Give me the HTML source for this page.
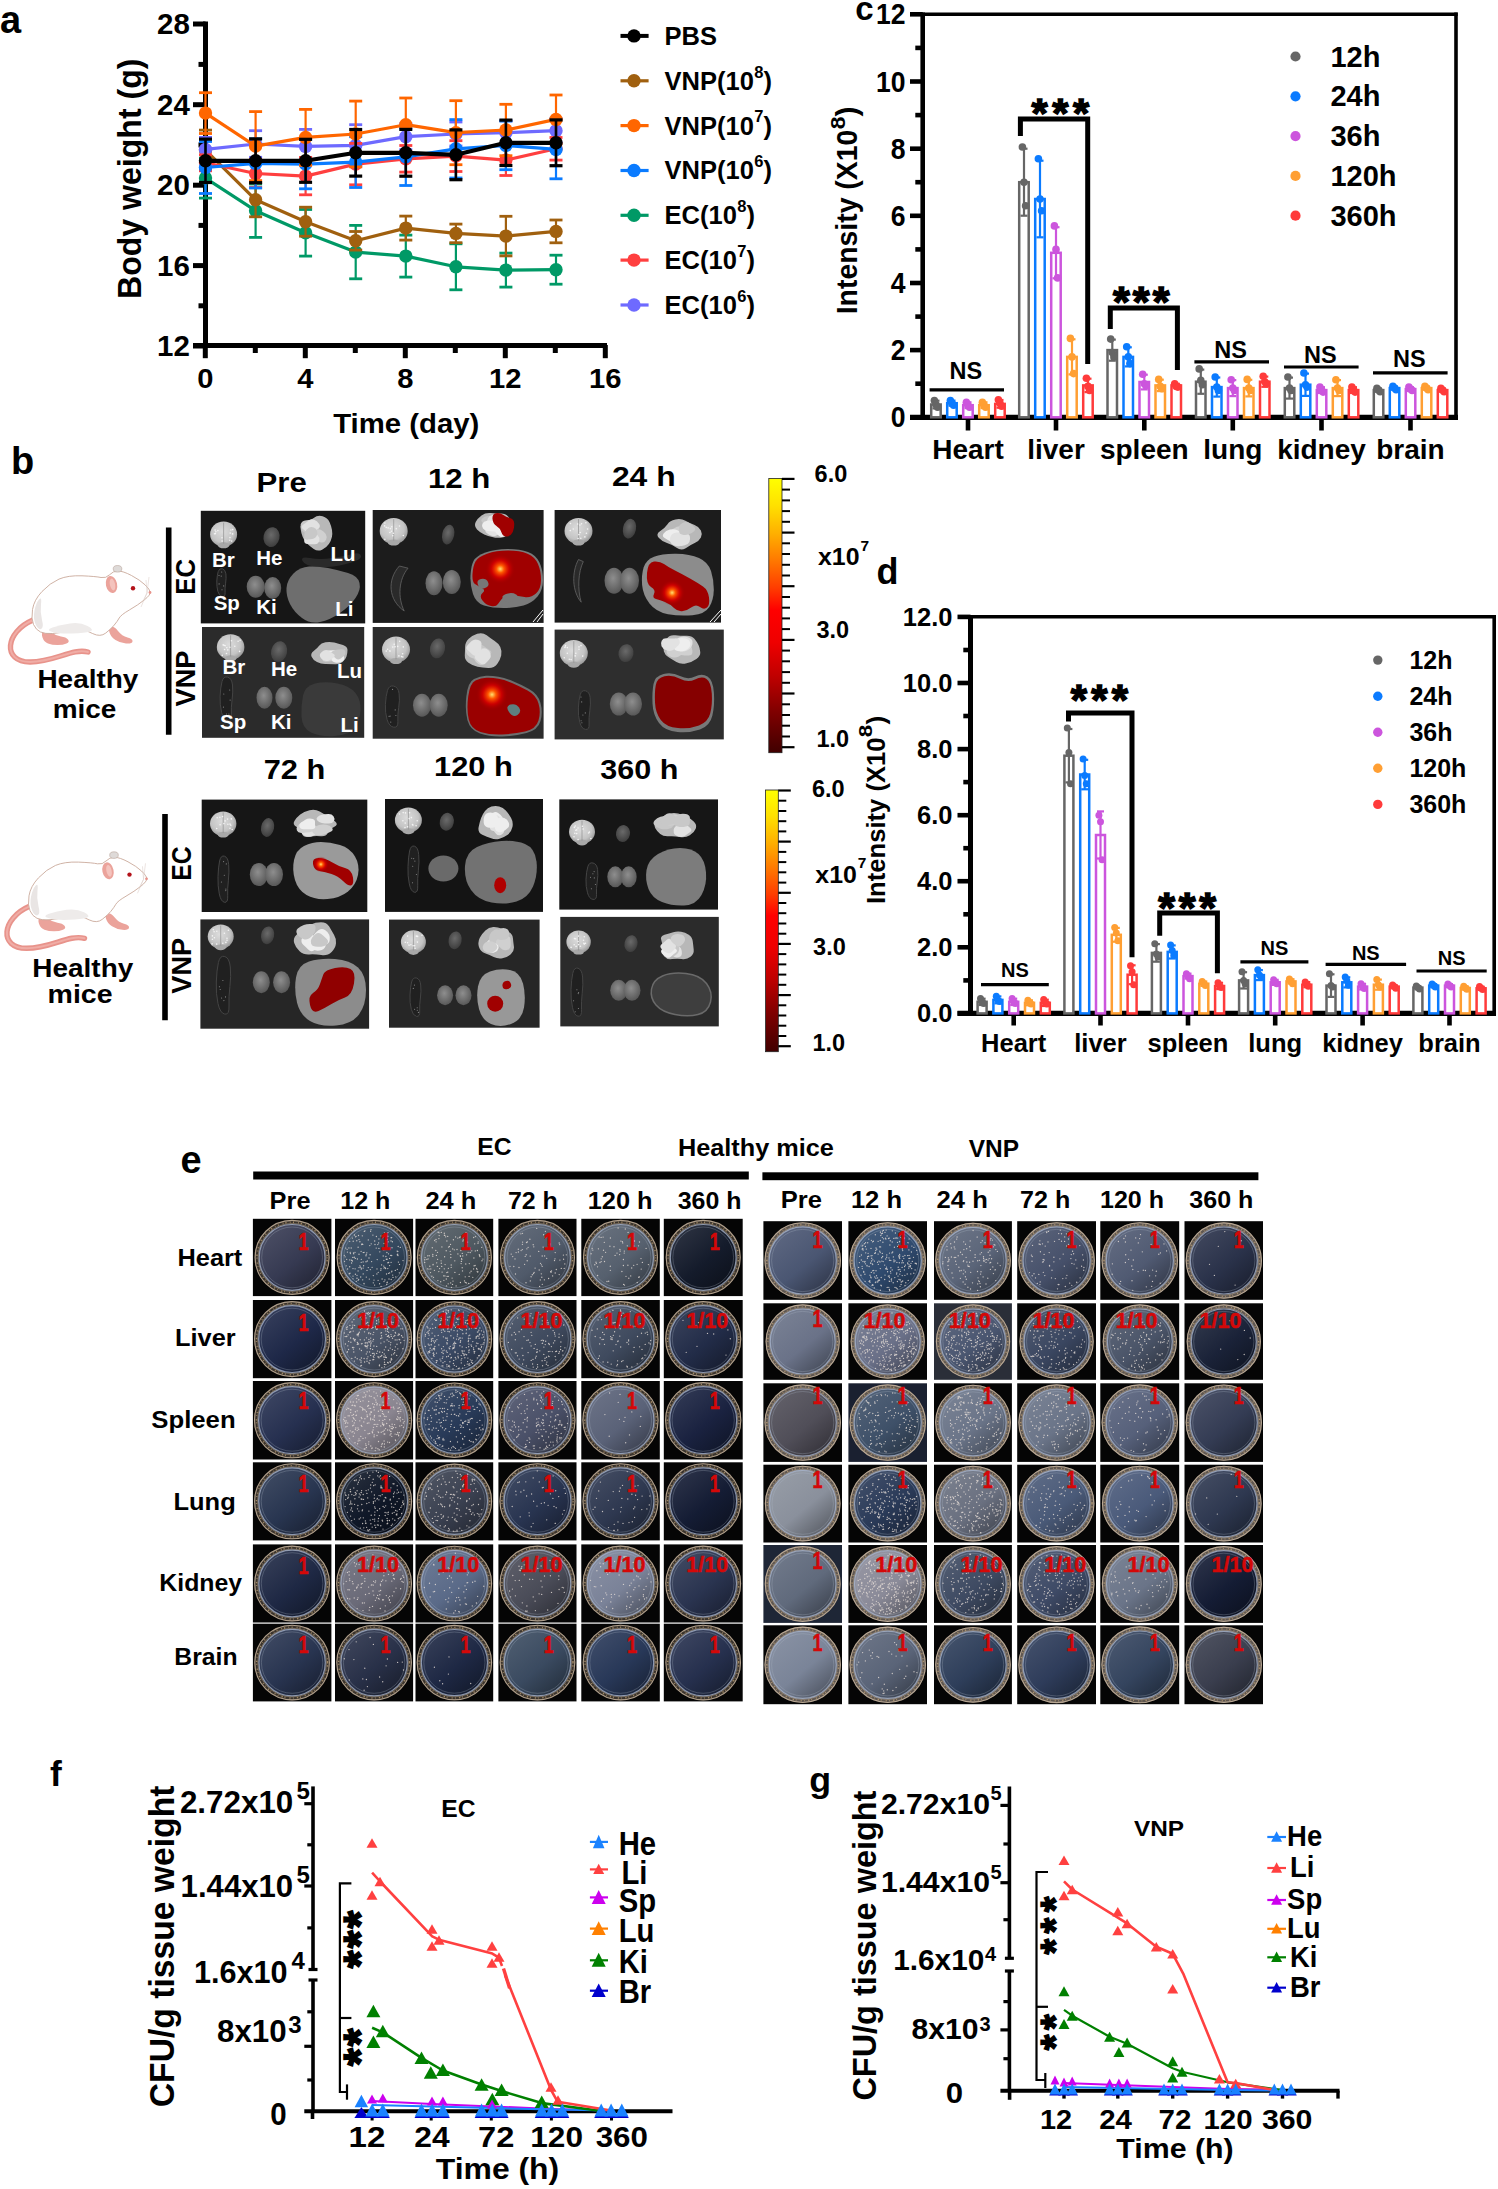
<!DOCTYPE html>
<html><head><meta charset="utf-8"><title>Figure</title>
<style>
html,body{margin:0;padding:0;background:#fff;}
svg{display:block;}
text{font-family:"Liberation Sans",sans-serif;font-weight:bold;}
</style></head><body>
<svg width="1498" height="2189" viewBox="0 0 1498 2189">
<defs>
<linearGradient id="cbar" x1="0" y1="0" x2="0" y2="1">
<stop offset="0" stop-color="#FFFF00"/><stop offset="0.1" stop-color="#FFE000"/><stop offset="0.2" stop-color="#FFB000"/>
<stop offset="0.3" stop-color="#FF7800"/><stop offset="0.4" stop-color="#FF3C00"/><stop offset="0.48" stop-color="#FF0000"/>
<stop offset="0.6" stop-color="#EE0000"/><stop offset="0.72" stop-color="#C00000"/><stop offset="0.85" stop-color="#800000"/><stop offset="1" stop-color="#400000"/>
</linearGradient>
<radialGradient id="hot"><stop offset="0" stop-color="#FFE070"/><stop offset="0.25" stop-color="#FF5A00"/><stop offset="0.6" stop-color="#E00000" stop-opacity="0.7"/><stop offset="1" stop-color="#A00000" stop-opacity="0"/></radialGradient>
<radialGradient id="gbrain" cx="0.45" cy="0.4" r="0.6"><stop offset="0" stop-color="#DCDCDC"/><stop offset="0.7" stop-color="#C4C4C4"/><stop offset="1" stop-color="#9A9A9A"/></radialGradient>
<radialGradient id="gkid" cx="0.45" cy="0.4" r="0.6"><stop offset="0" stop-color="#8E8E8E"/><stop offset="1" stop-color="#585858"/></radialGradient>
<radialGradient id="gheart" cx="0.45" cy="0.4" r="0.6"><stop offset="0" stop-color="#6A6A6A"/><stop offset="1" stop-color="#3E3E3E"/></radialGradient>
</defs>
<rect width="1498" height="2189" fill="#fff"/>
<text x="0.0" y="33.3" font-size="38" fill="#000">a</text>
<line x1="205.5" y1="21.5" x2="205.5" y2="348.0" stroke="#000" stroke-width="5" stroke-linecap="butt"/>
<line x1="193.0" y1="24.0" x2="205.5" y2="24.0" stroke="#000" stroke-width="5" stroke-linecap="butt"/>
<text x="189.8" y="34.2" font-size="29.5" fill="#000" text-anchor="end">28</text>
<line x1="193.0" y1="104.7" x2="205.5" y2="104.7" stroke="#000" stroke-width="5" stroke-linecap="butt"/>
<text x="189.8" y="114.9" font-size="29.5" fill="#000" text-anchor="end">24</text>
<line x1="193.0" y1="185.2" x2="205.5" y2="185.2" stroke="#000" stroke-width="5" stroke-linecap="butt"/>
<text x="189.8" y="195.4" font-size="29.5" fill="#000" text-anchor="end">20</text>
<line x1="193.0" y1="265.6" x2="205.5" y2="265.6" stroke="#000" stroke-width="5" stroke-linecap="butt"/>
<text x="189.8" y="275.8" font-size="29.5" fill="#000" text-anchor="end">16</text>
<line x1="193.0" y1="346.0" x2="205.5" y2="346.0" stroke="#000" stroke-width="5" stroke-linecap="butt"/>
<text x="189.8" y="356.2" font-size="29.5" fill="#000" text-anchor="end">12</text>
<line x1="198.5" y1="64.4" x2="205.5" y2="64.4" stroke="#000" stroke-width="5" stroke-linecap="butt"/>
<line x1="198.5" y1="144.9" x2="205.5" y2="144.9" stroke="#000" stroke-width="5" stroke-linecap="butt"/>
<line x1="198.5" y1="225.4" x2="205.5" y2="225.4" stroke="#000" stroke-width="5" stroke-linecap="butt"/>
<line x1="198.5" y1="305.8" x2="205.5" y2="305.8" stroke="#000" stroke-width="5" stroke-linecap="butt"/>
<line x1="193.0" y1="345.6" x2="607.0" y2="345.6" stroke="#000" stroke-width="5" stroke-linecap="butt"/>
<line x1="205.3" y1="345.0" x2="205.3" y2="358.2" stroke="#000" stroke-width="5" stroke-linecap="butt"/>
<text x="205.3" y="388.3" font-size="26.8" fill="#000" text-anchor="middle" textLength="16.2" lengthAdjust="spacingAndGlyphs">0</text>
<line x1="305.3" y1="345.0" x2="305.3" y2="358.2" stroke="#000" stroke-width="5" stroke-linecap="butt"/>
<text x="305.3" y="388.3" font-size="26.8" fill="#000" text-anchor="middle" textLength="16.2" lengthAdjust="spacingAndGlyphs">4</text>
<line x1="405.3" y1="345.0" x2="405.3" y2="358.2" stroke="#000" stroke-width="5" stroke-linecap="butt"/>
<text x="405.3" y="388.3" font-size="26.8" fill="#000" text-anchor="middle" textLength="16.2" lengthAdjust="spacingAndGlyphs">8</text>
<line x1="505.3" y1="345.0" x2="505.3" y2="358.2" stroke="#000" stroke-width="5" stroke-linecap="butt"/>
<text x="505.3" y="388.3" font-size="26.8" fill="#000" text-anchor="middle" textLength="32.5" lengthAdjust="spacingAndGlyphs">12</text>
<line x1="605.3" y1="345.0" x2="605.3" y2="358.2" stroke="#000" stroke-width="5" stroke-linecap="butt"/>
<text x="605.3" y="388.3" font-size="26.8" fill="#000" text-anchor="middle" textLength="32.5" lengthAdjust="spacingAndGlyphs">16</text>
<line x1="255.3" y1="345.0" x2="255.3" y2="353.0" stroke="#000" stroke-width="5" stroke-linecap="butt"/>
<line x1="355.3" y1="345.0" x2="355.3" y2="353.0" stroke="#000" stroke-width="5" stroke-linecap="butt"/>
<line x1="455.3" y1="345.0" x2="455.3" y2="353.0" stroke="#000" stroke-width="5" stroke-linecap="butt"/>
<line x1="555.3" y1="345.0" x2="555.3" y2="353.0" stroke="#000" stroke-width="5" stroke-linecap="butt"/>
<text x="333.2" y="433.0" font-size="28.3" fill="#000" textLength="146.1" lengthAdjust="spacingAndGlyphs">Time (day)</text>
<text transform="translate(141.0,299.0) rotate(-90)" x="0" y="0" font-size="34" fill="#000" textLength="240.5" lengthAdjust="spacingAndGlyphs">Body weight (g)</text>
<line x1="205.5" y1="158.1" x2="205.5" y2="198.1" stroke="#009966" stroke-width="2.2" stroke-linecap="butt"/>
<line x1="199.0" y1="158.1" x2="212.0" y2="158.1" stroke="#009966" stroke-width="2.8000000000000003" stroke-linecap="butt"/>
<line x1="199.0" y1="198.1" x2="212.0" y2="198.1" stroke="#009966" stroke-width="2.8000000000000003" stroke-linecap="butt"/>
<line x1="255.6" y1="184.0" x2="255.6" y2="237.4" stroke="#009966" stroke-width="2.2" stroke-linecap="butt"/>
<line x1="249.1" y1="184.0" x2="262.1" y2="184.0" stroke="#009966" stroke-width="2.8000000000000003" stroke-linecap="butt"/>
<line x1="249.1" y1="237.4" x2="262.1" y2="237.4" stroke="#009966" stroke-width="2.8000000000000003" stroke-linecap="butt"/>
<line x1="305.6" y1="209.5" x2="305.6" y2="256.1" stroke="#009966" stroke-width="2.2" stroke-linecap="butt"/>
<line x1="299.1" y1="209.5" x2="312.1" y2="209.5" stroke="#009966" stroke-width="2.8000000000000003" stroke-linecap="butt"/>
<line x1="299.1" y1="256.1" x2="312.1" y2="256.1" stroke="#009966" stroke-width="2.8000000000000003" stroke-linecap="butt"/>
<line x1="355.7" y1="225.4" x2="355.7" y2="278.8" stroke="#009966" stroke-width="2.2" stroke-linecap="butt"/>
<line x1="349.2" y1="225.4" x2="362.2" y2="225.4" stroke="#009966" stroke-width="2.8000000000000003" stroke-linecap="butt"/>
<line x1="349.2" y1="278.8" x2="362.2" y2="278.8" stroke="#009966" stroke-width="2.8000000000000003" stroke-linecap="butt"/>
<line x1="405.8" y1="235.1" x2="405.8" y2="277.1" stroke="#009966" stroke-width="2.2" stroke-linecap="butt"/>
<line x1="399.3" y1="235.1" x2="412.3" y2="235.1" stroke="#009966" stroke-width="2.8000000000000003" stroke-linecap="butt"/>
<line x1="399.3" y1="277.1" x2="412.3" y2="277.1" stroke="#009966" stroke-width="2.8000000000000003" stroke-linecap="butt"/>
<line x1="455.9" y1="243.8" x2="455.9" y2="289.8" stroke="#009966" stroke-width="2.2" stroke-linecap="butt"/>
<line x1="449.4" y1="243.8" x2="462.4" y2="243.8" stroke="#009966" stroke-width="2.8000000000000003" stroke-linecap="butt"/>
<line x1="449.4" y1="289.8" x2="462.4" y2="289.8" stroke="#009966" stroke-width="2.8000000000000003" stroke-linecap="butt"/>
<line x1="505.9" y1="253.1" x2="505.9" y2="287.1" stroke="#009966" stroke-width="2.2" stroke-linecap="butt"/>
<line x1="499.4" y1="253.1" x2="512.4" y2="253.1" stroke="#009966" stroke-width="2.8000000000000003" stroke-linecap="butt"/>
<line x1="499.4" y1="287.1" x2="512.4" y2="287.1" stroke="#009966" stroke-width="2.8000000000000003" stroke-linecap="butt"/>
<line x1="556.0" y1="255.2" x2="556.0" y2="284.2" stroke="#009966" stroke-width="2.2" stroke-linecap="butt"/>
<line x1="549.5" y1="255.2" x2="562.5" y2="255.2" stroke="#009966" stroke-width="2.8000000000000003" stroke-linecap="butt"/>
<line x1="549.5" y1="284.2" x2="562.5" y2="284.2" stroke="#009966" stroke-width="2.8000000000000003" stroke-linecap="butt"/>
<polyline points="205.5,178.1 255.6,210.7 305.6,232.8 355.7,252.1 405.8,256.1 455.9,266.8 505.9,270.1 556.0,269.7" fill="none" stroke="#009966" stroke-width="3.2" stroke-linejoin="round"/>
<circle cx="205.5" cy="178.1" r="6.7" fill="#009966" stroke="none" stroke-width="0"/>
<circle cx="255.6" cy="210.7" r="6.7" fill="#009966" stroke="none" stroke-width="0"/>
<circle cx="305.6" cy="232.8" r="6.7" fill="#009966" stroke="none" stroke-width="0"/>
<circle cx="355.7" cy="252.1" r="6.7" fill="#009966" stroke="none" stroke-width="0"/>
<circle cx="405.8" cy="256.1" r="6.7" fill="#009966" stroke="none" stroke-width="0"/>
<circle cx="455.9" cy="266.8" r="6.7" fill="#009966" stroke="none" stroke-width="0"/>
<circle cx="505.9" cy="270.1" r="6.7" fill="#009966" stroke="none" stroke-width="0"/>
<circle cx="556.0" cy="269.7" r="6.7" fill="#009966" stroke="none" stroke-width="0"/>
<line x1="205.5" y1="130.1" x2="205.5" y2="170.1" stroke="#A0600F" stroke-width="2.2" stroke-linecap="butt"/>
<line x1="199.0" y1="130.1" x2="212.0" y2="130.1" stroke="#A0600F" stroke-width="2.8000000000000003" stroke-linecap="butt"/>
<line x1="199.0" y1="170.1" x2="212.0" y2="170.1" stroke="#A0600F" stroke-width="2.8000000000000003" stroke-linecap="butt"/>
<line x1="255.6" y1="182.8" x2="255.6" y2="216.8" stroke="#A0600F" stroke-width="2.2" stroke-linecap="butt"/>
<line x1="249.1" y1="182.8" x2="262.1" y2="182.8" stroke="#A0600F" stroke-width="2.8000000000000003" stroke-linecap="butt"/>
<line x1="249.1" y1="216.8" x2="262.1" y2="216.8" stroke="#A0600F" stroke-width="2.8000000000000003" stroke-linecap="butt"/>
<line x1="305.6" y1="207.2" x2="305.6" y2="236.2" stroke="#A0600F" stroke-width="2.2" stroke-linecap="butt"/>
<line x1="299.1" y1="207.2" x2="312.1" y2="207.2" stroke="#A0600F" stroke-width="2.8000000000000003" stroke-linecap="butt"/>
<line x1="299.1" y1="236.2" x2="312.1" y2="236.2" stroke="#A0600F" stroke-width="2.8000000000000003" stroke-linecap="butt"/>
<line x1="355.7" y1="231.5" x2="355.7" y2="250.1" stroke="#A0600F" stroke-width="2.2" stroke-linecap="butt"/>
<line x1="349.2" y1="231.5" x2="362.2" y2="231.5" stroke="#A0600F" stroke-width="2.8000000000000003" stroke-linecap="butt"/>
<line x1="349.2" y1="250.1" x2="362.2" y2="250.1" stroke="#A0600F" stroke-width="2.8000000000000003" stroke-linecap="butt"/>
<line x1="405.8" y1="216.1" x2="405.8" y2="240.1" stroke="#A0600F" stroke-width="2.2" stroke-linecap="butt"/>
<line x1="399.3" y1="216.1" x2="412.3" y2="216.1" stroke="#A0600F" stroke-width="2.8000000000000003" stroke-linecap="butt"/>
<line x1="399.3" y1="240.1" x2="412.3" y2="240.1" stroke="#A0600F" stroke-width="2.8000000000000003" stroke-linecap="butt"/>
<line x1="455.9" y1="224.1" x2="455.9" y2="242.7" stroke="#A0600F" stroke-width="2.2" stroke-linecap="butt"/>
<line x1="449.4" y1="224.1" x2="462.4" y2="224.1" stroke="#A0600F" stroke-width="2.8000000000000003" stroke-linecap="butt"/>
<line x1="449.4" y1="242.7" x2="462.4" y2="242.7" stroke="#A0600F" stroke-width="2.8000000000000003" stroke-linecap="butt"/>
<line x1="505.9" y1="216.3" x2="505.9" y2="255.9" stroke="#A0600F" stroke-width="2.2" stroke-linecap="butt"/>
<line x1="499.4" y1="216.3" x2="512.4" y2="216.3" stroke="#A0600F" stroke-width="2.8000000000000003" stroke-linecap="butt"/>
<line x1="499.4" y1="255.9" x2="512.4" y2="255.9" stroke="#A0600F" stroke-width="2.8000000000000003" stroke-linecap="butt"/>
<line x1="556.0" y1="220.0" x2="556.0" y2="242.8" stroke="#A0600F" stroke-width="2.2" stroke-linecap="butt"/>
<line x1="549.5" y1="220.0" x2="562.5" y2="220.0" stroke="#A0600F" stroke-width="2.8000000000000003" stroke-linecap="butt"/>
<line x1="549.5" y1="242.8" x2="562.5" y2="242.8" stroke="#A0600F" stroke-width="2.8000000000000003" stroke-linecap="butt"/>
<polyline points="205.5,150.1 255.6,199.8 305.6,221.7 355.7,240.8 405.8,228.1 455.9,233.4 505.9,236.1 556.0,231.4" fill="none" stroke="#A0600F" stroke-width="3.2" stroke-linejoin="round"/>
<circle cx="205.5" cy="150.1" r="6.7" fill="#A0600F" stroke="none" stroke-width="0"/>
<circle cx="255.6" cy="199.8" r="6.7" fill="#A0600F" stroke="none" stroke-width="0"/>
<circle cx="305.6" cy="221.7" r="6.7" fill="#A0600F" stroke="none" stroke-width="0"/>
<circle cx="355.7" cy="240.8" r="6.7" fill="#A0600F" stroke="none" stroke-width="0"/>
<circle cx="405.8" cy="228.1" r="6.7" fill="#A0600F" stroke="none" stroke-width="0"/>
<circle cx="455.9" cy="233.4" r="6.7" fill="#A0600F" stroke="none" stroke-width="0"/>
<circle cx="505.9" cy="236.1" r="6.7" fill="#A0600F" stroke="none" stroke-width="0"/>
<circle cx="556.0" cy="231.4" r="6.7" fill="#A0600F" stroke="none" stroke-width="0"/>
<line x1="205.5" y1="137.4" x2="205.5" y2="161.4" stroke="#6E6AFF" stroke-width="2.2" stroke-linecap="butt"/>
<line x1="199.0" y1="137.4" x2="212.0" y2="137.4" stroke="#6E6AFF" stroke-width="2.8000000000000003" stroke-linecap="butt"/>
<line x1="199.0" y1="161.4" x2="212.0" y2="161.4" stroke="#6E6AFF" stroke-width="2.8000000000000003" stroke-linecap="butt"/>
<line x1="255.6" y1="130.7" x2="255.6" y2="157.3" stroke="#6E6AFF" stroke-width="2.2" stroke-linecap="butt"/>
<line x1="249.1" y1="130.7" x2="262.1" y2="130.7" stroke="#6E6AFF" stroke-width="2.8000000000000003" stroke-linecap="butt"/>
<line x1="249.1" y1="157.3" x2="262.1" y2="157.3" stroke="#6E6AFF" stroke-width="2.8000000000000003" stroke-linecap="butt"/>
<line x1="305.6" y1="129.4" x2="305.6" y2="163.4" stroke="#6E6AFF" stroke-width="2.2" stroke-linecap="butt"/>
<line x1="299.1" y1="129.4" x2="312.1" y2="129.4" stroke="#6E6AFF" stroke-width="2.8000000000000003" stroke-linecap="butt"/>
<line x1="299.1" y1="163.4" x2="312.1" y2="163.4" stroke="#6E6AFF" stroke-width="2.8000000000000003" stroke-linecap="butt"/>
<line x1="355.7" y1="124.7" x2="355.7" y2="166.1" stroke="#6E6AFF" stroke-width="2.2" stroke-linecap="butt"/>
<line x1="349.2" y1="124.7" x2="362.2" y2="124.7" stroke="#6E6AFF" stroke-width="2.8000000000000003" stroke-linecap="butt"/>
<line x1="349.2" y1="166.1" x2="362.2" y2="166.1" stroke="#6E6AFF" stroke-width="2.8000000000000003" stroke-linecap="butt"/>
<line x1="405.8" y1="123.7" x2="405.8" y2="149.7" stroke="#6E6AFF" stroke-width="2.2" stroke-linecap="butt"/>
<line x1="399.3" y1="123.7" x2="412.3" y2="123.7" stroke="#6E6AFF" stroke-width="2.8000000000000003" stroke-linecap="butt"/>
<line x1="399.3" y1="149.7" x2="412.3" y2="149.7" stroke="#6E6AFF" stroke-width="2.8000000000000003" stroke-linecap="butt"/>
<line x1="455.9" y1="122.0" x2="455.9" y2="146.0" stroke="#6E6AFF" stroke-width="2.2" stroke-linecap="butt"/>
<line x1="449.4" y1="122.0" x2="462.4" y2="122.0" stroke="#6E6AFF" stroke-width="2.8000000000000003" stroke-linecap="butt"/>
<line x1="449.4" y1="146.0" x2="462.4" y2="146.0" stroke="#6E6AFF" stroke-width="2.8000000000000003" stroke-linecap="butt"/>
<line x1="505.9" y1="120.7" x2="505.9" y2="144.7" stroke="#6E6AFF" stroke-width="2.2" stroke-linecap="butt"/>
<line x1="499.4" y1="120.7" x2="512.4" y2="120.7" stroke="#6E6AFF" stroke-width="2.8000000000000003" stroke-linecap="butt"/>
<line x1="499.4" y1="144.7" x2="512.4" y2="144.7" stroke="#6E6AFF" stroke-width="2.8000000000000003" stroke-linecap="butt"/>
<line x1="556.0" y1="118.7" x2="556.0" y2="142.7" stroke="#6E6AFF" stroke-width="2.2" stroke-linecap="butt"/>
<line x1="549.5" y1="118.7" x2="562.5" y2="118.7" stroke="#6E6AFF" stroke-width="2.8000000000000003" stroke-linecap="butt"/>
<line x1="549.5" y1="142.7" x2="562.5" y2="142.7" stroke="#6E6AFF" stroke-width="2.8000000000000003" stroke-linecap="butt"/>
<polyline points="205.5,149.4 255.6,144.0 305.6,146.4 355.7,145.4 405.8,136.7 455.9,134.0 505.9,132.7 556.0,130.7" fill="none" stroke="#6E6AFF" stroke-width="3.2" stroke-linejoin="round"/>
<circle cx="205.5" cy="149.4" r="6.7" fill="#6E6AFF" stroke="none" stroke-width="0"/>
<circle cx="255.6" cy="144.0" r="6.7" fill="#6E6AFF" stroke="none" stroke-width="0"/>
<circle cx="305.6" cy="146.4" r="6.7" fill="#6E6AFF" stroke="none" stroke-width="0"/>
<circle cx="355.7" cy="145.4" r="6.7" fill="#6E6AFF" stroke="none" stroke-width="0"/>
<circle cx="405.8" cy="136.7" r="6.7" fill="#6E6AFF" stroke="none" stroke-width="0"/>
<circle cx="455.9" cy="134.0" r="6.7" fill="#6E6AFF" stroke="none" stroke-width="0"/>
<circle cx="505.9" cy="132.7" r="6.7" fill="#6E6AFF" stroke="none" stroke-width="0"/>
<circle cx="556.0" cy="130.7" r="6.7" fill="#6E6AFF" stroke="none" stroke-width="0"/>
<line x1="205.5" y1="154.8" x2="205.5" y2="170.8" stroke="#FF3F3F" stroke-width="2.2" stroke-linecap="butt"/>
<line x1="199.0" y1="154.8" x2="212.0" y2="154.8" stroke="#FF3F3F" stroke-width="2.8000000000000003" stroke-linecap="butt"/>
<line x1="199.0" y1="170.8" x2="212.0" y2="170.8" stroke="#FF3F3F" stroke-width="2.8000000000000003" stroke-linecap="butt"/>
<line x1="255.6" y1="159.5" x2="255.6" y2="187.5" stroke="#FF3F3F" stroke-width="2.2" stroke-linecap="butt"/>
<line x1="249.1" y1="159.5" x2="262.1" y2="159.5" stroke="#FF3F3F" stroke-width="2.8000000000000003" stroke-linecap="butt"/>
<line x1="249.1" y1="187.5" x2="262.1" y2="187.5" stroke="#FF3F3F" stroke-width="2.8000000000000003" stroke-linecap="butt"/>
<line x1="305.6" y1="157.4" x2="305.6" y2="194.8" stroke="#FF3F3F" stroke-width="2.2" stroke-linecap="butt"/>
<line x1="299.1" y1="157.4" x2="312.1" y2="157.4" stroke="#FF3F3F" stroke-width="2.8000000000000003" stroke-linecap="butt"/>
<line x1="299.1" y1="194.8" x2="312.1" y2="194.8" stroke="#FF3F3F" stroke-width="2.8000000000000003" stroke-linecap="butt"/>
<line x1="355.7" y1="143.4" x2="355.7" y2="184.8" stroke="#FF3F3F" stroke-width="2.2" stroke-linecap="butt"/>
<line x1="349.2" y1="143.4" x2="362.2" y2="143.4" stroke="#FF3F3F" stroke-width="2.8000000000000003" stroke-linecap="butt"/>
<line x1="349.2" y1="184.8" x2="362.2" y2="184.8" stroke="#FF3F3F" stroke-width="2.8000000000000003" stroke-linecap="butt"/>
<line x1="405.8" y1="145.5" x2="405.8" y2="172.1" stroke="#FF3F3F" stroke-width="2.2" stroke-linecap="butt"/>
<line x1="399.3" y1="145.5" x2="412.3" y2="145.5" stroke="#FF3F3F" stroke-width="2.8000000000000003" stroke-linecap="butt"/>
<line x1="399.3" y1="172.1" x2="412.3" y2="172.1" stroke="#FF3F3F" stroke-width="2.8000000000000003" stroke-linecap="butt"/>
<line x1="455.9" y1="140.7" x2="455.9" y2="171.5" stroke="#FF3F3F" stroke-width="2.2" stroke-linecap="butt"/>
<line x1="449.4" y1="140.7" x2="462.4" y2="140.7" stroke="#FF3F3F" stroke-width="2.8000000000000003" stroke-linecap="butt"/>
<line x1="449.4" y1="171.5" x2="462.4" y2="171.5" stroke="#FF3F3F" stroke-width="2.8000000000000003" stroke-linecap="butt"/>
<line x1="505.9" y1="144.7" x2="505.9" y2="175.5" stroke="#FF3F3F" stroke-width="2.2" stroke-linecap="butt"/>
<line x1="499.4" y1="144.7" x2="512.4" y2="144.7" stroke="#FF3F3F" stroke-width="2.8000000000000003" stroke-linecap="butt"/>
<line x1="499.4" y1="175.5" x2="512.4" y2="175.5" stroke="#FF3F3F" stroke-width="2.8000000000000003" stroke-linecap="butt"/>
<line x1="556.0" y1="137.5" x2="556.0" y2="160.1" stroke="#FF3F3F" stroke-width="2.2" stroke-linecap="butt"/>
<line x1="549.5" y1="137.5" x2="562.5" y2="137.5" stroke="#FF3F3F" stroke-width="2.8000000000000003" stroke-linecap="butt"/>
<line x1="549.5" y1="160.1" x2="562.5" y2="160.1" stroke="#FF3F3F" stroke-width="2.8000000000000003" stroke-linecap="butt"/>
<polyline points="205.5,162.8 255.6,173.5 305.6,176.1 355.7,164.1 405.8,158.8 455.9,156.1 505.9,160.1 556.0,148.8" fill="none" stroke="#FF3F3F" stroke-width="3.2" stroke-linejoin="round"/>
<circle cx="205.5" cy="162.8" r="6.7" fill="#FF3F3F" stroke="none" stroke-width="0"/>
<circle cx="255.6" cy="173.5" r="6.7" fill="#FF3F3F" stroke="none" stroke-width="0"/>
<circle cx="305.6" cy="176.1" r="6.7" fill="#FF3F3F" stroke="none" stroke-width="0"/>
<circle cx="355.7" cy="164.1" r="6.7" fill="#FF3F3F" stroke="none" stroke-width="0"/>
<circle cx="405.8" cy="158.8" r="6.7" fill="#FF3F3F" stroke="none" stroke-width="0"/>
<circle cx="455.9" cy="156.1" r="6.7" fill="#FF3F3F" stroke="none" stroke-width="0"/>
<circle cx="505.9" cy="160.1" r="6.7" fill="#FF3F3F" stroke="none" stroke-width="0"/>
<circle cx="556.0" cy="148.8" r="6.7" fill="#FF3F3F" stroke="none" stroke-width="0"/>
<line x1="205.5" y1="141.5" x2="205.5" y2="193.5" stroke="#0A7BFF" stroke-width="2.2" stroke-linecap="butt"/>
<line x1="199.0" y1="141.5" x2="212.0" y2="141.5" stroke="#0A7BFF" stroke-width="2.8000000000000003" stroke-linecap="butt"/>
<line x1="199.0" y1="193.5" x2="212.0" y2="193.5" stroke="#0A7BFF" stroke-width="2.8000000000000003" stroke-linecap="butt"/>
<line x1="255.6" y1="138.8" x2="255.6" y2="188.0" stroke="#0A7BFF" stroke-width="2.2" stroke-linecap="butt"/>
<line x1="249.1" y1="138.8" x2="262.1" y2="138.8" stroke="#0A7BFF" stroke-width="2.8000000000000003" stroke-linecap="butt"/>
<line x1="249.1" y1="188.0" x2="262.1" y2="188.0" stroke="#0A7BFF" stroke-width="2.8000000000000003" stroke-linecap="butt"/>
<line x1="305.6" y1="139.4" x2="305.6" y2="188.8" stroke="#0A7BFF" stroke-width="2.2" stroke-linecap="butt"/>
<line x1="299.1" y1="139.4" x2="312.1" y2="139.4" stroke="#0A7BFF" stroke-width="2.8000000000000003" stroke-linecap="butt"/>
<line x1="299.1" y1="188.8" x2="312.1" y2="188.8" stroke="#0A7BFF" stroke-width="2.8000000000000003" stroke-linecap="butt"/>
<line x1="355.7" y1="136.7" x2="355.7" y2="187.5" stroke="#0A7BFF" stroke-width="2.2" stroke-linecap="butt"/>
<line x1="349.2" y1="136.7" x2="362.2" y2="136.7" stroke="#0A7BFF" stroke-width="2.8000000000000003" stroke-linecap="butt"/>
<line x1="349.2" y1="187.5" x2="362.2" y2="187.5" stroke="#0A7BFF" stroke-width="2.8000000000000003" stroke-linecap="butt"/>
<line x1="405.8" y1="128.1" x2="405.8" y2="185.5" stroke="#0A7BFF" stroke-width="2.2" stroke-linecap="butt"/>
<line x1="399.3" y1="128.1" x2="412.3" y2="128.1" stroke="#0A7BFF" stroke-width="2.8000000000000003" stroke-linecap="butt"/>
<line x1="399.3" y1="185.5" x2="412.3" y2="185.5" stroke="#0A7BFF" stroke-width="2.8000000000000003" stroke-linecap="butt"/>
<line x1="455.9" y1="119.6" x2="455.9" y2="178.0" stroke="#0A7BFF" stroke-width="2.2" stroke-linecap="butt"/>
<line x1="449.4" y1="119.6" x2="462.4" y2="119.6" stroke="#0A7BFF" stroke-width="2.8000000000000003" stroke-linecap="butt"/>
<line x1="449.4" y1="178.0" x2="462.4" y2="178.0" stroke="#0A7BFF" stroke-width="2.8000000000000003" stroke-linecap="butt"/>
<line x1="505.9" y1="121.1" x2="505.9" y2="169.7" stroke="#0A7BFF" stroke-width="2.2" stroke-linecap="butt"/>
<line x1="499.4" y1="121.1" x2="512.4" y2="121.1" stroke="#0A7BFF" stroke-width="2.8000000000000003" stroke-linecap="butt"/>
<line x1="499.4" y1="169.7" x2="512.4" y2="169.7" stroke="#0A7BFF" stroke-width="2.8000000000000003" stroke-linecap="butt"/>
<line x1="556.0" y1="120.0" x2="556.0" y2="178.8" stroke="#0A7BFF" stroke-width="2.2" stroke-linecap="butt"/>
<line x1="549.5" y1="120.0" x2="562.5" y2="120.0" stroke="#0A7BFF" stroke-width="2.8000000000000003" stroke-linecap="butt"/>
<line x1="549.5" y1="178.8" x2="562.5" y2="178.8" stroke="#0A7BFF" stroke-width="2.8000000000000003" stroke-linecap="butt"/>
<polyline points="205.5,167.5 255.6,163.4 305.6,164.1 355.7,162.1 405.8,156.8 455.9,148.8 505.9,145.4 556.0,149.4" fill="none" stroke="#0A7BFF" stroke-width="3.2" stroke-linejoin="round"/>
<circle cx="205.5" cy="167.5" r="6.7" fill="#0A7BFF" stroke="none" stroke-width="0"/>
<circle cx="255.6" cy="163.4" r="6.7" fill="#0A7BFF" stroke="none" stroke-width="0"/>
<circle cx="305.6" cy="164.1" r="6.7" fill="#0A7BFF" stroke="none" stroke-width="0"/>
<circle cx="355.7" cy="162.1" r="6.7" fill="#0A7BFF" stroke="none" stroke-width="0"/>
<circle cx="405.8" cy="156.8" r="6.7" fill="#0A7BFF" stroke="none" stroke-width="0"/>
<circle cx="455.9" cy="148.8" r="6.7" fill="#0A7BFF" stroke="none" stroke-width="0"/>
<circle cx="505.9" cy="145.4" r="6.7" fill="#0A7BFF" stroke="none" stroke-width="0"/>
<circle cx="556.0" cy="149.4" r="6.7" fill="#0A7BFF" stroke="none" stroke-width="0"/>
<line x1="205.5" y1="92.7" x2="205.5" y2="133.5" stroke="#FF6600" stroke-width="2.2" stroke-linecap="butt"/>
<line x1="199.0" y1="92.7" x2="212.0" y2="92.7" stroke="#FF6600" stroke-width="2.8000000000000003" stroke-linecap="butt"/>
<line x1="199.0" y1="133.5" x2="212.0" y2="133.5" stroke="#FF6600" stroke-width="2.8000000000000003" stroke-linecap="butt"/>
<line x1="255.6" y1="111.6" x2="255.6" y2="180.6" stroke="#FF6600" stroke-width="2.2" stroke-linecap="butt"/>
<line x1="249.1" y1="111.6" x2="262.1" y2="111.6" stroke="#FF6600" stroke-width="2.8000000000000003" stroke-linecap="butt"/>
<line x1="249.1" y1="180.6" x2="262.1" y2="180.6" stroke="#FF6600" stroke-width="2.8000000000000003" stroke-linecap="butt"/>
<line x1="305.6" y1="109.4" x2="305.6" y2="165.4" stroke="#FF6600" stroke-width="2.2" stroke-linecap="butt"/>
<line x1="299.1" y1="109.4" x2="312.1" y2="109.4" stroke="#FF6600" stroke-width="2.8000000000000003" stroke-linecap="butt"/>
<line x1="299.1" y1="165.4" x2="312.1" y2="165.4" stroke="#FF6600" stroke-width="2.8000000000000003" stroke-linecap="butt"/>
<line x1="355.7" y1="101.1" x2="355.7" y2="166.9" stroke="#FF6600" stroke-width="2.2" stroke-linecap="butt"/>
<line x1="349.2" y1="101.1" x2="362.2" y2="101.1" stroke="#FF6600" stroke-width="2.8000000000000003" stroke-linecap="butt"/>
<line x1="349.2" y1="166.9" x2="362.2" y2="166.9" stroke="#FF6600" stroke-width="2.8000000000000003" stroke-linecap="butt"/>
<line x1="405.8" y1="98.0" x2="405.8" y2="151.4" stroke="#FF6600" stroke-width="2.2" stroke-linecap="butt"/>
<line x1="399.3" y1="98.0" x2="412.3" y2="98.0" stroke="#FF6600" stroke-width="2.8000000000000003" stroke-linecap="butt"/>
<line x1="399.3" y1="151.4" x2="412.3" y2="151.4" stroke="#FF6600" stroke-width="2.8000000000000003" stroke-linecap="butt"/>
<line x1="455.9" y1="100.7" x2="455.9" y2="164.7" stroke="#FF6600" stroke-width="2.2" stroke-linecap="butt"/>
<line x1="449.4" y1="100.7" x2="462.4" y2="100.7" stroke="#FF6600" stroke-width="2.8000000000000003" stroke-linecap="butt"/>
<line x1="449.4" y1="164.7" x2="462.4" y2="164.7" stroke="#FF6600" stroke-width="2.8000000000000003" stroke-linecap="butt"/>
<line x1="505.9" y1="104.3" x2="505.9" y2="155.7" stroke="#FF6600" stroke-width="2.2" stroke-linecap="butt"/>
<line x1="499.4" y1="104.3" x2="512.4" y2="104.3" stroke="#FF6600" stroke-width="2.8000000000000003" stroke-linecap="butt"/>
<line x1="499.4" y1="155.7" x2="512.4" y2="155.7" stroke="#FF6600" stroke-width="2.8000000000000003" stroke-linecap="butt"/>
<line x1="556.0" y1="95.0" x2="556.0" y2="143.8" stroke="#FF6600" stroke-width="2.2" stroke-linecap="butt"/>
<line x1="549.5" y1="95.0" x2="562.5" y2="95.0" stroke="#FF6600" stroke-width="2.8000000000000003" stroke-linecap="butt"/>
<line x1="549.5" y1="143.8" x2="562.5" y2="143.8" stroke="#FF6600" stroke-width="2.8000000000000003" stroke-linecap="butt"/>
<polyline points="205.5,113.1 255.6,146.1 305.6,137.4 355.7,134.0 405.8,124.7 455.9,132.7 505.9,130.0 556.0,119.4" fill="none" stroke="#FF6600" stroke-width="3.2" stroke-linejoin="round"/>
<circle cx="205.5" cy="113.1" r="6.7" fill="#FF6600" stroke="none" stroke-width="0"/>
<circle cx="255.6" cy="146.1" r="6.7" fill="#FF6600" stroke="none" stroke-width="0"/>
<circle cx="305.6" cy="137.4" r="6.7" fill="#FF6600" stroke="none" stroke-width="0"/>
<circle cx="355.7" cy="134.0" r="6.7" fill="#FF6600" stroke="none" stroke-width="0"/>
<circle cx="405.8" cy="124.7" r="6.7" fill="#FF6600" stroke="none" stroke-width="0"/>
<circle cx="455.9" cy="132.7" r="6.7" fill="#FF6600" stroke="none" stroke-width="0"/>
<circle cx="505.9" cy="130.0" r="6.7" fill="#FF6600" stroke="none" stroke-width="0"/>
<circle cx="556.0" cy="119.4" r="6.7" fill="#FF6600" stroke="none" stroke-width="0"/>
<line x1="205.5" y1="139.1" x2="205.5" y2="182.5" stroke="#000000" stroke-width="2.6" stroke-linecap="butt"/>
<line x1="199.0" y1="139.1" x2="212.0" y2="139.1" stroke="#000000" stroke-width="3.2" stroke-linecap="butt"/>
<line x1="199.0" y1="182.5" x2="212.0" y2="182.5" stroke="#000000" stroke-width="3.2" stroke-linecap="butt"/>
<line x1="255.6" y1="138.9" x2="255.6" y2="182.7" stroke="#000000" stroke-width="2.6" stroke-linecap="butt"/>
<line x1="249.1" y1="138.9" x2="262.1" y2="138.9" stroke="#000000" stroke-width="3.2" stroke-linecap="butt"/>
<line x1="249.1" y1="182.7" x2="262.1" y2="182.7" stroke="#000000" stroke-width="3.2" stroke-linecap="butt"/>
<line x1="305.6" y1="139.3" x2="305.6" y2="182.3" stroke="#000000" stroke-width="2.6" stroke-linecap="butt"/>
<line x1="299.1" y1="139.3" x2="312.1" y2="139.3" stroke="#000000" stroke-width="3.2" stroke-linecap="butt"/>
<line x1="299.1" y1="182.3" x2="312.1" y2="182.3" stroke="#000000" stroke-width="3.2" stroke-linecap="butt"/>
<line x1="355.7" y1="129.5" x2="355.7" y2="176.1" stroke="#000000" stroke-width="2.6" stroke-linecap="butt"/>
<line x1="349.2" y1="129.5" x2="362.2" y2="129.5" stroke="#000000" stroke-width="3.2" stroke-linecap="butt"/>
<line x1="349.2" y1="176.1" x2="362.2" y2="176.1" stroke="#000000" stroke-width="3.2" stroke-linecap="butt"/>
<line x1="405.8" y1="129.4" x2="405.8" y2="176.2" stroke="#000000" stroke-width="2.6" stroke-linecap="butt"/>
<line x1="399.3" y1="129.4" x2="412.3" y2="129.4" stroke="#000000" stroke-width="3.2" stroke-linecap="butt"/>
<line x1="399.3" y1="176.2" x2="412.3" y2="176.2" stroke="#000000" stroke-width="3.2" stroke-linecap="butt"/>
<line x1="455.9" y1="129.9" x2="455.9" y2="179.7" stroke="#000000" stroke-width="2.6" stroke-linecap="butt"/>
<line x1="449.4" y1="129.9" x2="462.4" y2="129.9" stroke="#000000" stroke-width="3.2" stroke-linecap="butt"/>
<line x1="449.4" y1="179.7" x2="462.4" y2="179.7" stroke="#000000" stroke-width="3.2" stroke-linecap="butt"/>
<line x1="505.9" y1="120.1" x2="505.9" y2="165.5" stroke="#000000" stroke-width="2.6" stroke-linecap="butt"/>
<line x1="499.4" y1="120.1" x2="512.4" y2="120.1" stroke="#000000" stroke-width="3.2" stroke-linecap="butt"/>
<line x1="499.4" y1="165.5" x2="512.4" y2="165.5" stroke="#000000" stroke-width="3.2" stroke-linecap="butt"/>
<line x1="556.0" y1="119.9" x2="556.0" y2="165.7" stroke="#000000" stroke-width="2.6" stroke-linecap="butt"/>
<line x1="549.5" y1="119.9" x2="562.5" y2="119.9" stroke="#000000" stroke-width="3.2" stroke-linecap="butt"/>
<line x1="549.5" y1="165.7" x2="562.5" y2="165.7" stroke="#000000" stroke-width="3.2" stroke-linecap="butt"/>
<polyline points="205.5,160.8 255.6,160.8 305.6,160.8 355.7,152.8 405.8,152.8 455.9,154.8 505.9,142.8 556.0,142.8" fill="none" stroke="#000000" stroke-width="4.2" stroke-linejoin="round"/>
<circle cx="205.5" cy="160.8" r="6.7" fill="#000000" stroke="none" stroke-width="0"/>
<circle cx="255.6" cy="160.8" r="6.7" fill="#000000" stroke="none" stroke-width="0"/>
<circle cx="305.6" cy="160.8" r="6.7" fill="#000000" stroke="none" stroke-width="0"/>
<circle cx="355.7" cy="152.8" r="6.7" fill="#000000" stroke="none" stroke-width="0"/>
<circle cx="405.8" cy="152.8" r="6.7" fill="#000000" stroke="none" stroke-width="0"/>
<circle cx="455.9" cy="154.8" r="6.7" fill="#000000" stroke="none" stroke-width="0"/>
<circle cx="505.9" cy="142.8" r="6.7" fill="#000000" stroke="none" stroke-width="0"/>
<circle cx="556.0" cy="142.8" r="6.7" fill="#000000" stroke="none" stroke-width="0"/>
<line x1="620.5" y1="35.9" x2="648.6" y2="35.9" stroke="#000000" stroke-width="4" stroke-linecap="butt"/>
<circle cx="634.0" cy="35.9" r="6.7" fill="#000000" stroke="none" stroke-width="0"/>
<text x="664.6" y="44.8" font-size="25.5" fill="#000">PBS</text>
<line x1="620.5" y1="80.8" x2="648.6" y2="80.8" stroke="#A0600F" stroke-width="3.2" stroke-linecap="butt"/>
<circle cx="634.0" cy="80.8" r="6.7" fill="#A0600F" stroke="none" stroke-width="0"/>
<text x="664.6" y="89.7" font-size="25.5" fill="#000">VNP(10</text>
<text x="754.2" y="77.5" font-size="16.5" fill="#000">8</text>
<text x="763.5" y="89.7" font-size="25.5" fill="#000">)</text>
<line x1="620.5" y1="125.6" x2="648.6" y2="125.6" stroke="#FF6600" stroke-width="3.2" stroke-linecap="butt"/>
<circle cx="634.0" cy="125.6" r="6.7" fill="#FF6600" stroke="none" stroke-width="0"/>
<text x="664.6" y="134.5" font-size="25.5" fill="#000">VNP(10</text>
<text x="754.2" y="122.4" font-size="16.5" fill="#000">7</text>
<text x="763.5" y="134.5" font-size="25.5" fill="#000">)</text>
<line x1="620.5" y1="170.5" x2="648.6" y2="170.5" stroke="#0A7BFF" stroke-width="3.2" stroke-linecap="butt"/>
<circle cx="634.0" cy="170.5" r="6.7" fill="#0A7BFF" stroke="none" stroke-width="0"/>
<text x="664.6" y="179.4" font-size="25.5" fill="#000">VNP(10</text>
<text x="754.2" y="167.3" font-size="16.5" fill="#000">6</text>
<text x="763.5" y="179.4" font-size="25.5" fill="#000">)</text>
<line x1="620.5" y1="215.3" x2="648.6" y2="215.3" stroke="#009966" stroke-width="3.2" stroke-linecap="butt"/>
<circle cx="634.0" cy="215.3" r="6.7" fill="#009966" stroke="none" stroke-width="0"/>
<text x="664.6" y="224.2" font-size="25.5" fill="#000">EC(10</text>
<text x="737.2" y="212.1" font-size="16.5" fill="#000">8</text>
<text x="746.5" y="224.2" font-size="25.5" fill="#000">)</text>
<line x1="620.5" y1="260.1" x2="648.6" y2="260.1" stroke="#FF3F3F" stroke-width="3.2" stroke-linecap="butt"/>
<circle cx="634.0" cy="260.1" r="6.7" fill="#FF3F3F" stroke="none" stroke-width="0"/>
<text x="664.6" y="269.0" font-size="25.5" fill="#000">EC(10</text>
<text x="737.2" y="256.9" font-size="16.5" fill="#000">7</text>
<text x="746.5" y="269.0" font-size="25.5" fill="#000">)</text>
<line x1="620.5" y1="305.0" x2="648.6" y2="305.0" stroke="#6E6AFF" stroke-width="3.2" stroke-linecap="butt"/>
<circle cx="634.0" cy="305.0" r="6.7" fill="#6E6AFF" stroke="none" stroke-width="0"/>
<text x="664.6" y="313.9" font-size="25.5" fill="#000">EC(10</text>
<text x="737.2" y="301.8" font-size="16.5" fill="#000">6</text>
<text x="746.5" y="313.9" font-size="25.5" fill="#000">)</text>
<line x1="922.7" y1="12.6" x2="922.7" y2="419.5" stroke="#000" stroke-width="4.6" stroke-linecap="butt"/>
<line x1="920.5" y1="14.3" x2="1457.7" y2="14.3" stroke="#000" stroke-width="3.6" stroke-linecap="butt"/>
<line x1="1456.0" y1="12.5" x2="1456.0" y2="419.5" stroke="#000" stroke-width="3.6" stroke-linecap="butt"/>
<line x1="910.0" y1="417.3" x2="1458.0" y2="417.3" stroke="#000" stroke-width="5.2" stroke-linecap="butt"/>
<line x1="910.0" y1="417.3" x2="922.7" y2="417.3" stroke="#000" stroke-width="4.6" stroke-linecap="butt"/>
<text x="905.5" y="427.4" font-size="29.4" fill="#000" text-anchor="end" textLength="14.8" lengthAdjust="spacingAndGlyphs">0</text>
<line x1="915.3" y1="383.7" x2="922.7" y2="383.7" stroke="#000" stroke-width="4.6" stroke-linecap="butt"/>
<line x1="910.0" y1="350.1" x2="922.7" y2="350.1" stroke="#000" stroke-width="4.6" stroke-linecap="butt"/>
<text x="905.5" y="360.2" font-size="29.4" fill="#000" text-anchor="end" textLength="14.8" lengthAdjust="spacingAndGlyphs">2</text>
<line x1="915.3" y1="316.6" x2="922.7" y2="316.6" stroke="#000" stroke-width="4.6" stroke-linecap="butt"/>
<line x1="910.0" y1="283.0" x2="922.7" y2="283.0" stroke="#000" stroke-width="4.6" stroke-linecap="butt"/>
<text x="905.5" y="293.1" font-size="29.4" fill="#000" text-anchor="end" textLength="14.8" lengthAdjust="spacingAndGlyphs">4</text>
<line x1="915.3" y1="249.4" x2="922.7" y2="249.4" stroke="#000" stroke-width="4.6" stroke-linecap="butt"/>
<line x1="910.0" y1="215.8" x2="922.7" y2="215.8" stroke="#000" stroke-width="4.6" stroke-linecap="butt"/>
<text x="905.5" y="225.9" font-size="29.4" fill="#000" text-anchor="end" textLength="14.8" lengthAdjust="spacingAndGlyphs">6</text>
<line x1="915.3" y1="182.2" x2="922.7" y2="182.2" stroke="#000" stroke-width="4.6" stroke-linecap="butt"/>
<line x1="910.0" y1="148.7" x2="922.7" y2="148.7" stroke="#000" stroke-width="4.6" stroke-linecap="butt"/>
<text x="905.5" y="158.8" font-size="29.4" fill="#000" text-anchor="end" textLength="14.8" lengthAdjust="spacingAndGlyphs">8</text>
<line x1="915.3" y1="115.1" x2="922.7" y2="115.1" stroke="#000" stroke-width="4.6" stroke-linecap="butt"/>
<line x1="910.0" y1="81.5" x2="922.7" y2="81.5" stroke="#000" stroke-width="4.6" stroke-linecap="butt"/>
<text x="905.5" y="91.6" font-size="29.4" fill="#000" text-anchor="end" textLength="29.5" lengthAdjust="spacingAndGlyphs">10</text>
<line x1="915.3" y1="47.9" x2="922.7" y2="47.9" stroke="#000" stroke-width="4.6" stroke-linecap="butt"/>
<line x1="910.0" y1="14.3" x2="922.7" y2="14.3" stroke="#000" stroke-width="4.6" stroke-linecap="butt"/>
<text x="905.5" y="24.4" font-size="29.4" fill="#000" text-anchor="end" textLength="29.5" lengthAdjust="spacingAndGlyphs">12</text>
<text x="873.5" y="20.4" font-size="33" fill="#000" text-anchor="end">c</text>
<text transform="translate(857.0,314.3) rotate(-90)" x="0" y="0" font-size="30" fill="#000" textLength="184.6" lengthAdjust="spacingAndGlyphs">Intensity (X10</text>
<text transform="translate(844.5,129.2) rotate(-90)" x="0" y="0" font-size="21" fill="#000" textLength="12.8" lengthAdjust="spacingAndGlyphs">8</text>
<text transform="translate(857.0,116.5) rotate(-90)" x="0" y="0" font-size="30" fill="#000">)</text>
<line x1="968.0" y1="417.3" x2="968.0" y2="430.5" stroke="#000" stroke-width="4.6" stroke-linecap="butt"/>
<line x1="1056.0" y1="417.3" x2="1056.0" y2="430.5" stroke="#000" stroke-width="4.6" stroke-linecap="butt"/>
<line x1="1144.3" y1="417.3" x2="1144.3" y2="430.5" stroke="#000" stroke-width="4.6" stroke-linecap="butt"/>
<line x1="1232.8" y1="417.3" x2="1232.8" y2="430.5" stroke="#000" stroke-width="4.6" stroke-linecap="butt"/>
<line x1="1321.5" y1="417.3" x2="1321.5" y2="430.5" stroke="#000" stroke-width="4.6" stroke-linecap="butt"/>
<line x1="1410.5" y1="417.3" x2="1410.5" y2="430.5" stroke="#000" stroke-width="4.6" stroke-linecap="butt"/>
<text x="968.0" y="459.3" font-size="28" fill="#000" text-anchor="middle">Heart</text>
<text x="1056.0" y="459.3" font-size="28" fill="#000" text-anchor="middle">liver</text>
<text x="1144.3" y="459.3" font-size="28" fill="#000" text-anchor="middle">spleen</text>
<text x="1232.8" y="459.3" font-size="28" fill="#000" text-anchor="middle">lung</text>
<text x="1321.5" y="459.3" font-size="28" fill="#000" text-anchor="middle">kidney</text>
<text x="1410.5" y="459.3" font-size="28" fill="#000" text-anchor="middle">brain</text>
<rect x="931.2" y="404.5" width="9.5" height="12.8" fill="#fff" stroke="#666666" stroke-width="2.5"/>
<line x1="936.0" y1="400.7" x2="936.0" y2="408.4" stroke="#666666" stroke-width="2.2" stroke-linecap="butt"/>
<line x1="932.5" y1="400.7" x2="939.5" y2="400.7" stroke="#666666" stroke-width="2.2" stroke-linecap="butt"/>
<line x1="932.5" y1="408.4" x2="939.5" y2="408.4" stroke="#666666" stroke-width="2.2" stroke-linecap="butt"/>
<circle cx="934.4" cy="400.5" r="3.8" fill="#666666" stroke="none" stroke-width="0"/>
<circle cx="936.0" cy="404.5" r="3.8" fill="#666666" stroke="none" stroke-width="0"/>
<circle cx="937.6" cy="407.2" r="3.8" fill="#666666" stroke="none" stroke-width="0"/>
<rect x="947.2" y="403.2" width="9.5" height="14.1" fill="#fff" stroke="#0B7BFF" stroke-width="2.5"/>
<line x1="952.0" y1="400.6" x2="952.0" y2="405.7" stroke="#0B7BFF" stroke-width="2.2" stroke-linecap="butt"/>
<line x1="948.5" y1="400.6" x2="955.5" y2="400.6" stroke="#0B7BFF" stroke-width="2.2" stroke-linecap="butt"/>
<line x1="948.5" y1="405.7" x2="955.5" y2="405.7" stroke="#0B7BFF" stroke-width="2.2" stroke-linecap="butt"/>
<circle cx="950.4" cy="400.5" r="3.8" fill="#0B7BFF" stroke="none" stroke-width="0"/>
<circle cx="952.0" cy="403.2" r="3.8" fill="#0B7BFF" stroke="none" stroke-width="0"/>
<circle cx="953.6" cy="405.2" r="3.8" fill="#0B7BFF" stroke="none" stroke-width="0"/>
<rect x="963.2" y="405.2" width="9.5" height="12.1" fill="#fff" stroke="#CC55DD" stroke-width="2.5"/>
<line x1="968.0" y1="402.3" x2="968.0" y2="408.1" stroke="#CC55DD" stroke-width="2.2" stroke-linecap="butt"/>
<line x1="964.5" y1="402.3" x2="971.5" y2="402.3" stroke="#CC55DD" stroke-width="2.2" stroke-linecap="butt"/>
<line x1="964.5" y1="408.1" x2="971.5" y2="408.1" stroke="#CC55DD" stroke-width="2.2" stroke-linecap="butt"/>
<circle cx="966.4" cy="402.2" r="3.8" fill="#CC55DD" stroke="none" stroke-width="0"/>
<circle cx="968.0" cy="405.2" r="3.8" fill="#CC55DD" stroke="none" stroke-width="0"/>
<circle cx="969.6" cy="407.2" r="3.8" fill="#CC55DD" stroke="none" stroke-width="0"/>
<rect x="979.2" y="405.2" width="9.5" height="12.1" fill="#fff" stroke="#FF9F33" stroke-width="2.5"/>
<line x1="984.0" y1="402.3" x2="984.0" y2="408.1" stroke="#FF9F33" stroke-width="2.2" stroke-linecap="butt"/>
<line x1="980.5" y1="402.3" x2="987.5" y2="402.3" stroke="#FF9F33" stroke-width="2.2" stroke-linecap="butt"/>
<line x1="980.5" y1="408.1" x2="987.5" y2="408.1" stroke="#FF9F33" stroke-width="2.2" stroke-linecap="butt"/>
<circle cx="982.4" cy="402.2" r="3.8" fill="#FF9F33" stroke="none" stroke-width="0"/>
<circle cx="984.0" cy="405.2" r="3.8" fill="#FF9F33" stroke="none" stroke-width="0"/>
<circle cx="985.6" cy="407.2" r="3.8" fill="#FF9F33" stroke="none" stroke-width="0"/>
<rect x="995.2" y="403.9" width="9.5" height="13.4" fill="#fff" stroke="#FF3B3B" stroke-width="2.5"/>
<line x1="1000.0" y1="400.0" x2="1000.0" y2="407.7" stroke="#FF3B3B" stroke-width="2.2" stroke-linecap="butt"/>
<line x1="996.5" y1="400.0" x2="1003.5" y2="400.0" stroke="#FF3B3B" stroke-width="2.2" stroke-linecap="butt"/>
<line x1="996.5" y1="407.7" x2="1003.5" y2="407.7" stroke="#FF3B3B" stroke-width="2.2" stroke-linecap="butt"/>
<circle cx="998.4" cy="399.8" r="3.8" fill="#FF3B3B" stroke="none" stroke-width="0"/>
<circle cx="1000.0" cy="403.2" r="3.8" fill="#FF3B3B" stroke="none" stroke-width="0"/>
<circle cx="1001.6" cy="406.2" r="3.8" fill="#FF3B3B" stroke="none" stroke-width="0"/>
<rect x="1019.2" y="182.2" width="9.5" height="235.1" fill="#fff" stroke="#666666" stroke-width="2.5"/>
<line x1="1024.0" y1="148.7" x2="1024.0" y2="215.7" stroke="#666666" stroke-width="2.2" stroke-linecap="butt"/>
<line x1="1020.5" y1="148.7" x2="1027.5" y2="148.7" stroke="#666666" stroke-width="2.2" stroke-linecap="butt"/>
<line x1="1020.5" y1="215.7" x2="1027.5" y2="215.7" stroke="#666666" stroke-width="2.2" stroke-linecap="butt"/>
<circle cx="1022.4" cy="147.0" r="3.8" fill="#666666" stroke="none" stroke-width="0"/>
<circle cx="1024.0" cy="182.2" r="3.8" fill="#666666" stroke="none" stroke-width="0"/>
<circle cx="1025.6" cy="205.7" r="3.8" fill="#666666" stroke="none" stroke-width="0"/>
<rect x="1035.2" y="199.0" width="9.5" height="218.3" fill="#fff" stroke="#0B7BFF" stroke-width="2.5"/>
<line x1="1040.0" y1="160.7" x2="1040.0" y2="237.3" stroke="#0B7BFF" stroke-width="2.2" stroke-linecap="butt"/>
<line x1="1036.5" y1="160.7" x2="1043.5" y2="160.7" stroke="#0B7BFF" stroke-width="2.2" stroke-linecap="butt"/>
<line x1="1036.5" y1="237.3" x2="1043.5" y2="237.3" stroke="#0B7BFF" stroke-width="2.2" stroke-linecap="butt"/>
<circle cx="1038.4" cy="158.7" r="3.8" fill="#0B7BFF" stroke="none" stroke-width="0"/>
<circle cx="1040.0" cy="199.0" r="3.8" fill="#0B7BFF" stroke="none" stroke-width="0"/>
<circle cx="1041.6" cy="210.8" r="3.8" fill="#0B7BFF" stroke="none" stroke-width="0"/>
<rect x="1051.2" y="252.8" width="9.5" height="164.5" fill="#fff" stroke="#CC55DD" stroke-width="2.5"/>
<line x1="1056.0" y1="227.2" x2="1056.0" y2="278.3" stroke="#CC55DD" stroke-width="2.2" stroke-linecap="butt"/>
<line x1="1052.5" y1="227.2" x2="1059.5" y2="227.2" stroke="#CC55DD" stroke-width="2.2" stroke-linecap="butt"/>
<line x1="1052.5" y1="278.3" x2="1059.5" y2="278.3" stroke="#CC55DD" stroke-width="2.2" stroke-linecap="butt"/>
<circle cx="1054.4" cy="225.9" r="3.8" fill="#CC55DD" stroke="none" stroke-width="0"/>
<circle cx="1056.0" cy="249.4" r="3.8" fill="#CC55DD" stroke="none" stroke-width="0"/>
<circle cx="1057.6" cy="277.9" r="3.8" fill="#CC55DD" stroke="none" stroke-width="0"/>
<rect x="1067.2" y="356.9" width="9.5" height="60.4" fill="#fff" stroke="#FF9F33" stroke-width="2.5"/>
<line x1="1072.0" y1="339.3" x2="1072.0" y2="374.4" stroke="#FF9F33" stroke-width="2.2" stroke-linecap="butt"/>
<line x1="1068.5" y1="339.3" x2="1075.5" y2="339.3" stroke="#FF9F33" stroke-width="2.2" stroke-linecap="butt"/>
<line x1="1068.5" y1="374.4" x2="1075.5" y2="374.4" stroke="#FF9F33" stroke-width="2.2" stroke-linecap="butt"/>
<circle cx="1070.4" cy="338.4" r="3.8" fill="#FF9F33" stroke="none" stroke-width="0"/>
<circle cx="1072.0" cy="356.9" r="3.8" fill="#FF9F33" stroke="none" stroke-width="0"/>
<circle cx="1073.6" cy="373.6" r="3.8" fill="#FF9F33" stroke="none" stroke-width="0"/>
<rect x="1083.2" y="385.4" width="9.5" height="31.9" fill="#fff" stroke="#FF3B3B" stroke-width="2.5"/>
<line x1="1088.0" y1="378.7" x2="1088.0" y2="392.1" stroke="#FF3B3B" stroke-width="2.2" stroke-linecap="butt"/>
<line x1="1084.5" y1="378.7" x2="1091.5" y2="378.7" stroke="#FF3B3B" stroke-width="2.2" stroke-linecap="butt"/>
<line x1="1084.5" y1="392.1" x2="1091.5" y2="392.1" stroke="#FF3B3B" stroke-width="2.2" stroke-linecap="butt"/>
<circle cx="1086.4" cy="378.3" r="3.8" fill="#FF3B3B" stroke="none" stroke-width="0"/>
<circle cx="1088.0" cy="386.4" r="3.8" fill="#FF3B3B" stroke="none" stroke-width="0"/>
<circle cx="1089.6" cy="390.4" r="3.8" fill="#FF3B3B" stroke="none" stroke-width="0"/>
<rect x="1107.5" y="350.1" width="9.5" height="67.2" fill="#fff" stroke="#666666" stroke-width="2.5"/>
<line x1="1112.3" y1="339.6" x2="1112.3" y2="360.7" stroke="#666666" stroke-width="2.2" stroke-linecap="butt"/>
<line x1="1108.8" y1="339.6" x2="1115.8" y2="339.6" stroke="#666666" stroke-width="2.2" stroke-linecap="butt"/>
<line x1="1108.8" y1="360.7" x2="1115.8" y2="360.7" stroke="#666666" stroke-width="2.2" stroke-linecap="butt"/>
<circle cx="1110.7" cy="339.1" r="3.8" fill="#666666" stroke="none" stroke-width="0"/>
<circle cx="1112.3" cy="352.5" r="3.8" fill="#666666" stroke="none" stroke-width="0"/>
<circle cx="1113.9" cy="356.9" r="3.8" fill="#666666" stroke="none" stroke-width="0"/>
<rect x="1123.5" y="356.9" width="9.5" height="60.4" fill="#fff" stroke="#0B7BFF" stroke-width="2.5"/>
<line x1="1128.3" y1="347.3" x2="1128.3" y2="366.4" stroke="#0B7BFF" stroke-width="2.2" stroke-linecap="butt"/>
<line x1="1124.8" y1="347.3" x2="1131.8" y2="347.3" stroke="#0B7BFF" stroke-width="2.2" stroke-linecap="butt"/>
<line x1="1124.8" y1="366.4" x2="1131.8" y2="366.4" stroke="#0B7BFF" stroke-width="2.2" stroke-linecap="butt"/>
<circle cx="1126.7" cy="346.8" r="3.8" fill="#0B7BFF" stroke="none" stroke-width="0"/>
<circle cx="1128.3" cy="356.9" r="3.8" fill="#0B7BFF" stroke="none" stroke-width="0"/>
<circle cx="1129.9" cy="363.6" r="3.8" fill="#0B7BFF" stroke="none" stroke-width="0"/>
<rect x="1139.5" y="382.0" width="9.5" height="35.3" fill="#fff" stroke="#CC55DD" stroke-width="2.5"/>
<line x1="1144.3" y1="374.7" x2="1144.3" y2="389.4" stroke="#CC55DD" stroke-width="2.2" stroke-linecap="butt"/>
<line x1="1140.8" y1="374.7" x2="1147.8" y2="374.7" stroke="#CC55DD" stroke-width="2.2" stroke-linecap="butt"/>
<line x1="1140.8" y1="389.4" x2="1147.8" y2="389.4" stroke="#CC55DD" stroke-width="2.2" stroke-linecap="butt"/>
<circle cx="1142.7" cy="374.3" r="3.8" fill="#CC55DD" stroke="none" stroke-width="0"/>
<circle cx="1144.3" cy="383.7" r="3.8" fill="#CC55DD" stroke="none" stroke-width="0"/>
<circle cx="1145.9" cy="385.4" r="3.8" fill="#CC55DD" stroke="none" stroke-width="0"/>
<rect x="1155.5" y="385.4" width="9.5" height="31.9" fill="#fff" stroke="#FF9F33" stroke-width="2.5"/>
<line x1="1160.3" y1="379.7" x2="1160.3" y2="391.1" stroke="#FF9F33" stroke-width="2.2" stroke-linecap="butt"/>
<line x1="1156.8" y1="379.7" x2="1163.8" y2="379.7" stroke="#FF9F33" stroke-width="2.2" stroke-linecap="butt"/>
<line x1="1156.8" y1="391.1" x2="1163.8" y2="391.1" stroke="#FF9F33" stroke-width="2.2" stroke-linecap="butt"/>
<circle cx="1158.7" cy="379.4" r="3.8" fill="#FF9F33" stroke="none" stroke-width="0"/>
<circle cx="1160.3" cy="386.4" r="3.8" fill="#FF9F33" stroke="none" stroke-width="0"/>
<circle cx="1161.9" cy="388.8" r="3.8" fill="#FF9F33" stroke="none" stroke-width="0"/>
<rect x="1171.5" y="385.4" width="9.5" height="31.9" fill="#fff" stroke="#FF3B3B" stroke-width="2.5"/>
<line x1="1176.3" y1="383.8" x2="1176.3" y2="387.0" stroke="#FF3B3B" stroke-width="2.2" stroke-linecap="butt"/>
<line x1="1172.8" y1="383.8" x2="1179.8" y2="383.8" stroke="#FF3B3B" stroke-width="2.2" stroke-linecap="butt"/>
<line x1="1172.8" y1="387.0" x2="1179.8" y2="387.0" stroke="#FF3B3B" stroke-width="2.2" stroke-linecap="butt"/>
<circle cx="1174.7" cy="383.7" r="3.8" fill="#FF3B3B" stroke="none" stroke-width="0"/>
<circle cx="1176.3" cy="386.4" r="3.8" fill="#FF3B3B" stroke="none" stroke-width="0"/>
<circle cx="1177.9" cy="387.1" r="3.8" fill="#FF3B3B" stroke="none" stroke-width="0"/>
<rect x="1196.0" y="381.7" width="9.5" height="35.6" fill="#fff" stroke="#666666" stroke-width="2.5"/>
<line x1="1200.8" y1="369.6" x2="1200.8" y2="393.8" stroke="#666666" stroke-width="2.2" stroke-linecap="butt"/>
<line x1="1197.3" y1="369.6" x2="1204.3" y2="369.6" stroke="#666666" stroke-width="2.2" stroke-linecap="butt"/>
<line x1="1197.3" y1="393.8" x2="1204.3" y2="393.8" stroke="#666666" stroke-width="2.2" stroke-linecap="butt"/>
<circle cx="1199.2" cy="368.9" r="3.8" fill="#666666" stroke="none" stroke-width="0"/>
<circle cx="1200.8" cy="380.4" r="3.8" fill="#666666" stroke="none" stroke-width="0"/>
<circle cx="1202.4" cy="384.7" r="3.8" fill="#666666" stroke="none" stroke-width="0"/>
<rect x="1212.0" y="387.1" width="9.5" height="30.2" fill="#fff" stroke="#0B7BFF" stroke-width="2.5"/>
<line x1="1216.8" y1="377.5" x2="1216.8" y2="396.6" stroke="#0B7BFF" stroke-width="2.2" stroke-linecap="butt"/>
<line x1="1213.3" y1="377.5" x2="1220.3" y2="377.5" stroke="#0B7BFF" stroke-width="2.2" stroke-linecap="butt"/>
<line x1="1213.3" y1="396.6" x2="1220.3" y2="396.6" stroke="#0B7BFF" stroke-width="2.2" stroke-linecap="butt"/>
<circle cx="1215.2" cy="377.0" r="3.8" fill="#0B7BFF" stroke="none" stroke-width="0"/>
<circle cx="1216.8" cy="387.1" r="3.8" fill="#0B7BFF" stroke="none" stroke-width="0"/>
<circle cx="1218.4" cy="390.4" r="3.8" fill="#0B7BFF" stroke="none" stroke-width="0"/>
<rect x="1228.0" y="388.1" width="9.5" height="29.2" fill="#fff" stroke="#CC55DD" stroke-width="2.5"/>
<line x1="1232.8" y1="380.1" x2="1232.8" y2="396.1" stroke="#CC55DD" stroke-width="2.2" stroke-linecap="butt"/>
<line x1="1229.3" y1="380.1" x2="1236.3" y2="380.1" stroke="#CC55DD" stroke-width="2.2" stroke-linecap="butt"/>
<line x1="1229.3" y1="396.1" x2="1236.3" y2="396.1" stroke="#CC55DD" stroke-width="2.2" stroke-linecap="butt"/>
<circle cx="1231.2" cy="379.7" r="3.8" fill="#CC55DD" stroke="none" stroke-width="0"/>
<circle cx="1232.8" cy="388.1" r="3.8" fill="#CC55DD" stroke="none" stroke-width="0"/>
<circle cx="1234.4" cy="390.4" r="3.8" fill="#CC55DD" stroke="none" stroke-width="0"/>
<rect x="1244.0" y="388.1" width="9.5" height="29.2" fill="#fff" stroke="#FF9F33" stroke-width="2.5"/>
<line x1="1248.8" y1="379.8" x2="1248.8" y2="396.4" stroke="#FF9F33" stroke-width="2.2" stroke-linecap="butt"/>
<line x1="1245.3" y1="379.8" x2="1252.3" y2="379.8" stroke="#FF9F33" stroke-width="2.2" stroke-linecap="butt"/>
<line x1="1245.3" y1="396.4" x2="1252.3" y2="396.4" stroke="#FF9F33" stroke-width="2.2" stroke-linecap="butt"/>
<circle cx="1247.2" cy="379.4" r="3.8" fill="#FF9F33" stroke="none" stroke-width="0"/>
<circle cx="1248.8" cy="388.1" r="3.8" fill="#FF9F33" stroke="none" stroke-width="0"/>
<circle cx="1250.4" cy="390.4" r="3.8" fill="#FF9F33" stroke="none" stroke-width="0"/>
<rect x="1260.0" y="381.7" width="9.5" height="35.6" fill="#fff" stroke="#FF3B3B" stroke-width="2.5"/>
<line x1="1264.8" y1="376.6" x2="1264.8" y2="386.8" stroke="#FF3B3B" stroke-width="2.2" stroke-linecap="butt"/>
<line x1="1261.3" y1="376.6" x2="1268.3" y2="376.6" stroke="#FF3B3B" stroke-width="2.2" stroke-linecap="butt"/>
<line x1="1261.3" y1="386.8" x2="1268.3" y2="386.8" stroke="#FF3B3B" stroke-width="2.2" stroke-linecap="butt"/>
<circle cx="1263.2" cy="376.3" r="3.8" fill="#FF3B3B" stroke="none" stroke-width="0"/>
<circle cx="1264.8" cy="381.7" r="3.8" fill="#FF3B3B" stroke="none" stroke-width="0"/>
<circle cx="1266.4" cy="383.7" r="3.8" fill="#FF3B3B" stroke="none" stroke-width="0"/>
<rect x="1284.8" y="388.1" width="9.5" height="29.2" fill="#fff" stroke="#666666" stroke-width="2.5"/>
<line x1="1289.5" y1="377.6" x2="1289.5" y2="398.6" stroke="#666666" stroke-width="2.2" stroke-linecap="butt"/>
<line x1="1286.0" y1="377.6" x2="1293.0" y2="377.6" stroke="#666666" stroke-width="2.2" stroke-linecap="butt"/>
<line x1="1286.0" y1="398.6" x2="1293.0" y2="398.6" stroke="#666666" stroke-width="2.2" stroke-linecap="butt"/>
<circle cx="1287.9" cy="377.0" r="3.8" fill="#666666" stroke="none" stroke-width="0"/>
<circle cx="1289.5" cy="388.1" r="3.8" fill="#666666" stroke="none" stroke-width="0"/>
<circle cx="1291.1" cy="390.4" r="3.8" fill="#666666" stroke="none" stroke-width="0"/>
<rect x="1300.8" y="384.7" width="9.5" height="32.6" fill="#fff" stroke="#0B7BFF" stroke-width="2.5"/>
<line x1="1305.5" y1="373.6" x2="1305.5" y2="395.9" stroke="#0B7BFF" stroke-width="2.2" stroke-linecap="butt"/>
<line x1="1302.0" y1="373.6" x2="1309.0" y2="373.6" stroke="#0B7BFF" stroke-width="2.2" stroke-linecap="butt"/>
<line x1="1302.0" y1="395.9" x2="1309.0" y2="395.9" stroke="#0B7BFF" stroke-width="2.2" stroke-linecap="butt"/>
<circle cx="1303.9" cy="373.0" r="3.8" fill="#0B7BFF" stroke="none" stroke-width="0"/>
<circle cx="1305.5" cy="384.7" r="3.8" fill="#0B7BFF" stroke="none" stroke-width="0"/>
<circle cx="1307.1" cy="387.1" r="3.8" fill="#0B7BFF" stroke="none" stroke-width="0"/>
<rect x="1316.8" y="390.1" width="9.5" height="27.2" fill="#fff" stroke="#CC55DD" stroke-width="2.5"/>
<line x1="1321.5" y1="387.2" x2="1321.5" y2="393.0" stroke="#CC55DD" stroke-width="2.2" stroke-linecap="butt"/>
<line x1="1318.0" y1="387.2" x2="1325.0" y2="387.2" stroke="#CC55DD" stroke-width="2.2" stroke-linecap="butt"/>
<line x1="1318.0" y1="393.0" x2="1325.0" y2="393.0" stroke="#CC55DD" stroke-width="2.2" stroke-linecap="butt"/>
<circle cx="1319.9" cy="387.1" r="3.8" fill="#CC55DD" stroke="none" stroke-width="0"/>
<circle cx="1321.5" cy="390.1" r="3.8" fill="#CC55DD" stroke="none" stroke-width="0"/>
<circle cx="1323.1" cy="392.1" r="3.8" fill="#CC55DD" stroke="none" stroke-width="0"/>
<rect x="1332.8" y="388.1" width="9.5" height="29.2" fill="#fff" stroke="#FF9F33" stroke-width="2.5"/>
<line x1="1337.5" y1="380.1" x2="1337.5" y2="396.1" stroke="#FF9F33" stroke-width="2.2" stroke-linecap="butt"/>
<line x1="1334.0" y1="380.1" x2="1341.0" y2="380.1" stroke="#FF9F33" stroke-width="2.2" stroke-linecap="butt"/>
<line x1="1334.0" y1="396.1" x2="1341.0" y2="396.1" stroke="#FF9F33" stroke-width="2.2" stroke-linecap="butt"/>
<circle cx="1335.9" cy="379.7" r="3.8" fill="#FF9F33" stroke="none" stroke-width="0"/>
<circle cx="1337.5" cy="388.1" r="3.8" fill="#FF9F33" stroke="none" stroke-width="0"/>
<circle cx="1339.1" cy="390.4" r="3.8" fill="#FF9F33" stroke="none" stroke-width="0"/>
<rect x="1348.8" y="390.1" width="9.5" height="27.2" fill="#fff" stroke="#FF3B3B" stroke-width="2.5"/>
<line x1="1353.5" y1="387.2" x2="1353.5" y2="393.0" stroke="#FF3B3B" stroke-width="2.2" stroke-linecap="butt"/>
<line x1="1350.0" y1="387.2" x2="1357.0" y2="387.2" stroke="#FF3B3B" stroke-width="2.2" stroke-linecap="butt"/>
<line x1="1350.0" y1="393.0" x2="1357.0" y2="393.0" stroke="#FF3B3B" stroke-width="2.2" stroke-linecap="butt"/>
<circle cx="1351.9" cy="387.1" r="3.8" fill="#FF3B3B" stroke="none" stroke-width="0"/>
<circle cx="1353.5" cy="390.1" r="3.8" fill="#FF3B3B" stroke="none" stroke-width="0"/>
<circle cx="1355.1" cy="392.1" r="3.8" fill="#FF3B3B" stroke="none" stroke-width="0"/>
<rect x="1373.8" y="390.1" width="9.5" height="27.2" fill="#fff" stroke="#666666" stroke-width="2.5"/>
<line x1="1378.5" y1="388.5" x2="1378.5" y2="391.7" stroke="#666666" stroke-width="2.2" stroke-linecap="butt"/>
<line x1="1375.0" y1="388.5" x2="1382.0" y2="388.5" stroke="#666666" stroke-width="2.2" stroke-linecap="butt"/>
<line x1="1375.0" y1="391.7" x2="1382.0" y2="391.7" stroke="#666666" stroke-width="2.2" stroke-linecap="butt"/>
<circle cx="1376.9" cy="388.4" r="3.8" fill="#666666" stroke="none" stroke-width="0"/>
<circle cx="1378.5" cy="390.1" r="3.8" fill="#666666" stroke="none" stroke-width="0"/>
<circle cx="1380.1" cy="391.8" r="3.8" fill="#666666" stroke="none" stroke-width="0"/>
<rect x="1389.8" y="388.1" width="9.5" height="29.2" fill="#fff" stroke="#0B7BFF" stroke-width="2.5"/>
<line x1="1394.5" y1="386.5" x2="1394.5" y2="389.7" stroke="#0B7BFF" stroke-width="2.2" stroke-linecap="butt"/>
<line x1="1391.0" y1="386.5" x2="1398.0" y2="386.5" stroke="#0B7BFF" stroke-width="2.2" stroke-linecap="butt"/>
<line x1="1391.0" y1="389.7" x2="1398.0" y2="389.7" stroke="#0B7BFF" stroke-width="2.2" stroke-linecap="butt"/>
<circle cx="1392.9" cy="386.4" r="3.8" fill="#0B7BFF" stroke="none" stroke-width="0"/>
<circle cx="1394.5" cy="388.1" r="3.8" fill="#0B7BFF" stroke="none" stroke-width="0"/>
<circle cx="1396.1" cy="389.8" r="3.8" fill="#0B7BFF" stroke="none" stroke-width="0"/>
<rect x="1405.8" y="389.1" width="9.5" height="28.2" fill="#fff" stroke="#CC55DD" stroke-width="2.5"/>
<line x1="1410.5" y1="387.2" x2="1410.5" y2="391.0" stroke="#CC55DD" stroke-width="2.2" stroke-linecap="butt"/>
<line x1="1407.0" y1="387.2" x2="1414.0" y2="387.2" stroke="#CC55DD" stroke-width="2.2" stroke-linecap="butt"/>
<line x1="1407.0" y1="391.0" x2="1414.0" y2="391.0" stroke="#CC55DD" stroke-width="2.2" stroke-linecap="butt"/>
<circle cx="1408.9" cy="387.1" r="3.8" fill="#CC55DD" stroke="none" stroke-width="0"/>
<circle cx="1410.5" cy="389.1" r="3.8" fill="#CC55DD" stroke="none" stroke-width="0"/>
<circle cx="1412.1" cy="390.4" r="3.8" fill="#CC55DD" stroke="none" stroke-width="0"/>
<rect x="1421.8" y="388.1" width="9.5" height="29.2" fill="#fff" stroke="#FF9F33" stroke-width="2.5"/>
<line x1="1426.5" y1="386.5" x2="1426.5" y2="389.7" stroke="#FF9F33" stroke-width="2.2" stroke-linecap="butt"/>
<line x1="1423.0" y1="386.5" x2="1430.0" y2="386.5" stroke="#FF9F33" stroke-width="2.2" stroke-linecap="butt"/>
<line x1="1423.0" y1="389.7" x2="1430.0" y2="389.7" stroke="#FF9F33" stroke-width="2.2" stroke-linecap="butt"/>
<circle cx="1424.9" cy="386.4" r="3.8" fill="#FF9F33" stroke="none" stroke-width="0"/>
<circle cx="1426.5" cy="388.1" r="3.8" fill="#FF9F33" stroke="none" stroke-width="0"/>
<circle cx="1428.1" cy="389.8" r="3.8" fill="#FF9F33" stroke="none" stroke-width="0"/>
<rect x="1437.8" y="390.1" width="9.5" height="27.2" fill="#fff" stroke="#FF3B3B" stroke-width="2.5"/>
<line x1="1442.5" y1="388.5" x2="1442.5" y2="391.7" stroke="#FF3B3B" stroke-width="2.2" stroke-linecap="butt"/>
<line x1="1439.0" y1="388.5" x2="1446.0" y2="388.5" stroke="#FF3B3B" stroke-width="2.2" stroke-linecap="butt"/>
<line x1="1439.0" y1="391.7" x2="1446.0" y2="391.7" stroke="#FF3B3B" stroke-width="2.2" stroke-linecap="butt"/>
<circle cx="1440.9" cy="388.4" r="3.8" fill="#FF3B3B" stroke="none" stroke-width="0"/>
<circle cx="1442.5" cy="390.1" r="3.8" fill="#FF3B3B" stroke="none" stroke-width="0"/>
<circle cx="1444.1" cy="391.8" r="3.8" fill="#FF3B3B" stroke="none" stroke-width="0"/>
<path d="M1020.4,136 L1020.4,119 L1087.7,119 L1087.7,364" fill="none" stroke="#000" stroke-width="5"/>
<text x="1031.6" y="126.7" font-size="41.5" stroke="#000" stroke-width="1.45">*</text><text x="1052.3" y="126.7" font-size="41.5" stroke="#000" stroke-width="1.45">*</text><text x="1073.0" y="126.7" font-size="41.5" stroke="#000" stroke-width="1.45">*</text>
<path d="M1110.3,329 L1110.3,308 L1177.4,308 L1177.4,370" fill="none" stroke="#000" stroke-width="5"/>
<text x="1112.9" y="315.7" font-size="43.1" stroke="#000" stroke-width="1.51">*</text><text x="1132.8" y="315.7" font-size="43.1" stroke="#000" stroke-width="1.51">*</text><text x="1152.7" y="315.7" font-size="43.1" stroke="#000" stroke-width="1.51">*</text>
<line x1="929.6" y1="389.8" x2="1004.0" y2="389.8" stroke="#000" stroke-width="3.2" stroke-linecap="butt"/>
<text x="965.8" y="378.8" font-size="23.5" fill="#000" text-anchor="middle">NS</text>
<line x1="1194.4" y1="361.8" x2="1269.0" y2="361.8" stroke="#000" stroke-width="3.2" stroke-linecap="butt"/>
<text x="1230.7" y="357.5" font-size="23.5" fill="#000" text-anchor="middle">NS</text>
<line x1="1284.0" y1="367.0" x2="1358.6" y2="367.0" stroke="#000" stroke-width="3.2" stroke-linecap="butt"/>
<text x="1320.3" y="363.3" font-size="23.5" fill="#000" text-anchor="middle">NS</text>
<line x1="1373.0" y1="372.8" x2="1447.6" y2="372.8" stroke="#000" stroke-width="3.2" stroke-linecap="butt"/>
<text x="1409.3" y="366.5" font-size="23.5" fill="#000" text-anchor="middle">NS</text>
<circle cx="1295.5" cy="56.5" r="5.1" fill="#666666" stroke="none" stroke-width="0"/>
<text x="1330.4" y="66.5" font-size="29" fill="#000">12h</text>
<circle cx="1295.5" cy="96.3" r="5.1" fill="#0B7BFF" stroke="none" stroke-width="0"/>
<text x="1330.4" y="106.3" font-size="29" fill="#000">24h</text>
<circle cx="1295.5" cy="136.1" r="5.1" fill="#CC55DD" stroke="none" stroke-width="0"/>
<text x="1330.4" y="146.1" font-size="29" fill="#000">36h</text>
<circle cx="1295.5" cy="175.9" r="5.1" fill="#FF9F33" stroke="none" stroke-width="0"/>
<text x="1330.4" y="185.9" font-size="29" fill="#000">120h</text>
<circle cx="1295.5" cy="215.7" r="5.1" fill="#FF3B3B" stroke="none" stroke-width="0"/>
<text x="1330.4" y="225.7" font-size="29" fill="#000">360h</text>
<text x="11.0" y="474.0" font-size="38" fill="#000">b</text>
<text x="256.6" y="492.0" font-size="27.5" fill="#000" textLength="50.2" lengthAdjust="spacingAndGlyphs">Pre</text>
<text x="428.0" y="488.4" font-size="27.5" fill="#000" textLength="62.4" lengthAdjust="spacingAndGlyphs">12 h</text>
<text x="611.9" y="486.0" font-size="27.5" fill="#000" textLength="63.8" lengthAdjust="spacingAndGlyphs">24 h</text>
<text x="263.7" y="778.6" font-size="27.5" fill="#000" textLength="61.6" lengthAdjust="spacingAndGlyphs">72 h</text>
<text x="434.1" y="776.0" font-size="27.5" fill="#000" textLength="78.8" lengthAdjust="spacingAndGlyphs">120 h</text>
<text x="600.3" y="779.0" font-size="27.5" fill="#000" textLength="78.0" lengthAdjust="spacingAndGlyphs">360 h</text>
<line x1="168.7" y1="527.5" x2="168.7" y2="734.8" stroke="#000" stroke-width="5.6" stroke-linecap="butt"/>
<line x1="165.0" y1="814.0" x2="165.0" y2="1020.3" stroke="#000" stroke-width="5.6" stroke-linecap="butt"/>
<text transform="translate(195.3,594.7) rotate(-90)" x="0" y="0" font-size="27.5" fill="#000" textLength="35.7" lengthAdjust="spacingAndGlyphs">EC</text>
<text transform="translate(195.3,706.4) rotate(-90)" x="0" y="0" font-size="27.5" fill="#000" textLength="55.8" lengthAdjust="spacingAndGlyphs">VNP</text>
<text transform="translate(190.5,880.8) rotate(-90)" x="0" y="0" font-size="27.5" fill="#000" textLength="34.3" lengthAdjust="spacingAndGlyphs">EC</text>
<text transform="translate(190.5,993.7) rotate(-90)" x="0" y="0" font-size="27.5" fill="#000" textLength="55.8" lengthAdjust="spacingAndGlyphs">VNP</text>
<path d="M33.0,620.0 C5.0,632.0 2.0,662.0 30.0,662.0 C55.0,662.0 72.0,648.0 88.0,652.0" fill="none" stroke="#E8938B" stroke-width="5.4" stroke-linecap="round"/>
<path d="M33.0,620.0 C5.0,632.0 2.0,662.0 30.0,662.0 C55.0,662.0 72.0,648.0 88.0,652.0" fill="none" stroke="#F0ADA6" stroke-width="2.0" stroke-linecap="round"/>
<path d="M42.5,637.5 Q41.0,633.0 43.5,630.5 Q46.0,628.0 51.0,632.0 Q56.0,636.0 61.0,636.5 Q66.0,637.0 68.0,639.5 Q70.0,642.0 66.5,643.5 Q63.0,645.0 57.5,645.0 Q52.0,645.0 48.0,643.5 Q44.0,642.0 42.5,637.5 Z" fill="#EBA39B" stroke="none" stroke-width="1"/>
<path d="M109.5,632.5 Q108.0,628.0 111.0,627.0 Q114.0,626.0 118.0,631.0 Q122.0,636.0 127.5,637.5 Q133.0,639.0 132.5,641.5 Q132.0,644.0 126.0,643.5 Q120.0,643.0 115.5,640.0 Q111.0,637.0 109.5,632.5 Z" fill="#EBA39B" stroke="none" stroke-width="1"/>
<path d="M33.5,624.5 Q31.0,619.0 32.5,609.5 Q34.0,600.0 42.0,591.5 Q50.0,583.0 59.0,579.1 Q68.0,575.3 82.0,575.8 Q96.0,576.4 101.0,577.5 Q106.0,578.5 109.5,574.8 Q113.0,571.0 118.0,571.0 Q123.0,571.0 131.5,575.5 Q140.0,580.0 145.0,584.8 Q150.0,589.5 150.2,592.2 Q150.5,595.0 144.2,600.0 Q138.0,605.0 129.5,609.9 Q121.0,614.8 119.2,618.0 Q117.5,621.2 114.2,625.1 Q111.0,629.0 105.7,633.1 Q100.4,637.3 92.7,633.6 Q85.0,630.0 82.0,629.0 Q79.0,628.0 69.5,630.5 Q60.0,633.0 52.5,633.5 Q45.0,634.0 40.5,632.0 Q36.0,630.0 33.5,624.5 Z" fill="#FFFFFF" stroke="#C9A99B" stroke-width="0.9"/>
<path d="M35.5,624.0 Q33.0,618.0 34.5,610.5 Q36.0,603.0 39.0,599.5 Q42.0,596.0 41.0,604.0 Q40.0,612.0 42.0,620.0 Q44.0,628.0 41.0,629.0 Q38.0,630.0 35.5,624.0 Z" fill="#E9E5E4" stroke="none" stroke-width="1"/>
<path d="M52.5,632.0 Q45.0,630.0 52.5,627.5 Q60.0,625.0 70.0,623.5 Q80.0,622.0 87.5,626.0 Q95.0,630.0 90.0,631.5 Q85.0,633.0 72.5,633.5 Q60.0,634.0 52.5,632.0 Z" fill="#EEEBEA" stroke="none" stroke-width="1"/>
<ellipse cx="117.5" cy="568.8" rx="4.3" ry="3.3" fill="#DEDAD8" stroke="#B9A49A" stroke-width="0.6"/>
<ellipse cx="111.5" cy="584.5" rx="5.6" ry="8.6" fill="#EBA39B" stroke="none" stroke-width="0" transform="rotate(-12 111.5 584.5)"/>
<ellipse cx="112.5" cy="584.5" rx="2.6" ry="6.0" fill="#F4C3BD" stroke="none" stroke-width="0" transform="rotate(-12 112.5 584.5)"/>
<circle cx="133.0" cy="588.3" r="2.2" fill="#B3121A" stroke="none" stroke-width="0"/>
<circle cx="150.0" cy="592.5" r="1.4" fill="#E8938B" stroke="none" stroke-width="0"/>
<line x1="147.0" y1="593.0" x2="143.0" y2="601.0" stroke="#D9C9C2" stroke-width="0.5" stroke-linecap="butt"/>
<line x1="147.0" y1="593.0" x2="141.0" y2="607.0" stroke="#D9C9C2" stroke-width="0.5" stroke-linecap="butt"/>
<line x1="147.0" y1="593.0" x2="146.0" y2="580.0" stroke="#D9C9C2" stroke-width="0.5" stroke-linecap="butt"/>
<line x1="147.0" y1="593.0" x2="149.0" y2="577.0" stroke="#D9C9C2" stroke-width="0.5" stroke-linecap="butt"/>
<text x="37.4" y="688.0" font-size="26.5" fill="#000" textLength="101.0" lengthAdjust="spacingAndGlyphs">Healthy</text>
<text x="52.7" y="717.8" font-size="26.5" fill="#000" textLength="63.7" lengthAdjust="spacingAndGlyphs">mice</text>
<path d="M29.5,906.3 C1.5,918.3 -1.5,948.3 26.5,948.3 C51.5,948.3 68.5,934.3 84.5,938.3" fill="none" stroke="#E8938B" stroke-width="5.4" stroke-linecap="round"/>
<path d="M29.5,906.3 C1.5,918.3 -1.5,948.3 26.5,948.3 C51.5,948.3 68.5,934.3 84.5,938.3" fill="none" stroke="#F0ADA6" stroke-width="2.0" stroke-linecap="round"/>
<path d="M39.0,923.8 Q37.5,919.3 40.0,916.8 Q42.5,914.3 47.5,918.3 Q52.5,922.3 57.5,922.8 Q62.5,923.3 64.5,925.8 Q66.5,928.3 63.0,929.8 Q59.5,931.3 54.0,931.3 Q48.5,931.3 44.5,929.8 Q40.5,928.3 39.0,923.8 Z" fill="#EBA39B" stroke="none" stroke-width="1"/>
<path d="M106.0,918.8 Q104.5,914.3 107.5,913.3 Q110.5,912.3 114.5,917.3 Q118.5,922.3 124.0,923.8 Q129.5,925.3 129.0,927.8 Q128.5,930.3 122.5,929.8 Q116.5,929.3 112.0,926.3 Q107.5,923.3 106.0,918.8 Z" fill="#EBA39B" stroke="none" stroke-width="1"/>
<path d="M30.0,910.8 Q27.5,905.3 29.0,895.8 Q30.5,886.3 38.5,877.8 Q46.5,869.3 55.5,865.4 Q64.5,861.6 78.5,862.1 Q92.5,862.7 97.5,863.8 Q102.5,864.8 106.0,861.0 Q109.5,857.3 114.5,857.3 Q119.5,857.3 128.0,861.8 Q136.5,866.3 141.5,871.0 Q146.5,875.8 146.8,878.5 Q147.0,881.3 140.8,886.3 Q134.5,891.3 126.0,896.2 Q117.5,901.1 115.8,904.3 Q114.0,907.5 110.8,911.4 Q107.5,915.3 102.2,919.4 Q96.9,923.6 89.2,919.9 Q81.5,916.3 78.5,915.3 Q75.5,914.3 66.0,916.8 Q56.5,919.3 49.0,919.8 Q41.5,920.3 37.0,918.3 Q32.5,916.3 30.0,910.8 Z" fill="#FFFFFF" stroke="#C9A99B" stroke-width="0.9"/>
<path d="M32.0,910.3 Q29.5,904.3 31.0,896.8 Q32.5,889.3 35.5,885.8 Q38.5,882.3 37.5,890.3 Q36.5,898.3 38.5,906.3 Q40.5,914.3 37.5,915.3 Q34.5,916.3 32.0,910.3 Z" fill="#E9E5E4" stroke="none" stroke-width="1"/>
<path d="M49.0,918.3 Q41.5,916.3 49.0,913.8 Q56.5,911.3 66.5,909.8 Q76.5,908.3 84.0,912.3 Q91.5,916.3 86.5,917.8 Q81.5,919.3 69.0,919.8 Q56.5,920.3 49.0,918.3 Z" fill="#EEEBEA" stroke="none" stroke-width="1"/>
<ellipse cx="114.0" cy="855.1" rx="4.3" ry="3.3" fill="#DEDAD8" stroke="#B9A49A" stroke-width="0.6"/>
<ellipse cx="108.0" cy="870.8" rx="5.6" ry="8.6" fill="#EBA39B" stroke="none" stroke-width="0" transform="rotate(-12 108.0 870.8)"/>
<ellipse cx="109.0" cy="870.8" rx="2.6" ry="6.0" fill="#F4C3BD" stroke="none" stroke-width="0" transform="rotate(-12 109.0 870.8)"/>
<circle cx="129.5" cy="874.6" r="2.2" fill="#B3121A" stroke="none" stroke-width="0"/>
<circle cx="146.5" cy="878.8" r="1.4" fill="#E8938B" stroke="none" stroke-width="0"/>
<line x1="143.5" y1="879.3" x2="139.5" y2="887.3" stroke="#D9C9C2" stroke-width="0.5" stroke-linecap="butt"/>
<line x1="143.5" y1="879.3" x2="137.5" y2="893.3" stroke="#D9C9C2" stroke-width="0.5" stroke-linecap="butt"/>
<line x1="143.5" y1="879.3" x2="142.5" y2="866.3" stroke="#D9C9C2" stroke-width="0.5" stroke-linecap="butt"/>
<line x1="143.5" y1="879.3" x2="145.5" y2="863.3" stroke="#D9C9C2" stroke-width="0.5" stroke-linecap="butt"/>
<text x="32.3" y="976.6" font-size="26.5" fill="#000" textLength="101.0" lengthAdjust="spacingAndGlyphs">Healthy</text>
<text x="47.6" y="1002.6" font-size="26.5" fill="#000" textLength="65.0" lengthAdjust="spacingAndGlyphs">mice</text>
<rect x="200.8" y="510.8" width="164.4" height="112.6" fill="#161616" stroke="none" stroke-width="0"/>
<svg x="200.8" y="510.8" width="164.4" height="112.6" viewBox="200.8 510.8 164.4 112.6" overflow="hidden">
<ellipse cx="223.6" cy="534.2" rx="13.5" ry="12.6" fill="url(#gbrain)" stroke="none" stroke-width="0"/>
<ellipse cx="223.6" cy="545.3" rx="5.7" ry="3.0" fill="#A8A8A8" stroke="none" stroke-width="0"/>
<line x1="223.6" y1="522.7" x2="223.6" y2="543.7" stroke="#909090" stroke-width="0.7" stroke-linecap="butt"/>
<path d="M230.0 537.6h0M217.9 530.6h0M215.1 530.1h0M232.7 529.6h0M230.2 533.1h0M222.0 537.8h0M229.8 540.3h0M222.1 541.1h0M231.7 541.1h0M215.9 531.8h0M232.6 533.9h0M214.5 533.8h0M230.9 530.0h0M215.4 533.6h0" stroke="#F4F4F4" stroke-width="1.6" stroke-linecap="round"/>
<ellipse cx="271.5" cy="537.1" rx="8.0" ry="10.0" fill="url(#gheart)" stroke="none" stroke-width="0" transform="rotate(12 271.5 537.1)"/>
<path d="M332.0,529.9 Q332.6,533.5 331.9,537.1 Q331.2,540.7 328.9,544.1 Q326.6,547.6 322.1,549.7 Q317.7,551.8 313.7,548.9 Q309.8,546.1 307.0,543.4 Q304.2,540.7 302.7,537.1 Q301.2,533.5 300.6,528.8 Q300.0,524.1 304.9,522.5 Q309.8,520.9 313.7,517.9 Q317.7,514.9 322.6,516.3 Q327.6,517.8 329.5,522.0 Q331.4,526.2 332.0,529.9 Z" fill="#B8B8B8" stroke="none" stroke-width="1"/>
<path d="M316.4,524.4 Q317.3,527.6 315.4,529.8 Q313.5,532.0 311.1,533.0 Q308.7,534.1 306.1,533.2 Q303.5,532.3 301.7,529.9 Q299.9,527.6 300.7,524.3 Q301.5,521.0 305.1,520.4 Q308.7,519.8 312.1,520.5 Q315.6,521.2 316.4,524.4 Z" fill="#C8C8C8" stroke="none" stroke-width="1"/>
<path d="M319.0,523.8 Q321.0,526.5 318.5,528.8 Q316.1,531.1 313.6,531.7 Q311.1,532.2 308.2,532.0 Q305.4,531.7 302.9,529.1 Q300.4,526.5 303.4,524.4 Q306.4,522.2 308.7,520.4 Q311.1,518.6 314.1,519.8 Q317.1,521.0 319.0,523.8 Z" fill="#E2E2E2" stroke="none" stroke-width="1"/>
<path d="M325.7,534.1 Q327.4,536.7 326.1,539.7 Q324.8,542.7 321.6,542.4 Q318.4,542.2 316.0,541.6 Q313.7,541.0 310.7,538.9 Q307.7,536.7 310.6,534.5 Q313.6,532.3 316.0,530.3 Q318.4,528.2 321.2,529.9 Q324.0,531.5 325.7,534.1 Z" fill="#D0D0D0" stroke="none" stroke-width="1"/>
<path d="M317.6,535.3 Q319.8,537.2 319.3,540.6 Q318.7,544.1 314.9,544.3 Q311.2,544.5 307.6,544.1 Q304.0,543.8 304.2,540.5 Q304.4,537.2 305.5,535.1 Q306.6,532.9 308.9,531.6 Q311.2,530.2 313.3,531.8 Q315.4,533.3 317.6,535.3 Z" fill="#E2E2E2" stroke="none" stroke-width="1"/>
<path d="M317.2,531.4 Q317.8,534.0 316.6,536.1 Q315.5,538.2 313.2,538.8 Q311.0,539.4 307.8,539.6 Q304.6,539.9 304.3,537.0 Q304.0,534.0 305.1,531.8 Q306.1,529.6 308.5,527.9 Q311.0,526.2 313.8,527.5 Q316.7,528.8 317.2,531.4 Z" fill="#C8C8C8" stroke="none" stroke-width="1"/>
<path d="M302.5,561.0 Q300.0,556.0 310.0,558.0 Q320.0,560.0 332.5,558.0 Q345.0,556.0 352.5,554.0 Q360.0,552.0 361.0,556.0 Q362.0,560.0 346.0,564.0 Q330.0,568.0 317.5,567.0 Q305.0,566.0 302.5,561.0 Z" fill="#2A2A2A" stroke="none" stroke-width="1"/>
<path d="M218.2,571.6 Q219.3,568.0 222.3,568.7 Q225.3,569.5 225.9,573.8 Q226.4,578.1 225.6,583.2 Q224.8,588.3 225.1,592.6 Q225.3,597.0 222.3,596.6 Q219.3,596.1 217.9,591.5 Q216.6,586.9 216.8,581.0 Q217.1,575.2 218.2,571.6 Z" fill="#202020" stroke="#444444" stroke-width="1.0"/>
<path d="M221.7 572.0h0M219.1 583.9h0M219.0 575.5h0M223.7 585.9h0M222.0 589.8h0M221.2 576.1h0" stroke="#8A8A8A" stroke-width="1.1" stroke-linecap="round"/>
<ellipse cx="255.7" cy="586.8" rx="9.0" ry="11.0" fill="url(#gkid)" stroke="none" stroke-width="0"/>
<ellipse cx="272.7" cy="588.0" rx="8.5" ry="11.0" fill="url(#gkid)" stroke="none" stroke-width="0"/>
<path d="M286.5,588.0 Q287.0,580.0 293.5,573.5 Q300.0,567.0 309.0,566.5 Q318.0,566.0 328.0,568.0 Q338.0,570.0 348.0,573.0 Q358.0,576.0 359.5,583.0 Q361.0,590.0 355.5,598.0 Q350.0,606.0 340.0,613.0 Q330.0,620.0 320.0,622.0 Q310.0,624.0 302.0,618.0 Q294.0,612.0 290.0,604.0 Q286.0,596.0 286.5,588.0 Z" fill="#6E6E6E" stroke="none" stroke-width="1"/>
<text x="212.0" y="566.9" font-size="20.5" fill="#FFFFFF">Br</text>
<text x="256.3" y="564.6" font-size="20.5" fill="#FFFFFF">He</text>
<text x="330.5" y="560.5" font-size="20.5" fill="#FFFFFF">Lu</text>
<text x="213.7" y="610.1" font-size="20.5" fill="#FFFFFF">Sp</text>
<text x="256.3" y="614.2" font-size="20.5" fill="#FFFFFF">Ki</text>
<text x="335.2" y="616.0" font-size="20.5" fill="#FFFFFF">Li</text>
</svg>
<rect x="202.0" y="627.0" width="162.2" height="110.8" fill="#2B2B2B" stroke="none" stroke-width="0"/>
<svg x="202.0" y="627.0" width="162.2" height="110.8" viewBox="202.0 627.0 162.2 110.8" overflow="hidden">
<ellipse cx="230.6" cy="647.0" rx="13.8" ry="12.8" fill="url(#gbrain)" stroke="none" stroke-width="0"/>
<ellipse cx="230.6" cy="658.3" rx="5.8" ry="3.0" fill="#A8A8A8" stroke="none" stroke-width="0"/>
<line x1="230.6" y1="635.3" x2="230.6" y2="656.6" stroke="#909090" stroke-width="0.7" stroke-linecap="butt"/>
<path d="M226.8 647.8h0M224.6 649.5h0M222.3 655.2h0M238.1 641.2h0M231.5 640.8h0M226.5 653.5h0M234.8 646.2h0M225.2 645.7h0M239.6 651.4h0M223.2 644.9h0M227.8 649.9h0M229.9 647.3h0M224.1 645.3h0M240.1 640.3h0" stroke="#F4F4F4" stroke-width="1.6" stroke-linecap="round"/>
<ellipse cx="279.1" cy="651.6" rx="8.0" ry="10.5" fill="url(#gheart)" stroke="none" stroke-width="0" transform="rotate(12 279.1 651.6)"/>
<path d="M347.5,650.1 Q347.5,653.5 346.5,656.5 Q345.5,659.6 342.5,662.1 Q339.6,664.7 334.8,664.3 Q330.0,664.0 325.5,664.0 Q321.0,664.1 317.0,662.1 Q313.0,660.1 311.6,656.8 Q310.2,653.5 313.7,651.0 Q317.1,648.5 319.1,645.7 Q321.0,642.9 325.5,642.2 Q330.0,641.5 334.3,642.5 Q338.5,643.5 343.0,645.1 Q347.5,646.7 347.5,650.1 Z" fill="#B8B8B8" stroke="none" stroke-width="1"/>
<path d="M339.4,652.6 Q340.9,654.9 339.0,656.8 Q337.0,658.8 334.1,660.1 Q331.2,661.4 328.6,659.9 Q326.1,658.3 325.9,656.6 Q325.8,654.9 325.6,652.9 Q325.4,651.0 328.3,650.6 Q331.2,650.2 334.5,650.3 Q337.9,650.4 339.4,652.6 Z" fill="#EEEEEE" stroke="none" stroke-width="1"/>
<path d="M337.7,655.1 Q338.8,657.4 336.7,659.1 Q334.5,660.7 332.1,661.1 Q329.6,661.6 326.3,661.7 Q323.0,661.9 322.2,659.7 Q321.4,657.4 322.6,655.4 Q323.8,653.5 326.7,652.9 Q329.6,652.4 333.1,652.6 Q336.6,652.8 337.7,655.1 Z" fill="#D0D0D0" stroke="none" stroke-width="1"/>
<path d="M343.7,656.1 Q344.6,657.7 344.1,659.6 Q343.6,661.4 340.9,662.3 Q338.1,663.1 335.1,662.5 Q332.1,661.8 331.5,659.7 Q331.0,657.7 332.7,656.4 Q334.4,655.1 336.3,653.5 Q338.1,651.8 340.4,653.2 Q342.7,654.6 343.7,656.1 Z" fill="#EEEEEE" stroke="none" stroke-width="1"/>
<path d="M345.3,651.5 Q345.8,653.8 344.3,655.5 Q342.9,657.1 340.4,658.8 Q337.9,660.5 335.9,658.5 Q333.9,656.5 332.0,655.2 Q330.1,653.8 331.6,652.1 Q333.0,650.5 335.5,649.9 Q337.9,649.4 341.4,649.3 Q344.8,649.1 345.3,651.5 Z" fill="#C8C8C8" stroke="none" stroke-width="1"/>
<path d="M333.3,653.8 Q335.9,655.3 333.9,657.2 Q331.9,659.1 329.1,660.4 Q326.3,661.7 323.7,660.2 Q321.1,658.8 320.2,657.0 Q319.3,655.3 320.3,653.6 Q321.4,652.0 323.8,650.6 Q326.3,649.2 328.5,650.8 Q330.8,652.3 333.3,653.8 Z" fill="#E2E2E2" stroke="none" stroke-width="1"/>
<path d="M222.0,681.6 Q223.5,676.0 227.6,677.1 Q231.8,678.2 232.5,685.0 Q233.2,691.8 232.1,699.6 Q231.0,707.5 231.4,714.2 Q231.8,721.0 227.6,720.3 Q223.5,719.6 221.6,712.5 Q219.8,705.2 220.1,696.2 Q220.5,687.2 222.0,681.6 Z" fill="#202020" stroke="#444444" stroke-width="1.0"/>
<path d="M226.4 714.0h0M223.4 707.1h0M229.7 690.0h0M230.1 700.1h0M228.9 714.0h0M223.8 694.0h0" stroke="#8A8A8A" stroke-width="1.1" stroke-linecap="round"/>
<ellipse cx="264.5" cy="697.8" rx="8.0" ry="11.0" fill="url(#gkid)" stroke="none" stroke-width="0"/>
<ellipse cx="283.8" cy="697.8" rx="8.5" ry="11.0" fill="url(#gkid)" stroke="none" stroke-width="0"/>
<path d="M303.0,695.5 Q305.0,686.0 315.0,683.5 Q325.0,681.0 337.5,683.5 Q350.0,686.0 355.5,693.0 Q361.0,700.0 360.5,710.0 Q360.0,720.0 355.0,727.5 Q350.0,735.0 335.0,736.0 Q320.0,737.0 311.0,732.5 Q302.0,728.0 301.5,716.5 Q301.0,705.0 303.0,695.5 Z" fill="#3A3A3A" stroke="none" stroke-width="1"/>
<text x="222.5" y="674.4" font-size="20.5" fill="#FFFFFF">Br</text>
<text x="271.0" y="676.0" font-size="20.5" fill="#FFFFFF">He</text>
<text x="337.0" y="677.9" font-size="20.5" fill="#FFFFFF">Lu</text>
<text x="220.0" y="729.3" font-size="20.5" fill="#FFFFFF">Sp</text>
<text x="271.0" y="729.3" font-size="20.5" fill="#FFFFFF">Ki</text>
<text x="340.4" y="732.2" font-size="20.5" fill="#FFFFFF">Li</text>
</svg>
<rect x="372.7" y="510.0" width="170.9" height="112.9" fill="#1C1C1C" stroke="none" stroke-width="0"/>
<svg x="372.7" y="510.0" width="170.9" height="112.9" viewBox="372.7 510.0 170.9 112.9" overflow="hidden">
<ellipse cx="393.7" cy="531.0" rx="14.0" ry="13.0" fill="url(#gbrain)" stroke="none" stroke-width="0"/>
<ellipse cx="393.7" cy="542.5" rx="5.9" ry="3.1" fill="#A8A8A8" stroke="none" stroke-width="0"/>
<line x1="393.7" y1="519.1" x2="393.7" y2="540.8" stroke="#909090" stroke-width="0.7" stroke-linecap="butt"/>
<path d="M396.3 528.7h0M389.9 532.5h0M384.9 539.3h0M384.9 523.0h0M391.4 531.2h0M386.2 527.4h0M399.5 526.0h0M393.4 533.3h0M388.1 527.9h0M384.6 525.9h0M390.4 528.6h0M392.8 535.8h0M391.8 526.7h0M403.3 535.5h0" stroke="#F4F4F4" stroke-width="1.6" stroke-linecap="round"/>
<ellipse cx="448.2" cy="534.6" rx="6.0" ry="10.0" fill="url(#gheart)" stroke="none" stroke-width="0" transform="rotate(12 448.2 534.6)"/>
<path d="M512.0,522.8 Q513.0,526.0 511.4,528.9 Q509.8,531.9 507.5,534.8 Q505.1,537.6 500.6,537.8 Q496.0,538.1 492.1,537.0 Q488.1,536.0 484.2,534.4 Q480.2,532.7 477.0,529.4 Q473.8,526.0 475.7,522.1 Q477.6,518.2 481.5,515.4 Q485.5,512.6 490.7,513.1 Q496.0,513.6 500.8,513.6 Q505.6,513.7 508.3,516.7 Q511.0,519.6 512.0,522.8 Z" fill="#B8B8B8" stroke="none" stroke-width="1"/>
<path d="M497.9,519.0 Q499.3,521.0 498.9,523.7 Q498.4,526.5 494.7,526.0 Q491.0,525.5 488.4,525.2 Q485.7,524.9 482.9,522.9 Q480.1,521.0 482.2,518.6 Q484.3,516.1 487.7,516.1 Q491.0,516.1 493.7,516.5 Q496.5,517.0 497.9,519.0 Z" fill="#C8C8C8" stroke="none" stroke-width="1"/>
<path d="M502.4,518.8 Q503.5,520.8 502.1,522.7 Q500.7,524.6 498.1,525.2 Q495.6,525.9 491.8,526.1 Q488.1,526.4 487.4,523.6 Q486.6,520.8 487.8,518.4 Q488.9,515.9 492.2,515.1 Q495.6,514.3 498.4,515.5 Q501.2,516.7 502.4,518.8 Z" fill="#E2E2E2" stroke="none" stroke-width="1"/>
<path d="M501.0,529.6 Q503.4,531.3 500.9,532.9 Q498.5,534.5 496.3,535.6 Q494.1,536.7 491.6,535.8 Q489.1,535.0 486.7,533.1 Q484.4,531.3 485.9,528.8 Q487.4,526.3 490.8,524.9 Q494.1,523.5 496.4,525.7 Q498.7,527.9 501.0,529.6 Z" fill="#E2E2E2" stroke="none" stroke-width="1"/>
<path d="M496.8,524.2 Q496.9,526.5 497.2,529.0 Q497.5,531.4 494.1,531.4 Q490.7,531.4 487.8,531.1 Q484.8,530.8 483.0,528.6 Q481.3,526.5 482.4,523.8 Q483.6,521.2 487.2,520.8 Q490.7,520.3 493.7,521.2 Q496.8,522.0 496.8,524.2 Z" fill="#EEEEEE" stroke="none" stroke-width="1"/>
<path d="M507.5,528.5 Q509.4,530.1 508.5,532.4 Q507.5,534.7 504.4,536.2 Q501.3,537.8 498.9,535.7 Q496.4,533.7 495.3,531.9 Q494.2,530.1 495.6,528.5 Q497.0,526.9 499.1,526.1 Q501.3,525.3 503.4,526.1 Q505.6,527.0 507.5,528.5 Z" fill="#EEEEEE" stroke="none" stroke-width="1"/>
<path d="M492.5,519.0 Q492.0,514.0 496.0,513.2 Q500.0,512.5 503.0,514.8 Q506.0,517.0 510.0,518.0 Q514.0,519.0 514.2,523.5 Q514.5,528.0 512.8,532.0 Q511.0,536.0 507.0,536.5 Q503.0,537.0 501.5,532.5 Q500.0,528.0 496.5,526.0 Q493.0,524.0 492.5,519.0 Z" fill="#A00000" stroke="none" stroke-width="1"/>
<path d="M399.4,566.0 C387.1,579.5 388.1,599.8 404.2,611.0 C397.6,597.5 398.5,579.5 408.0,568.2 Z" fill="#2A2A2A" stroke="#5E5E5E" stroke-width="0.9"/>
<ellipse cx="434.0" cy="583.2" rx="8.5" ry="12.0" fill="url(#gkid)" stroke="none" stroke-width="0"/>
<ellipse cx="451.8" cy="582.0" rx="9.0" ry="12.0" fill="url(#gkid)" stroke="none" stroke-width="0"/>
<path d="M473.5,561.0 Q476.0,556.0 485.5,552.5 Q495.0,549.0 507.5,549.0 Q520.0,549.0 528.0,552.0 Q536.0,555.0 539.5,562.5 Q543.0,570.0 543.0,580.0 Q543.0,590.0 537.5,596.5 Q532.0,603.0 523.5,605.5 Q515.0,608.0 503.5,608.0 Q492.0,608.0 484.0,605.5 Q476.0,603.0 473.0,594.0 Q470.0,585.0 470.5,575.5 Q471.0,566.0 473.5,561.0 Z" fill="#7A7A7A" stroke="none" stroke-width="1"/>
<path d="M475.5,561.5 Q478.0,557.0 487.0,553.8 Q496.0,550.5 508.0,550.5 Q520.0,550.5 527.5,553.8 Q535.0,557.0 538.0,564.0 Q541.0,571.0 541.0,580.0 Q541.0,589.0 536.0,593.5 Q531.0,598.0 524.5,597.0 Q518.0,596.0 512.0,595.0 Q506.0,594.0 503.0,597.5 Q500.0,601.0 498.0,604.0 Q496.0,607.0 491.0,606.0 Q486.0,605.0 482.5,600.5 Q479.0,596.0 482.5,593.0 Q486.0,590.0 482.0,588.0 Q478.0,586.0 475.0,584.0 Q472.0,582.0 472.5,574.0 Q473.0,566.0 475.5,561.5 Z" fill="#A00000" stroke="none" stroke-width="1"/>
<path d="M478.0,585.0 Q476.0,580.0 481.0,579.0 Q486.0,578.0 488.0,582.0 Q490.0,586.0 485.0,588.0 Q480.0,590.0 478.0,585.0 Z" fill="#777777" stroke="none" stroke-width="1"/>
<path d="M504.0,600.0 Q500.0,596.0 506.0,594.0 Q512.0,592.0 516.0,594.5 Q520.0,597.0 514.0,600.5 Q508.0,604.0 504.0,600.0 Z" fill="#7A7A7A" stroke="none" stroke-width="1"/>
<circle cx="500.3" cy="569.0" r="15.0" fill="url(#hot)"/>
<g stroke="#FFFFFF" stroke-width="1"><line x1="533" y1="622" x2="543" y2="610"/><line x1="537" y1="622" x2="543" y2="614"/></g>
</svg>
<rect x="554.6" y="510.0" width="166.4" height="112.6" fill="#1C1C1C" stroke="none" stroke-width="0"/>
<svg x="554.6" y="510.0" width="166.4" height="112.6" viewBox="554.6 510.0 166.4 112.6" overflow="hidden">
<ellipse cx="578.5" cy="531.0" rx="14.0" ry="13.0" fill="url(#gbrain)" stroke="none" stroke-width="0"/>
<ellipse cx="578.5" cy="542.5" rx="5.9" ry="3.1" fill="#A8A8A8" stroke="none" stroke-width="0"/>
<line x1="578.5" y1="519.1" x2="578.5" y2="540.8" stroke="#909090" stroke-width="0.7" stroke-linecap="butt"/>
<path d="M585.9 522.8h0M581.5 523.8h0M580.8 538.2h0M577.6 524.0h0M573.3 529.0h0M578.1 538.5h0M587.6 529.0h0M578.9 534.6h0M570.3 530.6h0M584.9 536.9h0M580.2 532.5h0M570.5 523.5h0M579.9 525.0h0M586.4 533.2h0" stroke="#F4F4F4" stroke-width="1.6" stroke-linecap="round"/>
<ellipse cx="629.5" cy="528.7" rx="6.5" ry="10.0" fill="url(#gheart)" stroke="none" stroke-width="0" transform="rotate(12 629.5 528.7)"/>
<path d="M700.9,530.4 Q702.7,534.0 700.9,537.6 Q699.1,541.1 694.7,543.1 Q690.4,545.1 685.7,548.2 Q681.0,551.2 676.6,547.8 Q672.2,544.4 667.0,543.0 Q661.9,541.5 658.7,537.8 Q655.5,534.0 660.3,530.9 Q665.1,527.8 667.5,524.2 Q669.8,520.7 675.4,519.5 Q681.0,518.3 685.5,520.8 Q690.0,523.4 694.6,525.1 Q699.1,526.9 700.9,530.4 Z" fill="#B8B8B8" stroke="none" stroke-width="1"/>
<path d="M688.6,529.3 Q688.3,532.3 686.9,534.1 Q685.5,535.9 682.8,537.8 Q680.2,539.7 676.5,538.5 Q672.8,537.3 671.2,534.8 Q669.5,532.3 671.6,530.1 Q673.8,527.9 677.0,526.8 Q680.2,525.7 684.5,526.1 Q688.8,526.4 688.6,529.3 Z" fill="#D0D0D0" stroke="none" stroke-width="1"/>
<path d="M681.2,534.0 Q681.5,536.4 680.6,538.3 Q679.7,540.2 676.9,542.0 Q674.1,543.9 671.3,542.0 Q668.5,540.2 665.0,538.3 Q661.5,536.4 663.6,533.5 Q665.6,530.6 669.9,529.6 Q674.1,528.7 677.5,530.2 Q681.0,531.7 681.2,534.0 Z" fill="#EEEEEE" stroke="none" stroke-width="1"/>
<path d="M689.9,536.5 Q690.5,539.4 689.4,541.9 Q688.3,544.3 684.7,545.3 Q681.1,546.4 677.4,545.4 Q673.7,544.4 671.5,541.9 Q669.4,539.4 670.7,536.3 Q672.1,533.3 676.6,532.6 Q681.1,531.9 685.2,532.8 Q689.4,533.7 689.9,536.5 Z" fill="#E2E2E2" stroke="none" stroke-width="1"/>
<path d="M686.2,538.0 Q689.7,539.9 687.0,542.3 Q684.3,544.6 680.8,545.8 Q677.3,546.9 674.2,545.6 Q671.0,544.2 670.4,542.1 Q669.7,539.9 670.3,537.7 Q671.0,535.5 674.2,535.0 Q677.3,534.5 680.1,535.3 Q682.8,536.2 686.2,538.0 Z" fill="#E2E2E2" stroke="none" stroke-width="1"/>
<path d="M694.5,527.3 Q696.2,529.5 693.8,531.4 Q691.4,533.2 688.7,534.3 Q686.0,535.4 682.7,534.8 Q679.3,534.1 679.2,531.8 Q679.0,529.5 679.0,527.2 Q679.0,524.8 682.5,522.9 Q686.0,521.0 689.4,523.0 Q692.7,525.0 694.5,527.3 Z" fill="#C8C8C8" stroke="none" stroke-width="1"/>
<path d="M578.5,559.5 C571.5,572.3 572.1,591.5 581.2,602.2 C577.4,589.4 578.0,572.3 583.3,561.6 Z" fill="#2A2A2A" stroke="#5E5E5E" stroke-width="0.9"/>
<ellipse cx="614.0" cy="580.8" rx="9.5" ry="13.0" fill="url(#gkid)" stroke="none" stroke-width="0"/>
<ellipse cx="629.5" cy="580.8" rx="9.5" ry="13.0" fill="url(#gkid)" stroke="none" stroke-width="0"/>
<path d="M643.6,567.5 Q646.0,560.0 654.0,556.8 Q662.0,553.6 676.0,553.8 Q690.0,554.0 699.0,558.0 Q708.0,562.0 711.0,571.0 Q714.0,580.0 713.8,590.0 Q713.6,600.0 709.3,607.0 Q705.0,614.0 692.5,615.2 Q680.0,616.4 668.0,614.2 Q656.0,612.0 649.5,603.5 Q643.0,595.0 642.1,585.0 Q641.3,575.0 643.6,567.5 Z" fill="#8C8C8C" stroke="none" stroke-width="1"/>
<path d="M647.0,573.0 Q648.0,562.0 654.0,561.5 Q660.0,561.0 664.0,564.0 Q668.0,567.0 675.0,570.5 Q682.0,574.0 690.0,578.5 Q698.0,583.0 703.0,586.5 Q708.0,590.0 709.0,597.5 Q710.0,605.0 707.0,607.5 Q704.0,610.0 700.0,607.0 Q696.0,604.0 692.0,607.0 Q688.0,610.0 683.0,611.0 Q678.0,612.0 674.0,608.0 Q670.0,604.0 665.0,602.0 Q660.0,600.0 656.0,599.0 Q652.0,598.0 654.0,594.0 Q656.0,590.0 651.0,587.0 Q646.0,584.0 647.0,573.0 Z" fill="#A00000" stroke="none" stroke-width="1"/>
<circle cx="672.1" cy="592.7" r="13.0" fill="url(#hot)"/>
<g stroke="#FFFFFF" stroke-width="1"><line x1="710" y1="622" x2="721" y2="610"/><line x1="714" y1="622" x2="721" y2="614"/></g>
</svg>
<rect x="372.7" y="627.0" width="170.9" height="111.7" fill="#2C2C2C" stroke="none" stroke-width="0"/>
<svg x="372.7" y="627.0" width="170.9" height="111.7" viewBox="372.7 627.0 170.9 111.7" overflow="hidden">
<ellipse cx="396.0" cy="649.5" rx="14.0" ry="13.0" fill="url(#gbrain)" stroke="none" stroke-width="0"/>
<ellipse cx="396.0" cy="661.0" rx="5.9" ry="3.1" fill="#A8A8A8" stroke="none" stroke-width="0"/>
<line x1="396.0" y1="637.6" x2="396.0" y2="659.3" stroke="#909090" stroke-width="0.7" stroke-linecap="butt"/>
<path d="M395.1 646.7h0M401.6 656.6h0M392.8 647.0h0M394.2 644.2h0M397.7 646.4h0M386.2 651.1h0M387.6 649.3h0M399.7 641.3h0M389.9 650.7h0M402.6 653.8h0M402.9 657.0h0M390.0 651.3h0M403.3 646.9h0M398.9 655.9h0" stroke="#F4F4F4" stroke-width="1.6" stroke-linecap="round"/>
<ellipse cx="437.5" cy="648.4" rx="7.5" ry="10.0" fill="url(#gheart)" stroke="none" stroke-width="0" transform="rotate(12 437.5 648.4)"/>
<path d="M500.3,647.1 Q502.1,651.0 501.2,655.4 Q500.2,659.7 497.2,664.0 Q494.2,668.2 488.3,668.0 Q482.5,667.8 477.5,666.8 Q472.5,665.8 468.5,662.8 Q464.6,659.8 464.8,655.4 Q465.0,651.0 465.1,646.7 Q465.1,642.5 468.5,639.0 Q472.0,635.5 477.2,633.8 Q482.5,632.0 486.7,635.3 Q490.9,638.7 494.7,640.9 Q498.5,643.2 500.3,647.1 Z" fill="#B8B8B8" stroke="none" stroke-width="1"/>
<path d="M489.6,649.9 Q492.9,651.9 490.2,654.4 Q487.5,657.0 484.5,659.0 Q481.5,661.0 478.8,658.8 Q476.1,656.5 474.4,654.2 Q472.6,651.9 474.3,649.6 Q476.0,647.2 478.8,645.7 Q481.5,644.1 483.9,646.0 Q486.3,647.9 489.6,649.9 Z" fill="#C8C8C8" stroke="none" stroke-width="1"/>
<path d="M489.5,654.2 Q492.3,656.4 489.6,658.7 Q486.8,660.9 484.2,663.5 Q481.5,666.1 478.4,664.0 Q475.2,661.8 474.1,659.1 Q473.1,656.4 473.9,653.5 Q474.7,650.6 478.1,650.5 Q481.5,650.3 484.1,651.2 Q486.7,652.0 489.5,654.2 Z" fill="#D0D0D0" stroke="none" stroke-width="1"/>
<path d="M483.3,648.9 Q485.1,651.2 484.1,654.2 Q483.2,657.1 479.7,658.3 Q476.2,659.4 472.6,658.3 Q469.1,657.2 467.0,654.2 Q465.0,651.2 466.9,648.1 Q468.9,645.0 472.5,645.0 Q476.2,645.1 478.8,645.9 Q481.5,646.7 483.3,648.9 Z" fill="#D0D0D0" stroke="none" stroke-width="1"/>
<path d="M481.5,644.7 Q480.8,648.0 481.5,651.3 Q482.2,654.6 478.3,655.6 Q474.4,656.7 472.1,654.2 Q469.9,651.8 467.5,649.9 Q465.1,648.0 467.1,645.7 Q469.0,643.4 471.7,641.0 Q474.4,638.6 478.2,640.0 Q482.1,641.4 481.5,644.7 Z" fill="#E2E2E2" stroke="none" stroke-width="1"/>
<path d="M490.6,654.0 Q490.9,657.0 489.5,659.0 Q488.1,661.1 485.7,663.2 Q483.3,665.4 480.6,663.5 Q477.9,661.5 475.7,659.3 Q473.6,657.0 475.9,654.8 Q478.2,652.7 480.8,649.9 Q483.3,647.1 486.8,649.1 Q490.3,651.0 490.6,654.0 Z" fill="#E2E2E2" stroke="none" stroke-width="1"/>
<path d="M387.5,690.4 Q389.2,685.0 393.7,686.1 Q398.3,687.1 399.1,693.6 Q400.0,700.0 398.7,707.5 Q397.5,715.0 397.9,721.4 Q398.3,727.8 393.7,727.2 Q389.2,726.5 387.1,719.7 Q385.0,712.8 385.4,704.3 Q385.9,695.7 387.5,690.4 Z" fill="#202020" stroke="#444444" stroke-width="1.0"/>
<path d="M392.6 689.4h0M389.0 716.2h0M390.8 722.1h0M390.1 716.1h0M395.2 709.9h0M395.9 715.5h0" stroke="#8A8A8A" stroke-width="1.1" stroke-linecap="round"/>
<ellipse cx="422.0" cy="705.2" rx="9.0" ry="11.5" fill="url(#gkid)" stroke="none" stroke-width="0"/>
<ellipse cx="438.7" cy="705.2" rx="9.0" ry="11.5" fill="url(#gkid)" stroke="none" stroke-width="0"/>
<path d="M466.4,696.0 Q468.0,682.0 474.0,679.0 Q480.0,676.0 486.0,675.8 Q492.0,675.6 498.5,676.8 Q505.0,678.0 512.5,681.0 Q520.0,684.0 529.0,689.0 Q538.0,694.0 540.5,703.0 Q543.0,712.0 540.5,721.0 Q538.0,730.0 526.5,733.0 Q515.0,736.0 502.5,736.5 Q490.0,737.0 480.0,733.5 Q470.0,730.0 467.4,720.0 Q464.8,710.0 466.4,696.0 Z" fill="#6E6E6E" stroke="none" stroke-width="1"/>
<path d="M468.2,696.5 Q470.0,683.0 475.5,680.5 Q481.0,678.0 486.5,677.8 Q492.0,677.5 498.5,678.8 Q505.0,680.0 512.0,683.0 Q519.0,686.0 527.5,690.5 Q536.0,695.0 538.5,703.5 Q541.0,712.0 538.5,720.5 Q536.0,729.0 525.0,731.5 Q514.0,734.0 502.0,734.5 Q490.0,735.0 480.5,732.0 Q471.0,729.0 468.8,719.5 Q466.5,710.0 468.2,696.5 Z" fill="#9A0000" stroke="none" stroke-width="1"/>
<path d="M509.0,712.0 Q505.0,706.0 510.5,704.5 Q516.0,703.0 519.0,707.5 Q522.0,712.0 517.5,715.0 Q513.0,718.0 509.0,712.0 Z" fill="#5E8080" stroke="none" stroke-width="1"/>
<circle cx="492.0" cy="694.6" r="16.0" fill="url(#hot)"/>
</svg>
<rect x="554.6" y="629.6" width="169.2" height="109.8" fill="#2E2E2E" stroke="none" stroke-width="0"/>
<svg x="554.6" y="629.6" width="169.2" height="109.8" viewBox="554.6 629.6 169.2 109.8" overflow="hidden">
<ellipse cx="573.8" cy="653.1" rx="14.0" ry="13.0" fill="url(#gbrain)" stroke="none" stroke-width="0"/>
<ellipse cx="573.8" cy="664.6" rx="5.9" ry="3.1" fill="#A8A8A8" stroke="none" stroke-width="0"/>
<line x1="573.8" y1="641.2" x2="573.8" y2="662.9" stroke="#909090" stroke-width="0.7" stroke-linecap="butt"/>
<path d="M565.2 646.9h0M567.3 647.6h0M575.2 655.9h0M579.0 646.9h0M579.0 649.3h0M565.5 645.6h0M569.3 659.3h0M571.1 659.6h0M564.3 657.8h0M567.3 653.3h0M575.8 653.3h0M564.9 647.5h0M582.7 656.1h0M581.0 645.6h0" stroke="#F4F4F4" stroke-width="1.6" stroke-linecap="round"/>
<ellipse cx="626.0" cy="653.1" rx="7.5" ry="9.0" fill="url(#gheart)" stroke="none" stroke-width="0" transform="rotate(12 626.0 653.1)"/>
<path d="M698.5,645.1 Q700.0,648.3 700.3,652.2 Q700.5,656.1 696.4,658.9 Q692.3,661.8 686.6,663.3 Q681.0,664.8 676.4,662.1 Q671.8,659.3 668.3,657.0 Q664.8,654.8 663.9,651.5 Q663.0,648.3 663.9,645.1 Q664.8,641.8 667.2,638.2 Q669.5,634.6 675.3,635.3 Q681.0,635.9 686.3,635.8 Q691.6,635.6 694.4,638.7 Q697.1,641.9 698.5,645.1 Z" fill="#B8B8B8" stroke="none" stroke-width="1"/>
<path d="M683.7,648.6 Q685.5,650.7 683.6,652.7 Q681.7,654.7 678.8,656.4 Q675.9,658.2 672.0,657.2 Q668.1,656.2 666.9,653.4 Q665.7,650.7 668.4,649.1 Q671.2,647.4 673.6,646.3 Q675.9,645.2 679.0,645.9 Q682.0,646.6 683.7,648.6 Z" fill="#D0D0D0" stroke="none" stroke-width="1"/>
<path d="M691.9,648.0 Q692.6,650.5 692.3,653.1 Q692.0,655.8 688.1,655.6 Q684.2,655.4 681.3,654.9 Q678.4,654.5 676.9,652.5 Q675.4,650.5 675.6,647.6 Q675.9,644.8 680.1,644.6 Q684.2,644.5 687.7,645.1 Q691.3,645.6 691.9,648.0 Z" fill="#D0D0D0" stroke="none" stroke-width="1"/>
<path d="M692.5,641.4 Q692.9,644.2 691.6,646.4 Q690.3,648.6 687.1,650.4 Q684.0,652.3 679.8,651.1 Q675.7,649.9 675.6,647.1 Q675.6,644.2 675.7,641.4 Q675.9,638.6 679.9,637.3 Q684.0,635.9 688.0,637.3 Q692.0,638.7 692.5,641.4 Z" fill="#E2E2E2" stroke="none" stroke-width="1"/>
<path d="M690.1,642.0 Q691.1,644.6 689.7,646.8 Q688.3,649.1 685.0,650.6 Q681.7,652.1 677.7,651.1 Q673.7,650.0 673.4,647.3 Q673.1,644.6 674.0,642.2 Q674.8,639.8 678.2,638.7 Q681.7,637.6 685.4,638.5 Q689.2,639.4 690.1,642.0 Z" fill="#EEEEEE" stroke="none" stroke-width="1"/>
<path d="M679.7,640.8 Q680.5,643.4 678.5,645.3 Q676.6,647.2 673.9,649.5 Q671.1,651.8 667.0,650.5 Q662.8,649.2 661.5,646.3 Q660.3,643.4 661.7,640.7 Q663.1,637.9 667.1,638.3 Q671.1,638.8 675.0,638.4 Q678.9,638.1 679.7,640.8 Z" fill="#E2E2E2" stroke="none" stroke-width="1"/>
<path d="M580.2,694.8 Q581.6,689.8 585.5,690.8 Q589.5,691.8 590.2,697.8 Q590.9,703.9 589.8,710.9 Q588.7,717.9 589.1,724.0 Q589.5,730.0 585.5,729.4 Q581.6,728.8 579.8,722.4 Q578.0,715.9 578.4,707.9 Q578.7,699.8 580.2,694.8 Z" fill="#202020" stroke="#444444" stroke-width="1.0"/>
<path d="M581.0 697.0h0M581.7 701.9h0M581.9 722.7h0M585.3 712.9h0M581.1 720.7h0M582.9 715.0h0" stroke="#8A8A8A" stroke-width="1.1" stroke-linecap="round"/>
<ellipse cx="618.8" cy="704.0" rx="9.0" ry="11.5" fill="url(#gkid)" stroke="none" stroke-width="0"/>
<ellipse cx="633.0" cy="704.0" rx="9.0" ry="11.5" fill="url(#gkid)" stroke="none" stroke-width="0"/>
<path d="M653.5,684.0 Q655.0,676.0 663.5,674.0 Q672.0,672.0 680.0,676.0 Q688.0,680.0 695.0,676.5 Q702.0,673.0 707.5,676.5 Q713.0,680.0 713.9,692.5 Q714.8,705.0 712.4,715.5 Q710.0,726.0 700.0,729.5 Q690.0,733.0 677.5,732.0 Q665.0,731.0 659.0,723.0 Q653.0,715.0 652.5,703.5 Q652.0,692.0 653.5,684.0 Z" fill="#787878" stroke="none" stroke-width="1"/>
<path d="M655.8,685.0 Q657.0,678.0 664.5,676.2 Q672.0,674.5 680.0,678.8 Q688.0,683.0 695.0,679.5 Q702.0,676.0 706.5,679.0 Q711.0,682.0 711.8,693.5 Q712.5,705.0 710.2,713.5 Q708.0,722.0 699.0,725.5 Q690.0,729.0 678.0,728.0 Q666.0,727.0 660.8,720.0 Q655.5,713.0 655.0,702.5 Q654.5,692.0 655.8,685.0 Z" fill="#860000" stroke="none" stroke-width="1"/>
</svg>
<rect x="201.7" y="799.6" width="165.6" height="112.4" fill="#161616" stroke="none" stroke-width="0"/>
<svg x="201.7" y="799.6" width="165.6" height="112.4" viewBox="201.7 799.6 165.6 112.4" overflow="hidden">
<ellipse cx="223.2" cy="823.7" rx="13.2" ry="12.3" fill="url(#gbrain)" stroke="none" stroke-width="0"/>
<ellipse cx="223.2" cy="834.6" rx="5.6" ry="2.9" fill="#A8A8A8" stroke="none" stroke-width="0"/>
<line x1="223.2" y1="812.4" x2="223.2" y2="833.0" stroke="#909090" stroke-width="0.7" stroke-linecap="butt"/>
<path d="M225.1 820.9h0M227.9 824.2h0M227.6 819.1h0M223.9 823.6h0M230.0 828.2h0M230.8 825.3h0M219.9 817.3h0M217.2 817.7h0M216.7 828.5h0M220.1 824.7h0M232.2 829.5h0M231.3 818.9h0M230.0 824.1h0M222.5 816.6h0" stroke="#F4F4F4" stroke-width="1.6" stroke-linecap="round"/>
<ellipse cx="267.6" cy="827.5" rx="6.5" ry="9.5" fill="url(#gheart)" stroke="none" stroke-width="0" transform="rotate(12 267.6 827.5)"/>
<path d="M335.2,821.4 Q338.9,824.4 334.0,827.0 Q329.1,829.6 327.6,833.2 Q326.1,836.7 320.7,836.2 Q315.2,835.6 309.2,836.7 Q303.3,837.8 302.2,833.7 Q301.2,829.6 296.7,827.0 Q292.2,824.4 294.4,820.9 Q296.6,817.4 300.2,814.5 Q303.8,811.5 309.5,810.2 Q315.2,808.8 319.7,811.6 Q324.2,814.3 327.8,816.3 Q331.4,818.3 335.2,821.4 Z" fill="#B8B8B8" stroke="none" stroke-width="1"/>
<path d="M333.5,816.3 Q335.3,818.7 333.8,821.2 Q332.4,823.8 328.4,823.6 Q324.5,823.4 321.7,822.9 Q318.9,822.3 317.3,820.5 Q315.6,818.7 317.5,817.0 Q319.4,815.4 322.0,814.8 Q324.5,814.3 328.2,814.1 Q331.8,813.9 333.5,816.3 Z" fill="#E2E2E2" stroke="none" stroke-width="1"/>
<path d="M316.7,827.9 Q318.5,830.1 317.3,832.6 Q316.0,835.1 312.2,836.3 Q308.4,837.5 304.9,836.0 Q301.5,834.6 301.2,832.3 Q301.0,830.1 300.6,827.4 Q300.2,824.8 304.3,823.8 Q308.4,822.8 311.7,824.3 Q315.0,825.8 316.7,827.9 Z" fill="#E2E2E2" stroke="none" stroke-width="1"/>
<path d="M315.5,825.7 Q317.9,828.0 315.1,829.9 Q312.2,831.8 309.3,832.2 Q306.3,832.6 302.2,832.9 Q298.1,833.3 296.9,830.6 Q295.7,828.0 297.6,825.7 Q299.5,823.5 302.9,822.1 Q306.3,820.7 309.7,822.1 Q313.1,823.5 315.5,825.7 Z" fill="#D0D0D0" stroke="none" stroke-width="1"/>
<path d="M332.0,827.8 Q334.0,830.2 330.6,831.8 Q327.1,833.3 324.7,834.3 Q322.3,835.3 318.5,835.3 Q314.6,835.3 312.9,832.8 Q311.2,830.2 313.5,828.1 Q315.7,825.9 319.0,825.0 Q322.3,824.1 326.2,824.7 Q330.0,825.3 332.0,827.8 Z" fill="#D0D0D0" stroke="none" stroke-width="1"/>
<path d="M315.0,821.6 Q314.9,824.0 315.2,826.6 Q315.5,829.2 311.5,829.3 Q307.5,829.4 303.7,829.2 Q299.9,829.0 299.4,826.5 Q298.8,824.0 301.0,822.6 Q303.1,821.1 305.3,819.7 Q307.5,818.3 311.3,818.7 Q315.0,819.2 315.0,821.6 Z" fill="#EEEEEE" stroke="none" stroke-width="1"/>
<path d="M219.6,861.0 Q220.9,855.0 224.5,856.2 Q228.1,857.4 228.7,864.6 Q229.3,871.8 228.4,880.2 Q227.4,888.6 227.7,895.8 Q228.1,903.0 224.5,902.3 Q220.9,901.6 219.3,893.9 Q217.7,886.2 218.0,876.6 Q218.3,867.0 219.6,861.0 Z" fill="#202020" stroke="#444444" stroke-width="1.0"/>
<path d="M221.4 882.0h0M226.3 863.9h0M225.8 890.6h0M224.3 875.3h0M223.6 861.6h0M225.9 889.1h0" stroke="#8A8A8A" stroke-width="1.1" stroke-linecap="round"/>
<ellipse cx="258.8" cy="874.5" rx="9.0" ry="11.5" fill="url(#gkid)" stroke="none" stroke-width="0"/>
<ellipse cx="274.0" cy="874.5" rx="9.0" ry="11.5" fill="url(#gkid)" stroke="none" stroke-width="0"/>
<path d="M294.0,860.0 Q296.0,850.0 304.0,846.0 Q312.0,842.0 321.0,842.0 Q330.0,842.0 340.0,845.0 Q350.0,848.0 355.0,856.5 Q360.0,865.0 358.0,875.0 Q356.0,885.0 348.0,891.5 Q340.0,898.0 327.5,899.0 Q315.0,900.0 306.5,895.0 Q298.0,890.0 295.0,880.0 Q292.0,870.0 294.0,860.0 Z" fill="#9A9A9A" stroke="none" stroke-width="1"/>
<path d="M313.0,864.0 Q312.0,858.0 318.5,858.0 Q325.0,858.0 331.5,862.0 Q338.0,866.0 345.0,868.0 Q352.0,870.0 353.0,877.5 Q354.0,885.0 351.0,885.5 Q348.0,886.0 343.0,881.0 Q338.0,876.0 331.5,874.0 Q325.0,872.0 319.5,871.0 Q314.0,870.0 313.0,864.0 Z" fill="#A00000" stroke="none" stroke-width="1"/>
<circle cx="320.9" cy="864.3" r="8.0" fill="url(#hot)"/>
</svg>
<rect x="200.4" y="919.4" width="168.7" height="109.3" fill="#262626" stroke="none" stroke-width="0"/>
<svg x="200.4" y="919.4" width="168.7" height="109.3" viewBox="200.4 919.4 168.7 109.3" overflow="hidden">
<ellipse cx="220.7" cy="936.6" rx="13.0" ry="12.1" fill="url(#gbrain)" stroke="none" stroke-width="0"/>
<ellipse cx="220.7" cy="947.3" rx="5.5" ry="2.9" fill="#A8A8A8" stroke="none" stroke-width="0"/>
<line x1="220.7" y1="925.6" x2="220.7" y2="945.7" stroke="#909090" stroke-width="0.7" stroke-linecap="butt"/>
<path d="M227.0 938.3h0M225.9 942.4h0M213.3 929.7h0M216.7 944.1h0M227.0 940.3h0M212.4 939.2h0M214.1 931.7h0M212.1 943.9h0M216.8 931.2h0M222.8 943.3h0M228.4 930.3h0M224.4 933.3h0M214.4 937.8h0M212.4 935.9h0" stroke="#F4F4F4" stroke-width="1.6" stroke-linecap="round"/>
<ellipse cx="267.6" cy="935.3" rx="6.5" ry="9.0" fill="url(#gheart)" stroke="none" stroke-width="0" transform="rotate(12 267.6 935.3)"/>
<path d="M334.0,934.7 Q336.4,938.5 336.0,943.3 Q335.6,948.0 331.6,952.0 Q327.6,955.9 321.4,955.0 Q315.2,954.1 309.4,954.4 Q303.6,954.8 299.6,951.2 Q295.5,947.7 294.2,943.1 Q292.8,938.5 296.3,934.9 Q299.8,931.3 303.3,928.9 Q306.7,926.6 310.9,924.4 Q315.2,922.3 321.0,922.3 Q326.7,922.3 329.2,926.6 Q331.6,930.8 334.0,934.7 Z" fill="#B8B8B8" stroke="none" stroke-width="1"/>
<path d="M325.1,940.0 Q326.7,943.2 325.4,946.6 Q324.0,949.9 319.8,950.6 Q315.7,951.2 312.7,949.6 Q309.7,948.0 308.7,945.6 Q307.7,943.2 308.8,940.9 Q309.9,938.5 312.8,937.9 Q315.7,937.3 319.6,937.1 Q323.5,936.8 325.1,940.0 Z" fill="#EEEEEE" stroke="none" stroke-width="1"/>
<path d="M319.0,940.4 Q321.8,942.6 319.8,945.4 Q317.7,948.2 314.2,950.3 Q310.8,952.4 308.2,949.6 Q305.6,946.7 303.2,944.7 Q300.8,942.6 301.6,939.2 Q302.4,935.8 306.6,934.4 Q310.8,933.0 313.5,935.6 Q316.2,938.2 319.0,940.4 Z" fill="#EEEEEE" stroke="none" stroke-width="1"/>
<path d="M315.6,927.8 Q315.6,931.3 314.1,933.5 Q312.5,935.7 309.8,938.1 Q307.0,940.5 303.2,939.0 Q299.4,937.5 297.3,934.4 Q295.2,931.3 297.8,928.6 Q300.5,926.0 303.8,924.9 Q307.0,923.9 311.3,924.1 Q315.5,924.4 315.6,927.8 Z" fill="#C8C8C8" stroke="none" stroke-width="1"/>
<path d="M329.2,934.7 Q330.3,937.3 329.7,940.2 Q329.2,943.2 325.5,944.7 Q321.8,946.2 318.0,944.8 Q314.3,943.4 313.3,940.3 Q312.3,937.3 314.0,934.8 Q315.7,932.3 318.7,930.1 Q321.8,928.0 325.0,930.1 Q328.1,932.2 329.2,934.7 Z" fill="#EEEEEE" stroke="none" stroke-width="1"/>
<path d="M326.8,938.9 Q329.3,941.3 327.0,943.9 Q324.6,946.5 321.4,946.7 Q318.2,946.8 315.1,946.5 Q312.0,946.3 311.1,943.8 Q310.3,941.3 311.4,939.0 Q312.5,936.8 315.3,934.3 Q318.2,931.9 321.2,934.1 Q324.2,936.4 326.8,938.9 Z" fill="#C8C8C8" stroke="none" stroke-width="1"/>
<path d="M218.4,962.5 Q220.1,955.0 224.8,956.5 Q229.4,958.0 230.3,967.0 Q231.2,976.0 229.9,986.5 Q228.6,997.0 229.0,1006.0 Q229.4,1015.0 224.8,1014.1 Q220.1,1013.2 218.0,1003.6 Q215.8,994.0 216.3,982.0 Q216.7,970.0 218.4,962.5 Z" fill="#202020" stroke="#444444" stroke-width="1.0"/>
<path d="M219.4 986.8h0M225.5 996.9h0M223.9 1000.6h0M222.9 980.5h0M220.2 989.5h0M221.6 998.0h0" stroke="#8A8A8A" stroke-width="1.1" stroke-linecap="round"/>
<ellipse cx="261.3" cy="982.3" rx="8.5" ry="11.0" fill="url(#gkid)" stroke="none" stroke-width="0"/>
<ellipse cx="281.6" cy="982.3" rx="8.5" ry="11.0" fill="url(#gkid)" stroke="none" stroke-width="0"/>
<path d="M296.0,977.5 Q298.0,965.0 309.0,961.5 Q320.0,958.0 335.0,959.0 Q350.0,960.0 358.0,967.5 Q366.0,975.0 366.0,990.0 Q366.0,1005.0 359.0,1014.5 Q352.0,1024.0 336.0,1025.5 Q320.0,1027.0 310.0,1021.0 Q300.0,1015.0 297.0,1002.5 Q294.0,990.0 296.0,977.5 Z" fill="#8C8C8C" stroke="none" stroke-width="1"/>
<path d="M323.5,974.0 Q325.0,970.0 335.0,968.0 Q345.0,966.0 350.5,969.0 Q356.0,972.0 354.0,983.5 Q352.0,995.0 345.0,997.5 Q338.0,1000.0 331.5,1004.0 Q325.0,1008.0 318.5,1011.0 Q312.0,1014.0 310.0,1005.0 Q308.0,996.0 313.0,993.0 Q318.0,990.0 320.0,984.0 Q322.0,978.0 323.5,974.0 Z" fill="#900000" stroke="none" stroke-width="1"/>
</svg>
<rect x="385.0" y="799.0" width="158.0" height="112.9" fill="#141414" stroke="none" stroke-width="0"/>
<svg x="385.0" y="799.0" width="158.0" height="112.9" viewBox="385.0 799.0 158.0 112.9" overflow="hidden">
<ellipse cx="408.4" cy="820.1" rx="13.5" ry="12.6" fill="url(#gbrain)" stroke="none" stroke-width="0"/>
<ellipse cx="408.4" cy="831.2" rx="5.7" ry="3.0" fill="#A8A8A8" stroke="none" stroke-width="0"/>
<line x1="408.4" y1="808.6" x2="408.4" y2="829.6" stroke="#909090" stroke-width="0.7" stroke-linecap="butt"/>
<path d="M409.6 812.8h0M412.9 825.1h0M407.5 826.7h0M412.5 824.5h0M405.5 812.9h0M403.2 812.6h0M409.2 818.6h0M416.1 825.8h0M405.2 823.1h0M402.9 820.7h0M411.4 817.6h0M405.0 827.6h0M399.6 814.0h0M417.2 820.8h0" stroke="#F4F4F4" stroke-width="1.6" stroke-linecap="round"/>
<ellipse cx="446.8" cy="821.8" rx="7.0" ry="9.0" fill="url(#gheart)" stroke="none" stroke-width="0" transform="rotate(12 446.8 821.8)"/>
<path d="M511.0,817.7 Q513.4,821.8 512.5,826.8 Q511.6,831.8 507.7,834.7 Q503.8,837.5 499.5,838.7 Q495.2,839.9 491.1,838.3 Q487.1,836.7 482.3,834.7 Q477.6,832.6 478.6,827.2 Q479.6,821.8 481.1,817.9 Q482.5,814.1 485.0,810.9 Q487.5,807.7 491.4,806.6 Q495.2,805.5 499.2,806.4 Q503.1,807.3 505.8,810.5 Q508.6,813.6 511.0,817.7 Z" fill="#B8B8B8" stroke="none" stroke-width="1"/>
<path d="M504.4,822.9 Q503.9,826.4 504.2,829.7 Q504.4,833.0 501.3,834.7 Q498.2,836.4 496.0,833.8 Q493.7,831.1 492.2,828.8 Q490.7,826.4 491.0,822.8 Q491.3,819.1 494.8,819.6 Q498.2,820.0 501.5,819.7 Q504.9,819.4 504.4,822.9 Z" fill="#E2E2E2" stroke="none" stroke-width="1"/>
<path d="M502.5,817.2 Q504.2,820.1 503.0,823.4 Q501.7,826.8 498.6,828.4 Q495.4,830.0 492.7,827.9 Q489.9,825.8 489.7,823.0 Q489.4,820.1 489.8,817.4 Q490.3,814.7 492.8,813.0 Q495.4,811.3 498.1,812.9 Q500.7,814.4 502.5,817.2 Z" fill="#EEEEEE" stroke="none" stroke-width="1"/>
<path d="M502.7,820.7 Q503.7,823.3 502.6,825.9 Q501.4,828.4 499.0,829.8 Q496.6,831.3 493.2,830.9 Q489.8,830.6 489.8,827.0 Q489.8,823.3 490.6,820.6 Q491.5,817.9 494.1,816.1 Q496.6,814.4 499.1,816.2 Q501.6,818.1 502.7,820.7 Z" fill="#E2E2E2" stroke="none" stroke-width="1"/>
<path d="M497.5,816.5 Q499.1,819.0 498.4,822.5 Q497.8,826.1 494.5,827.2 Q491.1,828.4 487.7,827.4 Q484.2,826.4 483.7,822.7 Q483.2,819.0 484.4,816.1 Q485.6,813.2 488.4,812.7 Q491.1,812.2 493.5,813.1 Q495.9,813.9 497.5,816.5 Z" fill="#EEEEEE" stroke="none" stroke-width="1"/>
<path d="M508.8,822.7 Q510.0,826.2 507.4,828.3 Q504.9,830.5 502.9,831.6 Q500.9,832.6 498.4,832.1 Q495.8,831.6 495.1,828.9 Q494.4,826.2 494.4,822.8 Q494.4,819.4 497.7,818.2 Q500.9,817.0 504.2,818.0 Q507.6,819.1 508.8,822.7 Z" fill="#EEEEEE" stroke="none" stroke-width="1"/>
<path d="M409.6,851.0 Q410.9,845.0 414.5,846.2 Q418.1,847.4 418.7,854.6 Q419.4,861.8 418.4,870.2 Q417.4,878.6 417.7,885.8 Q418.1,893.0 414.5,892.3 Q410.9,891.6 409.3,883.9 Q407.6,876.2 408.0,866.6 Q408.3,857.0 409.6,851.0 Z" fill="#202020" stroke="#444444" stroke-width="1.0"/>
<path d="M414.9 861.1h0M412.7 866.3h0M412.5 882.7h0M413.7 858.6h0M416.4 874.5h0M411.7 858.2h0" stroke="#8A8A8A" stroke-width="1.1" stroke-linecap="round"/>
<ellipse cx="443.4" cy="868.5" rx="15.0" ry="13.0" fill="#6A6A6A" stroke="none" stroke-width="0"/>
<path d="M465.0,866.0 Q466.0,852.0 477.0,847.0 Q488.0,842.0 501.5,841.0 Q515.0,840.0 525.0,844.0 Q535.0,848.0 536.5,861.5 Q538.0,875.0 533.0,886.5 Q528.0,898.0 516.5,901.5 Q505.0,905.0 491.5,902.5 Q478.0,900.0 471.0,890.0 Q464.0,880.0 465.0,866.0 Z" fill="#727272" stroke="none" stroke-width="1"/>
<ellipse cx="500.2" cy="885.2" rx="6.0" ry="8.0" fill="#B00000" stroke="none" stroke-width="0"/>
</svg>
<rect x="389.0" y="919.6" width="150.6" height="108.1" fill="#262626" stroke="none" stroke-width="0"/>
<svg x="389.0" y="919.6" width="150.6" height="108.1" viewBox="389.0 919.6 150.6 108.1" overflow="hidden">
<ellipse cx="413.4" cy="941.9" rx="12.5" ry="11.6" fill="url(#gbrain)" stroke="none" stroke-width="0"/>
<ellipse cx="413.4" cy="952.1" rx="5.2" ry="2.8" fill="#A8A8A8" stroke="none" stroke-width="0"/>
<line x1="413.4" y1="931.3" x2="413.4" y2="950.6" stroke="#909090" stroke-width="0.7" stroke-linecap="butt"/>
<path d="M417.0 936.3h0M416.3 936.1h0M407.6 936.1h0M405.3 942.2h0M410.9 944.8h0M413.1 945.7h0M409.1 945.2h0M422.0 935.2h0M415.1 948.3h0M408.9 945.0h0M417.4 942.1h0M414.7 945.8h0M417.6 936.4h0M407.6 942.8h0" stroke="#F4F4F4" stroke-width="1.6" stroke-linecap="round"/>
<ellipse cx="455.1" cy="940.3" rx="6.5" ry="9.0" fill="url(#gheart)" stroke="none" stroke-width="0" transform="rotate(12 455.1 940.3)"/>
<path d="M512.9,938.0 Q513.3,942.0 513.9,946.6 Q514.5,951.1 510.8,954.3 Q507.2,957.5 502.4,958.2 Q497.7,958.9 493.7,957.0 Q489.7,955.1 485.0,953.3 Q480.3,951.5 478.9,946.7 Q477.5,942.0 479.8,937.7 Q482.0,933.5 485.4,930.4 Q488.7,927.2 493.2,927.0 Q497.7,926.8 501.3,928.5 Q504.9,930.2 508.7,932.1 Q512.5,933.9 512.9,938.0 Z" fill="#B8B8B8" stroke="none" stroke-width="1"/>
<path d="M497.5,942.9 Q499.2,944.9 498.6,947.9 Q498.0,950.9 494.8,952.2 Q491.7,953.6 489.0,951.8 Q486.3,950.0 485.7,947.5 Q485.2,944.9 486.4,943.0 Q487.6,941.1 489.6,939.6 Q491.7,938.2 493.7,939.6 Q495.8,941.0 497.5,942.9 Z" fill="#EEEEEE" stroke="none" stroke-width="1"/>
<path d="M504.1,935.2 Q505.7,937.7 504.8,940.8 Q503.9,943.8 500.6,943.5 Q497.3,943.1 493.8,943.7 Q490.3,944.3 489.4,941.0 Q488.6,937.7 489.8,934.7 Q491.1,931.8 494.2,930.1 Q497.3,928.4 499.9,930.6 Q502.5,932.8 504.1,935.2 Z" fill="#C8C8C8" stroke="none" stroke-width="1"/>
<path d="M510.5,939.0 Q510.8,942.2 510.7,945.7 Q510.6,949.2 506.9,950.0 Q503.2,950.8 501.1,948.5 Q499.0,946.2 496.9,944.2 Q494.9,942.2 496.8,940.0 Q498.7,937.9 501.0,937.3 Q503.2,936.6 506.7,936.2 Q510.1,935.7 510.5,939.0 Z" fill="#D0D0D0" stroke="none" stroke-width="1"/>
<path d="M509.0,931.8 Q509.3,934.6 508.5,936.8 Q507.7,939.1 505.3,939.5 Q502.9,940.0 500.2,939.9 Q497.5,939.7 496.1,937.1 Q494.7,934.6 496.3,932.2 Q497.8,929.8 500.4,928.7 Q502.9,927.6 505.8,928.4 Q508.7,929.1 509.0,931.8 Z" fill="#C8C8C8" stroke="none" stroke-width="1"/>
<path d="M496.4,944.3 Q498.1,946.5 496.7,949.0 Q495.2,951.4 492.6,952.3 Q489.9,953.2 487.0,952.6 Q484.1,952.0 483.1,949.3 Q482.1,946.5 483.7,944.2 Q485.2,942.0 487.6,941.5 Q489.9,940.9 492.3,941.5 Q494.7,942.0 496.4,944.3 Z" fill="#D0D0D0" stroke="none" stroke-width="1"/>
<path d="M411.6,982.0 Q412.9,977.0 416.5,978.0 Q420.1,979.0 420.7,985.0 Q421.4,991.0 420.4,998.0 Q419.4,1005.0 419.7,1011.0 Q420.1,1017.0 416.5,1016.4 Q412.9,1015.8 411.3,1009.4 Q409.6,1003.0 410.0,995.0 Q410.3,987.0 411.6,982.0 Z" fill="#202020" stroke="#444444" stroke-width="1.0"/>
<path d="M418.4 1012.4h0M417.2 1007.7h0M414.4 985.1h0M414.6 1009.3h0M417.3 1010.3h0M413.3 988.4h0" stroke="#8A8A8A" stroke-width="1.1" stroke-linecap="round"/>
<ellipse cx="445.1" cy="995.3" rx="8.0" ry="10.0" fill="url(#gkid)" stroke="none" stroke-width="0"/>
<ellipse cx="463.5" cy="995.3" rx="8.0" ry="10.0" fill="url(#gkid)" stroke="none" stroke-width="0"/>
<path d="M478.0,986.5 Q480.0,975.0 490.0,971.5 Q500.0,968.0 510.0,970.0 Q520.0,972.0 523.0,983.5 Q526.0,995.0 524.0,1007.5 Q522.0,1020.0 511.0,1024.0 Q500.0,1028.0 491.0,1024.0 Q482.0,1020.0 479.0,1009.0 Q476.0,998.0 478.0,986.5 Z" fill="#989898" stroke="none" stroke-width="1"/>
<path d="M502.5,986.0 Q502.0,982.0 506.0,981.0 Q510.0,980.0 511.0,984.0 Q512.0,988.0 507.5,989.0 Q503.0,990.0 502.5,986.0 Z" fill="#A00000" stroke="none" stroke-width="1"/>
<ellipse cx="495.2" cy="1003.7" rx="8.0" ry="8.0" fill="#A00000" stroke="none" stroke-width="0"/>
</svg>
<rect x="559.3" y="799.4" width="158.7" height="110.2" fill="#161616" stroke="none" stroke-width="0"/>
<svg x="559.3" y="799.4" width="158.7" height="110.2" viewBox="559.3 799.4 158.7 110.2" overflow="hidden">
<ellipse cx="582.0" cy="831.8" rx="13.0" ry="12.1" fill="url(#gbrain)" stroke="none" stroke-width="0"/>
<ellipse cx="582.0" cy="842.5" rx="5.5" ry="2.9" fill="#A8A8A8" stroke="none" stroke-width="0"/>
<line x1="582.0" y1="820.8" x2="582.0" y2="840.9" stroke="#909090" stroke-width="0.7" stroke-linecap="butt"/>
<path d="M574.0 836.7h0M576.7 833.6h0M583.1 829.0h0M589.4 832.1h0M582.4 826.2h0M590.9 838.5h0M578.0 828.0h0M578.1 839.5h0M576.7 829.9h0M575.3 826.0h0M574.4 827.4h0M575.8 830.2h0M574.8 833.3h0M588.6 833.0h0" stroke="#F4F4F4" stroke-width="1.6" stroke-linecap="round"/>
<ellipse cx="623.0" cy="833.5" rx="7.0" ry="8.5" fill="url(#gheart)" stroke="none" stroke-width="0" transform="rotate(12 623.0 833.5)"/>
<path d="M694.0,821.8 Q697.2,825.0 695.7,828.8 Q694.2,832.7 689.8,835.3 Q685.4,838.0 679.6,836.9 Q673.8,835.8 668.6,836.3 Q663.4,836.7 660.2,834.0 Q657.0,831.3 655.3,828.2 Q653.6,825.0 656.3,822.2 Q659.0,819.5 662.0,817.3 Q665.0,815.1 669.4,813.7 Q673.8,812.3 678.2,813.6 Q682.7,815.0 686.7,816.8 Q690.8,818.6 694.0,821.8 Z" fill="#B8B8B8" stroke="none" stroke-width="1"/>
<path d="M690.5,828.2 Q692.4,830.2 690.2,832.1 Q687.9,833.9 685.1,835.8 Q682.3,837.6 678.4,836.5 Q674.5,835.3 673.8,832.8 Q673.1,830.2 674.2,828.0 Q675.3,825.7 678.8,824.6 Q682.3,823.5 685.5,824.8 Q688.6,826.1 690.5,828.2 Z" fill="#E2E2E2" stroke="none" stroke-width="1"/>
<path d="M672.3,821.0 Q675.1,822.7 673.7,825.4 Q672.3,828.0 668.2,828.9 Q664.1,829.7 660.3,828.7 Q656.4,827.8 654.4,825.3 Q652.5,822.7 654.6,820.4 Q656.8,818.0 660.5,816.7 Q664.1,815.4 666.8,817.3 Q669.5,819.3 672.3,821.0 Z" fill="#C8C8C8" stroke="none" stroke-width="1"/>
<path d="M681.3,818.7 Q682.2,820.7 681.0,822.4 Q679.7,824.1 677.1,824.6 Q674.4,825.1 670.5,825.4 Q666.7,825.7 666.7,823.2 Q666.6,820.7 667.8,818.9 Q668.9,817.1 671.6,815.2 Q674.4,813.3 677.4,815.0 Q680.5,816.7 681.3,818.7 Z" fill="#D0D0D0" stroke="none" stroke-width="1"/>
<path d="M676.9,817.5 Q679.1,819.3 677.6,821.5 Q676.0,823.8 672.6,824.5 Q669.1,825.3 665.4,824.7 Q661.6,824.2 660.9,821.8 Q660.2,819.3 662.1,817.6 Q663.9,815.9 666.5,814.1 Q669.1,812.3 671.9,814.0 Q674.6,815.8 676.9,817.5 Z" fill="#C8C8C8" stroke="none" stroke-width="1"/>
<path d="M689.9,817.8 Q690.0,820.4 689.8,822.9 Q689.6,825.4 685.7,826.5 Q681.8,827.5 677.8,826.5 Q673.9,825.6 673.3,823.0 Q672.8,820.4 674.2,818.3 Q675.5,816.3 678.7,814.7 Q681.8,813.1 685.9,814.1 Q689.9,815.1 689.9,817.8 Z" fill="#C8C8C8" stroke="none" stroke-width="1"/>
<path d="M587.8,866.8 Q589.2,862.0 593.0,863.0 Q596.9,863.9 597.6,869.6 Q598.3,875.3 597.2,882.0 Q596.2,888.6 596.5,894.3 Q596.9,900.0 593.0,899.4 Q589.2,898.9 587.5,892.8 Q585.7,886.7 586.0,879.1 Q586.4,871.5 587.8,866.8 Z" fill="#202020" stroke="#444444" stroke-width="1.0"/>
<path d="M594.1 871.6h0M591.4 888.8h0M590.5 877.3h0M594.3 877.9h0M595.4 884.5h0M592.9 873.8h0" stroke="#8A8A8A" stroke-width="1.1" stroke-linecap="round"/>
<ellipse cx="615.3" cy="876.8" rx="8.0" ry="10.5" fill="url(#gkid)" stroke="none" stroke-width="0"/>
<ellipse cx="628.7" cy="876.8" rx="8.0" ry="10.5" fill="url(#gkid)" stroke="none" stroke-width="0"/>
<path d="M646.5,870.0 Q648.0,860.0 658.0,854.0 Q668.0,848.0 680.0,848.0 Q692.0,848.0 698.5,854.0 Q705.0,860.0 706.0,872.5 Q707.0,885.0 701.5,895.0 Q696.0,905.0 684.0,905.5 Q672.0,906.0 662.0,902.0 Q652.0,898.0 648.5,889.0 Q645.0,880.0 646.5,870.0 Z" fill="#7C7C7C" stroke="none" stroke-width="1"/>
</svg>
<rect x="560.3" y="916.9" width="158.5" height="109.5" fill="#2B2B2B" stroke="none" stroke-width="0"/>
<svg x="560.3" y="916.9" width="158.5" height="109.5" viewBox="560.3 916.9 158.5 109.5" overflow="hidden">
<ellipse cx="578.6" cy="941.9" rx="12.2" ry="11.4" fill="url(#gbrain)" stroke="none" stroke-width="0"/>
<ellipse cx="578.6" cy="951.9" rx="5.1" ry="2.7" fill="#A8A8A8" stroke="none" stroke-width="0"/>
<line x1="578.6" y1="931.5" x2="578.6" y2="950.5" stroke="#909090" stroke-width="0.7" stroke-linecap="butt"/>
<path d="M574.2 944.7h0M576.1 946.4h0M571.1 947.4h0M578.1 941.5h0M575.6 938.7h0M583.5 940.2h0M584.3 944.1h0M574.5 938.6h0M585.4 943.2h0M578.6 944.6h0M583.8 943.2h0M584.3 936.7h0M580.4 946.2h0M578.5 936.1h0" stroke="#F4F4F4" stroke-width="1.6" stroke-linecap="round"/>
<ellipse cx="631.0" cy="943.6" rx="6.5" ry="8.5" fill="url(#gheart)" stroke="none" stroke-width="0" transform="rotate(12 631.0 943.6)"/>
<path d="M692.7,941.1 Q693.2,945.0 693.7,949.4 Q694.2,953.8 690.5,956.8 Q686.7,959.8 681.8,959.0 Q677.0,958.3 672.1,959.1 Q667.2,959.9 664.4,956.4 Q661.5,952.9 662.3,949.0 Q663.1,945.0 661.4,940.6 Q659.6,936.1 664.5,934.7 Q669.3,933.3 673.2,932.2 Q677.0,931.2 681.1,931.8 Q685.2,932.4 688.7,934.8 Q692.2,937.2 692.7,941.1 Z" fill="#B8B8B8" stroke="none" stroke-width="1"/>
<path d="M681.0,948.6 Q682.0,950.8 681.9,953.8 Q681.7,956.8 678.3,957.3 Q674.9,957.8 672.9,956.0 Q670.9,954.3 670.1,952.5 Q669.4,950.8 669.9,948.7 Q670.3,946.7 672.6,946.0 Q674.9,945.4 677.4,945.9 Q679.9,946.3 681.0,948.6 Z" fill="#E2E2E2" stroke="none" stroke-width="1"/>
<path d="M679.2,947.0 Q679.5,950.0 678.4,952.2 Q677.2,954.5 674.7,955.8 Q672.1,957.1 669.5,955.9 Q666.9,954.7 665.9,952.3 Q664.9,950.0 665.8,947.6 Q666.8,945.3 669.5,944.8 Q672.1,944.2 675.5,944.1 Q678.9,944.1 679.2,947.0 Z" fill="#C8C8C8" stroke="none" stroke-width="1"/>
<path d="M676.0,949.1 Q678.1,951.1 675.6,952.8 Q673.1,954.5 671.1,956.6 Q669.2,958.6 666.5,957.3 Q663.7,956.0 661.9,953.6 Q660.1,951.1 662.2,949.0 Q664.3,946.8 666.8,945.7 Q669.2,944.5 671.5,945.8 Q673.9,947.0 676.0,949.1 Z" fill="#EEEEEE" stroke="none" stroke-width="1"/>
<path d="M675.0,944.1 Q676.9,945.9 675.5,948.1 Q674.1,950.3 671.6,952.2 Q669.1,954.1 666.1,952.6 Q663.2,951.1 661.2,948.5 Q659.2,945.9 661.9,943.9 Q664.6,941.9 666.8,939.8 Q669.1,937.6 671.1,940.0 Q673.1,942.4 675.0,944.1 Z" fill="#E2E2E2" stroke="none" stroke-width="1"/>
<path d="M684.7,937.6 Q685.6,939.9 684.3,942.0 Q683.1,944.0 680.8,945.7 Q678.5,947.3 676.3,945.6 Q674.0,943.9 671.9,941.9 Q669.9,939.9 671.1,937.2 Q672.4,934.6 675.5,934.2 Q678.5,933.9 681.2,934.5 Q683.9,935.2 684.7,937.6 Z" fill="#D0D0D0" stroke="none" stroke-width="1"/>
<path d="M572.8,973.2 Q574.2,967.0 578.0,968.2 Q581.9,969.5 582.6,977.0 Q583.3,984.5 582.2,993.2 Q581.2,1002.0 581.5,1009.5 Q581.9,1017.0 578.0,1016.2 Q574.2,1015.5 572.5,1007.5 Q570.7,999.5 571.0,989.5 Q571.4,979.5 572.8,973.2 Z" fill="#202020" stroke="#444444" stroke-width="1.0"/>
<path d="M575.2 1011.7h0M578.2 993.6h0M578.4 1008.5h0M578.6 992.6h0M573.6 1000.8h0M576.9 989.8h0" stroke="#8A8A8A" stroke-width="1.1" stroke-linecap="round"/>
<ellipse cx="618.7" cy="990.3" rx="8.5" ry="10.5" fill="url(#gkid)" stroke="none" stroke-width="0"/>
<ellipse cx="632.0" cy="990.3" rx="8.5" ry="10.5" fill="url(#gkid)" stroke="none" stroke-width="0"/>
<path d="M651.5,989.0 Q653.0,980.0 662.5,976.0 Q672.0,972.0 686.0,973.5 Q700.0,975.0 706.5,983.5 Q713.0,992.0 710.5,1002.0 Q708.0,1012.0 698.0,1014.5 Q688.0,1017.0 675.0,1014.5 Q662.0,1012.0 656.0,1005.0 Q650.0,998.0 651.5,989.0 Z" fill="#3E3E3E" stroke="none" stroke-width="1"/>
<path d="M651.5,989.0 Q653.0,980.0 662.5,976.0 Q672.0,972.0 686.0,973.5 Q700.0,975.0 706.5,983.5 Q713.0,992.0 710.5,1002.0 Q708.0,1012.0 698.0,1014.5 Q688.0,1017.0 675.0,1014.5 Q662.0,1012.0 656.0,1005.0 Q650.0,998.0 651.5,989.0 Z" fill="none" stroke="#6A6A6A" stroke-width="1.5"/>
</svg>
<rect x="768.8" y="478.4" width="13.2" height="274.3" fill="url(#cbar)" stroke="#222" stroke-width="0.8"/>
<line x1="782.0" y1="478.9" x2="794.5" y2="478.9" stroke="#000" stroke-width="2.2" stroke-linecap="butt"/>
<line x1="782.0" y1="489.6" x2="790.0" y2="489.6" stroke="#000" stroke-width="2.0" stroke-linecap="butt"/>
<line x1="782.0" y1="500.4" x2="790.0" y2="500.4" stroke="#000" stroke-width="2.0" stroke-linecap="butt"/>
<line x1="782.0" y1="511.1" x2="790.0" y2="511.1" stroke="#000" stroke-width="2.0" stroke-linecap="butt"/>
<line x1="782.0" y1="521.8" x2="790.0" y2="521.8" stroke="#000" stroke-width="2.0" stroke-linecap="butt"/>
<line x1="782.0" y1="532.6" x2="794.5" y2="532.6" stroke="#000" stroke-width="2.2" stroke-linecap="butt"/>
<line x1="782.0" y1="543.3" x2="790.0" y2="543.3" stroke="#000" stroke-width="2.0" stroke-linecap="butt"/>
<line x1="782.0" y1="554.0" x2="790.0" y2="554.0" stroke="#000" stroke-width="2.0" stroke-linecap="butt"/>
<line x1="782.0" y1="564.8" x2="790.0" y2="564.8" stroke="#000" stroke-width="2.0" stroke-linecap="butt"/>
<line x1="782.0" y1="575.5" x2="790.0" y2="575.5" stroke="#000" stroke-width="2.0" stroke-linecap="butt"/>
<line x1="782.0" y1="586.2" x2="794.5" y2="586.2" stroke="#000" stroke-width="2.2" stroke-linecap="butt"/>
<line x1="782.0" y1="597.0" x2="790.0" y2="597.0" stroke="#000" stroke-width="2.0" stroke-linecap="butt"/>
<line x1="782.0" y1="607.7" x2="790.0" y2="607.7" stroke="#000" stroke-width="2.0" stroke-linecap="butt"/>
<line x1="782.0" y1="618.4" x2="790.0" y2="618.4" stroke="#000" stroke-width="2.0" stroke-linecap="butt"/>
<line x1="782.0" y1="629.1" x2="790.0" y2="629.1" stroke="#000" stroke-width="2.0" stroke-linecap="butt"/>
<line x1="782.0" y1="639.9" x2="794.5" y2="639.9" stroke="#000" stroke-width="2.2" stroke-linecap="butt"/>
<line x1="782.0" y1="650.6" x2="790.0" y2="650.6" stroke="#000" stroke-width="2.0" stroke-linecap="butt"/>
<line x1="782.0" y1="661.3" x2="790.0" y2="661.3" stroke="#000" stroke-width="2.0" stroke-linecap="butt"/>
<line x1="782.0" y1="672.1" x2="790.0" y2="672.1" stroke="#000" stroke-width="2.0" stroke-linecap="butt"/>
<line x1="782.0" y1="682.8" x2="790.0" y2="682.8" stroke="#000" stroke-width="2.0" stroke-linecap="butt"/>
<line x1="782.0" y1="693.5" x2="794.5" y2="693.5" stroke="#000" stroke-width="2.2" stroke-linecap="butt"/>
<line x1="782.0" y1="704.3" x2="790.0" y2="704.3" stroke="#000" stroke-width="2.0" stroke-linecap="butt"/>
<line x1="782.0" y1="715.0" x2="790.0" y2="715.0" stroke="#000" stroke-width="2.0" stroke-linecap="butt"/>
<line x1="782.0" y1="725.7" x2="790.0" y2="725.7" stroke="#000" stroke-width="2.0" stroke-linecap="butt"/>
<line x1="782.0" y1="736.5" x2="790.0" y2="736.5" stroke="#000" stroke-width="2.0" stroke-linecap="butt"/>
<line x1="782.0" y1="747.2" x2="794.5" y2="747.2" stroke="#000" stroke-width="2.2" stroke-linecap="butt"/>
<rect x="765.6" y="790.0" width="12.7" height="261.7" fill="url(#cbar)" stroke="#222" stroke-width="0.8"/>
<line x1="778.3" y1="790.5" x2="790.8" y2="790.5" stroke="#000" stroke-width="2.2" stroke-linecap="butt"/>
<line x1="778.3" y1="800.7" x2="786.3" y2="800.7" stroke="#000" stroke-width="2.0" stroke-linecap="butt"/>
<line x1="778.3" y1="811.0" x2="786.3" y2="811.0" stroke="#000" stroke-width="2.0" stroke-linecap="butt"/>
<line x1="778.3" y1="821.2" x2="786.3" y2="821.2" stroke="#000" stroke-width="2.0" stroke-linecap="butt"/>
<line x1="778.3" y1="831.4" x2="786.3" y2="831.4" stroke="#000" stroke-width="2.0" stroke-linecap="butt"/>
<line x1="778.3" y1="841.6" x2="790.8" y2="841.6" stroke="#000" stroke-width="2.2" stroke-linecap="butt"/>
<line x1="778.3" y1="851.9" x2="786.3" y2="851.9" stroke="#000" stroke-width="2.0" stroke-linecap="butt"/>
<line x1="778.3" y1="862.1" x2="786.3" y2="862.1" stroke="#000" stroke-width="2.0" stroke-linecap="butt"/>
<line x1="778.3" y1="872.3" x2="786.3" y2="872.3" stroke="#000" stroke-width="2.0" stroke-linecap="butt"/>
<line x1="778.3" y1="882.6" x2="786.3" y2="882.6" stroke="#000" stroke-width="2.0" stroke-linecap="butt"/>
<line x1="778.3" y1="892.8" x2="790.8" y2="892.8" stroke="#000" stroke-width="2.2" stroke-linecap="butt"/>
<line x1="778.3" y1="903.0" x2="786.3" y2="903.0" stroke="#000" stroke-width="2.0" stroke-linecap="butt"/>
<line x1="778.3" y1="913.2" x2="786.3" y2="913.2" stroke="#000" stroke-width="2.0" stroke-linecap="butt"/>
<line x1="778.3" y1="923.5" x2="786.3" y2="923.5" stroke="#000" stroke-width="2.0" stroke-linecap="butt"/>
<line x1="778.3" y1="933.7" x2="786.3" y2="933.7" stroke="#000" stroke-width="2.0" stroke-linecap="butt"/>
<line x1="778.3" y1="943.9" x2="790.8" y2="943.9" stroke="#000" stroke-width="2.2" stroke-linecap="butt"/>
<line x1="778.3" y1="954.1" x2="786.3" y2="954.1" stroke="#000" stroke-width="2.0" stroke-linecap="butt"/>
<line x1="778.3" y1="964.4" x2="786.3" y2="964.4" stroke="#000" stroke-width="2.0" stroke-linecap="butt"/>
<line x1="778.3" y1="974.6" x2="786.3" y2="974.6" stroke="#000" stroke-width="2.0" stroke-linecap="butt"/>
<line x1="778.3" y1="984.8" x2="786.3" y2="984.8" stroke="#000" stroke-width="2.0" stroke-linecap="butt"/>
<line x1="778.3" y1="995.1" x2="790.8" y2="995.1" stroke="#000" stroke-width="2.2" stroke-linecap="butt"/>
<line x1="778.3" y1="1005.3" x2="786.3" y2="1005.3" stroke="#000" stroke-width="2.0" stroke-linecap="butt"/>
<line x1="778.3" y1="1015.5" x2="786.3" y2="1015.5" stroke="#000" stroke-width="2.0" stroke-linecap="butt"/>
<line x1="778.3" y1="1025.7" x2="786.3" y2="1025.7" stroke="#000" stroke-width="2.0" stroke-linecap="butt"/>
<line x1="778.3" y1="1036.0" x2="786.3" y2="1036.0" stroke="#000" stroke-width="2.0" stroke-linecap="butt"/>
<line x1="778.3" y1="1046.2" x2="790.8" y2="1046.2" stroke="#000" stroke-width="2.2" stroke-linecap="butt"/>
<text x="814.6" y="481.7" font-size="23.5" fill="#000">6.0</text>
<text x="816.4" y="638.0" font-size="23.5" fill="#000">3.0</text>
<text x="816.4" y="747.2" font-size="23.5" fill="#000">1.0</text>
<text x="812.0" y="797.3" font-size="23.5" fill="#000">6.0</text>
<text x="813.1" y="955.2" font-size="23.5" fill="#000">3.0</text>
<text x="812.4" y="1051.0" font-size="23.5" fill="#000">1.0</text>
<text x="818.0" y="565.2" font-size="23.5" fill="#000" textLength="41.5" lengthAdjust="spacingAndGlyphs">x10</text>
<text x="860.5" y="550.7" font-size="15.5" fill="#000">7</text>
<text x="815.3" y="882.8" font-size="23.5" fill="#000" textLength="41.5" lengthAdjust="spacingAndGlyphs">x10</text>
<text x="857.8" y="868.3" font-size="15.5" fill="#000">7</text>
<line x1="970.5" y1="615.0" x2="970.5" y2="1016.0" stroke="#000" stroke-width="5" stroke-linecap="butt"/>
<line x1="968.0" y1="616.8" x2="1496.0" y2="616.8" stroke="#000" stroke-width="3.6" stroke-linecap="butt"/>
<line x1="1494.2" y1="615.0" x2="1494.2" y2="1016.0" stroke="#000" stroke-width="3.6" stroke-linecap="butt"/>
<line x1="957.5" y1="1013.4" x2="1496.0" y2="1013.4" stroke="#000" stroke-width="5.2" stroke-linecap="butt"/>
<line x1="957.5" y1="1013.4" x2="970.5" y2="1013.4" stroke="#000" stroke-width="4.6" stroke-linecap="butt"/>
<text x="952.5" y="1022.2" font-size="25.5" fill="#000" text-anchor="end">0.0</text>
<line x1="963.3" y1="980.4" x2="970.5" y2="980.4" stroke="#000" stroke-width="4.6" stroke-linecap="butt"/>
<line x1="957.5" y1="947.3" x2="970.5" y2="947.3" stroke="#000" stroke-width="4.6" stroke-linecap="butt"/>
<text x="952.5" y="956.1" font-size="25.5" fill="#000" text-anchor="end">2.0</text>
<line x1="963.3" y1="914.3" x2="970.5" y2="914.3" stroke="#000" stroke-width="4.6" stroke-linecap="butt"/>
<line x1="957.5" y1="881.2" x2="970.5" y2="881.2" stroke="#000" stroke-width="4.6" stroke-linecap="butt"/>
<text x="952.5" y="890.0" font-size="25.5" fill="#000" text-anchor="end">4.0</text>
<line x1="963.3" y1="848.2" x2="970.5" y2="848.2" stroke="#000" stroke-width="4.6" stroke-linecap="butt"/>
<line x1="957.5" y1="815.2" x2="970.5" y2="815.2" stroke="#000" stroke-width="4.6" stroke-linecap="butt"/>
<text x="952.5" y="824.0" font-size="25.5" fill="#000" text-anchor="end">6.0</text>
<line x1="963.3" y1="782.1" x2="970.5" y2="782.1" stroke="#000" stroke-width="4.6" stroke-linecap="butt"/>
<line x1="957.5" y1="749.1" x2="970.5" y2="749.1" stroke="#000" stroke-width="4.6" stroke-linecap="butt"/>
<text x="952.5" y="757.9" font-size="25.5" fill="#000" text-anchor="end">8.0</text>
<line x1="963.3" y1="716.0" x2="970.5" y2="716.0" stroke="#000" stroke-width="4.6" stroke-linecap="butt"/>
<line x1="957.5" y1="683.0" x2="970.5" y2="683.0" stroke="#000" stroke-width="4.6" stroke-linecap="butt"/>
<text x="952.5" y="691.8" font-size="25.5" fill="#000" text-anchor="end">10.0</text>
<line x1="963.3" y1="650.0" x2="970.5" y2="650.0" stroke="#000" stroke-width="4.6" stroke-linecap="butt"/>
<line x1="957.5" y1="616.9" x2="970.5" y2="616.9" stroke="#000" stroke-width="4.6" stroke-linecap="butt"/>
<text x="952.5" y="625.7" font-size="25.5" fill="#000" text-anchor="end">12.0</text>
<text x="898.6" y="583.7" font-size="36" fill="#000" text-anchor="end">d</text>
<text transform="translate(885.2,904.0) rotate(-90)" x="0" y="0" font-size="26.5" fill="#000" textLength="166.6" lengthAdjust="spacingAndGlyphs">Intensity (X10</text>
<text transform="translate(871.5,737.2) rotate(-90)" x="0" y="0" font-size="17.5" fill="#000" textLength="12.5" lengthAdjust="spacingAndGlyphs">8</text>
<text transform="translate(885.2,724.5) rotate(-90)" x="0" y="0" font-size="26.5" fill="#000">)</text>
<line x1="1013.7" y1="1013.4" x2="1013.7" y2="1025.5" stroke="#000" stroke-width="4.6" stroke-linecap="butt"/>
<line x1="1100.5" y1="1013.4" x2="1100.5" y2="1025.5" stroke="#000" stroke-width="4.6" stroke-linecap="butt"/>
<line x1="1188.0" y1="1013.4" x2="1188.0" y2="1025.5" stroke="#000" stroke-width="4.6" stroke-linecap="butt"/>
<line x1="1275.2" y1="1013.4" x2="1275.2" y2="1025.5" stroke="#000" stroke-width="4.6" stroke-linecap="butt"/>
<line x1="1362.6" y1="1013.4" x2="1362.6" y2="1025.5" stroke="#000" stroke-width="4.6" stroke-linecap="butt"/>
<line x1="1449.5" y1="1013.4" x2="1449.5" y2="1025.5" stroke="#000" stroke-width="4.6" stroke-linecap="butt"/>
<text x="1013.7" y="1052.3" font-size="25.5" fill="#000" text-anchor="middle">Heart</text>
<text x="1100.5" y="1052.3" font-size="25.5" fill="#000" text-anchor="middle">liver</text>
<text x="1188.0" y="1052.3" font-size="25.5" fill="#000" text-anchor="middle">spleen</text>
<text x="1275.2" y="1052.3" font-size="25.5" fill="#000" text-anchor="middle">lung</text>
<text x="1362.6" y="1052.3" font-size="25.5" fill="#000" text-anchor="middle">kidney</text>
<text x="1449.5" y="1052.3" font-size="25.5" fill="#000" text-anchor="middle">brain</text>
<rect x="977.6" y="1001.8" width="9.0" height="11.6" fill="#fff" stroke="#666666" stroke-width="2.5"/>
<line x1="982.1" y1="998.7" x2="982.1" y2="1005.0" stroke="#666666" stroke-width="2.2" stroke-linecap="butt"/>
<line x1="978.6" y1="998.7" x2="985.6" y2="998.7" stroke="#666666" stroke-width="2.2" stroke-linecap="butt"/>
<line x1="978.6" y1="1005.0" x2="985.6" y2="1005.0" stroke="#666666" stroke-width="2.2" stroke-linecap="butt"/>
<circle cx="980.5" cy="998.5" r="3.5" fill="#666666" stroke="none" stroke-width="0"/>
<circle cx="982.1" cy="1001.8" r="3.5" fill="#666666" stroke="none" stroke-width="0"/>
<circle cx="983.7" cy="1003.5" r="3.5" fill="#666666" stroke="none" stroke-width="0"/>
<rect x="993.4" y="999.9" width="9.0" height="13.5" fill="#fff" stroke="#0B7BFF" stroke-width="2.5"/>
<line x1="997.9" y1="996.4" x2="997.9" y2="1003.3" stroke="#0B7BFF" stroke-width="2.2" stroke-linecap="butt"/>
<line x1="994.4" y1="996.4" x2="1001.4" y2="996.4" stroke="#0B7BFF" stroke-width="2.2" stroke-linecap="butt"/>
<line x1="994.4" y1="1003.3" x2="1001.4" y2="1003.3" stroke="#0B7BFF" stroke-width="2.2" stroke-linecap="butt"/>
<circle cx="996.3" cy="996.2" r="3.5" fill="#0B7BFF" stroke="none" stroke-width="0"/>
<circle cx="997.9" cy="999.9" r="3.5" fill="#0B7BFF" stroke="none" stroke-width="0"/>
<circle cx="999.5" cy="1001.5" r="3.5" fill="#0B7BFF" stroke="none" stroke-width="0"/>
<rect x="1009.2" y="1001.8" width="9.0" height="11.6" fill="#fff" stroke="#CC55DD" stroke-width="2.5"/>
<line x1="1013.7" y1="998.7" x2="1013.7" y2="1005.0" stroke="#CC55DD" stroke-width="2.2" stroke-linecap="butt"/>
<line x1="1010.2" y1="998.7" x2="1017.2" y2="998.7" stroke="#CC55DD" stroke-width="2.2" stroke-linecap="butt"/>
<line x1="1010.2" y1="1005.0" x2="1017.2" y2="1005.0" stroke="#CC55DD" stroke-width="2.2" stroke-linecap="butt"/>
<circle cx="1012.1" cy="998.5" r="3.5" fill="#CC55DD" stroke="none" stroke-width="0"/>
<circle cx="1013.7" cy="1001.8" r="3.5" fill="#CC55DD" stroke="none" stroke-width="0"/>
<circle cx="1015.3" cy="1003.5" r="3.5" fill="#CC55DD" stroke="none" stroke-width="0"/>
<rect x="1025.0" y="1002.8" width="9.0" height="10.6" fill="#fff" stroke="#FF9F33" stroke-width="2.5"/>
<line x1="1029.5" y1="1000.3" x2="1029.5" y2="1005.3" stroke="#FF9F33" stroke-width="2.2" stroke-linecap="butt"/>
<line x1="1026.0" y1="1000.3" x2="1033.0" y2="1000.3" stroke="#FF9F33" stroke-width="2.2" stroke-linecap="butt"/>
<line x1="1026.0" y1="1005.3" x2="1033.0" y2="1005.3" stroke="#FF9F33" stroke-width="2.2" stroke-linecap="butt"/>
<circle cx="1027.9" cy="1000.2" r="3.5" fill="#FF9F33" stroke="none" stroke-width="0"/>
<circle cx="1029.5" cy="1002.8" r="3.5" fill="#FF9F33" stroke="none" stroke-width="0"/>
<circle cx="1031.1" cy="1004.1" r="3.5" fill="#FF9F33" stroke="none" stroke-width="0"/>
<rect x="1040.8" y="1002.8" width="9.0" height="10.6" fill="#fff" stroke="#FF3B3B" stroke-width="2.5"/>
<line x1="1045.3" y1="999.7" x2="1045.3" y2="1006.0" stroke="#FF3B3B" stroke-width="2.2" stroke-linecap="butt"/>
<line x1="1041.8" y1="999.7" x2="1048.8" y2="999.7" stroke="#FF3B3B" stroke-width="2.2" stroke-linecap="butt"/>
<line x1="1041.8" y1="1006.0" x2="1048.8" y2="1006.0" stroke="#FF3B3B" stroke-width="2.2" stroke-linecap="butt"/>
<circle cx="1043.7" cy="999.5" r="3.5" fill="#FF3B3B" stroke="none" stroke-width="0"/>
<circle cx="1045.3" cy="1002.8" r="3.5" fill="#FF3B3B" stroke="none" stroke-width="0"/>
<circle cx="1046.9" cy="1004.1" r="3.5" fill="#FF3B3B" stroke="none" stroke-width="0"/>
<rect x="1064.4" y="755.7" width="9.0" height="257.7" fill="#fff" stroke="#666666" stroke-width="2.5"/>
<line x1="1068.9" y1="729.0" x2="1068.9" y2="782.4" stroke="#666666" stroke-width="2.2" stroke-linecap="butt"/>
<line x1="1065.4" y1="729.0" x2="1072.4" y2="729.0" stroke="#666666" stroke-width="2.2" stroke-linecap="butt"/>
<line x1="1065.4" y1="782.4" x2="1072.4" y2="782.4" stroke="#666666" stroke-width="2.2" stroke-linecap="butt"/>
<circle cx="1067.3" cy="727.9" r="3.5" fill="#666666" stroke="none" stroke-width="0"/>
<circle cx="1068.9" cy="752.4" r="3.5" fill="#666666" stroke="none" stroke-width="0"/>
<circle cx="1070.5" cy="783.8" r="3.5" fill="#666666" stroke="none" stroke-width="0"/>
<rect x="1080.2" y="774.5" width="9.0" height="238.9" fill="#fff" stroke="#0B7BFF" stroke-width="2.5"/>
<line x1="1084.7" y1="759.8" x2="1084.7" y2="789.3" stroke="#0B7BFF" stroke-width="2.2" stroke-linecap="butt"/>
<line x1="1081.2" y1="759.8" x2="1088.2" y2="759.8" stroke="#0B7BFF" stroke-width="2.2" stroke-linecap="butt"/>
<line x1="1081.2" y1="789.3" x2="1088.2" y2="789.3" stroke="#0B7BFF" stroke-width="2.2" stroke-linecap="butt"/>
<circle cx="1083.1" cy="759.0" r="3.5" fill="#0B7BFF" stroke="none" stroke-width="0"/>
<circle cx="1084.7" cy="775.5" r="3.5" fill="#0B7BFF" stroke="none" stroke-width="0"/>
<circle cx="1086.3" cy="783.8" r="3.5" fill="#0B7BFF" stroke="none" stroke-width="0"/>
<rect x="1096.0" y="835.0" width="9.0" height="178.4" fill="#fff" stroke="#CC55DD" stroke-width="2.5"/>
<line x1="1100.5" y1="811.4" x2="1100.5" y2="858.5" stroke="#CC55DD" stroke-width="2.2" stroke-linecap="butt"/>
<line x1="1097.0" y1="811.4" x2="1104.0" y2="811.4" stroke="#CC55DD" stroke-width="2.2" stroke-linecap="butt"/>
<line x1="1097.0" y1="858.5" x2="1104.0" y2="858.5" stroke="#CC55DD" stroke-width="2.2" stroke-linecap="butt"/>
<circle cx="1098.9" cy="815.2" r="3.5" fill="#CC55DD" stroke="none" stroke-width="0"/>
<circle cx="1100.5" cy="821.8" r="3.5" fill="#CC55DD" stroke="none" stroke-width="0"/>
<circle cx="1102.1" cy="859.8" r="3.5" fill="#CC55DD" stroke="none" stroke-width="0"/>
<rect x="1111.8" y="934.8" width="9.0" height="78.6" fill="#fff" stroke="#FF9F33" stroke-width="2.5"/>
<line x1="1116.3" y1="927.9" x2="1116.3" y2="941.7" stroke="#FF9F33" stroke-width="2.2" stroke-linecap="butt"/>
<line x1="1112.8" y1="927.9" x2="1119.8" y2="927.9" stroke="#FF9F33" stroke-width="2.2" stroke-linecap="butt"/>
<line x1="1112.8" y1="941.7" x2="1119.8" y2="941.7" stroke="#FF9F33" stroke-width="2.2" stroke-linecap="butt"/>
<circle cx="1114.7" cy="927.5" r="3.5" fill="#FF9F33" stroke="none" stroke-width="0"/>
<circle cx="1116.3" cy="933.1" r="3.5" fill="#FF9F33" stroke="none" stroke-width="0"/>
<circle cx="1117.9" cy="940.7" r="3.5" fill="#FF9F33" stroke="none" stroke-width="0"/>
<rect x="1127.6" y="974.7" width="9.0" height="38.7" fill="#fff" stroke="#FF3B3B" stroke-width="2.5"/>
<line x1="1132.1" y1="965.3" x2="1132.1" y2="984.2" stroke="#FF3B3B" stroke-width="2.2" stroke-linecap="butt"/>
<line x1="1128.6" y1="965.3" x2="1135.6" y2="965.3" stroke="#FF3B3B" stroke-width="2.2" stroke-linecap="butt"/>
<line x1="1128.6" y1="984.2" x2="1135.6" y2="984.2" stroke="#FF3B3B" stroke-width="2.2" stroke-linecap="butt"/>
<circle cx="1130.5" cy="965.8" r="3.5" fill="#FF3B3B" stroke="none" stroke-width="0"/>
<circle cx="1132.1" cy="971.8" r="3.5" fill="#FF3B3B" stroke="none" stroke-width="0"/>
<circle cx="1133.7" cy="984.7" r="3.5" fill="#FF3B3B" stroke="none" stroke-width="0"/>
<rect x="1151.9" y="952.9" width="9.0" height="60.5" fill="#fff" stroke="#666666" stroke-width="2.5"/>
<line x1="1156.4" y1="944.1" x2="1156.4" y2="961.7" stroke="#666666" stroke-width="2.2" stroke-linecap="butt"/>
<line x1="1152.9" y1="944.1" x2="1159.9" y2="944.1" stroke="#666666" stroke-width="2.2" stroke-linecap="butt"/>
<line x1="1152.9" y1="961.7" x2="1159.9" y2="961.7" stroke="#666666" stroke-width="2.2" stroke-linecap="butt"/>
<circle cx="1154.8" cy="943.7" r="3.5" fill="#666666" stroke="none" stroke-width="0"/>
<circle cx="1156.4" cy="953.9" r="3.5" fill="#666666" stroke="none" stroke-width="0"/>
<circle cx="1158.0" cy="956.9" r="3.5" fill="#666666" stroke="none" stroke-width="0"/>
<rect x="1167.7" y="951.9" width="9.0" height="61.5" fill="#fff" stroke="#0B7BFF" stroke-width="2.5"/>
<line x1="1172.2" y1="945.4" x2="1172.2" y2="958.5" stroke="#0B7BFF" stroke-width="2.2" stroke-linecap="butt"/>
<line x1="1168.7" y1="945.4" x2="1175.7" y2="945.4" stroke="#0B7BFF" stroke-width="2.2" stroke-linecap="butt"/>
<line x1="1168.7" y1="958.5" x2="1175.7" y2="958.5" stroke="#0B7BFF" stroke-width="2.2" stroke-linecap="butt"/>
<circle cx="1170.6" cy="945.0" r="3.5" fill="#0B7BFF" stroke="none" stroke-width="0"/>
<circle cx="1172.2" cy="950.6" r="3.5" fill="#0B7BFF" stroke="none" stroke-width="0"/>
<circle cx="1173.8" cy="955.6" r="3.5" fill="#0B7BFF" stroke="none" stroke-width="0"/>
<rect x="1183.5" y="976.1" width="9.0" height="37.3" fill="#fff" stroke="#CC55DD" stroke-width="2.5"/>
<line x1="1188.0" y1="973.6" x2="1188.0" y2="978.6" stroke="#CC55DD" stroke-width="2.2" stroke-linecap="butt"/>
<line x1="1184.5" y1="973.6" x2="1191.5" y2="973.6" stroke="#CC55DD" stroke-width="2.2" stroke-linecap="butt"/>
<line x1="1184.5" y1="978.6" x2="1191.5" y2="978.6" stroke="#CC55DD" stroke-width="2.2" stroke-linecap="butt"/>
<circle cx="1186.4" cy="973.8" r="3.5" fill="#CC55DD" stroke="none" stroke-width="0"/>
<circle cx="1188.0" cy="976.1" r="3.5" fill="#CC55DD" stroke="none" stroke-width="0"/>
<circle cx="1189.6" cy="978.7" r="3.5" fill="#CC55DD" stroke="none" stroke-width="0"/>
<rect x="1199.3" y="983.7" width="9.0" height="29.7" fill="#fff" stroke="#FF9F33" stroke-width="2.5"/>
<line x1="1203.8" y1="981.5" x2="1203.8" y2="985.9" stroke="#FF9F33" stroke-width="2.2" stroke-linecap="butt"/>
<line x1="1200.3" y1="981.5" x2="1207.3" y2="981.5" stroke="#FF9F33" stroke-width="2.2" stroke-linecap="butt"/>
<line x1="1200.3" y1="985.9" x2="1207.3" y2="985.9" stroke="#FF9F33" stroke-width="2.2" stroke-linecap="butt"/>
<circle cx="1202.2" cy="981.4" r="3.5" fill="#FF9F33" stroke="none" stroke-width="0"/>
<circle cx="1203.8" cy="983.7" r="3.5" fill="#FF9F33" stroke="none" stroke-width="0"/>
<circle cx="1205.4" cy="985.6" r="3.5" fill="#FF9F33" stroke="none" stroke-width="0"/>
<rect x="1215.1" y="986.0" width="9.0" height="27.4" fill="#fff" stroke="#FF3B3B" stroke-width="2.5"/>
<line x1="1219.6" y1="982.8" x2="1219.6" y2="989.1" stroke="#FF3B3B" stroke-width="2.2" stroke-linecap="butt"/>
<line x1="1216.1" y1="982.8" x2="1223.1" y2="982.8" stroke="#FF3B3B" stroke-width="2.2" stroke-linecap="butt"/>
<line x1="1216.1" y1="989.1" x2="1223.1" y2="989.1" stroke="#FF3B3B" stroke-width="2.2" stroke-linecap="butt"/>
<circle cx="1218.0" cy="982.7" r="3.5" fill="#FF3B3B" stroke="none" stroke-width="0"/>
<circle cx="1219.6" cy="986.0" r="3.5" fill="#FF3B3B" stroke="none" stroke-width="0"/>
<circle cx="1221.2" cy="987.6" r="3.5" fill="#FF3B3B" stroke="none" stroke-width="0"/>
<rect x="1239.1" y="980.4" width="9.0" height="33.0" fill="#fff" stroke="#666666" stroke-width="2.5"/>
<line x1="1243.6" y1="972.2" x2="1243.6" y2="988.5" stroke="#666666" stroke-width="2.2" stroke-linecap="butt"/>
<line x1="1240.1" y1="972.2" x2="1247.1" y2="972.2" stroke="#666666" stroke-width="2.2" stroke-linecap="butt"/>
<line x1="1240.1" y1="988.5" x2="1247.1" y2="988.5" stroke="#666666" stroke-width="2.2" stroke-linecap="butt"/>
<circle cx="1242.0" cy="971.8" r="3.5" fill="#666666" stroke="none" stroke-width="0"/>
<circle cx="1243.6" cy="980.4" r="3.5" fill="#666666" stroke="none" stroke-width="0"/>
<circle cx="1245.2" cy="983.7" r="3.5" fill="#666666" stroke="none" stroke-width="0"/>
<rect x="1254.9" y="975.1" width="9.0" height="38.3" fill="#fff" stroke="#0B7BFF" stroke-width="2.5"/>
<line x1="1259.4" y1="970.1" x2="1259.4" y2="980.1" stroke="#0B7BFF" stroke-width="2.2" stroke-linecap="butt"/>
<line x1="1255.9" y1="970.1" x2="1262.9" y2="970.1" stroke="#0B7BFF" stroke-width="2.2" stroke-linecap="butt"/>
<line x1="1255.9" y1="980.1" x2="1262.9" y2="980.1" stroke="#0B7BFF" stroke-width="2.2" stroke-linecap="butt"/>
<circle cx="1257.8" cy="969.8" r="3.5" fill="#0B7BFF" stroke="none" stroke-width="0"/>
<circle cx="1259.4" cy="975.1" r="3.5" fill="#0B7BFF" stroke="none" stroke-width="0"/>
<circle cx="1261.0" cy="977.1" r="3.5" fill="#0B7BFF" stroke="none" stroke-width="0"/>
<rect x="1270.7" y="982.3" width="9.0" height="31.1" fill="#fff" stroke="#CC55DD" stroke-width="2.5"/>
<line x1="1275.2" y1="979.8" x2="1275.2" y2="984.9" stroke="#CC55DD" stroke-width="2.2" stroke-linecap="butt"/>
<line x1="1271.7" y1="979.8" x2="1278.7" y2="979.8" stroke="#CC55DD" stroke-width="2.2" stroke-linecap="butt"/>
<line x1="1271.7" y1="984.9" x2="1278.7" y2="984.9" stroke="#CC55DD" stroke-width="2.2" stroke-linecap="butt"/>
<circle cx="1273.6" cy="979.7" r="3.5" fill="#CC55DD" stroke="none" stroke-width="0"/>
<circle cx="1275.2" cy="982.3" r="3.5" fill="#CC55DD" stroke="none" stroke-width="0"/>
<circle cx="1276.8" cy="983.7" r="3.5" fill="#CC55DD" stroke="none" stroke-width="0"/>
<rect x="1286.5" y="981.4" width="9.0" height="32.0" fill="#fff" stroke="#FF9F33" stroke-width="2.5"/>
<line x1="1291.0" y1="979.2" x2="1291.0" y2="983.5" stroke="#FF9F33" stroke-width="2.2" stroke-linecap="butt"/>
<line x1="1287.5" y1="979.2" x2="1294.5" y2="979.2" stroke="#FF9F33" stroke-width="2.2" stroke-linecap="butt"/>
<line x1="1287.5" y1="983.5" x2="1294.5" y2="983.5" stroke="#FF9F33" stroke-width="2.2" stroke-linecap="butt"/>
<circle cx="1289.4" cy="979.0" r="3.5" fill="#FF9F33" stroke="none" stroke-width="0"/>
<circle cx="1291.0" cy="981.4" r="3.5" fill="#FF9F33" stroke="none" stroke-width="0"/>
<circle cx="1292.6" cy="983.7" r="3.5" fill="#FF9F33" stroke="none" stroke-width="0"/>
<rect x="1302.3" y="984.7" width="9.0" height="28.7" fill="#fff" stroke="#FF3B3B" stroke-width="2.5"/>
<line x1="1306.8" y1="982.1" x2="1306.8" y2="987.2" stroke="#FF3B3B" stroke-width="2.2" stroke-linecap="butt"/>
<line x1="1303.3" y1="982.1" x2="1310.3" y2="982.1" stroke="#FF3B3B" stroke-width="2.2" stroke-linecap="butt"/>
<line x1="1303.3" y1="987.2" x2="1310.3" y2="987.2" stroke="#FF3B3B" stroke-width="2.2" stroke-linecap="butt"/>
<circle cx="1305.2" cy="982.0" r="3.5" fill="#FF3B3B" stroke="none" stroke-width="0"/>
<circle cx="1306.8" cy="984.7" r="3.5" fill="#FF3B3B" stroke="none" stroke-width="0"/>
<circle cx="1308.4" cy="986.3" r="3.5" fill="#FF3B3B" stroke="none" stroke-width="0"/>
<rect x="1326.5" y="985.6" width="9.0" height="27.8" fill="#fff" stroke="#666666" stroke-width="2.5"/>
<line x1="1331.0" y1="974.3" x2="1331.0" y2="996.9" stroke="#666666" stroke-width="2.2" stroke-linecap="butt"/>
<line x1="1327.5" y1="974.3" x2="1334.5" y2="974.3" stroke="#666666" stroke-width="2.2" stroke-linecap="butt"/>
<line x1="1327.5" y1="996.9" x2="1334.5" y2="996.9" stroke="#666666" stroke-width="2.2" stroke-linecap="butt"/>
<circle cx="1329.4" cy="973.8" r="3.5" fill="#666666" stroke="none" stroke-width="0"/>
<circle cx="1331.0" cy="985.6" r="3.5" fill="#666666" stroke="none" stroke-width="0"/>
<circle cx="1332.6" cy="987.0" r="3.5" fill="#666666" stroke="none" stroke-width="0"/>
<rect x="1342.3" y="982.3" width="9.0" height="31.1" fill="#fff" stroke="#0B7BFF" stroke-width="2.5"/>
<line x1="1346.8" y1="977.3" x2="1346.8" y2="987.4" stroke="#0B7BFF" stroke-width="2.2" stroke-linecap="butt"/>
<line x1="1343.3" y1="977.3" x2="1350.3" y2="977.3" stroke="#0B7BFF" stroke-width="2.2" stroke-linecap="butt"/>
<line x1="1343.3" y1="987.4" x2="1350.3" y2="987.4" stroke="#0B7BFF" stroke-width="2.2" stroke-linecap="butt"/>
<circle cx="1345.2" cy="977.1" r="3.5" fill="#0B7BFF" stroke="none" stroke-width="0"/>
<circle cx="1346.8" cy="980.4" r="3.5" fill="#0B7BFF" stroke="none" stroke-width="0"/>
<circle cx="1348.4" cy="985.3" r="3.5" fill="#0B7BFF" stroke="none" stroke-width="0"/>
<rect x="1358.1" y="986.6" width="9.0" height="26.8" fill="#fff" stroke="#CC55DD" stroke-width="2.5"/>
<line x1="1362.6" y1="983.8" x2="1362.6" y2="989.5" stroke="#CC55DD" stroke-width="2.2" stroke-linecap="butt"/>
<line x1="1359.1" y1="983.8" x2="1366.1" y2="983.8" stroke="#CC55DD" stroke-width="2.2" stroke-linecap="butt"/>
<line x1="1359.1" y1="989.5" x2="1366.1" y2="989.5" stroke="#CC55DD" stroke-width="2.2" stroke-linecap="butt"/>
<circle cx="1361.0" cy="983.7" r="3.5" fill="#CC55DD" stroke="none" stroke-width="0"/>
<circle cx="1362.6" cy="986.6" r="3.5" fill="#CC55DD" stroke="none" stroke-width="0"/>
<circle cx="1364.2" cy="988.6" r="3.5" fill="#CC55DD" stroke="none" stroke-width="0"/>
<rect x="1373.9" y="984.7" width="9.0" height="28.7" fill="#fff" stroke="#FF9F33" stroke-width="2.5"/>
<line x1="1378.4" y1="979.6" x2="1378.4" y2="989.7" stroke="#FF9F33" stroke-width="2.2" stroke-linecap="butt"/>
<line x1="1374.9" y1="979.6" x2="1381.9" y2="979.6" stroke="#FF9F33" stroke-width="2.2" stroke-linecap="butt"/>
<line x1="1374.9" y1="989.7" x2="1381.9" y2="989.7" stroke="#FF9F33" stroke-width="2.2" stroke-linecap="butt"/>
<circle cx="1376.8" cy="979.4" r="3.5" fill="#FF9F33" stroke="none" stroke-width="0"/>
<circle cx="1378.4" cy="984.7" r="3.5" fill="#FF9F33" stroke="none" stroke-width="0"/>
<circle cx="1380.0" cy="987.0" r="3.5" fill="#FF9F33" stroke="none" stroke-width="0"/>
<rect x="1389.7" y="986.6" width="9.0" height="26.8" fill="#fff" stroke="#FF3B3B" stroke-width="2.5"/>
<line x1="1394.2" y1="985.1" x2="1394.2" y2="988.2" stroke="#FF3B3B" stroke-width="2.2" stroke-linecap="butt"/>
<line x1="1390.7" y1="985.1" x2="1397.7" y2="985.1" stroke="#FF3B3B" stroke-width="2.2" stroke-linecap="butt"/>
<line x1="1390.7" y1="988.2" x2="1397.7" y2="988.2" stroke="#FF3B3B" stroke-width="2.2" stroke-linecap="butt"/>
<circle cx="1392.6" cy="985.0" r="3.5" fill="#FF3B3B" stroke="none" stroke-width="0"/>
<circle cx="1394.2" cy="986.6" r="3.5" fill="#FF3B3B" stroke="none" stroke-width="0"/>
<circle cx="1395.8" cy="988.3" r="3.5" fill="#FF3B3B" stroke="none" stroke-width="0"/>
<rect x="1413.4" y="987.6" width="9.0" height="25.8" fill="#fff" stroke="#666666" stroke-width="2.5"/>
<line x1="1417.9" y1="986.1" x2="1417.9" y2="989.2" stroke="#666666" stroke-width="2.2" stroke-linecap="butt"/>
<line x1="1414.4" y1="986.1" x2="1421.4" y2="986.1" stroke="#666666" stroke-width="2.2" stroke-linecap="butt"/>
<line x1="1414.4" y1="989.2" x2="1421.4" y2="989.2" stroke="#666666" stroke-width="2.2" stroke-linecap="butt"/>
<circle cx="1416.3" cy="986.0" r="3.5" fill="#666666" stroke="none" stroke-width="0"/>
<circle cx="1417.9" cy="987.6" r="3.5" fill="#666666" stroke="none" stroke-width="0"/>
<circle cx="1419.5" cy="989.0" r="3.5" fill="#666666" stroke="none" stroke-width="0"/>
<rect x="1429.2" y="985.6" width="9.0" height="27.8" fill="#fff" stroke="#0B7BFF" stroke-width="2.5"/>
<line x1="1433.7" y1="984.1" x2="1433.7" y2="987.2" stroke="#0B7BFF" stroke-width="2.2" stroke-linecap="butt"/>
<line x1="1430.2" y1="984.1" x2="1437.2" y2="984.1" stroke="#0B7BFF" stroke-width="2.2" stroke-linecap="butt"/>
<line x1="1430.2" y1="987.2" x2="1437.2" y2="987.2" stroke="#0B7BFF" stroke-width="2.2" stroke-linecap="butt"/>
<circle cx="1432.1" cy="984.0" r="3.5" fill="#0B7BFF" stroke="none" stroke-width="0"/>
<circle cx="1433.7" cy="985.6" r="3.5" fill="#0B7BFF" stroke="none" stroke-width="0"/>
<circle cx="1435.3" cy="987.0" r="3.5" fill="#0B7BFF" stroke="none" stroke-width="0"/>
<rect x="1445.0" y="985.6" width="9.0" height="27.8" fill="#fff" stroke="#CC55DD" stroke-width="2.5"/>
<line x1="1449.5" y1="984.1" x2="1449.5" y2="987.2" stroke="#CC55DD" stroke-width="2.2" stroke-linecap="butt"/>
<line x1="1446.0" y1="984.1" x2="1453.0" y2="984.1" stroke="#CC55DD" stroke-width="2.2" stroke-linecap="butt"/>
<line x1="1446.0" y1="987.2" x2="1453.0" y2="987.2" stroke="#CC55DD" stroke-width="2.2" stroke-linecap="butt"/>
<circle cx="1447.9" cy="984.0" r="3.5" fill="#CC55DD" stroke="none" stroke-width="0"/>
<circle cx="1449.5" cy="985.6" r="3.5" fill="#CC55DD" stroke="none" stroke-width="0"/>
<circle cx="1451.1" cy="987.0" r="3.5" fill="#CC55DD" stroke="none" stroke-width="0"/>
<rect x="1460.8" y="988.0" width="9.0" height="25.4" fill="#fff" stroke="#FF9F33" stroke-width="2.5"/>
<line x1="1465.3" y1="986.4" x2="1465.3" y2="989.5" stroke="#FF9F33" stroke-width="2.2" stroke-linecap="butt"/>
<line x1="1461.8" y1="986.4" x2="1468.8" y2="986.4" stroke="#FF9F33" stroke-width="2.2" stroke-linecap="butt"/>
<line x1="1461.8" y1="989.5" x2="1468.8" y2="989.5" stroke="#FF9F33" stroke-width="2.2" stroke-linecap="butt"/>
<circle cx="1463.7" cy="986.3" r="3.5" fill="#FF9F33" stroke="none" stroke-width="0"/>
<circle cx="1465.3" cy="988.0" r="3.5" fill="#FF9F33" stroke="none" stroke-width="0"/>
<circle cx="1466.9" cy="989.3" r="3.5" fill="#FF9F33" stroke="none" stroke-width="0"/>
<rect x="1476.6" y="988.3" width="9.0" height="25.1" fill="#fff" stroke="#FF3B3B" stroke-width="2.5"/>
<line x1="1481.1" y1="986.7" x2="1481.1" y2="989.9" stroke="#FF3B3B" stroke-width="2.2" stroke-linecap="butt"/>
<line x1="1477.6" y1="986.7" x2="1484.6" y2="986.7" stroke="#FF3B3B" stroke-width="2.2" stroke-linecap="butt"/>
<line x1="1477.6" y1="989.9" x2="1484.6" y2="989.9" stroke="#FF3B3B" stroke-width="2.2" stroke-linecap="butt"/>
<circle cx="1479.5" cy="986.6" r="3.5" fill="#FF3B3B" stroke="none" stroke-width="0"/>
<circle cx="1481.1" cy="988.3" r="3.5" fill="#FF3B3B" stroke="none" stroke-width="0"/>
<circle cx="1482.7" cy="989.6" r="3.5" fill="#FF3B3B" stroke="none" stroke-width="0"/>
<path d="M1068.5,721.5 L1068.5,712.9 L1132,712.9 L1132,957.2" fill="none" stroke="#000" stroke-width="5"/>
<text x="1070.7" y="713.7" font-size="41.8" stroke="#000" stroke-width="1.46">*</text><text x="1091.3" y="713.7" font-size="41.8" stroke="#000" stroke-width="1.46">*</text><text x="1111.8" y="713.7" font-size="41.8" stroke="#000" stroke-width="1.46">*</text>
<path d="M1159.7,935.8 L1159.7,913 L1217.4,913 L1217.4,973.2" fill="none" stroke="#000" stroke-width="5"/>
<text x="1158.2" y="921.7" font-size="43.1" stroke="#000" stroke-width="1.51">*</text><text x="1178.7" y="921.7" font-size="43.1" stroke="#000" stroke-width="1.51">*</text><text x="1199.3" y="921.7" font-size="43.1" stroke="#000" stroke-width="1.51">*</text>
<line x1="981.0" y1="984.6" x2="1048.8" y2="984.6" stroke="#000" stroke-width="3.2" stroke-linecap="butt"/>
<text x="1014.9" y="977.2" font-size="20" fill="#000" text-anchor="middle">NS</text>
<line x1="1240.4" y1="961.8" x2="1308.4" y2="961.8" stroke="#000" stroke-width="3.2" stroke-linecap="butt"/>
<text x="1274.4" y="955.4" font-size="20" fill="#000" text-anchor="middle">NS</text>
<line x1="1325.6" y1="964.4" x2="1406.1" y2="964.4" stroke="#000" stroke-width="3.2" stroke-linecap="butt"/>
<text x="1365.8" y="959.7" font-size="20" fill="#000" text-anchor="middle">NS</text>
<line x1="1416.5" y1="971.0" x2="1486.7" y2="971.0" stroke="#000" stroke-width="3.2" stroke-linecap="butt"/>
<text x="1451.6" y="965.0" font-size="20" fill="#000" text-anchor="middle">NS</text>
<circle cx="1377.8" cy="660.1" r="4.7" fill="#666666" stroke="none" stroke-width="0"/>
<text x="1409.4" y="668.7" font-size="25" fill="#000">12h</text>
<circle cx="1377.8" cy="696.2" r="4.7" fill="#0B7BFF" stroke="none" stroke-width="0"/>
<text x="1409.4" y="704.8" font-size="25" fill="#000">24h</text>
<circle cx="1377.8" cy="732.2" r="4.7" fill="#CC55DD" stroke="none" stroke-width="0"/>
<text x="1409.4" y="740.8" font-size="25" fill="#000">36h</text>
<circle cx="1377.8" cy="768.3" r="4.7" fill="#FF9F33" stroke="none" stroke-width="0"/>
<text x="1409.4" y="776.9" font-size="25" fill="#000">120h</text>
<circle cx="1377.8" cy="804.4" r="4.7" fill="#FF3B3B" stroke="none" stroke-width="0"/>
<text x="1409.4" y="813.0" font-size="25" fill="#000">360h</text>
<text x="180.5" y="1172.9" font-size="38" fill="#000">e</text>
<text x="477.3" y="1155.2" font-size="23.5" fill="#000" textLength="34.3" lengthAdjust="spacingAndGlyphs">EC</text>
<text x="677.9" y="1156.0" font-size="23.5" fill="#000" textLength="156.0" lengthAdjust="spacingAndGlyphs">Healthy mice</text>
<text x="968.8" y="1156.8" font-size="23.5" fill="#000" textLength="50.3" lengthAdjust="spacingAndGlyphs">VNP</text>
<rect x="253.2" y="1171.5" width="495.6" height="8.0" fill="#000" stroke="none" stroke-width="0"/>
<rect x="762.4" y="1172.3" width="496.0" height="7.9" fill="#000" stroke="none" stroke-width="0"/>
<text x="269.6" y="1209.4" font-size="24" fill="#000" textLength="40.9" lengthAdjust="spacingAndGlyphs">Pre</text>
<text x="340.2" y="1209.4" font-size="24" fill="#000" textLength="50.2" lengthAdjust="spacingAndGlyphs">12 h</text>
<text x="425.4" y="1209.4" font-size="24" fill="#000" textLength="51.0" lengthAdjust="spacingAndGlyphs">24 h</text>
<text x="507.9" y="1209.4" font-size="24" fill="#000" textLength="49.9" lengthAdjust="spacingAndGlyphs">72 h</text>
<text x="587.7" y="1209.4" font-size="24" fill="#000" textLength="64.9" lengthAdjust="spacingAndGlyphs">120 h</text>
<text x="677.7" y="1209.4" font-size="24" fill="#000" textLength="63.8" lengthAdjust="spacingAndGlyphs">360 h</text>
<text x="780.8" y="1208.0" font-size="24" fill="#000" textLength="41.2" lengthAdjust="spacingAndGlyphs">Pre</text>
<text x="850.9" y="1208.0" font-size="24" fill="#000" textLength="51.1" lengthAdjust="spacingAndGlyphs">12 h</text>
<text x="936.6" y="1208.0" font-size="24" fill="#000" textLength="51.2" lengthAdjust="spacingAndGlyphs">24 h</text>
<text x="1020.1" y="1208.0" font-size="24" fill="#000" textLength="50.2" lengthAdjust="spacingAndGlyphs">72 h</text>
<text x="1100.0" y="1208.0" font-size="24" fill="#000" textLength="64.0" lengthAdjust="spacingAndGlyphs">120 h</text>
<text x="1189.3" y="1208.0" font-size="24" fill="#000" textLength="64.1" lengthAdjust="spacingAndGlyphs">360 h</text>
<text x="177.5" y="1266.0" font-size="24" fill="#000" textLength="64.8" lengthAdjust="spacingAndGlyphs">Heart</text>
<text x="175.1" y="1346.2" font-size="24" fill="#000" textLength="60.6" lengthAdjust="spacingAndGlyphs">Liver</text>
<text x="151.3" y="1428.3" font-size="24" fill="#000" textLength="84.3" lengthAdjust="spacingAndGlyphs">Spleen</text>
<text x="173.5" y="1510.4" font-size="24" fill="#000" textLength="62.2" lengthAdjust="spacingAndGlyphs">Lung</text>
<text x="159.3" y="1590.5" font-size="24" fill="#000" textLength="82.8" lengthAdjust="spacingAndGlyphs">Kidney</text>
<text x="174.3" y="1665.4" font-size="24" fill="#000" textLength="63.2" lengthAdjust="spacingAndGlyphs">Brain</text>
<rect x="252.9" y="1218.8" width="78.5" height="77.3" fill="#050505" stroke="none" stroke-width="0"/>
<linearGradient id="pg1" x1="0.15" y1="0.1" x2="0.85" y2="0.95"><stop offset="0" stop-color="#4A4D63"/><stop offset="0.55" stop-color="#363A52"/><stop offset="1" stop-color="#232535"/></linearGradient>
<circle cx="292.1" cy="1257.4" r="37.6" fill="#3A332C" stroke="none" stroke-width="0"/>
<circle cx="292.1" cy="1257.4" r="37.0" fill="none" stroke="#D8C4AC" stroke-width="1.1" stroke-opacity="0.75"/>
<circle cx="292.1" cy="1257.4" r="35.2" fill="none" stroke="#C8A878" stroke-width="1.4" stroke-dasharray="0.9 1.8 1.4 3.2 0.7 2.5 1.1 4" stroke-opacity="0.7"/>
<circle cx="292.1" cy="1257.4" r="34.0" fill="none" stroke="#D0C0B0" stroke-width="0.8" stroke-opacity="0.5"/>
<circle cx="292.1" cy="1257.4" r="33.2" fill="url(#pg1)" stroke="none" stroke-width="0"/>
<circle cx="292.1" cy="1257.4" r="32.9" fill="none" stroke="#A8B4CC" stroke-width="1.2" stroke-opacity="0.8"/>
<circle cx="292.1" cy="1257.4" r="30.4" fill="none" stroke="#B0B8C8" stroke-width="0.8" stroke-opacity="0.35"/>
<text x="303.5" y="1249.8" font-size="23.5" fill="#D40808" text-anchor="middle" textLength="10.0" lengthAdjust="spacingAndGlyphs" stroke="#D40808" stroke-width="0.6">1</text>
<rect x="335.0" y="1218.8" width="78.1" height="77.3" fill="#050505" stroke="none" stroke-width="0"/>
<linearGradient id="pg2" x1="0.15" y1="0.1" x2="0.85" y2="0.95"><stop offset="0" stop-color="#485A6E"/><stop offset="0.55" stop-color="#34485E"/><stop offset="1" stop-color="#212E3D"/></linearGradient>
<circle cx="374.1" cy="1257.4" r="37.6" fill="#3A332C" stroke="none" stroke-width="0"/>
<circle cx="374.1" cy="1257.4" r="37.0" fill="none" stroke="#D8C4AC" stroke-width="1.1" stroke-opacity="0.75"/>
<circle cx="374.1" cy="1257.4" r="35.2" fill="none" stroke="#C8A878" stroke-width="1.4" stroke-dasharray="0.9 1.8 1.4 3.2 0.7 2.5 1.1 4" stroke-opacity="0.7"/>
<circle cx="374.1" cy="1257.4" r="34.0" fill="none" stroke="#D0C0B0" stroke-width="0.8" stroke-opacity="0.5"/>
<circle cx="374.1" cy="1257.4" r="33.2" fill="url(#pg2)" stroke="none" stroke-width="0"/>
<circle cx="374.1" cy="1257.4" r="32.9" fill="none" stroke="#A8B4CC" stroke-width="1.2" stroke-opacity="0.8"/>
<circle cx="374.1" cy="1257.4" r="30.4" fill="none" stroke="#B0B8C8" stroke-width="0.8" stroke-opacity="0.35"/>
<path d="M378.9 1239.0h0M372.1 1267.3h0M356.8 1240.7h0M361.3 1269.1h0M349.3 1273.7h0M366.0 1255.7h0M363.6 1265.7h0M368.3 1239.9h0M369.8 1245.6h0M384.9 1267.4h0M397.1 1251.1h0M366.8 1252.8h0M368.3 1267.6h0M344.3 1255.3h0M376.2 1248.1h0M344.5 1261.3h0M353.0 1268.6h0M387.8 1249.2h0M383.2 1256.0h0M374.0 1280.1h0M362.7 1279.8h0M385.6 1268.5h0M345.8 1248.1h0M386.5 1274.0h0M392.7 1275.1h0M352.4 1238.1h0M391.7 1271.8h0M397.7 1254.2h0M364.3 1231.4h0M377.0 1268.9h0M365.0 1230.8h0M360.7 1277.0h0M359.0 1239.6h0M398.2 1246.5h0M349.7 1266.7h0M382.1 1279.0h0M371.6 1261.6h0M392.4 1241.7h0M360.4 1267.1h0M377.2 1259.6h0M364.1 1283.8h0M361.3 1268.2h0M397.8 1251.5h0M351.2 1248.0h0M366.2 1254.3h0M384.0 1268.1h0M385.3 1249.3h0M383.9 1260.5h0M351.6 1260.2h0M363.1 1268.1h0M388.2 1241.8h0M370.1 1254.7h0M388.5 1253.8h0M384.1 1243.5h0M386.7 1284.6h0M390.5 1255.3h0M347.4 1252.1h0M371.2 1243.8h0M381.1 1235.9h0M389.0 1279.0h0M347.6 1269.0h0M359.9 1265.8h0M392.0 1247.7h0M387.9 1236.2h0M386.9 1252.5h0M359.9 1241.7h0M357.0 1275.3h0M349.7 1241.3h0M355.5 1236.8h0M387.9 1262.7h0M384.0 1281.6h0M371.0 1229.6h0M355.3 1258.4h0M387.0 1282.7h0M374.7 1241.0h0M379.6 1283.7h0M364.0 1283.4h0M398.4 1262.1h0M372.9 1235.1h0M380.8 1270.3h0M361.3 1259.3h0M358.1 1270.9h0M367.3 1261.0h0M353.0 1278.8h0M399.3 1272.8h0M400.3 1247.4h0M398.0 1255.6h0M356.0 1236.4h0M353.8 1253.8h0M389.6 1272.9h0M355.4 1274.2h0M357.4 1259.0h0M351.6 1263.0h0M383.8 1266.1h0M385.0 1249.6h0M381.1 1286.4h0M384.4 1232.8h0M383.8 1249.7h0M355.1 1268.8h0M391.9 1271.1h0M387.8 1268.6h0M361.1 1251.3h0M389.6 1258.4h0M373.3 1282.8h0M369.3 1279.1h0M346.7 1259.3h0M385.9 1244.5h0M381.6 1264.9h0M358.5 1235.5h0M370.6 1231.2h0M350.0 1273.2h0M349.8 1259.9h0M397.3 1254.7h0M393.0 1277.4h0M391.2 1279.5h0M395.3 1270.4h0M374.6 1285.1h0M388.5 1273.3h0M388.6 1262.5h0M387.1 1259.2h0M377.8 1244.6h0M378.1 1280.3h0M403.0 1260.6h0M388.0 1232.6h0M352.4 1261.0h0M352.8 1257.4h0M362.3 1235.8h0M353.5 1252.9h0M391.7 1237.6h0M359.0 1267.6h0M353.2 1241.2h0M387.3 1282.2h0M358.7 1279.3h0M363.2 1273.9h0M378.9 1248.4h0M397.3 1269.3h0M363.1 1261.9h0M361.7 1244.5h0M350.4 1253.6h0M359.0 1254.2h0M350.2 1252.3h0M384.9 1279.9h0M354.5 1235.0h0M379.8 1251.8h0M399.5 1264.4h0M381.0 1268.7h0M356.3 1281.3h0M395.8 1276.9h0M391.1 1237.7h0M347.1 1249.3h0M387.1 1239.4h0M385.9 1256.5h0M353.0 1276.1h0M354.3 1257.2h0M389.6 1265.6h0M358.1 1280.3h0M363.2 1252.6h0M370.3 1269.6h0M346.2 1265.8h0M373.3 1275.6h0M366.0 1261.7h0M391.7 1255.5h0M362.0 1243.9h0M357.0 1278.2h0M375.0 1244.5h0M391.1 1262.3h0M355.0 1252.3h0M362.8 1244.3h0M378.2 1272.3h0M369.0 1258.0h0M391.0 1240.9h0M366.3 1277.1h0M358.1 1247.2h0M376.4 1236.5h0M386.3 1259.2h0M361.2 1262.3h0M348.9 1247.9h0M367.0 1270.4h0M364.1 1252.3h0M378.6 1242.9h0M376.9 1273.9h0M345.1 1256.8h0" stroke="#E8E0DA" stroke-opacity="0.8" stroke-width="1.35" stroke-linecap="round"/>
<text x="385.4" y="1249.8" font-size="23.5" fill="#D40808" text-anchor="middle" textLength="10.0" lengthAdjust="spacingAndGlyphs" stroke="#D40808" stroke-width="0.6">1</text>
<rect x="415.5" y="1218.8" width="77.7" height="77.3" fill="#050505" stroke="none" stroke-width="0"/>
<linearGradient id="pg3" x1="0.15" y1="0.1" x2="0.85" y2="0.95"><stop offset="0" stop-color="#5F686F"/><stop offset="0.55" stop-color="#4E5860"/><stop offset="1" stop-color="#32393E"/></linearGradient>
<circle cx="454.4" cy="1257.4" r="37.6" fill="#3A332C" stroke="none" stroke-width="0"/>
<circle cx="454.4" cy="1257.4" r="37.0" fill="none" stroke="#D8C4AC" stroke-width="1.1" stroke-opacity="0.75"/>
<circle cx="454.4" cy="1257.4" r="35.2" fill="none" stroke="#C8A878" stroke-width="1.4" stroke-dasharray="0.9 1.8 1.4 3.2 0.7 2.5 1.1 4" stroke-opacity="0.7"/>
<circle cx="454.4" cy="1257.4" r="34.0" fill="none" stroke="#D0C0B0" stroke-width="0.8" stroke-opacity="0.5"/>
<circle cx="454.4" cy="1257.4" r="33.2" fill="url(#pg3)" stroke="none" stroke-width="0"/>
<circle cx="454.4" cy="1257.4" r="32.9" fill="none" stroke="#A8B4CC" stroke-width="1.2" stroke-opacity="0.8"/>
<circle cx="454.4" cy="1257.4" r="30.4" fill="none" stroke="#B0B8C8" stroke-width="0.8" stroke-opacity="0.35"/>
<path d="M433.1 1264.4h0M434.4 1270.3h0M460.9 1250.5h0M461.4 1261.4h0M426.8 1259.3h0M461.6 1258.6h0M477.2 1271.6h0M446.9 1241.0h0M431.9 1276.2h0M465.8 1264.0h0M450.8 1257.5h0M437.6 1259.3h0M433.0 1264.8h0M462.2 1267.7h0M439.1 1232.8h0M444.3 1268.8h0M454.9 1272.4h0M450.2 1251.3h0M436.7 1262.8h0M462.3 1253.4h0M457.9 1253.9h0M464.5 1280.9h0M474.0 1265.8h0M452.5 1284.4h0M451.2 1265.0h0M476.6 1268.5h0M447.8 1272.1h0M460.4 1282.5h0M461.8 1259.5h0M482.9 1259.1h0M448.2 1283.8h0M477.4 1250.5h0M439.6 1268.6h0M451.2 1267.3h0M437.5 1252.3h0M432.8 1256.2h0M438.1 1232.2h0M447.7 1236.4h0M449.4 1246.5h0M468.1 1252.3h0M438.9 1238.6h0M442.1 1272.1h0M436.4 1255.4h0M472.8 1277.3h0M452.1 1278.1h0M462.9 1241.0h0M471.8 1250.8h0M479.6 1255.6h0M437.4 1266.4h0M466.5 1282.9h0M462.7 1255.9h0M474.7 1243.8h0M471.1 1271.2h0M432.8 1254.5h0M460.5 1256.4h0M444.8 1235.4h0M479.3 1254.7h0M439.2 1235.6h0M424.7 1262.4h0M441.1 1260.8h0M479.9 1256.5h0M469.9 1272.8h0M454.8 1260.8h0M460.3 1255.7h0M440.7 1281.7h0M477.1 1269.6h0M482.0 1260.7h0M429.0 1269.1h0M430.5 1272.6h0M463.3 1239.8h0M437.9 1280.6h0M432.3 1247.7h0M452.7 1248.9h0M453.4 1239.7h0M430.8 1268.9h0M444.6 1256.7h0M466.0 1232.7h0M427.5 1268.8h0M451.5 1287.3h0M456.1 1285.9h0M427.6 1255.8h0M475.3 1250.9h0M450.8 1254.4h0M447.1 1276.3h0M443.6 1275.8h0M469.1 1276.4h0M465.3 1282.5h0M475.1 1265.5h0M441.3 1232.4h0M478.0 1243.3h0M468.7 1283.4h0M434.7 1240.5h0M465.2 1276.8h0M473.6 1268.9h0M450.7 1282.9h0M467.6 1242.1h0M459.5 1237.6h0M448.3 1276.3h0M424.8 1259.7h0M450.5 1244.4h0M428.1 1258.9h0M444.3 1233.2h0M448.4 1268.3h0M429.2 1255.7h0M446.3 1279.0h0M478.0 1271.8h0M441.9 1246.9h0M473.9 1258.0h0M462.5 1270.9h0M435.8 1250.5h0M481.7 1247.3h0M475.4 1236.6h0M425.1 1257.6h0M441.3 1263.2h0M454.3 1249.8h0M477.5 1272.0h0M445.1 1264.6h0M457.0 1249.5h0M441.7 1266.4h0M478.2 1241.9h0M445.7 1236.8h0M446.2 1250.7h0M429.8 1266.2h0M444.9 1275.9h0M438.8 1271.6h0M446.5 1285.9h0M448.5 1247.1h0M433.5 1277.3h0M443.9 1280.3h0M457.8 1238.1h0M469.3 1263.6h0M436.1 1241.8h0M470.2 1252.5h0M455.6 1236.9h0M461.1 1263.6h0M459.2 1274.3h0M453.0 1281.1h0M460.1 1237.0h0M473.7 1237.5h0M436.0 1239.4h0M466.6 1254.8h0M446.8 1272.6h0M444.4 1235.2h0" stroke="#E8E0DA" stroke-opacity="0.8" stroke-width="1.35" stroke-linecap="round"/>
<text x="465.6" y="1249.8" font-size="23.5" fill="#D40808" text-anchor="middle" textLength="10.0" lengthAdjust="spacingAndGlyphs" stroke="#D40808" stroke-width="0.6">1</text>
<rect x="498.4" y="1218.8" width="78.1" height="77.3" fill="#050505" stroke="none" stroke-width="0"/>
<linearGradient id="pg4" x1="0.15" y1="0.1" x2="0.85" y2="0.95"><stop offset="0" stop-color="#616A78"/><stop offset="0.55" stop-color="#505A6A"/><stop offset="1" stop-color="#343A44"/></linearGradient>
<circle cx="537.5" cy="1257.4" r="37.6" fill="#3A332C" stroke="none" stroke-width="0"/>
<circle cx="537.5" cy="1257.4" r="37.0" fill="none" stroke="#D8C4AC" stroke-width="1.1" stroke-opacity="0.75"/>
<circle cx="537.5" cy="1257.4" r="35.2" fill="none" stroke="#C8A878" stroke-width="1.4" stroke-dasharray="0.9 1.8 1.4 3.2 0.7 2.5 1.1 4" stroke-opacity="0.7"/>
<circle cx="537.5" cy="1257.4" r="34.0" fill="none" stroke="#D0C0B0" stroke-width="0.8" stroke-opacity="0.5"/>
<circle cx="537.5" cy="1257.4" r="33.2" fill="url(#pg4)" stroke="none" stroke-width="0"/>
<circle cx="537.5" cy="1257.4" r="32.9" fill="none" stroke="#A8B4CC" stroke-width="1.2" stroke-opacity="0.8"/>
<circle cx="537.5" cy="1257.4" r="30.4" fill="none" stroke="#B0B8C8" stroke-width="0.8" stroke-opacity="0.35"/>
<path d="M566.3 1254.8h0M550.6 1271.6h0M543.6 1234.7h0M530.3 1280.9h0M520.9 1233.8h0M515.0 1258.9h0M518.4 1252.0h0M551.5 1270.9h0M532.3 1274.7h0M541.8 1277.2h0M522.3 1249.6h0M542.3 1284.3h0M544.6 1255.9h0M522.4 1244.3h0M539.2 1270.0h0M525.2 1256.3h0M516.1 1252.6h0M522.5 1233.3h0M556.3 1269.5h0M512.7 1256.6h0M541.3 1273.8h0M550.0 1244.9h0M540.5 1263.3h0M531.1 1276.7h0M534.1 1272.5h0M511.2 1254.1h0M510.0 1266.3h0M559.9 1260.1h0M541.4 1264.8h0M521.1 1250.6h0M542.2 1266.3h0M530.2 1256.1h0M527.2 1260.7h0M548.1 1247.1h0M548.6 1278.5h0M539.6 1286.4h0M526.0 1282.7h0M518.3 1249.2h0M544.4 1279.8h0M564.2 1268.4h0M528.1 1247.3h0M545.4 1231.3h0M545.1 1237.1h0M533.2 1244.7h0M559.7 1244.6h0M551.0 1272.2h0M526.5 1242.5h0M538.7 1251.4h0M543.1 1247.1h0M555.2 1252.6h0M515.5 1274.0h0M561.3 1268.4h0M540.3 1279.9h0M536.7 1228.4h0M527.4 1241.9h0M535.1 1268.1h0M559.2 1243.0h0M554.5 1260.5h0M563.6 1259.2h0M559.2 1274.6h0M552.6 1275.9h0M522.6 1242.1h0M533.5 1273.6h0M555.2 1273.0h0M542.2 1256.0h0M519.0 1267.5h0M546.7 1258.3h0M524.6 1264.3h0M548.9 1244.5h0M563.4 1255.1h0M555.0 1258.8h0M564.8 1263.9h0M526.9 1248.8h0M529.9 1239.2h0M513.8 1266.5h0M526.2 1254.7h0M550.1 1243.8h0M533.8 1246.8h0" stroke="#E8E0DA" stroke-opacity="0.8" stroke-width="1.35" stroke-linecap="round"/>
<text x="548.8" y="1249.8" font-size="23.5" fill="#D40808" text-anchor="middle" textLength="10.0" lengthAdjust="spacingAndGlyphs" stroke="#D40808" stroke-width="0.6">1</text>
<rect x="581.3" y="1218.8" width="78.5" height="77.3" fill="#050505" stroke="none" stroke-width="0"/>
<linearGradient id="pg5" x1="0.15" y1="0.1" x2="0.85" y2="0.95"><stop offset="0" stop-color="#666F7C"/><stop offset="0.55" stop-color="#56606E"/><stop offset="1" stop-color="#373E47"/></linearGradient>
<circle cx="620.5" cy="1257.4" r="37.6" fill="#3A332C" stroke="none" stroke-width="0"/>
<circle cx="620.5" cy="1257.4" r="37.0" fill="none" stroke="#D8C4AC" stroke-width="1.1" stroke-opacity="0.75"/>
<circle cx="620.5" cy="1257.4" r="35.2" fill="none" stroke="#C8A878" stroke-width="1.4" stroke-dasharray="0.9 1.8 1.4 3.2 0.7 2.5 1.1 4" stroke-opacity="0.7"/>
<circle cx="620.5" cy="1257.4" r="34.0" fill="none" stroke="#D0C0B0" stroke-width="0.8" stroke-opacity="0.5"/>
<circle cx="620.5" cy="1257.4" r="33.2" fill="url(#pg5)" stroke="none" stroke-width="0"/>
<circle cx="620.5" cy="1257.4" r="32.9" fill="none" stroke="#A8B4CC" stroke-width="1.2" stroke-opacity="0.8"/>
<circle cx="620.5" cy="1257.4" r="30.4" fill="none" stroke="#B0B8C8" stroke-width="0.8" stroke-opacity="0.35"/>
<path d="M634.5 1241.0h0M610.3 1270.3h0M597.5 1266.8h0M610.3 1266.2h0M642.4 1262.4h0M614.0 1246.7h0M627.9 1265.2h0M615.1 1255.4h0M622.7 1242.9h0M601.2 1261.6h0M596.4 1263.3h0M638.7 1277.2h0M605.6 1252.3h0M646.1 1248.4h0M630.7 1275.9h0M623.4 1265.5h0M601.2 1258.8h0M592.8 1250.1h0M599.1 1237.0h0M628.1 1232.4h0M639.5 1242.0h0M594.8 1264.7h0M633.7 1265.3h0M623.4 1259.5h0M633.8 1246.0h0M641.2 1269.1h0M641.0 1258.6h0M621.9 1271.5h0M625.3 1229.0h0M619.6 1254.6h0M596.0 1262.2h0M626.0 1276.3h0M627.3 1245.8h0M624.5 1285.1h0M628.8 1278.2h0M603.1 1237.1h0M610.4 1238.0h0M604.3 1242.3h0M620.9 1241.1h0M622.4 1241.6h0M602.3 1256.7h0M624.3 1251.1h0M623.6 1284.4h0M620.2 1251.1h0M603.5 1250.2h0M637.1 1264.3h0M607.0 1281.5h0M598.4 1248.8h0M637.2 1282.5h0M618.1 1228.0h0M624.2 1253.1h0M592.2 1248.3h0M601.1 1237.4h0M638.5 1245.8h0M631.7 1268.0h0M591.1 1253.7h0M597.6 1275.5h0M619.9 1249.5h0M639.4 1276.9h0M609.9 1246.2h0M617.0 1253.1h0M648.4 1264.6h0M604.5 1261.5h0M600.0 1262.5h0M608.7 1281.2h0" stroke="#E8E0DA" stroke-opacity="0.8" stroke-width="1.35" stroke-linecap="round"/>
<text x="631.9" y="1249.8" font-size="23.5" fill="#D40808" text-anchor="middle" textLength="10.0" lengthAdjust="spacingAndGlyphs" stroke="#D40808" stroke-width="0.6">1</text>
<rect x="663.8" y="1218.8" width="78.9" height="77.3" fill="#050505" stroke="none" stroke-width="0"/>
<linearGradient id="pg6" x1="0.15" y1="0.1" x2="0.85" y2="0.95"><stop offset="0" stop-color="#2B3140"/><stop offset="0.55" stop-color="#141B2B"/><stop offset="1" stop-color="#0D111B"/></linearGradient>
<circle cx="703.2" cy="1257.4" r="37.6" fill="#3A332C" stroke="none" stroke-width="0"/>
<circle cx="703.2" cy="1257.4" r="37.0" fill="none" stroke="#D8C4AC" stroke-width="1.1" stroke-opacity="0.75"/>
<circle cx="703.2" cy="1257.4" r="35.2" fill="none" stroke="#C8A878" stroke-width="1.4" stroke-dasharray="0.9 1.8 1.4 3.2 0.7 2.5 1.1 4" stroke-opacity="0.7"/>
<circle cx="703.2" cy="1257.4" r="34.0" fill="none" stroke="#D0C0B0" stroke-width="0.8" stroke-opacity="0.5"/>
<circle cx="703.2" cy="1257.4" r="33.2" fill="url(#pg6)" stroke="none" stroke-width="0"/>
<circle cx="703.2" cy="1257.4" r="32.9" fill="none" stroke="#A8B4CC" stroke-width="1.2" stroke-opacity="0.8"/>
<circle cx="703.2" cy="1257.4" r="30.4" fill="none" stroke="#B0B8C8" stroke-width="0.8" stroke-opacity="0.35"/>
<text x="714.7" y="1249.8" font-size="23.5" fill="#D40808" text-anchor="middle" textLength="10.0" lengthAdjust="spacingAndGlyphs" stroke="#D40808" stroke-width="0.6">1</text>
<rect x="252.9" y="1300.0" width="78.5" height="78.2" fill="#050505" stroke="none" stroke-width="0"/>
<linearGradient id="pg7" x1="0.15" y1="0.1" x2="0.85" y2="0.95"><stop offset="0" stop-color="#343D5A"/><stop offset="0.55" stop-color="#1E2848"/><stop offset="1" stop-color="#131A2E"/></linearGradient>
<circle cx="292.1" cy="1339.1" r="38.1" fill="#3A332C" stroke="none" stroke-width="0"/>
<circle cx="292.1" cy="1339.1" r="37.5" fill="none" stroke="#D8C4AC" stroke-width="1.1" stroke-opacity="0.75"/>
<circle cx="292.1" cy="1339.1" r="35.7" fill="none" stroke="#C8A878" stroke-width="1.4" stroke-dasharray="0.9 1.8 1.4 3.2 0.7 2.5 1.1 4" stroke-opacity="0.7"/>
<circle cx="292.1" cy="1339.1" r="34.5" fill="none" stroke="#D0C0B0" stroke-width="0.8" stroke-opacity="0.5"/>
<circle cx="292.1" cy="1339.1" r="33.7" fill="url(#pg7)" stroke="none" stroke-width="0"/>
<circle cx="292.1" cy="1339.1" r="33.4" fill="none" stroke="#A8B4CC" stroke-width="1.2" stroke-opacity="0.8"/>
<circle cx="292.1" cy="1339.1" r="30.9" fill="none" stroke="#B0B8C8" stroke-width="0.8" stroke-opacity="0.35"/>
<text x="303.5" y="1331.0" font-size="23.5" fill="#D40808" text-anchor="middle" textLength="10.0" lengthAdjust="spacingAndGlyphs" stroke="#D40808" stroke-width="0.6">1</text>
<rect x="335.0" y="1300.0" width="78.1" height="78.2" fill="#050505" stroke="none" stroke-width="0"/>
<linearGradient id="pg8" x1="0.15" y1="0.1" x2="0.85" y2="0.95"><stop offset="0" stop-color="#5C6576"/><stop offset="0.55" stop-color="#4A5467"/><stop offset="1" stop-color="#303642"/></linearGradient>
<circle cx="374.1" cy="1339.1" r="38.1" fill="#3A332C" stroke="none" stroke-width="0"/>
<circle cx="374.1" cy="1339.1" r="37.5" fill="none" stroke="#D8C4AC" stroke-width="1.1" stroke-opacity="0.75"/>
<circle cx="374.1" cy="1339.1" r="35.7" fill="none" stroke="#C8A878" stroke-width="1.4" stroke-dasharray="0.9 1.8 1.4 3.2 0.7 2.5 1.1 4" stroke-opacity="0.7"/>
<circle cx="374.1" cy="1339.1" r="34.5" fill="none" stroke="#D0C0B0" stroke-width="0.8" stroke-opacity="0.5"/>
<circle cx="374.1" cy="1339.1" r="33.7" fill="url(#pg8)" stroke="none" stroke-width="0"/>
<circle cx="374.1" cy="1339.1" r="33.4" fill="none" stroke="#A8B4CC" stroke-width="1.2" stroke-opacity="0.8"/>
<circle cx="374.1" cy="1339.1" r="30.9" fill="none" stroke="#B0B8C8" stroke-width="0.8" stroke-opacity="0.35"/>
<path d="M358.6 1344.1h0M402.9 1348.7h0M373.0 1327.4h0M389.6 1323.8h0M379.8 1351.9h0M398.9 1325.7h0M362.7 1320.0h0M379.5 1364.9h0M388.4 1317.1h0M366.2 1313.2h0M353.3 1338.7h0M352.9 1325.1h0M358.4 1334.4h0M395.8 1322.9h0M381.0 1333.0h0M361.3 1326.8h0M391.1 1360.0h0M388.3 1362.9h0M388.0 1326.8h0M357.8 1343.2h0M380.7 1356.5h0M385.2 1357.4h0M373.9 1357.3h0M397.0 1339.9h0M364.5 1331.8h0M380.9 1343.1h0M373.7 1332.3h0M388.6 1350.4h0M344.3 1333.0h0M388.9 1341.3h0M381.3 1324.3h0M367.0 1361.2h0M384.5 1362.2h0M368.8 1333.5h0M370.7 1355.4h0M369.7 1313.5h0M367.9 1327.2h0M399.8 1339.8h0M376.4 1329.2h0M367.8 1325.8h0M352.5 1347.5h0M347.2 1352.2h0M347.8 1345.8h0M399.3 1334.5h0M354.4 1361.1h0M397.1 1324.1h0M384.4 1327.2h0M345.1 1336.6h0M351.8 1358.4h0M386.3 1323.2h0M368.2 1312.5h0M365.3 1345.3h0M381.5 1335.7h0M397.0 1344.2h0M393.1 1330.3h0M397.8 1320.4h0M367.7 1322.5h0M366.5 1346.2h0M379.1 1321.9h0M393.6 1353.9h0M383.1 1324.4h0M387.4 1336.4h0M359.7 1315.2h0M398.1 1335.2h0M352.1 1322.0h0M389.2 1337.2h0M361.9 1328.5h0M360.2 1339.7h0M378.2 1312.9h0M369.0 1362.3h0M387.1 1339.9h0M367.9 1328.3h0M352.5 1327.1h0M365.1 1315.5h0M364.9 1345.7h0M358.2 1335.8h0M354.3 1340.0h0M352.6 1328.1h0M368.8 1325.4h0M373.4 1356.2h0M370.0 1360.4h0M353.8 1352.0h0M385.6 1327.7h0M385.7 1347.0h0M367.9 1345.2h0M390.3 1362.4h0M368.9 1339.5h0M398.9 1326.1h0M349.9 1325.4h0M387.7 1328.6h0M378.7 1313.1h0M357.3 1334.2h0M353.2 1331.1h0M390.3 1314.2h0M383.8 1357.0h0M391.3 1358.5h0M361.0 1362.6h0M388.2 1319.5h0M364.1 1358.5h0M365.3 1345.5h0M361.4 1343.8h0M357.3 1344.4h0M370.5 1346.0h0M357.2 1358.7h0M372.6 1349.4h0M370.0 1316.2h0M368.9 1332.7h0M391.8 1359.6h0M391.0 1321.5h0M359.3 1332.2h0M366.0 1318.0h0M357.4 1342.4h0M385.9 1328.5h0M391.1 1322.2h0M388.8 1327.3h0M392.5 1338.2h0M370.7 1344.1h0M360.0 1359.7h0M367.0 1342.8h0M379.4 1365.7h0M370.6 1333.7h0M346.7 1327.7h0M373.7 1359.5h0M346.8 1336.4h0M395.1 1317.5h0M373.5 1339.4h0M372.9 1359.7h0M362.7 1320.2h0M400.7 1342.7h0M384.1 1341.8h0M380.7 1315.7h0M371.0 1312.3h0M394.8 1350.4h0M354.6 1325.4h0M366.3 1323.2h0M355.2 1357.2h0M384.2 1354.0h0M355.2 1339.4h0M345.4 1344.0h0M368.7 1341.8h0M398.9 1334.0h0M376.7 1346.4h0M391.0 1334.6h0M367.3 1343.0h0M388.0 1326.8h0M361.1 1360.9h0M353.9 1319.5h0M370.8 1340.9h0M361.4 1358.0h0M353.6 1338.5h0M389.3 1316.6h0M375.0 1316.9h0M391.9 1324.3h0M381.7 1355.5h0M349.6 1332.2h0M395.2 1339.9h0M364.4 1339.9h0M383.4 1323.4h0M378.7 1319.8h0M393.1 1322.3h0M379.5 1352.1h0M360.6 1314.7h0M368.1 1314.6h0M376.6 1323.5h0M364.6 1362.0h0M351.2 1328.6h0M386.4 1357.5h0M353.4 1349.1h0M399.1 1339.3h0M385.8 1364.6h0M380.7 1338.5h0M388.5 1335.5h0M350.6 1338.0h0M367.1 1346.4h0M396.7 1355.4h0M385.0 1328.6h0M362.3 1313.2h0M366.5 1337.8h0M360.4 1329.6h0M369.2 1363.6h0M371.4 1323.9h0M367.1 1347.9h0M400.9 1328.8h0M395.6 1325.5h0M387.7 1331.4h0M379.0 1357.8h0M353.8 1347.3h0M384.4 1364.4h0M376.7 1353.4h0M372.9 1341.1h0M387.5 1329.6h0M395.6 1333.1h0M367.7 1313.4h0M387.6 1362.5h0M357.2 1334.9h0M350.7 1331.7h0M391.3 1336.4h0M388.4 1336.1h0M348.6 1349.5h0M386.1 1334.4h0M404.1 1340.3h0M364.5 1311.0h0M354.9 1340.9h0M372.1 1327.6h0M373.9 1346.0h0M365.6 1346.6h0M374.0 1353.4h0M391.0 1322.8h0M358.6 1333.5h0M369.8 1325.9h0M363.4 1327.1h0M388.3 1350.1h0M381.5 1332.6h0M390.2 1348.1h0M365.7 1342.8h0M377.5 1351.1h0M384.4 1359.6h0M360.4 1316.7h0M394.8 1335.4h0M402.8 1337.2h0M382.8 1319.8h0M382.5 1352.3h0M373.6 1317.5h0M390.9 1314.6h0M360.7 1365.9h0M402.5 1328.8h0M375.7 1327.7h0M394.6 1352.7h0M362.6 1317.1h0M385.8 1330.9h0M388.7 1332.3h0M350.9 1342.2h0M346.9 1329.4h0M359.6 1348.9h0M365.2 1343.0h0M390.8 1342.6h0M347.4 1351.7h0M371.8 1328.4h0M390.5 1344.8h0M367.9 1356.8h0M393.9 1336.3h0M373.0 1334.6h0M385.2 1355.9h0M372.5 1353.4h0M395.4 1346.8h0M348.6 1341.3h0M367.2 1329.5h0M372.5 1315.9h0M397.8 1348.8h0M370.7 1338.1h0M395.7 1326.3h0M346.4 1336.5h0M370.5 1348.7h0M361.9 1319.1h0M361.4 1350.5h0M376.6 1320.7h0M369.6 1351.9h0M370.4 1348.6h0M401.6 1335.7h0M392.4 1349.6h0M378.9 1356.8h0M362.1 1343.6h0M373.8 1353.3h0M347.4 1326.8h0M388.9 1327.5h0M390.1 1361.5h0M391.6 1322.7h0M361.5 1365.3h0M367.2 1351.9h0M401.5 1335.6h0M381.9 1337.8h0M397.6 1321.8h0M384.4 1366.8h0M348.1 1334.8h0M367.0 1358.7h0M366.3 1353.9h0M377.9 1356.8h0M369.7 1342.0h0M391.6 1354.9h0M371.2 1342.9h0M377.3 1329.0h0M384.3 1349.8h0M381.9 1367.6h0M374.5 1354.9h0M395.3 1332.4h0M375.5 1326.4h0" stroke="#E8E0DA" stroke-opacity="0.8" stroke-width="1.35" stroke-linecap="round"/>
<text x="378.0" y="1328.0" font-size="22" fill="#D40808" text-anchor="middle" textLength="42.0" lengthAdjust="spacingAndGlyphs" stroke="#D40808" stroke-width="0.5">1/10</text>
<rect x="415.5" y="1300.0" width="77.7" height="78.2" fill="#050505" stroke="none" stroke-width="0"/>
<linearGradient id="pg9" x1="0.15" y1="0.1" x2="0.85" y2="0.95"><stop offset="0" stop-color="#4E5C74"/><stop offset="0.55" stop-color="#3B4A65"/><stop offset="1" stop-color="#263041"/></linearGradient>
<circle cx="454.4" cy="1339.1" r="37.8" fill="#3A332C" stroke="none" stroke-width="0"/>
<circle cx="454.4" cy="1339.1" r="37.2" fill="none" stroke="#D8C4AC" stroke-width="1.1" stroke-opacity="0.75"/>
<circle cx="454.4" cy="1339.1" r="35.4" fill="none" stroke="#C8A878" stroke-width="1.4" stroke-dasharray="0.9 1.8 1.4 3.2 0.7 2.5 1.1 4" stroke-opacity="0.7"/>
<circle cx="454.4" cy="1339.1" r="34.2" fill="none" stroke="#D0C0B0" stroke-width="0.8" stroke-opacity="0.5"/>
<circle cx="454.4" cy="1339.1" r="33.4" fill="url(#pg9)" stroke="none" stroke-width="0"/>
<circle cx="454.4" cy="1339.1" r="33.1" fill="none" stroke="#A8B4CC" stroke-width="1.2" stroke-opacity="0.8"/>
<circle cx="454.4" cy="1339.1" r="30.6" fill="none" stroke="#B0B8C8" stroke-width="0.8" stroke-opacity="0.35"/>
<path d="M431.9 1358.3h0M477.4 1332.1h0M440.8 1320.6h0M436.3 1360.6h0M435.6 1320.3h0M430.2 1328.3h0M462.1 1350.7h0M463.3 1312.1h0M467.9 1358.1h0M451.2 1329.7h0M470.1 1338.5h0M453.4 1363.5h0M448.6 1366.2h0M438.2 1335.4h0M462.2 1330.2h0M471.7 1319.8h0M460.3 1342.2h0M472.0 1360.5h0M435.6 1341.0h0M433.1 1353.3h0M461.3 1362.9h0M432.3 1324.1h0M463.2 1317.3h0M468.8 1335.8h0M448.4 1356.2h0M468.4 1338.2h0M441.7 1332.3h0M447.6 1320.0h0M434.5 1342.7h0M483.0 1344.2h0M448.5 1310.6h0M479.9 1328.0h0M441.9 1352.4h0M484.4 1339.9h0M430.2 1348.2h0M454.4 1315.2h0M428.0 1331.3h0M482.8 1334.7h0M443.7 1314.9h0M460.7 1318.6h0M481.6 1346.6h0M425.3 1346.4h0M452.7 1348.8h0M460.7 1315.6h0M453.1 1347.3h0M467.2 1320.4h0M428.6 1333.2h0M462.2 1346.9h0M431.2 1344.9h0M457.4 1319.2h0M454.5 1347.0h0M468.3 1315.6h0M428.4 1351.6h0M483.9 1342.7h0M478.1 1331.8h0M433.7 1349.0h0M440.9 1360.9h0M442.9 1356.8h0M478.2 1320.7h0M473.8 1322.2h0M442.0 1365.8h0M466.1 1333.6h0M471.1 1345.0h0M477.4 1336.0h0M476.1 1338.3h0M447.0 1366.8h0M442.9 1365.9h0M471.0 1316.6h0M431.4 1341.3h0M453.7 1324.1h0M468.7 1364.8h0M477.3 1357.9h0M449.1 1348.0h0M476.1 1328.4h0M469.8 1335.1h0M478.9 1330.2h0M457.2 1336.1h0M432.8 1338.4h0M468.6 1346.7h0M431.4 1339.0h0M451.2 1309.8h0M481.3 1347.6h0M443.4 1346.6h0M464.1 1355.5h0M477.9 1343.5h0M455.4 1343.3h0M468.9 1352.6h0M429.2 1330.2h0M438.1 1315.6h0M466.3 1333.1h0M443.2 1353.5h0M472.7 1325.6h0M458.2 1324.8h0M439.7 1324.8h0M442.0 1319.9h0M454.1 1325.7h0M454.3 1365.3h0M432.0 1350.0h0M434.0 1356.3h0M449.7 1366.8h0M449.7 1348.7h0M443.4 1329.9h0M456.9 1326.4h0M459.4 1328.6h0M456.7 1318.0h0M443.1 1329.1h0M453.0 1369.0h0M483.5 1337.0h0M464.9 1357.7h0M476.1 1346.0h0M434.5 1348.2h0M448.0 1317.2h0M433.5 1353.0h0M439.1 1326.1h0M448.6 1327.8h0M456.2 1322.4h0M434.6 1349.8h0M461.1 1360.1h0M445.8 1312.1h0M427.1 1326.7h0M441.6 1348.7h0M458.3 1357.7h0M460.8 1329.4h0M443.0 1362.7h0M478.7 1355.7h0M429.5 1351.7h0M474.1 1351.6h0M468.5 1323.7h0M451.4 1357.5h0M435.5 1327.5h0M432.8 1328.3h0M473.9 1327.5h0M436.4 1362.4h0M446.3 1351.0h0M468.5 1340.2h0M466.3 1347.6h0M458.7 1319.1h0M474.3 1353.0h0M429.1 1335.1h0M436.9 1339.6h0M443.8 1324.9h0M434.0 1354.4h0M448.0 1310.7h0M458.3 1368.5h0M449.0 1365.4h0M462.9 1353.4h0M437.9 1314.8h0M465.4 1322.7h0M479.8 1333.9h0M428.0 1353.0h0M478.7 1336.1h0M461.2 1323.7h0M441.3 1330.1h0M442.9 1350.8h0M481.3 1351.0h0M447.4 1327.7h0M436.5 1320.2h0M482.0 1337.8h0M473.7 1349.5h0M478.4 1348.4h0M475.1 1327.9h0M443.4 1336.8h0M469.8 1365.1h0M470.2 1316.8h0M425.4 1336.1h0M450.1 1354.2h0M455.8 1343.3h0M443.3 1313.3h0M446.0 1338.6h0M458.0 1356.2h0M461.2 1355.6h0M450.2 1346.4h0M444.2 1350.1h0M472.0 1322.7h0M457.5 1334.2h0M465.8 1320.8h0M460.7 1319.3h0M447.1 1343.9h0M469.2 1363.6h0M455.9 1358.9h0M456.4 1366.3h0M467.6 1361.6h0M470.3 1359.8h0M454.6 1342.1h0M478.5 1349.0h0M428.2 1344.1h0M449.9 1361.7h0M475.3 1321.7h0M468.3 1341.5h0M474.7 1351.4h0M446.1 1312.8h0M457.3 1330.9h0M444.0 1318.9h0M442.3 1358.3h0M471.6 1346.3h0M455.0 1351.3h0M472.6 1363.2h0M446.6 1356.7h0M462.6 1368.1h0M460.2 1338.0h0M473.5 1347.8h0M475.8 1326.0h0M468.1 1319.7h0M458.0 1353.6h0M467.4 1323.5h0M459.9 1345.7h0M483.8 1332.0h0M476.3 1336.7h0M433.8 1341.0h0M446.7 1313.7h0M481.5 1330.8h0M471.4 1362.2h0M434.9 1346.4h0M452.8 1348.6h0M469.3 1328.9h0M446.9 1364.7h0M459.1 1338.1h0M453.1 1344.9h0M448.1 1325.3h0M449.7 1316.9h0M480.4 1349.5h0M461.8 1358.6h0M431.2 1344.3h0M476.3 1320.9h0M458.7 1339.6h0M429.9 1350.3h0M437.1 1360.7h0M440.5 1324.2h0M460.6 1340.7h0M474.6 1326.1h0M448.5 1312.1h0M455.3 1357.4h0M453.6 1343.3h0M479.4 1334.7h0M434.8 1336.0h0M446.1 1310.0h0M440.0 1359.1h0M452.4 1319.3h0M451.5 1322.2h0M446.9 1342.6h0M462.2 1313.3h0M447.2 1352.4h0M429.1 1345.2h0M459.2 1310.6h0M462.3 1351.8h0M434.8 1319.2h0M444.8 1331.2h0M433.4 1348.4h0M471.5 1327.9h0M468.3 1320.4h0M427.0 1332.6h0M463.8 1354.1h0M470.2 1324.0h0M479.6 1348.9h0M465.1 1354.2h0M479.3 1355.4h0M462.2 1338.1h0M469.2 1349.9h0M427.1 1332.8h0M449.3 1331.7h0M453.6 1338.0h0M445.8 1337.8h0M466.3 1326.2h0M459.4 1368.1h0M467.2 1364.1h0M427.9 1327.9h0M450.9 1335.7h0M436.5 1353.1h0M472.8 1341.6h0M447.5 1340.2h0M453.7 1360.4h0M447.3 1338.1h0M455.1 1352.5h0M438.8 1344.9h0M476.2 1337.6h0M433.5 1355.2h0M481.0 1344.8h0M454.9 1343.2h0M447.8 1329.0h0M450.8 1357.9h0M464.1 1351.0h0M464.6 1365.3h0M428.2 1338.6h0M443.2 1311.4h0M460.4 1319.2h0M468.8 1350.8h0M444.9 1361.6h0M462.9 1333.7h0M454.0 1330.6h0M453.8 1348.2h0M447.9 1331.3h0M445.6 1319.3h0M468.8 1344.1h0M479.1 1338.2h0M455.6 1327.4h0M429.7 1352.5h0M451.5 1327.7h0M471.3 1317.8h0M457.6 1326.5h0M447.1 1343.5h0M456.5 1339.1h0M441.3 1318.5h0M471.9 1315.6h0M431.9 1340.2h0M458.6 1309.9h0M453.5 1317.7h0M476.5 1343.1h0M454.6 1345.1h0M466.6 1354.7h0M432.1 1333.1h0M425.5 1334.5h0M466.4 1329.7h0" stroke="#E8E0DA" stroke-opacity="0.8" stroke-width="1.35" stroke-linecap="round"/>
<text x="458.2" y="1328.0" font-size="22" fill="#D40808" text-anchor="middle" textLength="42.0" lengthAdjust="spacingAndGlyphs" stroke="#D40808" stroke-width="0.5">1/10</text>
<rect x="498.4" y="1300.0" width="78.1" height="78.2" fill="#050505" stroke="none" stroke-width="0"/>
<linearGradient id="pg10" x1="0.15" y1="0.1" x2="0.85" y2="0.95"><stop offset="0" stop-color="#525C6E"/><stop offset="0.55" stop-color="#3F4A5E"/><stop offset="1" stop-color="#28303D"/></linearGradient>
<circle cx="537.5" cy="1339.1" r="38.1" fill="#3A332C" stroke="none" stroke-width="0"/>
<circle cx="537.5" cy="1339.1" r="37.5" fill="none" stroke="#D8C4AC" stroke-width="1.1" stroke-opacity="0.75"/>
<circle cx="537.5" cy="1339.1" r="35.7" fill="none" stroke="#C8A878" stroke-width="1.4" stroke-dasharray="0.9 1.8 1.4 3.2 0.7 2.5 1.1 4" stroke-opacity="0.7"/>
<circle cx="537.5" cy="1339.1" r="34.5" fill="none" stroke="#D0C0B0" stroke-width="0.8" stroke-opacity="0.5"/>
<circle cx="537.5" cy="1339.1" r="33.7" fill="url(#pg10)" stroke="none" stroke-width="0"/>
<circle cx="537.5" cy="1339.1" r="33.4" fill="none" stroke="#A8B4CC" stroke-width="1.2" stroke-opacity="0.8"/>
<circle cx="537.5" cy="1339.1" r="30.9" fill="none" stroke="#B0B8C8" stroke-width="0.8" stroke-opacity="0.35"/>
<path d="M524.0 1336.6h0M540.3 1314.8h0M537.6 1367.0h0M541.3 1340.3h0M555.2 1336.1h0M523.7 1359.8h0M560.9 1342.0h0M538.5 1312.6h0M517.5 1355.7h0M551.4 1346.6h0M515.3 1352.8h0M547.6 1335.8h0M532.8 1317.9h0M531.1 1332.3h0M536.5 1368.6h0M562.8 1350.7h0M554.8 1340.7h0M546.5 1357.2h0M547.5 1311.5h0M535.3 1344.4h0M548.0 1365.5h0M554.7 1334.1h0M536.2 1356.2h0M553.1 1330.6h0M531.1 1345.9h0M537.1 1349.4h0M559.1 1334.1h0M542.3 1320.8h0M556.6 1351.2h0M543.9 1329.2h0M512.4 1323.8h0M522.9 1355.5h0M542.1 1360.7h0M563.7 1325.0h0M516.3 1352.8h0M533.0 1359.4h0M534.2 1322.5h0M555.6 1351.6h0M537.4 1351.9h0M560.7 1346.6h0M555.8 1359.8h0M514.3 1332.4h0M545.0 1358.2h0M522.3 1317.0h0M511.6 1349.5h0M515.6 1334.2h0M548.5 1356.1h0M539.8 1350.8h0M546.7 1322.6h0M522.6 1364.0h0M510.2 1327.7h0M548.1 1322.6h0M560.6 1349.5h0M529.0 1323.5h0M530.2 1315.9h0M515.3 1339.7h0M564.9 1347.8h0M546.3 1364.2h0M542.3 1343.4h0M543.5 1340.7h0M559.0 1337.2h0M537.5 1364.6h0M528.3 1340.0h0M545.2 1344.6h0M526.4 1365.8h0M521.5 1329.5h0M542.8 1340.1h0M528.1 1352.6h0M542.2 1315.1h0M549.9 1351.3h0M552.3 1351.6h0M560.7 1323.5h0M559.4 1351.7h0M531.2 1360.4h0M530.3 1325.3h0M548.7 1343.5h0M553.5 1342.9h0M508.4 1342.4h0M548.4 1351.6h0M556.6 1326.1h0M543.8 1354.4h0M533.2 1367.1h0M526.9 1340.3h0M532.6 1364.0h0M558.8 1353.4h0M549.3 1344.5h0M550.7 1327.8h0M511.8 1335.0h0M542.6 1316.8h0M548.1 1324.1h0M542.6 1343.1h0M536.6 1352.2h0M555.2 1356.5h0M542.6 1365.7h0M524.2 1319.1h0M549.0 1356.5h0M531.0 1313.6h0M545.7 1341.2h0M547.2 1320.3h0M543.9 1347.1h0M534.1 1348.4h0M556.1 1319.3h0M546.9 1362.1h0M519.1 1331.7h0M562.9 1355.1h0M562.5 1335.6h0M519.2 1359.1h0M535.5 1358.0h0M522.1 1348.2h0M544.9 1360.4h0M517.6 1317.9h0M554.5 1332.6h0M530.0 1342.6h0M531.8 1335.3h0M562.5 1350.9h0M542.2 1324.1h0M556.1 1316.4h0" stroke="#E8E0DA" stroke-opacity="0.8" stroke-width="1.35" stroke-linecap="round"/>
<text x="541.4" y="1328.0" font-size="22" fill="#D40808" text-anchor="middle" textLength="42.0" lengthAdjust="spacingAndGlyphs" stroke="#D40808" stroke-width="0.5">1/10</text>
<rect x="581.3" y="1300.0" width="78.5" height="78.2" fill="#050505" stroke="none" stroke-width="0"/>
<linearGradient id="pg11" x1="0.15" y1="0.1" x2="0.85" y2="0.95"><stop offset="0" stop-color="#525C6E"/><stop offset="0.55" stop-color="#3F4A5E"/><stop offset="1" stop-color="#28303D"/></linearGradient>
<circle cx="620.5" cy="1339.1" r="38.1" fill="#3A332C" stroke="none" stroke-width="0"/>
<circle cx="620.5" cy="1339.1" r="37.5" fill="none" stroke="#D8C4AC" stroke-width="1.1" stroke-opacity="0.75"/>
<circle cx="620.5" cy="1339.1" r="35.7" fill="none" stroke="#C8A878" stroke-width="1.4" stroke-dasharray="0.9 1.8 1.4 3.2 0.7 2.5 1.1 4" stroke-opacity="0.7"/>
<circle cx="620.5" cy="1339.1" r="34.5" fill="none" stroke="#D0C0B0" stroke-width="0.8" stroke-opacity="0.5"/>
<circle cx="620.5" cy="1339.1" r="33.7" fill="url(#pg11)" stroke="none" stroke-width="0"/>
<circle cx="620.5" cy="1339.1" r="33.4" fill="none" stroke="#A8B4CC" stroke-width="1.2" stroke-opacity="0.8"/>
<circle cx="620.5" cy="1339.1" r="30.9" fill="none" stroke="#B0B8C8" stroke-width="0.8" stroke-opacity="0.35"/>
<path d="M647.1 1332.2h0M640.2 1323.7h0M619.5 1325.2h0M623.1 1313.1h0M615.5 1327.8h0M628.6 1340.9h0M616.0 1344.6h0M630.4 1325.5h0M612.1 1339.5h0M637.5 1336.5h0M644.0 1320.4h0M615.1 1322.4h0M617.6 1360.8h0M620.2 1328.7h0M600.0 1317.1h0M606.3 1317.1h0M618.3 1320.8h0M619.8 1336.1h0M628.6 1340.0h0M620.7 1311.2h0M647.6 1334.6h0M643.2 1328.3h0M620.1 1318.8h0M627.0 1342.5h0M632.7 1326.5h0M604.5 1344.3h0M597.3 1328.9h0M642.0 1349.4h0M610.6 1336.6h0M617.8 1341.5h0M634.1 1347.4h0M605.1 1325.1h0M650.7 1340.5h0M639.6 1346.8h0M635.2 1326.2h0M602.6 1332.4h0M601.5 1319.6h0M633.3 1351.7h0M600.2 1337.7h0M626.8 1366.1h0M627.3 1316.8h0M598.4 1358.4h0M637.2 1363.8h0M603.5 1339.3h0M604.2 1334.5h0M636.8 1320.8h0M620.7 1347.0h0M645.3 1333.1h0M611.2 1364.1h0M642.7 1357.9h0M627.3 1367.0h0M598.1 1319.9h0M636.5 1325.2h0M628.6 1344.1h0M627.7 1324.7h0M648.9 1342.9h0M621.7 1361.5h0M627.3 1366.5h0M610.0 1311.9h0M617.5 1364.5h0M623.0 1360.6h0M620.5 1310.0h0M624.9 1314.5h0M613.0 1322.8h0M612.0 1337.7h0M631.9 1367.0h0M641.9 1358.7h0M599.6 1343.9h0M613.3 1335.3h0M595.2 1336.5h0M641.5 1333.2h0M610.9 1339.0h0M609.6 1324.2h0M645.2 1344.4h0M618.1 1340.9h0M592.0 1330.2h0M607.8 1362.2h0M602.1 1339.5h0M645.0 1355.2h0M614.0 1327.0h0M606.7 1328.6h0M650.3 1344.0h0M616.8 1365.8h0M614.0 1322.8h0M621.5 1315.4h0M612.9 1310.4h0M603.1 1361.9h0M599.4 1355.9h0M630.3 1311.6h0M614.6 1331.7h0M613.2 1350.8h0" stroke="#E8E0DA" stroke-opacity="0.8" stroke-width="1.35" stroke-linecap="round"/>
<text x="624.5" y="1328.0" font-size="22" fill="#D40808" text-anchor="middle" textLength="42.0" lengthAdjust="spacingAndGlyphs" stroke="#D40808" stroke-width="0.5">1/10</text>
<rect x="663.8" y="1300.0" width="78.9" height="78.2" fill="#050505" stroke="none" stroke-width="0"/>
<linearGradient id="pg12" x1="0.15" y1="0.1" x2="0.85" y2="0.95"><stop offset="0" stop-color="#38415A"/><stop offset="0.55" stop-color="#222C48"/><stop offset="1" stop-color="#161C2E"/></linearGradient>
<circle cx="703.2" cy="1339.1" r="38.1" fill="#3A332C" stroke="none" stroke-width="0"/>
<circle cx="703.2" cy="1339.1" r="37.5" fill="none" stroke="#D8C4AC" stroke-width="1.1" stroke-opacity="0.75"/>
<circle cx="703.2" cy="1339.1" r="35.7" fill="none" stroke="#C8A878" stroke-width="1.4" stroke-dasharray="0.9 1.8 1.4 3.2 0.7 2.5 1.1 4" stroke-opacity="0.7"/>
<circle cx="703.2" cy="1339.1" r="34.5" fill="none" stroke="#D0C0B0" stroke-width="0.8" stroke-opacity="0.5"/>
<circle cx="703.2" cy="1339.1" r="33.7" fill="url(#pg12)" stroke="none" stroke-width="0"/>
<circle cx="703.2" cy="1339.1" r="33.4" fill="none" stroke="#A8B4CC" stroke-width="1.2" stroke-opacity="0.8"/>
<circle cx="703.2" cy="1339.1" r="30.9" fill="none" stroke="#B0B8C8" stroke-width="0.8" stroke-opacity="0.35"/>
<path d="M723.3 1321.5h0M730.3 1338.7h0M697.0 1346.3h0M683.0 1320.3h0M698.5 1322.6h0M713.7 1334.0h0M696.1 1325.5h0M686.2 1352.3h0M727.9 1329.9h0M721.9 1327.7h0M719.2 1323.1h0M707.5 1333.4h0M726.0 1355.1h0" stroke="#E8E0DA" stroke-opacity="0.8" stroke-width="1.35" stroke-linecap="round"/>
<text x="707.2" y="1328.0" font-size="22" fill="#D40808" text-anchor="middle" textLength="42.0" lengthAdjust="spacingAndGlyphs" stroke="#D40808" stroke-width="0.5">1/10</text>
<rect x="252.9" y="1381.0" width="78.5" height="78.5" fill="#050505" stroke="none" stroke-width="0"/>
<linearGradient id="pg13" x1="0.15" y1="0.1" x2="0.85" y2="0.95"><stop offset="0" stop-color="#3B4461"/><stop offset="0.55" stop-color="#263050"/><stop offset="1" stop-color="#181F34"/></linearGradient>
<circle cx="292.1" cy="1420.2" r="38.2" fill="#3A332C" stroke="none" stroke-width="0"/>
<circle cx="292.1" cy="1420.2" r="37.6" fill="none" stroke="#D8C4AC" stroke-width="1.1" stroke-opacity="0.75"/>
<circle cx="292.1" cy="1420.2" r="35.8" fill="none" stroke="#C8A878" stroke-width="1.4" stroke-dasharray="0.9 1.8 1.4 3.2 0.7 2.5 1.1 4" stroke-opacity="0.7"/>
<circle cx="292.1" cy="1420.2" r="34.6" fill="none" stroke="#D0C0B0" stroke-width="0.8" stroke-opacity="0.5"/>
<circle cx="292.1" cy="1420.2" r="33.8" fill="url(#pg13)" stroke="none" stroke-width="0"/>
<circle cx="292.1" cy="1420.2" r="33.5" fill="none" stroke="#A8B4CC" stroke-width="1.2" stroke-opacity="0.8"/>
<circle cx="292.1" cy="1420.2" r="31.0" fill="none" stroke="#B0B8C8" stroke-width="0.8" stroke-opacity="0.35"/>
<text x="303.5" y="1408.5" font-size="23.5" fill="#D40808" text-anchor="middle" textLength="10.0" lengthAdjust="spacingAndGlyphs" stroke="#D40808" stroke-width="0.6">1</text>
<rect x="335.0" y="1381.0" width="78.1" height="78.5" fill="#050505" stroke="none" stroke-width="0"/>
<linearGradient id="pg14" x1="0.15" y1="0.1" x2="0.85" y2="0.95"><stop offset="0" stop-color="#95919B"/><stop offset="0.55" stop-color="#8A8590"/><stop offset="1" stop-color="#59565D"/></linearGradient>
<circle cx="374.1" cy="1420.2" r="38.1" fill="#3A332C" stroke="none" stroke-width="0"/>
<circle cx="374.1" cy="1420.2" r="37.5" fill="none" stroke="#D8C4AC" stroke-width="1.1" stroke-opacity="0.75"/>
<circle cx="374.1" cy="1420.2" r="35.7" fill="none" stroke="#C8A878" stroke-width="1.4" stroke-dasharray="0.9 1.8 1.4 3.2 0.7 2.5 1.1 4" stroke-opacity="0.7"/>
<circle cx="374.1" cy="1420.2" r="34.5" fill="none" stroke="#D0C0B0" stroke-width="0.8" stroke-opacity="0.5"/>
<circle cx="374.1" cy="1420.2" r="33.7" fill="url(#pg14)" stroke="none" stroke-width="0"/>
<circle cx="374.1" cy="1420.2" r="33.4" fill="none" stroke="#A8B4CC" stroke-width="1.2" stroke-opacity="0.8"/>
<circle cx="374.1" cy="1420.2" r="30.9" fill="none" stroke="#B0B8C8" stroke-width="0.8" stroke-opacity="0.35"/>
<path d="M377.1 1404.3h0M361.9 1426.3h0M373.7 1406.9h0M370.0 1413.8h0M372.1 1447.9h0M365.0 1448.8h0M390.0 1426.7h0M383.0 1431.5h0M353.5 1414.5h0M360.5 1401.4h0M354.4 1433.1h0M398.1 1408.2h0M395.6 1440.6h0M353.7 1418.5h0M384.1 1441.0h0M350.4 1409.7h0M380.8 1426.0h0M352.0 1432.1h0M384.2 1430.2h0M399.9 1404.1h0M355.8 1428.0h0M392.1 1426.5h0M365.5 1437.8h0M382.3 1443.4h0M389.7 1419.7h0M383.0 1402.1h0M360.8 1436.4h0M356.0 1415.3h0M378.4 1411.2h0M366.4 1447.5h0M367.1 1416.8h0M400.9 1409.6h0M375.8 1400.0h0M395.4 1440.0h0M358.0 1427.9h0M358.2 1440.9h0M373.8 1407.2h0M402.8 1419.3h0M377.9 1448.7h0M361.3 1417.4h0M398.9 1411.5h0M395.8 1427.6h0M401.7 1425.3h0M397.7 1419.5h0M357.2 1410.8h0M373.5 1427.3h0M371.5 1411.9h0M359.8 1420.8h0M385.6 1428.6h0M384.8 1419.4h0M361.3 1425.5h0M346.1 1420.7h0M400.8 1411.3h0M353.0 1431.6h0M380.5 1409.9h0M349.5 1438.3h0M368.8 1441.8h0M365.2 1396.7h0M352.1 1415.4h0M360.1 1406.7h0M349.4 1415.8h0M382.7 1424.4h0M380.5 1416.0h0M382.4 1411.4h0M354.3 1419.1h0M374.5 1404.6h0M371.2 1412.4h0M375.9 1424.3h0M348.7 1408.5h0M382.9 1420.4h0M386.0 1416.5h0M375.2 1450.6h0M350.2 1430.8h0M368.7 1401.5h0M353.8 1425.1h0M369.1 1408.3h0M370.0 1414.8h0M370.6 1408.3h0M368.2 1405.6h0M389.5 1425.6h0M365.2 1410.1h0M364.3 1449.0h0M384.3 1447.0h0M397.9 1433.9h0M381.1 1409.7h0M380.5 1396.6h0M372.4 1432.5h0M374.4 1420.2h0M383.6 1425.5h0M377.8 1424.3h0M367.3 1423.2h0M357.2 1430.3h0M347.8 1423.0h0M361.8 1418.5h0M395.1 1434.1h0M394.6 1424.6h0M396.9 1403.1h0M351.0 1409.8h0M377.3 1403.6h0M404.2 1421.3h0M344.4 1421.0h0M393.2 1407.2h0M387.7 1430.0h0M383.9 1405.8h0M388.4 1412.0h0M365.8 1394.9h0M368.1 1433.7h0M356.7 1402.0h0M374.2 1434.9h0M378.5 1441.5h0M384.3 1406.4h0M390.1 1435.0h0M400.4 1420.9h0M359.0 1438.9h0M382.4 1423.0h0M384.8 1434.0h0M383.5 1405.3h0M373.0 1419.2h0M358.7 1429.3h0M381.9 1444.6h0M372.2 1431.3h0M398.7 1435.7h0M386.7 1423.5h0M370.6 1419.7h0M345.9 1422.2h0M347.3 1408.1h0M362.7 1410.0h0M394.0 1408.8h0M376.9 1404.9h0M352.1 1405.4h0M387.6 1442.1h0M363.0 1400.8h0M355.5 1420.3h0M359.9 1440.6h0M356.4 1415.2h0M384.4 1394.2h0M374.2 1417.0h0M354.3 1422.9h0M372.9 1419.4h0M357.3 1395.7h0M363.8 1421.9h0M364.9 1418.7h0M397.6 1411.4h0M400.3 1417.5h0M396.6 1419.0h0M368.5 1405.5h0M366.1 1445.4h0M363.0 1438.4h0M381.0 1407.8h0M367.1 1391.7h0M362.9 1408.9h0M358.9 1399.7h0M374.1 1436.7h0M362.8 1408.5h0M403.3 1423.0h0M355.3 1405.9h0M383.6 1414.2h0M373.1 1429.9h0M382.4 1413.6h0M352.4 1405.2h0M391.0 1431.5h0M373.9 1391.8h0M391.3 1428.5h0M378.6 1432.6h0M374.0 1397.8h0M381.2 1432.2h0M391.8 1436.3h0M377.0 1435.5h0M368.7 1444.1h0M391.0 1433.7h0M346.6 1409.6h0M379.8 1405.0h0M374.6 1398.1h0M381.3 1446.5h0M383.7 1408.7h0M396.7 1434.6h0M354.3 1405.5h0M393.7 1399.6h0M377.4 1395.8h0M393.4 1427.5h0M374.2 1424.4h0M365.7 1443.8h0M384.3 1416.2h0M352.7 1425.7h0M399.8 1426.0h0M371.8 1448.6h0M398.8 1417.9h0M367.5 1416.4h0M376.8 1426.4h0M369.3 1390.8h0M398.6 1435.2h0M379.3 1420.3h0M345.0 1417.5h0M392.1 1424.2h0M397.6 1416.8h0M388.6 1395.8h0M363.0 1397.1h0M392.5 1428.7h0M375.9 1448.0h0M367.1 1414.9h0M350.6 1402.0h0M388.8 1398.6h0M397.7 1432.4h0M382.5 1406.7h0M372.7 1403.7h0M398.8 1413.6h0M389.6 1430.1h0M363.2 1397.3h0M353.2 1417.6h0M368.9 1422.9h0M384.4 1444.0h0M399.9 1419.1h0M379.1 1415.9h0M370.6 1418.2h0M355.4 1429.6h0M345.3 1423.3h0M343.7 1419.3h0M371.1 1396.4h0M350.7 1412.6h0M379.2 1449.7h0M393.6 1407.1h0M399.4 1432.6h0M347.1 1426.3h0M376.2 1393.1h0M367.6 1406.3h0M390.5 1431.3h0M391.0 1407.3h0M348.1 1415.8h0M364.2 1392.7h0M352.4 1421.1h0M370.8 1446.0h0M364.9 1430.3h0M355.4 1411.7h0M372.6 1432.8h0M399.4 1407.6h0M378.1 1431.8h0M374.2 1409.9h0M369.4 1395.9h0M358.3 1395.4h0M376.1 1402.2h0M374.5 1415.5h0M369.6 1433.4h0M403.4 1427.2h0M383.9 1424.2h0M370.8 1412.0h0M366.4 1411.7h0M387.0 1403.2h0M389.5 1442.5h0M353.2 1402.0h0M356.4 1398.6h0M384.1 1434.0h0M348.2 1433.5h0M353.3 1436.2h0M357.6 1443.7h0M383.3 1424.6h0M364.1 1409.3h0M361.9 1407.3h0M345.8 1426.9h0M380.6 1391.1h0M355.0 1442.7h0" stroke="#E8E0DA" stroke-opacity="0.8" stroke-width="1.35" stroke-linecap="round"/>
<text x="385.4" y="1408.5" font-size="23.5" fill="#D40808" text-anchor="middle" textLength="10.0" lengthAdjust="spacingAndGlyphs" stroke="#D40808" stroke-width="0.6">1</text>
<rect x="415.5" y="1381.0" width="77.7" height="78.5" fill="#050505" stroke="none" stroke-width="0"/>
<linearGradient id="pg15" x1="0.15" y1="0.1" x2="0.85" y2="0.95"><stop offset="0" stop-color="#3D4D68"/><stop offset="0.55" stop-color="#283A58"/><stop offset="1" stop-color="#1A2539"/></linearGradient>
<circle cx="454.4" cy="1420.2" r="37.8" fill="#3A332C" stroke="none" stroke-width="0"/>
<circle cx="454.4" cy="1420.2" r="37.2" fill="none" stroke="#D8C4AC" stroke-width="1.1" stroke-opacity="0.75"/>
<circle cx="454.4" cy="1420.2" r="35.4" fill="none" stroke="#C8A878" stroke-width="1.4" stroke-dasharray="0.9 1.8 1.4 3.2 0.7 2.5 1.1 4" stroke-opacity="0.7"/>
<circle cx="454.4" cy="1420.2" r="34.2" fill="none" stroke="#D0C0B0" stroke-width="0.8" stroke-opacity="0.5"/>
<circle cx="454.4" cy="1420.2" r="33.4" fill="url(#pg15)" stroke="none" stroke-width="0"/>
<circle cx="454.4" cy="1420.2" r="33.1" fill="none" stroke="#A8B4CC" stroke-width="1.2" stroke-opacity="0.8"/>
<circle cx="454.4" cy="1420.2" r="30.6" fill="none" stroke="#B0B8C8" stroke-width="0.8" stroke-opacity="0.35"/>
<path d="M438.6 1395.8h0M464.4 1404.7h0M461.9 1399.2h0M441.9 1393.8h0M444.5 1396.4h0M452.1 1396.6h0M442.3 1412.3h0M476.7 1435.4h0M479.7 1427.6h0M473.2 1442.4h0M444.3 1408.3h0M432.1 1430.0h0M439.2 1400.1h0M455.5 1448.4h0M453.1 1394.9h0M432.5 1408.1h0M444.2 1402.6h0M429.0 1410.5h0M437.3 1402.4h0M429.1 1424.3h0M469.9 1411.3h0M430.6 1415.6h0M439.9 1444.7h0M427.4 1419.5h0M452.5 1405.9h0M440.0 1422.9h0M450.6 1405.9h0M454.8 1414.2h0M450.6 1394.1h0M482.9 1429.5h0M469.1 1422.5h0M437.0 1438.6h0M469.2 1420.9h0M482.2 1425.1h0M476.3 1439.7h0M450.7 1426.6h0M460.7 1433.4h0M449.2 1397.2h0M444.4 1411.5h0M464.7 1421.3h0M435.4 1441.4h0M463.8 1444.2h0M476.1 1428.8h0M451.4 1405.5h0M480.9 1429.9h0M436.1 1443.3h0M447.0 1416.5h0M459.0 1407.9h0M442.1 1446.3h0M469.7 1429.5h0M436.1 1428.2h0M463.3 1402.1h0M467.4 1394.7h0M430.5 1436.1h0M443.6 1420.4h0M462.6 1422.5h0M475.8 1439.2h0M439.7 1395.8h0M453.1 1446.4h0M438.6 1437.7h0M451.6 1447.8h0M441.4 1422.4h0M424.2 1418.0h0M454.0 1395.6h0M435.3 1443.0h0M456.4 1430.6h0M461.1 1394.7h0M438.6 1412.9h0M462.8 1439.3h0M446.9 1399.6h0M463.5 1399.0h0M437.7 1445.3h0M467.1 1409.0h0M428.3 1429.1h0M452.2 1393.2h0M470.1 1419.2h0M464.1 1395.9h0M462.6 1423.6h0M477.1 1422.3h0M442.5 1427.7h0M458.4 1415.7h0M464.7 1436.5h0M454.3 1427.4h0M439.1 1419.7h0M461.0 1420.2h0M454.3 1414.3h0M435.1 1402.0h0M434.1 1410.0h0M428.4 1410.3h0M466.1 1406.0h0M482.8 1413.6h0M443.1 1417.8h0M474.8 1409.3h0M452.0 1403.7h0M479.6 1410.7h0M471.8 1433.4h0M468.0 1411.3h0M456.0 1392.2h0M446.2 1402.9h0M438.4 1430.4h0M460.2 1424.9h0M476.5 1399.7h0M468.1 1420.0h0M450.4 1441.5h0M466.2 1414.2h0M469.4 1440.5h0M451.2 1424.4h0M463.3 1427.4h0M470.1 1395.8h0M456.4 1415.6h0M447.7 1409.4h0M459.0 1450.0h0M449.3 1431.6h0M461.6 1425.9h0M455.9 1390.2h0M442.9 1439.7h0M431.2 1421.4h0M476.4 1401.1h0M439.1 1438.8h0M463.9 1392.2h0M438.7 1395.4h0M464.7 1395.8h0M457.4 1397.6h0M436.3 1398.4h0M460.8 1427.4h0M427.8 1417.8h0M445.9 1420.2h0M436.0 1414.2h0M478.8 1434.8h0M465.7 1407.4h0M459.6 1392.9h0M473.0 1406.2h0M439.6 1397.9h0M454.1 1447.3h0M425.8 1424.8h0M462.8 1404.6h0M457.7 1391.6h0M437.7 1435.8h0M450.5 1450.1h0M469.1 1398.8h0M477.2 1407.4h0M479.4 1427.9h0M466.0 1396.3h0M440.9 1398.7h0M444.4 1430.1h0M465.8 1421.0h0M440.1 1408.4h0M442.5 1408.5h0M451.4 1414.3h0M456.3 1436.8h0M436.9 1422.2h0M434.0 1440.0h0M458.8 1416.1h0M435.0 1410.0h0M471.2 1418.3h0M463.6 1422.9h0M445.7 1428.7h0M460.4 1393.6h0M479.0 1403.9h0M441.6 1411.4h0M448.7 1448.3h0M452.8 1409.9h0M431.5 1437.9h0M439.4 1412.9h0M467.3 1424.5h0M442.8 1446.0h0M466.0 1405.4h0M473.2 1441.6h0M462.6 1438.4h0M454.2 1405.7h0M471.0 1441.5h0M425.3 1413.2h0M457.5 1442.0h0M479.9 1420.4h0M440.8 1426.0h0M444.0 1439.9h0M431.6 1417.8h0M447.0 1413.7h0M458.2 1430.5h0M460.9 1447.8h0M443.1 1438.3h0M480.2 1404.8h0M459.2 1405.5h0M429.3 1429.2h0M472.2 1418.5h0M474.0 1409.3h0M433.5 1428.0h0M459.8 1413.9h0M482.8 1428.8h0M441.2 1395.1h0M436.4 1409.7h0M439.5 1437.4h0M451.7 1420.9h0M436.1 1406.1h0M468.0 1422.2h0" stroke="#E8E0DA" stroke-opacity="0.8" stroke-width="1.35" stroke-linecap="round"/>
<text x="465.6" y="1408.5" font-size="23.5" fill="#D40808" text-anchor="middle" textLength="10.0" lengthAdjust="spacingAndGlyphs" stroke="#D40808" stroke-width="0.6">1</text>
<rect x="498.4" y="1381.0" width="78.1" height="78.5" fill="#050505" stroke="none" stroke-width="0"/>
<linearGradient id="pg16" x1="0.15" y1="0.1" x2="0.85" y2="0.95"><stop offset="0" stop-color="#5C6177"/><stop offset="0.55" stop-color="#4A5068"/><stop offset="1" stop-color="#303443"/></linearGradient>
<circle cx="537.5" cy="1420.2" r="38.1" fill="#3A332C" stroke="none" stroke-width="0"/>
<circle cx="537.5" cy="1420.2" r="37.5" fill="none" stroke="#D8C4AC" stroke-width="1.1" stroke-opacity="0.75"/>
<circle cx="537.5" cy="1420.2" r="35.7" fill="none" stroke="#C8A878" stroke-width="1.4" stroke-dasharray="0.9 1.8 1.4 3.2 0.7 2.5 1.1 4" stroke-opacity="0.7"/>
<circle cx="537.5" cy="1420.2" r="34.5" fill="none" stroke="#D0C0B0" stroke-width="0.8" stroke-opacity="0.5"/>
<circle cx="537.5" cy="1420.2" r="33.7" fill="url(#pg16)" stroke="none" stroke-width="0"/>
<circle cx="537.5" cy="1420.2" r="33.4" fill="none" stroke="#A8B4CC" stroke-width="1.2" stroke-opacity="0.8"/>
<circle cx="537.5" cy="1420.2" r="30.9" fill="none" stroke="#B0B8C8" stroke-width="0.8" stroke-opacity="0.35"/>
<path d="M561.6 1401.7h0M553.0 1442.1h0M546.0 1431.7h0M536.4 1423.1h0M560.0 1438.7h0M542.8 1399.8h0M560.0 1422.0h0M559.9 1437.4h0M554.9 1428.3h0M555.7 1415.9h0M550.5 1421.8h0M544.1 1449.2h0M561.2 1433.4h0M543.5 1403.9h0M558.2 1414.8h0M529.5 1442.4h0M536.1 1432.3h0M518.2 1435.8h0M565.1 1427.2h0M558.6 1424.7h0M550.8 1416.9h0M525.9 1446.7h0M546.6 1446.2h0M527.2 1405.4h0M539.9 1425.9h0M543.7 1391.3h0M529.9 1439.1h0M525.0 1447.5h0M518.7 1426.7h0M511.1 1430.4h0M557.0 1439.0h0M558.0 1431.4h0M538.0 1422.1h0M523.2 1422.7h0M543.2 1420.2h0M561.5 1437.8h0M525.7 1444.3h0M527.3 1420.9h0M513.3 1431.3h0M538.9 1438.5h0M536.9 1391.8h0M515.6 1427.0h0M555.5 1419.5h0M547.7 1447.3h0M542.4 1436.2h0M543.9 1429.4h0M557.2 1441.9h0M514.3 1425.0h0M514.1 1439.9h0M562.3 1404.5h0M557.2 1434.6h0M512.1 1426.8h0M566.4 1412.0h0M545.7 1448.6h0M518.6 1430.1h0M538.9 1418.3h0M546.6 1414.8h0M527.4 1417.4h0M552.4 1426.9h0M524.5 1410.9h0M533.9 1398.2h0M564.2 1427.4h0M557.2 1414.6h0M521.2 1403.6h0M546.0 1448.0h0M524.9 1419.4h0M536.5 1426.6h0M556.7 1428.2h0M534.5 1445.8h0M557.2 1437.0h0M543.5 1422.9h0M527.1 1440.3h0M543.8 1425.6h0M540.0 1447.7h0M541.1 1429.6h0M529.1 1437.8h0M554.8 1420.8h0M526.9 1427.0h0M564.3 1409.0h0M548.8 1394.0h0M537.6 1403.4h0M567.5 1423.3h0M553.4 1445.1h0M538.7 1424.4h0M541.9 1436.0h0M559.9 1424.2h0M537.6 1404.1h0M552.4 1403.3h0M541.3 1398.0h0M541.1 1396.9h0M555.7 1419.9h0M558.7 1408.8h0M540.5 1400.5h0M519.5 1404.3h0M541.9 1393.1h0M561.7 1425.5h0M543.2 1415.6h0M565.1 1429.3h0M521.2 1413.6h0M514.3 1422.2h0M545.9 1413.5h0M525.0 1431.9h0M524.5 1394.4h0M550.8 1433.5h0M517.1 1397.9h0M561.8 1424.5h0M516.7 1437.3h0M533.8 1399.7h0M512.6 1421.1h0M543.5 1440.1h0M517.1 1436.6h0M554.8 1396.7h0M551.9 1411.9h0M567.4 1416.4h0M548.6 1437.0h0M510.1 1429.6h0M509.6 1407.7h0M540.0 1395.2h0M532.0 1393.2h0M550.7 1442.1h0M536.7 1399.9h0M546.0 1442.7h0M549.3 1445.2h0M565.4 1410.1h0M536.5 1425.6h0M537.6 1425.0h0M527.1 1408.9h0M559.9 1420.6h0M552.8 1401.3h0M517.6 1406.8h0M525.1 1413.3h0M542.8 1419.7h0M537.9 1429.9h0M527.0 1418.8h0M549.3 1425.5h0M538.9 1432.8h0M526.5 1446.5h0M533.6 1410.2h0M542.4 1423.6h0M552.2 1405.6h0M508.8 1420.5h0M541.7 1401.9h0M534.0 1448.5h0M533.3 1445.9h0M526.8 1399.8h0M521.0 1429.7h0M536.8 1419.0h0M558.5 1400.2h0M541.2 1408.5h0M512.1 1411.5h0M518.9 1434.4h0M556.8 1440.6h0M553.0 1432.1h0M554.3 1426.1h0M518.6 1407.8h0M541.7 1422.3h0" stroke="#E8E0DA" stroke-opacity="0.8" stroke-width="1.35" stroke-linecap="round"/>
<text x="548.8" y="1408.5" font-size="23.5" fill="#D40808" text-anchor="middle" textLength="10.0" lengthAdjust="spacingAndGlyphs" stroke="#D40808" stroke-width="0.6">1</text>
<rect x="581.3" y="1381.0" width="78.5" height="78.5" fill="#050505" stroke="none" stroke-width="0"/>
<linearGradient id="pg17" x1="0.15" y1="0.1" x2="0.85" y2="0.95"><stop offset="0" stop-color="#6A7185"/><stop offset="0.55" stop-color="#5A6278"/><stop offset="1" stop-color="#3A3F4E"/></linearGradient>
<circle cx="620.5" cy="1420.2" r="38.2" fill="#3A332C" stroke="none" stroke-width="0"/>
<circle cx="620.5" cy="1420.2" r="37.6" fill="none" stroke="#D8C4AC" stroke-width="1.1" stroke-opacity="0.75"/>
<circle cx="620.5" cy="1420.2" r="35.9" fill="none" stroke="#C8A878" stroke-width="1.4" stroke-dasharray="0.9 1.8 1.4 3.2 0.7 2.5 1.1 4" stroke-opacity="0.7"/>
<circle cx="620.5" cy="1420.2" r="34.6" fill="none" stroke="#D0C0B0" stroke-width="0.8" stroke-opacity="0.5"/>
<circle cx="620.5" cy="1420.2" r="33.9" fill="url(#pg17)" stroke="none" stroke-width="0"/>
<circle cx="620.5" cy="1420.2" r="33.5" fill="none" stroke="#A8B4CC" stroke-width="1.2" stroke-opacity="0.8"/>
<circle cx="620.5" cy="1420.2" r="31.1" fill="none" stroke="#B0B8C8" stroke-width="0.8" stroke-opacity="0.35"/>
<path d="M640.3 1426.4h0M629.5 1434.9h0M619.4 1419.3h0M604.9 1414.6h0M625.7 1442.7h0M625.0 1417.3h0M609.2 1436.2h0M609.6 1393.0h0M623.9 1421.4h0M640.8 1416.5h0M631.8 1411.9h0M620.0 1394.4h0M618.2 1402.3h0" stroke="#E8E0DA" stroke-opacity="0.8" stroke-width="1.35" stroke-linecap="round"/>
<text x="631.9" y="1408.5" font-size="23.5" fill="#D40808" text-anchor="middle" textLength="10.0" lengthAdjust="spacingAndGlyphs" stroke="#D40808" stroke-width="0.6">1</text>
<rect x="663.8" y="1381.0" width="78.9" height="78.5" fill="#050505" stroke="none" stroke-width="0"/>
<linearGradient id="pg18" x1="0.15" y1="0.1" x2="0.85" y2="0.95"><stop offset="0" stop-color="#303853"/><stop offset="0.55" stop-color="#1A2240"/><stop offset="1" stop-color="#101629"/></linearGradient>
<circle cx="703.2" cy="1420.2" r="38.2" fill="#3A332C" stroke="none" stroke-width="0"/>
<circle cx="703.2" cy="1420.2" r="37.6" fill="none" stroke="#D8C4AC" stroke-width="1.1" stroke-opacity="0.75"/>
<circle cx="703.2" cy="1420.2" r="35.9" fill="none" stroke="#C8A878" stroke-width="1.4" stroke-dasharray="0.9 1.8 1.4 3.2 0.7 2.5 1.1 4" stroke-opacity="0.7"/>
<circle cx="703.2" cy="1420.2" r="34.6" fill="none" stroke="#D0C0B0" stroke-width="0.8" stroke-opacity="0.5"/>
<circle cx="703.2" cy="1420.2" r="33.9" fill="url(#pg18)" stroke="none" stroke-width="0"/>
<circle cx="703.2" cy="1420.2" r="33.5" fill="none" stroke="#A8B4CC" stroke-width="1.2" stroke-opacity="0.8"/>
<circle cx="703.2" cy="1420.2" r="31.1" fill="none" stroke="#B0B8C8" stroke-width="0.8" stroke-opacity="0.35"/>
<text x="714.7" y="1408.5" font-size="23.5" fill="#D40808" text-anchor="middle" textLength="10.0" lengthAdjust="spacingAndGlyphs" stroke="#D40808" stroke-width="0.6">1</text>
<rect x="252.9" y="1462.3" width="78.5" height="78.1" fill="#050505" stroke="none" stroke-width="0"/>
<linearGradient id="pg19" x1="0.15" y1="0.1" x2="0.85" y2="0.95"><stop offset="0" stop-color="#3D4961"/><stop offset="0.55" stop-color="#283550"/><stop offset="1" stop-color="#1A2234"/></linearGradient>
<circle cx="292.1" cy="1501.3" r="38.1" fill="#3A332C" stroke="none" stroke-width="0"/>
<circle cx="292.1" cy="1501.3" r="37.5" fill="none" stroke="#D8C4AC" stroke-width="1.1" stroke-opacity="0.75"/>
<circle cx="292.1" cy="1501.3" r="35.7" fill="none" stroke="#C8A878" stroke-width="1.4" stroke-dasharray="0.9 1.8 1.4 3.2 0.7 2.5 1.1 4" stroke-opacity="0.7"/>
<circle cx="292.1" cy="1501.3" r="34.5" fill="none" stroke="#D0C0B0" stroke-width="0.8" stroke-opacity="0.5"/>
<circle cx="292.1" cy="1501.3" r="33.7" fill="url(#pg19)" stroke="none" stroke-width="0"/>
<circle cx="292.1" cy="1501.3" r="33.4" fill="none" stroke="#A8B4CC" stroke-width="1.2" stroke-opacity="0.8"/>
<circle cx="292.1" cy="1501.3" r="30.9" fill="none" stroke="#B0B8C8" stroke-width="0.8" stroke-opacity="0.35"/>
<text x="303.5" y="1492.3" font-size="23.5" fill="#D40808" text-anchor="middle" textLength="10.0" lengthAdjust="spacingAndGlyphs" stroke="#D40808" stroke-width="0.6">1</text>
<rect x="335.0" y="1462.3" width="78.1" height="78.1" fill="#050505" stroke="none" stroke-width="0"/>
<linearGradient id="pg20" x1="0.15" y1="0.1" x2="0.85" y2="0.95"><stop offset="0" stop-color="#272F3D"/><stop offset="0.55" stop-color="#101828"/><stop offset="1" stop-color="#0A0F1A"/></linearGradient>
<circle cx="374.1" cy="1501.3" r="38.1" fill="#3A332C" stroke="none" stroke-width="0"/>
<circle cx="374.1" cy="1501.3" r="37.5" fill="none" stroke="#D8C4AC" stroke-width="1.1" stroke-opacity="0.75"/>
<circle cx="374.1" cy="1501.3" r="35.7" fill="none" stroke="#C8A878" stroke-width="1.4" stroke-dasharray="0.9 1.8 1.4 3.2 0.7 2.5 1.1 4" stroke-opacity="0.7"/>
<circle cx="374.1" cy="1501.3" r="34.5" fill="none" stroke="#D0C0B0" stroke-width="0.8" stroke-opacity="0.5"/>
<circle cx="374.1" cy="1501.3" r="33.7" fill="url(#pg20)" stroke="none" stroke-width="0"/>
<circle cx="374.1" cy="1501.3" r="33.4" fill="none" stroke="#A8B4CC" stroke-width="1.2" stroke-opacity="0.8"/>
<circle cx="374.1" cy="1501.3" r="30.9" fill="none" stroke="#B0B8C8" stroke-width="0.8" stroke-opacity="0.35"/>
<path d="M391.4 1503.7h0M403.3 1504.6h0M369.9 1475.6h0M369.7 1529.7h0M393.1 1483.7h0M379.1 1495.6h0M359.1 1497.1h0M388.3 1512.2h0M364.2 1478.8h0M375.2 1500.9h0M368.9 1477.4h0M366.8 1503.5h0M400.9 1507.4h0M354.4 1480.5h0M363.5 1499.4h0M366.9 1493.4h0M375.2 1484.8h0M382.2 1494.6h0M376.4 1471.0h0M399.9 1517.6h0M378.1 1521.1h0M350.6 1516.1h0M353.8 1488.0h0M401.1 1492.1h0M377.3 1510.5h0M370.2 1520.1h0M401.8 1505.8h0M365.4 1520.9h0M397.2 1485.7h0M347.4 1512.3h0M394.1 1483.8h0M393.8 1507.3h0M356.2 1479.8h0M350.7 1501.1h0M399.0 1498.6h0M371.6 1491.8h0M379.7 1508.7h0M358.4 1482.2h0M379.2 1476.9h0M396.9 1513.8h0M345.7 1499.6h0M399.5 1509.4h0M359.3 1480.1h0M361.1 1492.6h0M393.7 1493.7h0M372.9 1519.4h0M373.2 1479.2h0M396.3 1514.7h0M350.6 1503.0h0M392.4 1524.1h0M370.9 1523.7h0M395.2 1504.2h0M398.6 1492.2h0M372.9 1472.1h0M380.6 1495.8h0M354.6 1504.3h0M359.0 1497.1h0M346.0 1495.4h0M347.7 1498.2h0M377.4 1498.3h0M378.4 1525.1h0M366.0 1523.2h0M397.0 1493.1h0M351.7 1520.6h0M350.9 1510.0h0M374.4 1495.0h0M367.7 1497.9h0M387.3 1520.5h0M348.2 1497.2h0M379.4 1515.6h0M397.1 1501.6h0M371.2 1515.2h0M356.2 1493.3h0M378.5 1518.5h0M397.1 1511.1h0M374.7 1519.1h0M360.3 1528.1h0M397.3 1489.8h0M363.3 1517.8h0M374.7 1515.0h0M373.7 1485.5h0M359.9 1477.6h0M366.6 1527.3h0M381.0 1485.9h0M361.3 1492.5h0M387.1 1523.7h0M351.8 1494.6h0M370.7 1485.0h0M390.9 1487.8h0M393.5 1496.7h0M368.3 1489.8h0M388.1 1514.3h0M373.4 1503.2h0M358.9 1511.1h0M398.3 1518.5h0M383.0 1529.1h0M357.1 1490.7h0M380.8 1525.7h0M382.6 1521.1h0M395.7 1510.5h0M374.3 1498.2h0M361.8 1504.5h0M368.3 1530.7h0M362.6 1523.5h0M351.9 1504.0h0M370.4 1488.1h0M366.1 1490.6h0M377.4 1524.9h0M368.9 1511.1h0M345.6 1495.0h0M394.4 1492.1h0M360.3 1494.9h0M354.0 1495.4h0M378.9 1499.8h0M355.3 1492.5h0M403.7 1503.7h0M382.1 1478.0h0M403.8 1495.1h0M382.2 1520.2h0M367.4 1472.9h0M381.1 1487.2h0M394.8 1520.2h0M372.2 1527.1h0M369.0 1502.6h0M391.3 1525.4h0M389.4 1520.5h0M377.7 1475.8h0M352.5 1511.2h0M387.7 1523.2h0M390.3 1499.2h0M345.1 1506.6h0M348.6 1494.9h0M390.2 1500.0h0M391.8 1507.0h0M382.0 1488.0h0M394.1 1512.3h0M357.7 1484.1h0M380.4 1475.7h0M387.5 1520.7h0M385.2 1497.5h0M389.6 1476.4h0M378.4 1472.4h0M362.5 1509.8h0M361.2 1499.0h0M350.6 1491.7h0M374.7 1506.9h0M359.2 1519.0h0M402.7 1502.5h0M387.1 1518.4h0M350.3 1489.5h0M384.1 1500.2h0M377.0 1499.1h0M374.6 1521.1h0M374.9 1525.2h0M372.3 1482.3h0M386.9 1512.8h0M345.1 1492.8h0M385.1 1512.5h0M351.5 1508.0h0M357.9 1505.5h0M350.3 1491.6h0M354.4 1519.1h0M355.8 1494.7h0M362.2 1510.7h0M380.8 1487.8h0M383.9 1501.2h0M349.9 1504.3h0M361.9 1499.2h0M357.5 1508.8h0M392.7 1518.8h0M392.3 1513.2h0M396.8 1514.9h0M361.6 1490.6h0M385.7 1505.8h0M363.8 1527.8h0M361.4 1478.7h0M354.9 1498.7h0M380.8 1478.8h0M375.7 1527.5h0M367.8 1530.0h0M375.2 1508.3h0M384.3 1507.3h0M403.0 1501.0h0M385.2 1515.5h0M360.6 1517.8h0M374.9 1512.1h0M365.6 1523.2h0M401.6 1513.5h0M373.4 1501.7h0M360.6 1476.0h0M363.2 1494.5h0M385.9 1497.9h0M359.3 1493.8h0M383.1 1506.4h0M356.0 1480.6h0" stroke="#E8E0DA" stroke-opacity="0.8" stroke-width="1.35" stroke-linecap="round"/>
<text x="385.4" y="1492.3" font-size="23.5" fill="#D40808" text-anchor="middle" textLength="10.0" lengthAdjust="spacingAndGlyphs" stroke="#D40808" stroke-width="0.6">1</text>
<rect x="415.5" y="1462.3" width="77.7" height="78.1" fill="#050505" stroke="none" stroke-width="0"/>
<linearGradient id="pg21" x1="0.15" y1="0.1" x2="0.85" y2="0.95"><stop offset="0" stop-color="#4D5361"/><stop offset="0.55" stop-color="#3A4050"/><stop offset="1" stop-color="#252934"/></linearGradient>
<circle cx="454.4" cy="1501.3" r="37.8" fill="#3A332C" stroke="none" stroke-width="0"/>
<circle cx="454.4" cy="1501.3" r="37.2" fill="none" stroke="#D8C4AC" stroke-width="1.1" stroke-opacity="0.75"/>
<circle cx="454.4" cy="1501.3" r="35.4" fill="none" stroke="#C8A878" stroke-width="1.4" stroke-dasharray="0.9 1.8 1.4 3.2 0.7 2.5 1.1 4" stroke-opacity="0.7"/>
<circle cx="454.4" cy="1501.3" r="34.2" fill="none" stroke="#D0C0B0" stroke-width="0.8" stroke-opacity="0.5"/>
<circle cx="454.4" cy="1501.3" r="33.4" fill="url(#pg21)" stroke="none" stroke-width="0"/>
<circle cx="454.4" cy="1501.3" r="33.1" fill="none" stroke="#A8B4CC" stroke-width="1.2" stroke-opacity="0.8"/>
<circle cx="454.4" cy="1501.3" r="30.6" fill="none" stroke="#B0B8C8" stroke-width="0.8" stroke-opacity="0.35"/>
<path d="M455.3 1482.5h0M481.8 1509.6h0M459.8 1528.1h0M437.5 1486.2h0M443.5 1515.9h0M481.1 1513.9h0M443.2 1478.8h0M441.4 1484.2h0M454.5 1501.9h0M431.0 1483.7h0M477.3 1513.6h0M451.3 1494.3h0M472.9 1512.8h0M450.5 1494.3h0M457.0 1521.6h0M467.0 1476.3h0M425.8 1492.7h0M441.6 1518.3h0M460.9 1479.4h0M449.6 1506.0h0M453.2 1486.7h0M465.9 1488.1h0M454.5 1519.8h0M445.4 1525.7h0M457.6 1503.9h0M438.4 1491.0h0M456.0 1520.7h0M433.4 1522.4h0M463.1 1485.4h0M439.0 1496.2h0M466.7 1508.0h0M452.3 1477.5h0M474.8 1480.1h0M446.1 1484.5h0M474.2 1483.6h0M473.3 1504.5h0M461.0 1516.3h0M445.1 1482.0h0M469.0 1509.3h0M449.3 1482.2h0M433.8 1498.2h0M465.1 1489.2h0M424.9 1499.0h0M438.1 1516.4h0M466.7 1501.5h0M428.9 1512.2h0M452.3 1517.3h0M472.2 1479.7h0M441.7 1504.9h0M467.7 1474.2h0M439.0 1479.2h0M478.9 1514.2h0M469.9 1520.7h0M437.5 1520.6h0M445.7 1494.6h0M428.9 1488.0h0M447.1 1520.4h0M454.0 1487.8h0M460.8 1489.3h0M473.4 1491.2h0M437.0 1494.6h0M459.4 1510.1h0M440.7 1504.0h0M463.6 1484.4h0M442.9 1497.1h0M472.3 1479.1h0M440.2 1525.7h0M455.9 1471.2h0M457.0 1530.2h0M455.1 1518.9h0M474.0 1479.5h0M429.2 1512.6h0M448.2 1517.1h0M449.9 1504.9h0M457.0 1514.9h0M448.1 1530.9h0M460.3 1474.4h0M441.1 1514.5h0M426.3 1496.4h0M465.1 1484.3h0M457.2 1473.6h0M454.6 1495.0h0M471.5 1514.2h0M453.3 1531.2h0M456.4 1508.5h0M472.4 1481.0h0M455.0 1531.3h0M432.4 1518.4h0M443.0 1517.0h0M454.2 1513.1h0M479.2 1516.1h0M470.9 1484.4h0M470.4 1511.2h0M434.5 1500.1h0M452.8 1497.6h0M465.1 1476.9h0M453.2 1494.8h0M450.2 1498.0h0M440.7 1497.5h0M446.5 1491.9h0M471.9 1505.6h0M475.8 1488.8h0M466.9 1500.5h0M431.3 1484.6h0M426.4 1496.0h0M461.2 1475.9h0M462.9 1486.8h0M462.7 1485.9h0M453.4 1494.4h0M466.0 1513.7h0M474.4 1514.9h0M451.8 1500.2h0M442.7 1476.1h0M438.5 1504.3h0M444.2 1526.9h0M477.5 1491.5h0M469.9 1509.5h0M442.5 1506.5h0M457.7 1508.6h0M466.9 1525.8h0M460.4 1498.5h0M446.7 1492.6h0M431.9 1489.5h0M456.9 1491.8h0M436.2 1512.5h0M444.6 1506.7h0M430.4 1508.0h0M449.4 1529.9h0M430.3 1488.0h0M469.4 1498.7h0M461.8 1530.4h0M457.7 1477.6h0M435.0 1516.3h0M437.5 1480.3h0M478.5 1504.5h0M436.1 1520.3h0M469.0 1527.1h0M480.1 1498.8h0M460.6 1489.4h0M448.7 1528.4h0M457.9 1497.7h0M457.0 1531.2h0M428.6 1489.3h0" stroke="#E8E0DA" stroke-opacity="0.8" stroke-width="1.35" stroke-linecap="round"/>
<text x="465.6" y="1492.3" font-size="23.5" fill="#D40808" text-anchor="middle" textLength="10.0" lengthAdjust="spacingAndGlyphs" stroke="#D40808" stroke-width="0.6">1</text>
<rect x="498.4" y="1462.3" width="78.1" height="78.1" fill="#050505" stroke="none" stroke-width="0"/>
<linearGradient id="pg22" x1="0.15" y1="0.1" x2="0.85" y2="0.95"><stop offset="0" stop-color="#3D4861"/><stop offset="0.55" stop-color="#283450"/><stop offset="1" stop-color="#1A2134"/></linearGradient>
<circle cx="537.5" cy="1501.3" r="38.1" fill="#3A332C" stroke="none" stroke-width="0"/>
<circle cx="537.5" cy="1501.3" r="37.5" fill="none" stroke="#D8C4AC" stroke-width="1.1" stroke-opacity="0.75"/>
<circle cx="537.5" cy="1501.3" r="35.7" fill="none" stroke="#C8A878" stroke-width="1.4" stroke-dasharray="0.9 1.8 1.4 3.2 0.7 2.5 1.1 4" stroke-opacity="0.7"/>
<circle cx="537.5" cy="1501.3" r="34.5" fill="none" stroke="#D0C0B0" stroke-width="0.8" stroke-opacity="0.5"/>
<circle cx="537.5" cy="1501.3" r="33.7" fill="url(#pg22)" stroke="none" stroke-width="0"/>
<circle cx="537.5" cy="1501.3" r="33.4" fill="none" stroke="#A8B4CC" stroke-width="1.2" stroke-opacity="0.8"/>
<circle cx="537.5" cy="1501.3" r="30.9" fill="none" stroke="#B0B8C8" stroke-width="0.8" stroke-opacity="0.35"/>
<path d="M512.2 1506.5h0M531.2 1526.7h0M544.4 1502.7h0M564.2 1488.3h0M558.7 1496.6h0M556.2 1507.7h0M533.1 1523.3h0M552.9 1498.4h0M520.9 1492.0h0M533.2 1477.9h0M564.1 1510.4h0M539.3 1481.9h0M526.6 1496.0h0M515.8 1491.2h0M529.3 1515.8h0M541.3 1503.3h0M520.2 1516.8h0M550.4 1493.8h0M537.0 1506.1h0M546.7 1519.8h0M517.9 1482.5h0M519.4 1481.9h0M555.1 1523.3h0M529.1 1512.8h0M555.3 1523.4h0M554.0 1506.4h0M555.7 1490.7h0M543.2 1487.4h0M531.6 1494.0h0M537.3 1470.9h0M533.6 1501.2h0M562.5 1514.1h0M516.1 1494.8h0M553.1 1475.9h0M548.1 1505.3h0M565.4 1493.4h0M525.8 1481.8h0M523.9 1490.2h0M542.3 1487.8h0" stroke="#E8E0DA" stroke-opacity="0.8" stroke-width="1.35" stroke-linecap="round"/>
<text x="548.8" y="1492.3" font-size="23.5" fill="#D40808" text-anchor="middle" textLength="10.0" lengthAdjust="spacingAndGlyphs" stroke="#D40808" stroke-width="0.6">1</text>
<rect x="581.3" y="1462.3" width="78.5" height="78.1" fill="#050505" stroke="none" stroke-width="0"/>
<linearGradient id="pg23" x1="0.15" y1="0.1" x2="0.85" y2="0.95"><stop offset="0" stop-color="#424B61"/><stop offset="0.55" stop-color="#2E3850"/><stop offset="1" stop-color="#1D2434"/></linearGradient>
<circle cx="620.5" cy="1501.3" r="38.1" fill="#3A332C" stroke="none" stroke-width="0"/>
<circle cx="620.5" cy="1501.3" r="37.5" fill="none" stroke="#D8C4AC" stroke-width="1.1" stroke-opacity="0.75"/>
<circle cx="620.5" cy="1501.3" r="35.7" fill="none" stroke="#C8A878" stroke-width="1.4" stroke-dasharray="0.9 1.8 1.4 3.2 0.7 2.5 1.1 4" stroke-opacity="0.7"/>
<circle cx="620.5" cy="1501.3" r="34.5" fill="none" stroke="#D0C0B0" stroke-width="0.8" stroke-opacity="0.5"/>
<circle cx="620.5" cy="1501.3" r="33.7" fill="url(#pg23)" stroke="none" stroke-width="0"/>
<circle cx="620.5" cy="1501.3" r="33.4" fill="none" stroke="#A8B4CC" stroke-width="1.2" stroke-opacity="0.8"/>
<circle cx="620.5" cy="1501.3" r="30.9" fill="none" stroke="#B0B8C8" stroke-width="0.8" stroke-opacity="0.35"/>
<path d="M621.2 1507.3h0M608.5 1527.6h0M634.6 1517.3h0M618.0 1521.9h0M634.8 1507.0h0M596.5 1498.3h0M649.3 1504.9h0M613.1 1509.2h0M598.7 1490.9h0M637.6 1499.6h0M613.7 1530.3h0M621.9 1498.4h0M595.0 1507.2h0M620.2 1488.0h0M646.9 1508.9h0M623.0 1523.4h0M614.2 1530.5h0M631.9 1494.2h0M617.8 1530.0h0M627.2 1471.6h0M642.1 1496.1h0M608.3 1500.4h0M602.5 1511.5h0M627.8 1499.0h0M619.4 1491.2h0M632.3 1521.7h0M593.1 1509.3h0M629.0 1522.6h0M635.1 1486.1h0M633.7 1508.7h0M622.5 1485.4h0M638.0 1485.6h0M600.4 1482.1h0M613.2 1491.6h0M635.6 1495.2h0M614.2 1524.3h0M620.6 1511.8h0M641.8 1509.6h0M649.9 1496.0h0" stroke="#E8E0DA" stroke-opacity="0.8" stroke-width="1.35" stroke-linecap="round"/>
<text x="631.9" y="1492.3" font-size="23.5" fill="#D40808" text-anchor="middle" textLength="10.0" lengthAdjust="spacingAndGlyphs" stroke="#D40808" stroke-width="0.6">1</text>
<rect x="663.8" y="1462.3" width="78.9" height="78.1" fill="#050505" stroke="none" stroke-width="0"/>
<linearGradient id="pg24" x1="0.15" y1="0.1" x2="0.85" y2="0.95"><stop offset="0" stop-color="#2B3248"/><stop offset="0.55" stop-color="#141C34"/><stop offset="1" stop-color="#0D1221"/></linearGradient>
<circle cx="703.2" cy="1501.3" r="38.1" fill="#3A332C" stroke="none" stroke-width="0"/>
<circle cx="703.2" cy="1501.3" r="37.5" fill="none" stroke="#D8C4AC" stroke-width="1.1" stroke-opacity="0.75"/>
<circle cx="703.2" cy="1501.3" r="35.7" fill="none" stroke="#C8A878" stroke-width="1.4" stroke-dasharray="0.9 1.8 1.4 3.2 0.7 2.5 1.1 4" stroke-opacity="0.7"/>
<circle cx="703.2" cy="1501.3" r="34.5" fill="none" stroke="#D0C0B0" stroke-width="0.8" stroke-opacity="0.5"/>
<circle cx="703.2" cy="1501.3" r="33.7" fill="url(#pg24)" stroke="none" stroke-width="0"/>
<circle cx="703.2" cy="1501.3" r="33.4" fill="none" stroke="#A8B4CC" stroke-width="1.2" stroke-opacity="0.8"/>
<circle cx="703.2" cy="1501.3" r="30.9" fill="none" stroke="#B0B8C8" stroke-width="0.8" stroke-opacity="0.35"/>
<text x="714.7" y="1492.3" font-size="23.5" fill="#D40808" text-anchor="middle" textLength="10.0" lengthAdjust="spacingAndGlyphs" stroke="#D40808" stroke-width="0.6">1</text>
<rect x="252.9" y="1544.4" width="78.5" height="78.1" fill="#050505" stroke="none" stroke-width="0"/>
<linearGradient id="pg25" x1="0.15" y1="0.1" x2="0.85" y2="0.95"><stop offset="0" stop-color="#343D56"/><stop offset="0.55" stop-color="#1E2844"/><stop offset="1" stop-color="#131A2C"/></linearGradient>
<circle cx="292.1" cy="1583.5" r="38.0" fill="#3A332C" stroke="none" stroke-width="0"/>
<circle cx="292.1" cy="1583.5" r="37.4" fill="none" stroke="#D8C4AC" stroke-width="1.1" stroke-opacity="0.75"/>
<circle cx="292.1" cy="1583.5" r="35.6" fill="none" stroke="#C8A878" stroke-width="1.4" stroke-dasharray="0.9 1.8 1.4 3.2 0.7 2.5 1.1 4" stroke-opacity="0.7"/>
<circle cx="292.1" cy="1583.5" r="34.4" fill="none" stroke="#D0C0B0" stroke-width="0.8" stroke-opacity="0.5"/>
<circle cx="292.1" cy="1583.5" r="33.6" fill="url(#pg25)" stroke="none" stroke-width="0"/>
<circle cx="292.1" cy="1583.5" r="33.3" fill="none" stroke="#A8B4CC" stroke-width="1.2" stroke-opacity="0.8"/>
<circle cx="292.1" cy="1583.5" r="30.8" fill="none" stroke="#B0B8C8" stroke-width="0.8" stroke-opacity="0.35"/>
<text x="303.5" y="1574.4" font-size="23.5" fill="#D40808" text-anchor="middle" textLength="10.0" lengthAdjust="spacingAndGlyphs" stroke="#D40808" stroke-width="0.6">1</text>
<rect x="335.0" y="1544.4" width="78.1" height="78.1" fill="#050505" stroke="none" stroke-width="0"/>
<linearGradient id="pg26" x1="0.15" y1="0.1" x2="0.85" y2="0.95"><stop offset="0" stop-color="#787885"/><stop offset="0.55" stop-color="#6A6A78"/><stop offset="1" stop-color="#44444E"/></linearGradient>
<circle cx="374.1" cy="1583.5" r="38.0" fill="#3A332C" stroke="none" stroke-width="0"/>
<circle cx="374.1" cy="1583.5" r="37.4" fill="none" stroke="#D8C4AC" stroke-width="1.1" stroke-opacity="0.75"/>
<circle cx="374.1" cy="1583.5" r="35.6" fill="none" stroke="#C8A878" stroke-width="1.4" stroke-dasharray="0.9 1.8 1.4 3.2 0.7 2.5 1.1 4" stroke-opacity="0.7"/>
<circle cx="374.1" cy="1583.5" r="34.4" fill="none" stroke="#D0C0B0" stroke-width="0.8" stroke-opacity="0.5"/>
<circle cx="374.1" cy="1583.5" r="33.6" fill="url(#pg26)" stroke="none" stroke-width="0"/>
<circle cx="374.1" cy="1583.5" r="33.3" fill="none" stroke="#A8B4CC" stroke-width="1.2" stroke-opacity="0.8"/>
<circle cx="374.1" cy="1583.5" r="30.8" fill="none" stroke="#B0B8C8" stroke-width="0.8" stroke-opacity="0.35"/>
<path d="M398.5 1566.5h0M392.9 1571.3h0M388.5 1574.4h0M380.6 1590.5h0M353.0 1583.7h0M394.0 1591.7h0M389.4 1570.8h0M373.4 1564.3h0M373.5 1561.7h0M400.0 1569.9h0M380.5 1585.6h0M369.7 1607.4h0M382.6 1599.9h0M354.4 1562.7h0M379.8 1558.2h0M371.9 1584.8h0M373.0 1591.0h0M402.8 1575.7h0M382.8 1599.6h0M394.4 1579.0h0M376.6 1597.8h0M383.5 1599.8h0M378.2 1567.3h0M380.4 1584.2h0M385.9 1580.8h0M378.5 1598.4h0M361.9 1575.5h0M349.6 1578.8h0M354.8 1590.5h0M354.4 1574.0h0M369.2 1610.1h0M361.3 1584.0h0M379.8 1594.7h0M400.6 1588.7h0M354.2 1598.0h0M402.0 1581.4h0M378.4 1569.4h0M385.5 1568.4h0M383.8 1572.6h0M380.3 1608.5h0M356.6 1588.0h0M371.3 1585.1h0M358.2 1585.0h0M403.2 1582.2h0M371.6 1563.1h0M348.0 1589.7h0M357.4 1599.4h0M391.8 1581.1h0M373.3 1585.1h0M364.9 1578.6h0M375.4 1600.3h0M368.6 1587.1h0M363.5 1564.6h0M371.0 1565.6h0M379.2 1599.1h0M375.6 1580.9h0M346.2 1581.3h0M349.1 1571.7h0M403.7 1577.2h0M372.5 1606.4h0M368.6 1566.1h0M373.6 1581.3h0M401.2 1578.3h0M347.4 1572.5h0M389.4 1600.2h0M374.5 1566.8h0M381.7 1560.3h0M362.4 1603.0h0M396.0 1588.1h0M369.1 1593.4h0M356.5 1564.0h0M385.0 1611.0h0M357.2 1587.0h0M372.9 1554.8h0M392.3 1562.2h0M389.2 1566.4h0M358.0 1597.8h0M355.3 1566.1h0M363.0 1610.6h0M375.1 1582.6h0M392.4 1595.8h0M379.1 1591.1h0M373.8 1595.1h0M364.8 1581.2h0M343.7 1583.8h0M378.9 1558.4h0M391.0 1562.4h0M392.3 1572.9h0M365.5 1594.5h0M364.3 1602.9h0M385.3 1605.8h0M393.8 1574.3h0M367.3 1560.0h0M389.4 1599.7h0M359.1 1564.6h0M362.3 1583.3h0M393.7 1578.4h0M381.5 1581.4h0M388.6 1567.6h0M349.8 1598.9h0M349.8 1580.6h0M377.6 1595.4h0M393.2 1575.4h0M382.7 1580.0h0M383.9 1575.7h0M388.4 1597.8h0M380.4 1570.3h0M347.6 1598.5h0M349.5 1589.8h0M386.3 1595.6h0M389.6 1596.3h0M349.1 1575.0h0M390.3 1602.6h0M400.5 1579.2h0M357.2 1608.6h0M352.4 1581.6h0M361.1 1587.5h0" stroke="#E8E0DA" stroke-opacity="0.8" stroke-width="1.35" stroke-linecap="round"/>
<text x="378.0" y="1572.4" font-size="22" fill="#D40808" text-anchor="middle" textLength="42.0" lengthAdjust="spacingAndGlyphs" stroke="#D40808" stroke-width="0.5">1/10</text>
<rect x="415.5" y="1544.4" width="77.7" height="78.1" fill="#050505" stroke="none" stroke-width="0"/>
<linearGradient id="pg27" x1="0.15" y1="0.1" x2="0.85" y2="0.95"><stop offset="0" stop-color="#6A7893"/><stop offset="0.55" stop-color="#5A6A88"/><stop offset="1" stop-color="#3A4458"/></linearGradient>
<circle cx="454.4" cy="1583.5" r="37.8" fill="#3A332C" stroke="none" stroke-width="0"/>
<circle cx="454.4" cy="1583.5" r="37.2" fill="none" stroke="#D8C4AC" stroke-width="1.1" stroke-opacity="0.75"/>
<circle cx="454.4" cy="1583.5" r="35.4" fill="none" stroke="#C8A878" stroke-width="1.4" stroke-dasharray="0.9 1.8 1.4 3.2 0.7 2.5 1.1 4" stroke-opacity="0.7"/>
<circle cx="454.4" cy="1583.5" r="34.2" fill="none" stroke="#D0C0B0" stroke-width="0.8" stroke-opacity="0.5"/>
<circle cx="454.4" cy="1583.5" r="33.4" fill="url(#pg27)" stroke="none" stroke-width="0"/>
<circle cx="454.4" cy="1583.5" r="33.1" fill="none" stroke="#A8B4CC" stroke-width="1.2" stroke-opacity="0.8"/>
<circle cx="454.4" cy="1583.5" r="30.6" fill="none" stroke="#B0B8C8" stroke-width="0.8" stroke-opacity="0.35"/>
<path d="M458.8 1588.2h0M451.7 1592.3h0M452.6 1581.8h0M462.0 1558.5h0M465.0 1585.8h0M445.8 1599.6h0M447.5 1578.4h0M472.6 1582.2h0M455.3 1553.2h0M462.2 1571.4h0M434.6 1591.5h0M448.3 1567.9h0M449.6 1568.3h0M448.7 1598.1h0M463.8 1591.9h0M433.3 1591.8h0M424.4 1587.5h0M446.3 1609.0h0M429.5 1583.2h0M458.7 1611.6h0M451.3 1577.8h0M455.6 1601.0h0M467.3 1574.8h0M467.0 1582.8h0M467.7 1582.6h0M433.7 1564.4h0M459.8 1600.0h0M448.0 1601.9h0M455.3 1610.7h0M468.3 1572.8h0M466.5 1604.2h0M465.4 1603.8h0M449.5 1576.0h0M477.6 1596.3h0M459.3 1612.0h0M460.2 1604.8h0M439.0 1574.2h0M453.8 1613.0h0M483.8 1586.2h0M465.1 1597.9h0M456.6 1597.6h0M449.7 1587.7h0M476.4 1603.0h0M435.4 1584.5h0M458.7 1597.3h0M444.4 1590.6h0M430.2 1596.9h0M466.4 1589.4h0M443.2 1572.2h0M472.3 1605.9h0M433.9 1565.0h0M475.0 1581.2h0" stroke="#E8E0DA" stroke-opacity="0.8" stroke-width="1.35" stroke-linecap="round"/>
<text x="458.2" y="1572.4" font-size="22" fill="#D40808" text-anchor="middle" textLength="42.0" lengthAdjust="spacingAndGlyphs" stroke="#D40808" stroke-width="0.5">1/10</text>
<rect x="498.4" y="1544.4" width="78.1" height="78.1" fill="#050505" stroke="none" stroke-width="0"/>
<linearGradient id="pg28" x1="0.15" y1="0.1" x2="0.85" y2="0.95"><stop offset="0" stop-color="#5C5D68"/><stop offset="0.55" stop-color="#4A4C58"/><stop offset="1" stop-color="#303139"/></linearGradient>
<circle cx="537.5" cy="1583.5" r="38.0" fill="#3A332C" stroke="none" stroke-width="0"/>
<circle cx="537.5" cy="1583.5" r="37.4" fill="none" stroke="#D8C4AC" stroke-width="1.1" stroke-opacity="0.75"/>
<circle cx="537.5" cy="1583.5" r="35.6" fill="none" stroke="#C8A878" stroke-width="1.4" stroke-dasharray="0.9 1.8 1.4 3.2 0.7 2.5 1.1 4" stroke-opacity="0.7"/>
<circle cx="537.5" cy="1583.5" r="34.4" fill="none" stroke="#D0C0B0" stroke-width="0.8" stroke-opacity="0.5"/>
<circle cx="537.5" cy="1583.5" r="33.6" fill="url(#pg28)" stroke="none" stroke-width="0"/>
<circle cx="537.5" cy="1583.5" r="33.3" fill="none" stroke="#A8B4CC" stroke-width="1.2" stroke-opacity="0.8"/>
<circle cx="537.5" cy="1583.5" r="30.8" fill="none" stroke="#B0B8C8" stroke-width="0.8" stroke-opacity="0.35"/>
<path d="M509.6 1591.0h0M541.4 1558.9h0M531.8 1571.2h0M547.7 1610.0h0M525.8 1611.0h0M526.0 1611.6h0M550.0 1560.5h0M512.4 1589.1h0M550.4 1575.7h0M529.9 1570.2h0M537.8 1568.5h0M512.8 1575.5h0M510.6 1596.8h0M519.4 1570.1h0M533.2 1596.9h0M558.0 1603.4h0M522.3 1602.8h0M563.5 1587.8h0M564.3 1592.4h0M521.8 1566.6h0M555.7 1564.9h0M552.5 1561.9h0M520.4 1570.6h0M541.7 1594.4h0M532.7 1579.3h0M542.1 1586.9h0M544.5 1576.0h0M521.5 1586.6h0M524.2 1564.8h0M559.1 1589.5h0M515.4 1595.8h0M530.1 1571.5h0M524.3 1574.8h0M541.0 1581.0h0M521.6 1568.1h0M526.9 1606.0h0M539.1 1593.8h0M527.2 1611.1h0M541.1 1566.0h0M562.2 1587.3h0M558.8 1575.9h0M520.9 1568.9h0M535.1 1601.1h0M535.4 1610.6h0M558.8 1579.6h0M551.5 1592.4h0M526.3 1564.8h0M551.0 1569.3h0M519.0 1566.2h0M515.2 1580.6h0M529.7 1579.2h0M519.3 1580.4h0" stroke="#E8E0DA" stroke-opacity="0.8" stroke-width="1.35" stroke-linecap="round"/>
<text x="541.4" y="1572.4" font-size="22" fill="#D40808" text-anchor="middle" textLength="42.0" lengthAdjust="spacingAndGlyphs" stroke="#D40808" stroke-width="0.5">1/10</text>
<rect x="581.3" y="1544.4" width="78.5" height="78.1" fill="#050505" stroke="none" stroke-width="0"/>
<linearGradient id="pg29" x1="0.15" y1="0.1" x2="0.85" y2="0.95"><stop offset="0" stop-color="#878EA2"/><stop offset="0.55" stop-color="#7A8298"/><stop offset="1" stop-color="#4F5462"/></linearGradient>
<circle cx="620.5" cy="1583.5" r="38.0" fill="#3A332C" stroke="none" stroke-width="0"/>
<circle cx="620.5" cy="1583.5" r="37.4" fill="none" stroke="#D8C4AC" stroke-width="1.1" stroke-opacity="0.75"/>
<circle cx="620.5" cy="1583.5" r="35.6" fill="none" stroke="#C8A878" stroke-width="1.4" stroke-dasharray="0.9 1.8 1.4 3.2 0.7 2.5 1.1 4" stroke-opacity="0.7"/>
<circle cx="620.5" cy="1583.5" r="34.4" fill="none" stroke="#D0C0B0" stroke-width="0.8" stroke-opacity="0.5"/>
<circle cx="620.5" cy="1583.5" r="33.6" fill="url(#pg29)" stroke="none" stroke-width="0"/>
<circle cx="620.5" cy="1583.5" r="33.3" fill="none" stroke="#A8B4CC" stroke-width="1.2" stroke-opacity="0.8"/>
<circle cx="620.5" cy="1583.5" r="30.8" fill="none" stroke="#B0B8C8" stroke-width="0.8" stroke-opacity="0.35"/>
<path d="M621.3 1561.1h0M629.0 1568.3h0M630.8 1596.5h0M623.9 1557.0h0M596.9 1570.7h0M612.7 1608.5h0M633.8 1579.9h0M600.1 1577.3h0M609.8 1572.5h0M611.3 1594.4h0M641.5 1565.0h0M624.4 1556.9h0M625.1 1569.2h0M636.7 1576.0h0M635.0 1587.6h0M610.8 1601.9h0M614.6 1561.5h0M590.5 1580.3h0M606.7 1572.3h0M639.3 1599.8h0M647.2 1578.1h0M640.2 1578.7h0M631.2 1583.1h0M637.3 1608.7h0M605.8 1592.9h0M646.1 1586.3h0M601.4 1601.2h0M627.1 1592.7h0M594.3 1586.6h0M644.5 1599.0h0M607.6 1574.3h0M643.9 1589.4h0M603.2 1563.7h0M629.7 1607.4h0M629.7 1585.5h0M626.6 1608.9h0M633.7 1568.7h0M595.8 1586.8h0M626.6 1606.2h0M638.2 1576.8h0M643.4 1596.6h0M619.1 1595.9h0M632.8 1601.9h0M643.4 1594.7h0M601.2 1585.7h0M626.0 1556.7h0M648.4 1574.1h0M636.6 1567.5h0M633.2 1562.4h0M600.6 1566.7h0M611.5 1566.5h0M619.1 1575.0h0M600.0 1563.1h0M603.6 1598.6h0M631.0 1604.7h0M623.5 1584.4h0M606.7 1594.8h0M611.5 1597.1h0M614.6 1594.3h0M606.5 1607.0h0M627.5 1596.8h0M633.8 1589.7h0M646.4 1597.8h0M639.0 1585.9h0M651.0 1581.9h0" stroke="#E8E0DA" stroke-opacity="0.8" stroke-width="1.35" stroke-linecap="round"/>
<text x="624.5" y="1572.4" font-size="22" fill="#D40808" text-anchor="middle" textLength="42.0" lengthAdjust="spacingAndGlyphs" stroke="#D40808" stroke-width="0.5">1/10</text>
<rect x="663.8" y="1544.4" width="78.9" height="78.1" fill="#050505" stroke="none" stroke-width="0"/>
<linearGradient id="pg30" x1="0.15" y1="0.1" x2="0.85" y2="0.95"><stop offset="0" stop-color="#3F4861"/><stop offset="0.55" stop-color="#2A3450"/><stop offset="1" stop-color="#1B2134"/></linearGradient>
<circle cx="703.2" cy="1583.5" r="38.0" fill="#3A332C" stroke="none" stroke-width="0"/>
<circle cx="703.2" cy="1583.5" r="37.4" fill="none" stroke="#D8C4AC" stroke-width="1.1" stroke-opacity="0.75"/>
<circle cx="703.2" cy="1583.5" r="35.6" fill="none" stroke="#C8A878" stroke-width="1.4" stroke-dasharray="0.9 1.8 1.4 3.2 0.7 2.5 1.1 4" stroke-opacity="0.7"/>
<circle cx="703.2" cy="1583.5" r="34.4" fill="none" stroke="#D0C0B0" stroke-width="0.8" stroke-opacity="0.5"/>
<circle cx="703.2" cy="1583.5" r="33.6" fill="url(#pg30)" stroke="none" stroke-width="0"/>
<circle cx="703.2" cy="1583.5" r="33.3" fill="none" stroke="#A8B4CC" stroke-width="1.2" stroke-opacity="0.8"/>
<circle cx="703.2" cy="1583.5" r="30.8" fill="none" stroke="#B0B8C8" stroke-width="0.8" stroke-opacity="0.35"/>
<text x="707.2" y="1572.4" font-size="22" fill="#D40808" text-anchor="middle" textLength="42.0" lengthAdjust="spacingAndGlyphs" stroke="#D40808" stroke-width="0.5">1/10</text>
<rect x="252.9" y="1623.7" width="78.5" height="77.7" fill="#050505" stroke="none" stroke-width="0"/>
<linearGradient id="pg31" x1="0.15" y1="0.1" x2="0.85" y2="0.95"><stop offset="0" stop-color="#3D4861"/><stop offset="0.55" stop-color="#283450"/><stop offset="1" stop-color="#1A2134"/></linearGradient>
<circle cx="292.1" cy="1662.6" r="37.9" fill="#3A332C" stroke="none" stroke-width="0"/>
<circle cx="292.1" cy="1662.6" r="37.3" fill="none" stroke="#D8C4AC" stroke-width="1.1" stroke-opacity="0.75"/>
<circle cx="292.1" cy="1662.6" r="35.5" fill="none" stroke="#C8A878" stroke-width="1.4" stroke-dasharray="0.9 1.8 1.4 3.2 0.7 2.5 1.1 4" stroke-opacity="0.7"/>
<circle cx="292.1" cy="1662.6" r="34.3" fill="none" stroke="#D0C0B0" stroke-width="0.8" stroke-opacity="0.5"/>
<circle cx="292.1" cy="1662.6" r="33.5" fill="url(#pg31)" stroke="none" stroke-width="0"/>
<circle cx="292.1" cy="1662.6" r="33.2" fill="none" stroke="#A8B4CC" stroke-width="1.2" stroke-opacity="0.8"/>
<circle cx="292.1" cy="1662.6" r="30.7" fill="none" stroke="#B0B8C8" stroke-width="0.8" stroke-opacity="0.35"/>
<text x="303.5" y="1652.7" font-size="23.5" fill="#D40808" text-anchor="middle" textLength="10.0" lengthAdjust="spacingAndGlyphs" stroke="#D40808" stroke-width="0.6">1</text>
<rect x="335.0" y="1623.7" width="78.1" height="77.7" fill="#050505" stroke="none" stroke-width="0"/>
<linearGradient id="pg32" x1="0.15" y1="0.1" x2="0.85" y2="0.95"><stop offset="0" stop-color="#3D445A"/><stop offset="0.55" stop-color="#283048"/><stop offset="1" stop-color="#1A1F2E"/></linearGradient>
<circle cx="374.1" cy="1662.6" r="37.9" fill="#3A332C" stroke="none" stroke-width="0"/>
<circle cx="374.1" cy="1662.6" r="37.3" fill="none" stroke="#D8C4AC" stroke-width="1.1" stroke-opacity="0.75"/>
<circle cx="374.1" cy="1662.6" r="35.5" fill="none" stroke="#C8A878" stroke-width="1.4" stroke-dasharray="0.9 1.8 1.4 3.2 0.7 2.5 1.1 4" stroke-opacity="0.7"/>
<circle cx="374.1" cy="1662.6" r="34.3" fill="none" stroke="#D0C0B0" stroke-width="0.8" stroke-opacity="0.5"/>
<circle cx="374.1" cy="1662.6" r="33.5" fill="url(#pg32)" stroke="none" stroke-width="0"/>
<circle cx="374.1" cy="1662.6" r="33.2" fill="none" stroke="#A8B4CC" stroke-width="1.2" stroke-opacity="0.8"/>
<circle cx="374.1" cy="1662.6" r="30.7" fill="none" stroke="#B0B8C8" stroke-width="0.8" stroke-opacity="0.35"/>
<path d="M362.8 1678.9h0M349.0 1649.6h0M367.4 1686.6h0M364.8 1668.2h0M386.1 1665.8h0M387.4 1659.0h0M373.4 1644.4h0M353.9 1659.6h0M379.6 1677.0h0M382.7 1681.7h0M397.6 1662.4h0M370.1 1637.5h0M349.3 1680.0h0M366.4 1679.5h0M403.5 1670.0h0M356.2 1641.8h0M402.3 1662.1h0M364.1 1690.2h0M344.3 1658.7h0" stroke="#E8E0DA" stroke-opacity="0.8" stroke-width="1.35" stroke-linecap="round"/>
<text x="385.4" y="1652.7" font-size="23.5" fill="#D40808" text-anchor="middle" textLength="10.0" lengthAdjust="spacingAndGlyphs" stroke="#D40808" stroke-width="0.6">1</text>
<rect x="415.5" y="1623.7" width="77.7" height="77.7" fill="#050505" stroke="none" stroke-width="0"/>
<linearGradient id="pg33" x1="0.15" y1="0.1" x2="0.85" y2="0.95"><stop offset="0" stop-color="#343D56"/><stop offset="0.55" stop-color="#1E2844"/><stop offset="1" stop-color="#131A2C"/></linearGradient>
<circle cx="454.4" cy="1662.6" r="37.8" fill="#3A332C" stroke="none" stroke-width="0"/>
<circle cx="454.4" cy="1662.6" r="37.2" fill="none" stroke="#D8C4AC" stroke-width="1.1" stroke-opacity="0.75"/>
<circle cx="454.4" cy="1662.6" r="35.4" fill="none" stroke="#C8A878" stroke-width="1.4" stroke-dasharray="0.9 1.8 1.4 3.2 0.7 2.5 1.1 4" stroke-opacity="0.7"/>
<circle cx="454.4" cy="1662.6" r="34.2" fill="none" stroke="#D0C0B0" stroke-width="0.8" stroke-opacity="0.5"/>
<circle cx="454.4" cy="1662.6" r="33.4" fill="url(#pg33)" stroke="none" stroke-width="0"/>
<circle cx="454.4" cy="1662.6" r="33.1" fill="none" stroke="#A8B4CC" stroke-width="1.2" stroke-opacity="0.8"/>
<circle cx="454.4" cy="1662.6" r="30.6" fill="none" stroke="#B0B8C8" stroke-width="0.8" stroke-opacity="0.35"/>
<path d="M449.0 1656.9h0M442.6 1683.7h0M439.8 1680.7h0M434.4 1667.2h0M448.4 1674.1h0M470.7 1683.5h0" stroke="#E8E0DA" stroke-opacity="0.8" stroke-width="1.35" stroke-linecap="round"/>
<text x="465.6" y="1652.7" font-size="23.5" fill="#D40808" text-anchor="middle" textLength="10.0" lengthAdjust="spacingAndGlyphs" stroke="#D40808" stroke-width="0.6">1</text>
<rect x="498.4" y="1623.7" width="78.1" height="77.7" fill="#050505" stroke="none" stroke-width="0"/>
<linearGradient id="pg34" x1="0.15" y1="0.1" x2="0.85" y2="0.95"><stop offset="0" stop-color="#4D5C6F"/><stop offset="0.55" stop-color="#3A4A60"/><stop offset="1" stop-color="#25303E"/></linearGradient>
<circle cx="537.5" cy="1662.6" r="37.9" fill="#3A332C" stroke="none" stroke-width="0"/>
<circle cx="537.5" cy="1662.6" r="37.3" fill="none" stroke="#D8C4AC" stroke-width="1.1" stroke-opacity="0.75"/>
<circle cx="537.5" cy="1662.6" r="35.5" fill="none" stroke="#C8A878" stroke-width="1.4" stroke-dasharray="0.9 1.8 1.4 3.2 0.7 2.5 1.1 4" stroke-opacity="0.7"/>
<circle cx="537.5" cy="1662.6" r="34.3" fill="none" stroke="#D0C0B0" stroke-width="0.8" stroke-opacity="0.5"/>
<circle cx="537.5" cy="1662.6" r="33.5" fill="url(#pg34)" stroke="none" stroke-width="0"/>
<circle cx="537.5" cy="1662.6" r="33.2" fill="none" stroke="#A8B4CC" stroke-width="1.2" stroke-opacity="0.8"/>
<circle cx="537.5" cy="1662.6" r="30.7" fill="none" stroke="#B0B8C8" stroke-width="0.8" stroke-opacity="0.35"/>
<text x="548.8" y="1652.7" font-size="23.5" fill="#D40808" text-anchor="middle" textLength="10.0" lengthAdjust="spacingAndGlyphs" stroke="#D40808" stroke-width="0.6">1</text>
<rect x="581.3" y="1623.7" width="78.5" height="77.7" fill="#050505" stroke="none" stroke-width="0"/>
<linearGradient id="pg35" x1="0.15" y1="0.1" x2="0.85" y2="0.95"><stop offset="0" stop-color="#3D4B68"/><stop offset="0.55" stop-color="#283858"/><stop offset="1" stop-color="#1A2439"/></linearGradient>
<circle cx="620.5" cy="1662.6" r="37.9" fill="#3A332C" stroke="none" stroke-width="0"/>
<circle cx="620.5" cy="1662.6" r="37.3" fill="none" stroke="#D8C4AC" stroke-width="1.1" stroke-opacity="0.75"/>
<circle cx="620.5" cy="1662.6" r="35.5" fill="none" stroke="#C8A878" stroke-width="1.4" stroke-dasharray="0.9 1.8 1.4 3.2 0.7 2.5 1.1 4" stroke-opacity="0.7"/>
<circle cx="620.5" cy="1662.6" r="34.3" fill="none" stroke="#D0C0B0" stroke-width="0.8" stroke-opacity="0.5"/>
<circle cx="620.5" cy="1662.6" r="33.5" fill="url(#pg35)" stroke="none" stroke-width="0"/>
<circle cx="620.5" cy="1662.6" r="33.2" fill="none" stroke="#A8B4CC" stroke-width="1.2" stroke-opacity="0.8"/>
<circle cx="620.5" cy="1662.6" r="30.7" fill="none" stroke="#B0B8C8" stroke-width="0.8" stroke-opacity="0.35"/>
<text x="631.9" y="1652.7" font-size="23.5" fill="#D40808" text-anchor="middle" textLength="10.0" lengthAdjust="spacingAndGlyphs" stroke="#D40808" stroke-width="0.6">1</text>
<rect x="663.8" y="1623.7" width="78.9" height="77.7" fill="#050505" stroke="none" stroke-width="0"/>
<linearGradient id="pg36" x1="0.15" y1="0.1" x2="0.85" y2="0.95"><stop offset="0" stop-color="#3B445F"/><stop offset="0.55" stop-color="#26304E"/><stop offset="1" stop-color="#181F32"/></linearGradient>
<circle cx="703.2" cy="1662.6" r="37.9" fill="#3A332C" stroke="none" stroke-width="0"/>
<circle cx="703.2" cy="1662.6" r="37.3" fill="none" stroke="#D8C4AC" stroke-width="1.1" stroke-opacity="0.75"/>
<circle cx="703.2" cy="1662.6" r="35.5" fill="none" stroke="#C8A878" stroke-width="1.4" stroke-dasharray="0.9 1.8 1.4 3.2 0.7 2.5 1.1 4" stroke-opacity="0.7"/>
<circle cx="703.2" cy="1662.6" r="34.3" fill="none" stroke="#D0C0B0" stroke-width="0.8" stroke-opacity="0.5"/>
<circle cx="703.2" cy="1662.6" r="33.5" fill="url(#pg36)" stroke="none" stroke-width="0"/>
<circle cx="703.2" cy="1662.6" r="33.2" fill="none" stroke="#A8B4CC" stroke-width="1.2" stroke-opacity="0.8"/>
<circle cx="703.2" cy="1662.6" r="30.7" fill="none" stroke="#B0B8C8" stroke-width="0.8" stroke-opacity="0.35"/>
<text x="714.7" y="1652.7" font-size="23.5" fill="#D40808" text-anchor="middle" textLength="10.0" lengthAdjust="spacingAndGlyphs" stroke="#D40808" stroke-width="0.6">1</text>
<rect x="763.4" y="1221.2" width="78.6" height="78.6" fill="#050505" stroke="none" stroke-width="0"/>
<linearGradient id="pg37" x1="0.15" y1="0.1" x2="0.85" y2="0.95"><stop offset="0" stop-color="#5C6680"/><stop offset="0.55" stop-color="#4A5672"/><stop offset="1" stop-color="#30374A"/></linearGradient>
<circle cx="802.7" cy="1260.5" r="38.3" fill="#5E5650" stroke="none" stroke-width="0"/>
<circle cx="802.7" cy="1260.5" r="37.7" fill="none" stroke="#D8C4AC" stroke-width="1.1" stroke-opacity="0.75"/>
<circle cx="802.7" cy="1260.5" r="35.9" fill="none" stroke="#C8A878" stroke-width="1.4" stroke-dasharray="0.9 1.8 1.4 3.2 0.7 2.5 1.1 4" stroke-opacity="0.7"/>
<circle cx="802.7" cy="1260.5" r="34.7" fill="none" stroke="#D0C0B0" stroke-width="0.8" stroke-opacity="0.5"/>
<circle cx="802.7" cy="1260.5" r="33.9" fill="url(#pg37)" stroke="none" stroke-width="0"/>
<circle cx="802.7" cy="1260.5" r="33.6" fill="none" stroke="#A8B4CC" stroke-width="1.2" stroke-opacity="0.8"/>
<circle cx="802.7" cy="1260.5" r="31.1" fill="none" stroke="#B0B8C8" stroke-width="0.8" stroke-opacity="0.35"/>
<text x="817.6" y="1247.7" font-size="23.5" fill="#D40808" text-anchor="middle" textLength="10.0" lengthAdjust="spacingAndGlyphs" stroke="#D40808" stroke-width="0.6">1</text>
<rect x="848.4" y="1221.2" width="78.6" height="78.6" fill="#050505" stroke="none" stroke-width="0"/>
<linearGradient id="pg38" x1="0.15" y1="0.1" x2="0.85" y2="0.95"><stop offset="0" stop-color="#435C7C"/><stop offset="0.55" stop-color="#2F4A6E"/><stop offset="1" stop-color="#1E3047"/></linearGradient>
<circle cx="887.7" cy="1260.5" r="38.3" fill="#5E5650" stroke="none" stroke-width="0"/>
<circle cx="887.7" cy="1260.5" r="37.7" fill="none" stroke="#D8C4AC" stroke-width="1.1" stroke-opacity="0.75"/>
<circle cx="887.7" cy="1260.5" r="35.9" fill="none" stroke="#C8A878" stroke-width="1.4" stroke-dasharray="0.9 1.8 1.4 3.2 0.7 2.5 1.1 4" stroke-opacity="0.7"/>
<circle cx="887.7" cy="1260.5" r="34.7" fill="none" stroke="#D0C0B0" stroke-width="0.8" stroke-opacity="0.5"/>
<circle cx="887.7" cy="1260.5" r="33.9" fill="url(#pg38)" stroke="none" stroke-width="0"/>
<circle cx="887.7" cy="1260.5" r="33.6" fill="none" stroke="#A8B4CC" stroke-width="1.2" stroke-opacity="0.8"/>
<circle cx="887.7" cy="1260.5" r="31.1" fill="none" stroke="#B0B8C8" stroke-width="0.8" stroke-opacity="0.35"/>
<path d="M861.4 1255.0h0M878.4 1280.3h0M912.3 1261.4h0M889.3 1238.1h0M883.2 1261.6h0M905.8 1282.7h0M881.5 1233.8h0M878.9 1261.1h0M869.1 1266.5h0M915.2 1263.2h0M890.8 1273.1h0M863.0 1261.5h0M901.2 1282.0h0M872.1 1285.4h0M902.7 1281.0h0M871.1 1277.7h0M873.8 1270.3h0M885.9 1239.0h0M907.2 1274.0h0M901.1 1284.5h0M880.9 1285.2h0M888.8 1287.3h0M897.7 1238.1h0M904.4 1269.9h0M893.2 1282.7h0M875.4 1282.6h0M899.6 1241.7h0M891.6 1278.8h0M881.2 1277.6h0M880.6 1246.9h0M899.8 1274.1h0M905.0 1285.5h0M862.8 1248.5h0M911.0 1263.3h0M885.7 1268.7h0M895.1 1238.1h0M869.0 1281.3h0M861.3 1260.0h0M904.2 1238.5h0M904.9 1255.5h0M880.0 1261.9h0M871.0 1248.4h0M875.9 1278.2h0M888.3 1276.1h0M874.7 1253.4h0M880.2 1252.6h0M879.5 1246.8h0M878.1 1254.1h0M917.3 1254.3h0M892.2 1269.9h0M896.3 1288.0h0M862.1 1249.1h0M908.2 1280.4h0M886.5 1267.1h0M889.6 1290.6h0M863.0 1245.1h0M872.5 1241.8h0M894.4 1247.2h0M871.7 1258.2h0M894.8 1277.6h0M899.3 1257.2h0M904.6 1266.5h0M898.6 1245.1h0M904.5 1238.0h0M902.3 1248.1h0M903.8 1258.3h0M881.9 1261.1h0M893.7 1238.3h0M908.7 1268.1h0M909.1 1255.4h0M865.0 1261.4h0M880.3 1290.2h0M874.4 1261.1h0M899.3 1262.7h0M893.9 1260.0h0M878.1 1241.3h0M908.0 1263.9h0M889.4 1289.5h0M862.1 1266.3h0M859.7 1256.3h0M902.2 1275.6h0M862.3 1268.6h0M859.4 1262.6h0M864.7 1262.0h0M916.2 1263.3h0M902.1 1267.4h0M874.3 1287.9h0M863.8 1272.2h0M876.8 1249.2h0M889.6 1281.4h0M864.4 1243.7h0M863.1 1250.0h0M874.7 1276.9h0M897.4 1288.8h0M898.0 1276.1h0M880.3 1268.6h0M870.0 1282.2h0M889.5 1260.2h0M871.4 1240.3h0M880.3 1240.5h0M901.7 1281.8h0M876.5 1275.7h0M867.6 1256.6h0M896.5 1274.1h0M880.5 1232.1h0M895.0 1287.4h0M915.1 1269.9h0M877.5 1262.2h0M877.6 1277.9h0M900.1 1280.1h0M881.4 1285.7h0M868.8 1239.1h0M911.4 1251.9h0M885.0 1232.3h0M881.2 1277.3h0M885.5 1238.2h0M882.3 1253.4h0M865.4 1263.8h0M882.5 1231.1h0M862.1 1246.0h0M905.4 1265.1h0M899.8 1256.0h0M911.7 1268.5h0M899.8 1269.5h0M879.5 1280.2h0M889.4 1277.6h0M908.1 1242.8h0M872.7 1264.6h0M891.5 1280.9h0M870.7 1277.0h0M910.3 1266.9h0M893.4 1256.9h0M875.4 1252.3h0M916.4 1263.9h0M868.7 1256.2h0M879.2 1279.9h0M875.2 1253.3h0M865.6 1242.7h0M861.0 1275.2h0M899.8 1258.6h0M877.7 1282.0h0M870.7 1262.9h0M889.9 1245.0h0M886.1 1230.1h0M875.8 1250.4h0M879.8 1251.2h0M871.5 1261.0h0M890.8 1260.4h0M883.4 1230.4h0M908.9 1258.4h0M899.6 1254.4h0M909.2 1264.8h0M887.6 1271.7h0M867.7 1242.7h0M916.7 1250.3h0M911.4 1252.0h0M863.7 1271.4h0M858.6 1267.4h0M889.2 1281.1h0M867.1 1265.9h0M900.4 1271.3h0M886.5 1268.7h0M904.9 1275.3h0M875.9 1282.0h0M909.1 1239.0h0M895.4 1233.0h0M911.9 1246.1h0M865.4 1246.5h0M909.1 1266.4h0M884.7 1265.1h0M876.0 1248.0h0M892.3 1230.8h0M866.9 1265.3h0M908.9 1249.9h0M880.4 1232.2h0M864.9 1274.2h0M873.2 1285.1h0M886.8 1254.9h0M896.3 1238.0h0M883.6 1238.8h0M913.5 1257.3h0M907.6 1263.0h0M910.0 1258.2h0M899.5 1241.5h0M900.4 1279.8h0M892.2 1242.0h0M899.0 1279.4h0M880.8 1235.5h0M872.8 1270.7h0M866.3 1249.1h0M888.5 1238.5h0M870.0 1275.2h0M881.7 1257.7h0M897.5 1242.4h0M891.9 1252.9h0M872.4 1284.7h0M878.3 1264.3h0M896.9 1262.4h0M871.0 1255.8h0M876.0 1270.7h0M882.9 1242.2h0M896.8 1273.0h0M875.3 1234.7h0M889.5 1253.1h0M865.1 1281.3h0M887.2 1269.2h0M865.7 1252.8h0M874.0 1273.0h0M895.1 1260.8h0M872.1 1255.6h0M882.5 1233.2h0M890.9 1267.7h0M902.3 1238.7h0M900.8 1237.3h0M892.7 1252.0h0M887.1 1235.9h0M907.9 1242.6h0M898.2 1267.2h0M887.2 1287.4h0M890.5 1271.3h0M903.2 1262.7h0M899.7 1246.4h0M909.0 1261.1h0M878.1 1280.9h0M910.5 1265.7h0M902.4 1249.1h0M910.8 1273.9h0M868.1 1253.3h0M867.4 1258.2h0M898.6 1255.9h0M873.4 1241.2h0M881.3 1233.6h0M903.0 1256.4h0M907.6 1255.6h0M885.0 1275.1h0M913.9 1247.4h0M902.4 1260.7h0M890.3 1240.7h0M897.6 1246.4h0M897.4 1281.5h0M899.3 1257.8h0M902.7 1250.6h0M913.8 1273.2h0M884.7 1279.5h0M872.3 1263.8h0M872.9 1259.8h0M869.8 1280.7h0M885.8 1259.0h0M889.2 1276.0h0M894.0 1261.7h0M882.6 1256.5h0M900.0 1286.3h0M882.3 1237.6h0M891.3 1279.2h0M870.7 1263.3h0M886.7 1257.2h0M871.3 1272.4h0M898.3 1269.7h0M889.0 1257.9h0M901.8 1262.8h0" stroke="#E8E0DA" stroke-opacity="0.8" stroke-width="1.35" stroke-linecap="round"/>
<text x="902.6" y="1247.7" font-size="23.5" fill="#D40808" text-anchor="middle" textLength="10.0" lengthAdjust="spacingAndGlyphs" stroke="#D40808" stroke-width="0.6">1</text>
<rect x="934.0" y="1221.2" width="77.9" height="78.6" fill="#050505" stroke="none" stroke-width="0"/>
<linearGradient id="pg39" x1="0.15" y1="0.1" x2="0.85" y2="0.95"><stop offset="0" stop-color="#6A7385"/><stop offset="0.55" stop-color="#5A6478"/><stop offset="1" stop-color="#3A414E"/></linearGradient>
<circle cx="973.0" cy="1260.5" r="37.9" fill="#5E5650" stroke="none" stroke-width="0"/>
<circle cx="973.0" cy="1260.5" r="37.3" fill="none" stroke="#D8C4AC" stroke-width="1.1" stroke-opacity="0.75"/>
<circle cx="973.0" cy="1260.5" r="35.5" fill="none" stroke="#C8A878" stroke-width="1.4" stroke-dasharray="0.9 1.8 1.4 3.2 0.7 2.5 1.1 4" stroke-opacity="0.7"/>
<circle cx="973.0" cy="1260.5" r="34.3" fill="none" stroke="#D0C0B0" stroke-width="0.8" stroke-opacity="0.5"/>
<circle cx="973.0" cy="1260.5" r="33.5" fill="url(#pg39)" stroke="none" stroke-width="0"/>
<circle cx="973.0" cy="1260.5" r="33.2" fill="none" stroke="#A8B4CC" stroke-width="1.2" stroke-opacity="0.8"/>
<circle cx="973.0" cy="1260.5" r="30.7" fill="none" stroke="#B0B8C8" stroke-width="0.8" stroke-opacity="0.35"/>
<path d="M954.3 1257.5h0M985.0 1242.7h0M995.0 1245.1h0M951.4 1257.0h0M963.3 1273.8h0M985.1 1259.8h0M997.7 1263.1h0M950.7 1243.7h0M981.5 1252.6h0M956.7 1239.1h0M958.2 1255.7h0M966.9 1262.0h0M986.0 1262.3h0M978.6 1280.8h0M986.0 1284.0h0M990.4 1269.4h0M973.1 1230.5h0M983.8 1260.5h0M957.1 1237.0h0M980.9 1265.6h0M943.0 1261.8h0M954.9 1248.9h0M988.2 1252.2h0M997.4 1251.4h0M980.6 1274.1h0M958.9 1267.2h0M965.5 1244.2h0M990.7 1262.3h0M991.6 1258.7h0M993.5 1246.8h0M966.1 1257.3h0M993.4 1273.6h0M966.7 1248.7h0M987.8 1278.2h0M979.4 1281.6h0M955.7 1257.4h0M969.7 1246.7h0M992.4 1240.1h0M951.4 1247.9h0M975.1 1257.4h0M967.9 1265.1h0M975.1 1254.7h0M984.0 1261.4h0M942.8 1263.7h0M967.9 1287.2h0M977.2 1237.1h0M963.7 1260.7h0M994.1 1244.7h0M966.3 1279.2h0M968.1 1266.3h0M948.5 1269.4h0M952.0 1273.0h0M995.8 1280.6h0M947.0 1246.6h0M983.1 1276.9h0M963.9 1249.6h0M972.5 1282.8h0M956.3 1264.3h0M963.7 1241.8h0M977.5 1271.5h0M970.3 1250.6h0M982.3 1240.7h0M980.0 1283.3h0M970.5 1289.0h0M948.0 1265.5h0M963.1 1282.0h0M969.6 1262.2h0M990.9 1238.4h0M980.9 1242.6h0M954.2 1247.0h0M1000.2 1265.6h0M948.4 1257.8h0M949.0 1259.5h0M988.1 1260.1h0M977.7 1283.9h0M969.2 1266.5h0M977.1 1237.1h0M995.3 1269.7h0M995.0 1269.9h0M995.8 1249.6h0M945.4 1257.4h0M970.7 1272.3h0M959.6 1270.9h0M954.5 1242.0h0M986.5 1259.4h0M978.0 1277.8h0M980.1 1254.1h0M965.4 1276.7h0M948.8 1260.9h0M990.0 1255.2h0M962.3 1254.5h0M960.5 1252.2h0M980.4 1286.7h0M965.4 1271.9h0M965.1 1284.2h0M963.9 1270.1h0M990.2 1248.1h0M992.8 1266.9h0M983.6 1258.5h0M961.2 1270.5h0M989.9 1250.7h0M981.0 1271.7h0M947.0 1249.9h0M977.7 1260.7h0M952.9 1277.8h0M983.5 1256.7h0M989.9 1262.9h0M979.5 1260.3h0M963.3 1261.6h0M973.0 1261.2h0M990.2 1240.0h0M989.2 1258.6h0M960.4 1278.3h0M947.9 1261.7h0M955.6 1261.2h0M970.2 1240.9h0M977.6 1290.4h0" stroke="#E8E0DA" stroke-opacity="0.8" stroke-width="1.35" stroke-linecap="round"/>
<text x="987.8" y="1247.7" font-size="23.5" fill="#D40808" text-anchor="middle" textLength="10.0" lengthAdjust="spacingAndGlyphs" stroke="#D40808" stroke-width="0.6">1</text>
<rect x="1017.2" y="1221.2" width="78.8" height="78.6" fill="#050505" stroke="none" stroke-width="0"/>
<linearGradient id="pg40" x1="0.15" y1="0.1" x2="0.85" y2="0.95"><stop offset="0" stop-color="#586178"/><stop offset="0.55" stop-color="#46506A"/><stop offset="1" stop-color="#2D3444"/></linearGradient>
<circle cx="1056.6" cy="1260.5" r="38.3" fill="#5E5650" stroke="none" stroke-width="0"/>
<circle cx="1056.6" cy="1260.5" r="37.7" fill="none" stroke="#D8C4AC" stroke-width="1.1" stroke-opacity="0.75"/>
<circle cx="1056.6" cy="1260.5" r="35.9" fill="none" stroke="#C8A878" stroke-width="1.4" stroke-dasharray="0.9 1.8 1.4 3.2 0.7 2.5 1.1 4" stroke-opacity="0.7"/>
<circle cx="1056.6" cy="1260.5" r="34.7" fill="none" stroke="#D0C0B0" stroke-width="0.8" stroke-opacity="0.5"/>
<circle cx="1056.6" cy="1260.5" r="33.9" fill="url(#pg40)" stroke="none" stroke-width="0"/>
<circle cx="1056.6" cy="1260.5" r="33.6" fill="none" stroke="#A8B4CC" stroke-width="1.2" stroke-opacity="0.8"/>
<circle cx="1056.6" cy="1260.5" r="31.1" fill="none" stroke="#B0B8C8" stroke-width="0.8" stroke-opacity="0.35"/>
<path d="M1059.0 1284.6h0M1083.7 1270.2h0M1071.9 1263.4h0M1058.2 1284.5h0M1072.6 1251.2h0M1076.7 1282.1h0M1042.5 1243.8h0M1044.1 1260.0h0M1037.3 1283.4h0M1058.7 1233.6h0M1032.5 1245.4h0M1061.5 1233.7h0M1064.3 1266.1h0M1071.3 1254.6h0M1049.6 1266.0h0M1043.3 1261.7h0M1066.8 1246.0h0M1071.8 1285.3h0M1044.1 1254.4h0M1064.7 1236.9h0M1083.4 1260.0h0M1080.1 1277.8h0M1064.6 1241.4h0M1038.8 1274.4h0M1048.0 1241.9h0M1053.9 1261.8h0M1040.4 1251.7h0M1065.3 1286.5h0M1045.2 1246.1h0M1074.1 1264.1h0M1066.9 1275.3h0M1039.1 1244.0h0M1043.3 1272.3h0M1044.8 1275.6h0M1040.2 1281.9h0M1031.4 1255.1h0M1063.2 1254.1h0M1043.1 1259.3h0M1029.5 1272.6h0M1075.8 1259.9h0M1039.9 1284.6h0M1060.3 1230.1h0M1034.0 1273.7h0M1052.0 1270.2h0M1068.5 1239.0h0M1068.5 1244.3h0M1049.2 1252.6h0M1046.7 1232.6h0M1049.5 1265.4h0M1073.6 1253.7h0M1062.8 1278.6h0M1040.2 1244.5h0M1081.6 1266.2h0M1039.9 1240.8h0M1076.9 1268.1h0M1032.0 1261.2h0M1061.5 1241.2h0M1053.9 1257.2h0M1059.9 1258.8h0M1083.9 1267.5h0M1048.5 1231.4h0M1055.3 1278.6h0M1079.8 1245.6h0M1059.1 1239.4h0M1054.5 1241.3h0M1046.8 1232.0h0M1051.5 1277.9h0M1032.2 1256.5h0M1069.7 1283.1h0M1070.9 1258.6h0M1076.8 1282.6h0M1082.6 1254.8h0M1035.5 1277.9h0M1032.2 1275.7h0M1066.4 1233.8h0M1057.5 1288.8h0M1066.0 1278.1h0M1042.5 1262.1h0" stroke="#E8E0DA" stroke-opacity="0.8" stroke-width="1.35" stroke-linecap="round"/>
<text x="1071.6" y="1247.7" font-size="23.5" fill="#D40808" text-anchor="middle" textLength="10.0" lengthAdjust="spacingAndGlyphs" stroke="#D40808" stroke-width="0.6">1</text>
<rect x="1100.3" y="1221.2" width="78.9" height="78.6" fill="#050505" stroke="none" stroke-width="0"/>
<linearGradient id="pg41" x1="0.15" y1="0.1" x2="0.85" y2="0.95"><stop offset="0" stop-color="#616A80"/><stop offset="0.55" stop-color="#505A72"/><stop offset="1" stop-color="#343A4A"/></linearGradient>
<circle cx="1139.8" cy="1260.5" r="38.3" fill="#5E5650" stroke="none" stroke-width="0"/>
<circle cx="1139.8" cy="1260.5" r="37.7" fill="none" stroke="#D8C4AC" stroke-width="1.1" stroke-opacity="0.75"/>
<circle cx="1139.8" cy="1260.5" r="35.9" fill="none" stroke="#C8A878" stroke-width="1.4" stroke-dasharray="0.9 1.8 1.4 3.2 0.7 2.5 1.1 4" stroke-opacity="0.7"/>
<circle cx="1139.8" cy="1260.5" r="34.7" fill="none" stroke="#D0C0B0" stroke-width="0.8" stroke-opacity="0.5"/>
<circle cx="1139.8" cy="1260.5" r="33.9" fill="url(#pg41)" stroke="none" stroke-width="0"/>
<circle cx="1139.8" cy="1260.5" r="33.6" fill="none" stroke="#A8B4CC" stroke-width="1.2" stroke-opacity="0.8"/>
<circle cx="1139.8" cy="1260.5" r="31.1" fill="none" stroke="#B0B8C8" stroke-width="0.8" stroke-opacity="0.35"/>
<path d="M1156.5 1235.6h0M1125.4 1262.5h0M1112.2 1274.2h0M1152.5 1281.4h0M1132.8 1290.3h0M1164.0 1243.9h0M1120.6 1281.4h0M1151.7 1286.4h0M1112.4 1263.8h0M1133.3 1260.0h0M1152.6 1270.1h0M1149.6 1275.8h0M1145.4 1270.5h0M1138.3 1242.9h0M1123.9 1238.5h0M1140.5 1234.6h0M1139.6 1238.6h0M1160.4 1252.9h0M1160.2 1283.2h0M1138.1 1271.6h0M1146.3 1286.8h0M1132.8 1269.5h0M1156.3 1271.2h0M1166.6 1250.9h0M1125.4 1242.0h0M1131.8 1266.0h0M1132.0 1280.7h0M1119.8 1283.7h0M1158.8 1254.2h0M1128.6 1259.3h0M1118.4 1241.5h0M1143.3 1270.2h0M1125.5 1235.9h0M1151.1 1244.3h0M1131.0 1250.1h0M1142.3 1251.8h0M1125.7 1254.7h0M1155.7 1275.8h0M1135.7 1237.9h0" stroke="#E8E0DA" stroke-opacity="0.8" stroke-width="1.35" stroke-linecap="round"/>
<text x="1154.7" y="1247.7" font-size="23.5" fill="#D40808" text-anchor="middle" textLength="10.0" lengthAdjust="spacingAndGlyphs" stroke="#D40808" stroke-width="0.6">1</text>
<rect x="1184.5" y="1221.2" width="78.5" height="78.6" fill="#050505" stroke="none" stroke-width="0"/>
<linearGradient id="pg42" x1="0.15" y1="0.1" x2="0.85" y2="0.95"><stop offset="0" stop-color="#3F465C"/><stop offset="0.55" stop-color="#2A324A"/><stop offset="1" stop-color="#1B2030"/></linearGradient>
<circle cx="1223.8" cy="1260.5" r="38.2" fill="#5E5650" stroke="none" stroke-width="0"/>
<circle cx="1223.8" cy="1260.5" r="37.6" fill="none" stroke="#D8C4AC" stroke-width="1.1" stroke-opacity="0.75"/>
<circle cx="1223.8" cy="1260.5" r="35.9" fill="none" stroke="#C8A878" stroke-width="1.4" stroke-dasharray="0.9 1.8 1.4 3.2 0.7 2.5 1.1 4" stroke-opacity="0.7"/>
<circle cx="1223.8" cy="1260.5" r="34.6" fill="none" stroke="#D0C0B0" stroke-width="0.8" stroke-opacity="0.5"/>
<circle cx="1223.8" cy="1260.5" r="33.9" fill="url(#pg42)" stroke="none" stroke-width="0"/>
<circle cx="1223.8" cy="1260.5" r="33.5" fill="none" stroke="#A8B4CC" stroke-width="1.2" stroke-opacity="0.8"/>
<circle cx="1223.8" cy="1260.5" r="31.1" fill="none" stroke="#B0B8C8" stroke-width="0.8" stroke-opacity="0.35"/>
<path d="M1224.8 1231.6h0M1241.2 1240.7h0M1209.5 1264.3h0M1235.1 1285.1h0M1218.3 1246.3h0M1214.4 1275.4h0" stroke="#E8E0DA" stroke-opacity="0.8" stroke-width="1.35" stroke-linecap="round"/>
<text x="1238.7" y="1247.7" font-size="23.5" fill="#D40808" text-anchor="middle" textLength="10.0" lengthAdjust="spacingAndGlyphs" stroke="#D40808" stroke-width="0.6">1</text>
<rect x="763.4" y="1303.3" width="78.6" height="76.5" fill="#050505" stroke="none" stroke-width="0"/>
<linearGradient id="pg43" x1="0.15" y1="0.1" x2="0.85" y2="0.95"><stop offset="0" stop-color="#788093"/><stop offset="0.55" stop-color="#6A7288"/><stop offset="1" stop-color="#444A58"/></linearGradient>
<circle cx="802.7" cy="1341.5" r="37.2" fill="#5E5650" stroke="none" stroke-width="0"/>
<circle cx="802.7" cy="1341.5" r="36.6" fill="none" stroke="#D8C4AC" stroke-width="1.1" stroke-opacity="0.75"/>
<circle cx="802.7" cy="1341.5" r="34.9" fill="none" stroke="#C8A878" stroke-width="1.4" stroke-dasharray="0.9 1.8 1.4 3.2 0.7 2.5 1.1 4" stroke-opacity="0.7"/>
<circle cx="802.7" cy="1341.5" r="33.6" fill="none" stroke="#D0C0B0" stroke-width="0.8" stroke-opacity="0.5"/>
<circle cx="802.7" cy="1341.5" r="32.9" fill="url(#pg43)" stroke="none" stroke-width="0"/>
<circle cx="802.7" cy="1341.5" r="32.5" fill="none" stroke="#A8B4CC" stroke-width="1.2" stroke-opacity="0.8"/>
<circle cx="802.7" cy="1341.5" r="30.1" fill="none" stroke="#B0B8C8" stroke-width="0.8" stroke-opacity="0.35"/>
<text x="817.6" y="1327.3" font-size="23.5" fill="#D40808" text-anchor="middle" textLength="10.0" lengthAdjust="spacingAndGlyphs" stroke="#D40808" stroke-width="0.6">1</text>
<rect x="848.4" y="1303.3" width="78.6" height="76.5" fill="#050505" stroke="none" stroke-width="0"/>
<linearGradient id="pg44" x1="0.15" y1="0.1" x2="0.85" y2="0.95"><stop offset="0" stop-color="#787E93"/><stop offset="0.55" stop-color="#6A7088"/><stop offset="1" stop-color="#444858"/></linearGradient>
<circle cx="887.7" cy="1341.5" r="37.2" fill="#5E5650" stroke="none" stroke-width="0"/>
<circle cx="887.7" cy="1341.5" r="36.6" fill="none" stroke="#D8C4AC" stroke-width="1.1" stroke-opacity="0.75"/>
<circle cx="887.7" cy="1341.5" r="34.9" fill="none" stroke="#C8A878" stroke-width="1.4" stroke-dasharray="0.9 1.8 1.4 3.2 0.7 2.5 1.1 4" stroke-opacity="0.7"/>
<circle cx="887.7" cy="1341.5" r="33.6" fill="none" stroke="#D0C0B0" stroke-width="0.8" stroke-opacity="0.5"/>
<circle cx="887.7" cy="1341.5" r="32.9" fill="url(#pg44)" stroke="none" stroke-width="0"/>
<circle cx="887.7" cy="1341.5" r="32.5" fill="none" stroke="#A8B4CC" stroke-width="1.2" stroke-opacity="0.8"/>
<circle cx="887.7" cy="1341.5" r="30.1" fill="none" stroke="#B0B8C8" stroke-width="0.8" stroke-opacity="0.35"/>
<path d="M872.5 1355.4h0M887.4 1345.8h0M903.3 1346.7h0M894.1 1368.8h0M895.9 1318.5h0M875.2 1339.3h0M883.4 1317.4h0M894.2 1330.9h0M869.6 1349.7h0M908.4 1347.4h0M904.0 1352.8h0M888.3 1368.3h0M904.2 1345.9h0M879.0 1327.5h0M913.4 1354.5h0M878.4 1319.7h0M887.9 1316.2h0M864.2 1337.9h0M892.0 1313.0h0M897.8 1314.1h0M859.4 1341.1h0M888.7 1344.4h0M904.5 1324.5h0M884.3 1359.1h0M912.7 1344.0h0M887.2 1369.4h0M906.2 1325.1h0M889.2 1318.7h0M895.0 1323.6h0M899.8 1329.7h0M916.3 1346.0h0M900.5 1326.0h0M900.9 1363.2h0M878.9 1317.6h0M901.6 1329.4h0M901.0 1348.0h0M877.1 1330.3h0M883.2 1341.3h0M876.7 1323.9h0M877.7 1338.6h0M904.4 1322.8h0M899.6 1365.3h0M914.0 1342.5h0M869.5 1361.1h0M896.4 1340.5h0M879.1 1329.5h0M872.4 1334.1h0M866.0 1349.8h0M880.1 1346.3h0M884.2 1325.3h0M907.4 1351.4h0M864.2 1336.0h0M884.9 1351.0h0M890.1 1358.3h0M914.2 1348.2h0M865.9 1340.5h0M860.1 1348.5h0M898.1 1323.5h0M891.5 1347.1h0M889.3 1316.3h0M883.4 1357.5h0M901.9 1356.4h0M900.5 1348.4h0M872.5 1321.0h0M905.6 1333.7h0M898.2 1324.2h0M894.6 1355.4h0M891.6 1370.5h0M877.5 1315.9h0M898.5 1323.4h0M872.4 1340.3h0M883.0 1335.4h0M870.0 1319.8h0M897.4 1331.3h0M912.1 1348.9h0M879.2 1357.6h0M911.5 1356.8h0M877.1 1352.0h0M881.8 1329.3h0M876.6 1329.5h0M899.9 1358.2h0M882.6 1345.3h0M889.0 1361.6h0M900.0 1360.7h0M886.0 1334.7h0M884.5 1343.8h0M904.4 1352.3h0M881.6 1343.1h0M881.5 1342.0h0M898.4 1322.3h0M898.9 1328.3h0M879.9 1361.1h0M895.8 1334.0h0M916.1 1337.3h0M910.4 1331.5h0M885.8 1353.7h0M907.7 1356.0h0M871.4 1352.7h0M879.6 1365.1h0M883.7 1316.5h0M898.9 1345.0h0M863.5 1342.0h0M909.9 1346.5h0M900.7 1349.1h0M886.3 1356.9h0M883.5 1340.0h0M893.5 1364.8h0M885.2 1361.1h0M913.2 1331.7h0M902.6 1329.6h0M911.8 1353.7h0M873.5 1361.0h0M900.5 1344.0h0M916.9 1338.7h0M891.4 1354.6h0M883.9 1346.5h0M902.6 1318.1h0M911.4 1335.9h0M890.2 1355.1h0M872.8 1350.7h0M904.1 1365.0h0M899.0 1320.3h0M907.1 1332.7h0M893.0 1328.2h0M910.1 1351.6h0M901.0 1346.2h0M882.9 1355.7h0M878.3 1329.6h0M881.2 1364.9h0M861.1 1353.8h0M868.6 1321.3h0M882.8 1337.2h0M903.9 1361.9h0M884.2 1364.1h0M905.0 1365.4h0M871.2 1360.0h0M899.7 1322.4h0M887.4 1364.8h0M900.1 1360.9h0M882.9 1360.6h0M867.4 1333.0h0M877.0 1345.8h0M861.2 1340.1h0M887.1 1343.6h0M907.4 1329.8h0M889.3 1349.6h0M909.4 1343.0h0M886.1 1317.6h0M866.7 1337.2h0M883.0 1341.8h0M871.1 1330.2h0M891.1 1321.8h0M877.6 1341.2h0M910.9 1339.0h0M891.7 1320.6h0M885.9 1339.6h0M903.5 1358.4h0M908.3 1322.0h0M914.0 1346.8h0M901.1 1324.7h0M896.9 1336.8h0M864.4 1350.8h0M872.0 1327.6h0M890.0 1369.6h0M890.7 1337.7h0M874.7 1323.1h0M868.8 1362.9h0M863.7 1345.2h0M884.5 1316.8h0M867.8 1333.2h0M880.1 1337.0h0M871.5 1341.6h0M884.6 1366.7h0M893.3 1348.9h0M913.1 1348.6h0M914.6 1337.0h0M901.0 1345.8h0M885.9 1369.1h0M863.3 1325.5h0M913.8 1353.3h0M879.4 1317.2h0M863.5 1337.0h0M901.7 1347.8h0M885.9 1328.0h0M867.8 1350.3h0M903.1 1366.1h0M877.9 1337.2h0M890.1 1360.5h0M875.5 1332.1h0M882.3 1335.7h0M869.1 1332.8h0M911.2 1352.0h0M886.9 1350.6h0M903.6 1348.8h0M873.2 1362.1h0M866.6 1339.1h0M860.4 1343.2h0M902.4 1328.8h0M909.6 1346.4h0M875.4 1333.8h0M895.4 1370.0h0M898.6 1366.4h0M898.9 1317.6h0M906.5 1324.9h0M883.1 1368.1h0M864.1 1337.8h0M870.3 1318.7h0M895.1 1367.5h0M860.5 1348.1h0M871.1 1338.4h0M890.0 1369.9h0M884.0 1318.5h0M881.0 1318.5h0M907.0 1330.5h0M897.3 1338.0h0M893.7 1363.2h0M896.3 1351.6h0M902.7 1355.3h0M914.3 1352.1h0M899.1 1327.7h0M866.3 1336.5h0M884.5 1366.6h0M865.2 1353.2h0M873.1 1325.4h0M890.4 1358.3h0M863.1 1328.7h0M900.3 1329.1h0M861.8 1341.1h0M898.5 1319.7h0M897.4 1325.6h0M896.2 1319.7h0M899.0 1341.2h0M869.7 1319.1h0M899.8 1326.9h0M905.3 1340.3h0M900.7 1360.4h0M908.3 1356.6h0M902.1 1356.4h0M867.6 1351.7h0M891.2 1369.1h0M893.6 1333.0h0M893.9 1346.2h0M875.5 1368.4h0M881.9 1326.8h0M889.2 1315.1h0M912.7 1346.1h0M880.8 1369.2h0M869.0 1357.5h0M885.2 1315.1h0M862.0 1332.7h0M871.0 1329.1h0M885.8 1341.2h0M906.9 1322.2h0M894.9 1354.2h0M902.0 1362.8h0M877.1 1363.6h0M878.7 1323.6h0M898.9 1332.7h0M880.3 1363.6h0M910.5 1338.2h0M901.1 1341.0h0M909.4 1328.5h0M873.0 1346.0h0M883.0 1314.1h0M897.5 1325.1h0M867.0 1332.8h0M890.1 1347.3h0M869.7 1318.3h0M902.6 1345.1h0M862.5 1337.0h0M899.7 1337.4h0M909.6 1323.7h0M891.9 1364.3h0M905.5 1330.9h0M889.1 1357.0h0M906.6 1350.8h0M896.1 1354.7h0M874.4 1342.6h0M878.6 1349.0h0M884.2 1333.5h0M891.4 1365.0h0M868.2 1320.1h0M901.9 1342.8h0M887.3 1341.5h0M909.7 1340.5h0M903.8 1331.9h0M896.9 1339.1h0M867.2 1349.3h0M907.4 1355.8h0M904.0 1344.4h0M882.4 1327.6h0M897.4 1338.9h0M894.6 1321.3h0M862.7 1351.9h0M865.4 1357.1h0M894.2 1335.6h0M916.1 1350.1h0M865.2 1338.8h0M908.5 1360.5h0M911.6 1328.2h0M902.4 1322.8h0M868.4 1324.4h0M883.6 1324.0h0M915.5 1349.3h0M894.6 1333.6h0M888.9 1329.2h0M895.0 1354.9h0M868.3 1329.8h0M874.5 1342.1h0M896.7 1354.5h0M891.4 1344.4h0M907.1 1357.7h0M883.6 1366.2h0M903.8 1366.1h0M901.5 1365.8h0M891.6 1331.3h0M911.3 1350.7h0M905.2 1364.6h0M909.7 1360.4h0M883.8 1342.9h0M885.8 1341.9h0M867.2 1339.2h0M888.2 1323.7h0M865.7 1352.6h0M886.6 1332.4h0M907.6 1330.4h0M895.8 1329.9h0M881.6 1347.4h0M879.2 1331.9h0M872.3 1323.2h0M908.2 1353.9h0M896.8 1358.5h0M883.7 1334.1h0M907.0 1324.7h0M862.1 1344.0h0M899.3 1347.8h0M891.2 1364.4h0M870.9 1320.8h0" stroke="#E8E0DA" stroke-opacity="0.8" stroke-width="1.35" stroke-linecap="round"/>
<text x="884.6" y="1327.8" font-size="22" fill="#D40808" text-anchor="middle" textLength="42.0" lengthAdjust="spacingAndGlyphs" stroke="#D40808" stroke-width="0.5">1/10</text>
<rect x="934.0" y="1303.3" width="77.9" height="76.5" fill="#2A2E38" stroke="none" stroke-width="0"/>
<linearGradient id="pg45" x1="0.15" y1="0.1" x2="0.85" y2="0.95"><stop offset="0" stop-color="#5C667E"/><stop offset="0.55" stop-color="#4A5670"/><stop offset="1" stop-color="#303748"/></linearGradient>
<circle cx="973.0" cy="1341.5" r="37.2" fill="#5E5650" stroke="none" stroke-width="0"/>
<circle cx="973.0" cy="1341.5" r="36.6" fill="none" stroke="#D8C4AC" stroke-width="1.1" stroke-opacity="0.75"/>
<circle cx="973.0" cy="1341.5" r="34.9" fill="none" stroke="#C8A878" stroke-width="1.4" stroke-dasharray="0.9 1.8 1.4 3.2 0.7 2.5 1.1 4" stroke-opacity="0.7"/>
<circle cx="973.0" cy="1341.5" r="33.6" fill="none" stroke="#D0C0B0" stroke-width="0.8" stroke-opacity="0.5"/>
<circle cx="973.0" cy="1341.5" r="32.9" fill="url(#pg45)" stroke="none" stroke-width="0"/>
<circle cx="973.0" cy="1341.5" r="32.5" fill="none" stroke="#A8B4CC" stroke-width="1.2" stroke-opacity="0.8"/>
<circle cx="973.0" cy="1341.5" r="30.1" fill="none" stroke="#B0B8C8" stroke-width="0.8" stroke-opacity="0.35"/>
<path d="M969.9 1338.8h0M999.4 1354.8h0M967.6 1346.8h0M970.9 1319.8h0M968.2 1339.6h0M958.5 1356.0h0M958.6 1335.5h0M948.3 1332.4h0M980.3 1354.2h0M978.7 1357.6h0M969.4 1355.4h0M954.6 1322.2h0M966.7 1360.2h0M958.6 1356.0h0M966.6 1315.1h0M959.3 1343.9h0M957.2 1324.4h0M995.8 1341.4h0M962.0 1335.6h0M955.0 1350.3h0M965.7 1337.6h0M952.2 1338.2h0M980.0 1344.4h0M975.5 1342.3h0M981.0 1319.2h0M946.8 1340.1h0M990.5 1360.1h0M945.7 1349.1h0M958.5 1320.6h0M955.9 1344.6h0M982.2 1343.7h0M945.8 1337.6h0M964.8 1332.2h0M970.8 1322.6h0M948.8 1344.1h0M960.6 1319.6h0M952.7 1326.9h0M996.7 1359.5h0M973.1 1317.3h0M961.4 1316.2h0M961.6 1321.6h0M990.9 1345.0h0M952.3 1359.9h0M964.0 1321.6h0M973.1 1332.5h0M989.3 1344.4h0M956.7 1323.5h0M989.0 1328.2h0M955.7 1350.5h0M982.5 1334.3h0M964.8 1352.6h0M977.7 1338.4h0M964.5 1348.3h0M973.2 1312.7h0M988.0 1345.3h0M953.7 1340.4h0M976.8 1342.3h0M994.2 1337.2h0M988.1 1363.7h0M967.2 1341.3h0M992.4 1349.6h0M965.4 1343.7h0M982.5 1352.1h0M976.7 1313.8h0M976.6 1368.6h0M991.3 1351.2h0M952.8 1348.8h0M957.0 1361.6h0M980.3 1357.5h0M981.8 1359.9h0M951.6 1355.4h0M991.9 1333.5h0M959.4 1359.2h0M988.7 1353.4h0M949.8 1354.2h0M975.5 1323.1h0M963.7 1313.7h0M987.4 1349.1h0M995.5 1324.6h0M965.3 1325.5h0M966.5 1333.2h0M979.1 1323.2h0M969.8 1339.0h0M949.9 1331.5h0M951.5 1345.7h0M981.4 1355.8h0M958.0 1326.7h0M996.8 1339.1h0M975.8 1355.8h0M977.1 1316.6h0M980.0 1340.2h0M978.9 1333.2h0M977.2 1365.9h0M968.1 1331.2h0M945.8 1336.8h0M948.4 1334.8h0M955.8 1358.1h0M992.5 1333.1h0M962.1 1336.7h0M986.3 1347.1h0M982.2 1367.6h0M976.4 1359.9h0M978.3 1325.7h0M988.2 1343.3h0M949.3 1342.8h0M990.8 1343.8h0M968.6 1367.6h0M972.3 1364.6h0M972.0 1328.4h0M960.1 1359.7h0M977.1 1344.0h0M976.6 1315.8h0M956.2 1327.5h0M957.0 1363.3h0M959.3 1354.1h0M978.1 1352.4h0M953.9 1357.4h0M982.8 1346.3h0M994.2 1323.9h0M968.7 1320.5h0M953.9 1361.3h0M977.3 1336.5h0M952.1 1325.0h0M984.6 1349.9h0M975.7 1345.7h0M966.7 1335.0h0M987.4 1336.2h0M986.9 1341.6h0M971.5 1343.5h0M1001.3 1344.3h0M962.7 1322.0h0M991.1 1356.0h0M978.3 1370.2h0M950.9 1327.8h0M983.3 1368.5h0M989.5 1363.4h0M954.1 1337.4h0M994.4 1339.2h0M972.3 1361.3h0M952.4 1356.3h0M974.4 1346.9h0M985.7 1352.8h0M965.3 1357.0h0M971.5 1340.3h0M981.1 1346.6h0M988.7 1348.8h0M958.1 1324.6h0M969.4 1318.1h0M990.7 1331.1h0M991.9 1357.5h0M964.6 1332.4h0M976.6 1358.9h0M977.2 1315.5h0M961.4 1325.3h0M968.6 1334.4h0M968.3 1366.4h0M993.4 1326.1h0M972.0 1315.4h0M948.0 1349.5h0M976.9 1328.9h0M981.2 1313.4h0M985.4 1332.2h0M996.7 1337.6h0M984.9 1318.6h0M975.3 1339.9h0M983.5 1322.2h0M999.3 1345.8h0M953.2 1336.0h0M960.8 1326.7h0M971.8 1346.5h0M973.1 1326.8h0M954.1 1323.7h0M951.4 1340.0h0M962.2 1363.9h0M951.6 1337.4h0M975.3 1364.6h0M976.0 1345.7h0M955.8 1328.7h0M981.4 1360.4h0M982.4 1343.5h0M946.3 1334.5h0M960.5 1353.9h0M982.5 1318.5h0M973.8 1346.9h0M964.9 1359.0h0M991.0 1323.8h0M976.3 1355.4h0M962.0 1329.0h0M983.1 1320.9h0M946.3 1347.5h0M971.2 1369.0h0M985.9 1353.7h0M949.0 1324.6h0M992.3 1335.7h0M956.3 1355.2h0M966.0 1314.8h0M976.4 1349.2h0M948.9 1341.3h0M962.3 1345.2h0M972.9 1366.9h0M952.1 1343.9h0M976.2 1313.2h0M948.2 1346.7h0M977.0 1367.8h0M965.6 1359.6h0M961.0 1323.4h0M963.7 1351.6h0M982.8 1353.8h0M974.2 1325.3h0M989.5 1349.0h0M963.6 1365.4h0M997.8 1327.3h0M976.3 1326.9h0M954.2 1324.2h0M952.8 1328.0h0M991.1 1347.9h0M960.9 1362.6h0M977.4 1358.4h0M980.3 1326.3h0M968.8 1364.8h0M961.8 1330.9h0M963.5 1324.0h0M956.9 1342.8h0M982.9 1326.6h0M965.3 1324.8h0M959.9 1365.0h0M959.7 1352.1h0M993.0 1336.2h0M952.1 1322.9h0M980.1 1325.3h0M948.6 1349.8h0M984.8 1355.2h0M971.3 1326.7h0M986.4 1364.3h0M948.6 1350.4h0M989.5 1348.8h0M983.4 1360.3h0M969.0 1332.4h0M977.4 1336.2h0M969.5 1370.1h0M1000.3 1339.2h0M980.5 1332.1h0M993.0 1339.9h0M999.1 1341.9h0M961.6 1340.0h0M987.0 1345.2h0M952.8 1358.6h0M993.0 1341.4h0M968.6 1370.7h0M979.9 1370.1h0M973.3 1354.8h0M982.6 1352.5h0M950.9 1347.7h0M996.1 1326.2h0M984.8 1330.7h0M957.7 1358.4h0M978.3 1358.4h0M953.8 1324.2h0M961.6 1335.1h0M959.1 1329.9h0M965.0 1345.8h0M959.1 1365.4h0M970.3 1340.4h0M954.9 1336.0h0M954.8 1326.9h0M993.8 1348.2h0M961.1 1318.9h0M985.1 1322.0h0M987.7 1357.9h0M984.7 1318.8h0M978.6 1337.3h0M990.7 1336.3h0M968.7 1313.9h0M951.0 1321.6h0M973.8 1352.0h0M946.5 1354.0h0M949.9 1358.7h0M990.6 1357.8h0M997.3 1335.7h0M963.6 1347.9h0M976.0 1365.0h0M957.7 1350.3h0M977.4 1341.5h0M966.8 1328.9h0M983.7 1342.8h0M984.4 1358.6h0" stroke="#E8E0DA" stroke-opacity="0.8" stroke-width="1.35" stroke-linecap="round"/>
<text x="969.8" y="1327.8" font-size="22" fill="#D40808" text-anchor="middle" textLength="42.0" lengthAdjust="spacingAndGlyphs" stroke="#D40808" stroke-width="0.5">1/10</text>
<rect x="1017.2" y="1303.3" width="78.8" height="76.5" fill="#050505" stroke="none" stroke-width="0"/>
<linearGradient id="pg46" x1="0.15" y1="0.1" x2="0.85" y2="0.95"><stop offset="0" stop-color="#4D586F"/><stop offset="0.55" stop-color="#3A4660"/><stop offset="1" stop-color="#252D3E"/></linearGradient>
<circle cx="1056.6" cy="1341.5" r="37.2" fill="#5E5650" stroke="none" stroke-width="0"/>
<circle cx="1056.6" cy="1341.5" r="36.6" fill="none" stroke="#D8C4AC" stroke-width="1.1" stroke-opacity="0.75"/>
<circle cx="1056.6" cy="1341.5" r="34.9" fill="none" stroke="#C8A878" stroke-width="1.4" stroke-dasharray="0.9 1.8 1.4 3.2 0.7 2.5 1.1 4" stroke-opacity="0.7"/>
<circle cx="1056.6" cy="1341.5" r="33.6" fill="none" stroke="#D0C0B0" stroke-width="0.8" stroke-opacity="0.5"/>
<circle cx="1056.6" cy="1341.5" r="32.9" fill="url(#pg46)" stroke="none" stroke-width="0"/>
<circle cx="1056.6" cy="1341.5" r="32.5" fill="none" stroke="#A8B4CC" stroke-width="1.2" stroke-opacity="0.8"/>
<circle cx="1056.6" cy="1341.5" r="30.1" fill="none" stroke="#B0B8C8" stroke-width="0.8" stroke-opacity="0.35"/>
<path d="M1078.6 1359.8h0M1074.1 1352.7h0M1054.8 1342.2h0M1030.4 1330.7h0M1053.3 1347.9h0M1043.3 1335.6h0M1037.9 1331.0h0M1057.4 1314.1h0M1039.0 1337.9h0M1063.0 1339.1h0M1059.1 1330.3h0M1069.6 1332.3h0M1067.2 1320.3h0M1044.3 1324.9h0M1040.3 1346.5h0M1079.6 1346.8h0M1058.1 1357.1h0M1050.4 1325.4h0M1081.2 1347.3h0M1051.2 1359.6h0M1065.3 1354.0h0M1071.0 1356.9h0M1082.5 1339.8h0M1064.8 1350.5h0M1060.3 1369.4h0M1041.1 1347.5h0M1063.3 1367.7h0M1079.7 1326.7h0M1051.9 1336.9h0M1036.5 1353.4h0M1059.4 1350.7h0M1076.6 1362.3h0M1081.4 1344.1h0M1056.3 1363.6h0M1064.4 1327.1h0M1072.9 1338.1h0M1063.5 1324.1h0M1051.0 1331.3h0M1060.1 1324.9h0M1047.6 1326.3h0M1033.6 1334.3h0M1038.5 1354.9h0M1055.1 1332.5h0M1044.3 1357.0h0M1059.5 1312.0h0M1033.4 1325.7h0M1065.2 1335.6h0M1071.6 1350.6h0M1040.2 1357.5h0M1045.9 1316.5h0M1051.0 1345.3h0M1042.3 1367.4h0M1073.6 1364.5h0M1055.1 1318.6h0M1039.6 1346.5h0M1037.1 1356.0h0M1032.8 1355.9h0M1060.7 1320.4h0M1052.0 1313.6h0M1048.9 1368.3h0M1053.9 1345.8h0M1065.7 1357.5h0M1055.0 1314.9h0M1077.4 1321.5h0M1044.0 1322.5h0M1073.8 1328.6h0M1067.1 1352.9h0M1049.8 1326.3h0M1041.2 1358.3h0M1055.1 1313.6h0M1078.4 1327.6h0M1032.2 1356.6h0M1063.5 1330.8h0M1051.1 1325.0h0M1071.2 1316.8h0M1083.8 1330.2h0M1073.7 1323.3h0M1058.7 1334.1h0M1054.6 1315.3h0M1051.8 1359.4h0M1036.2 1328.0h0M1035.8 1344.2h0M1084.5 1341.8h0M1051.5 1363.9h0M1039.1 1327.4h0M1041.4 1349.3h0M1074.8 1336.1h0M1051.0 1367.1h0M1051.7 1341.5h0M1064.6 1362.2h0M1045.7 1345.9h0M1064.2 1369.0h0M1080.2 1356.9h0M1073.8 1328.1h0M1049.1 1348.2h0M1069.1 1364.0h0M1062.2 1327.8h0M1042.9 1363.7h0M1056.0 1329.8h0M1057.7 1344.2h0M1042.8 1335.7h0M1039.5 1340.1h0M1071.1 1332.9h0M1077.0 1346.7h0M1065.5 1358.2h0M1056.7 1327.6h0M1049.6 1367.1h0M1065.8 1348.2h0M1049.2 1341.8h0M1043.2 1331.8h0M1035.3 1336.8h0M1063.9 1360.0h0M1040.3 1336.1h0M1055.9 1368.3h0M1034.3 1330.9h0M1040.4 1356.8h0M1038.5 1350.7h0M1051.5 1326.7h0M1042.4 1363.1h0M1066.1 1369.4h0M1051.0 1325.9h0M1062.3 1361.0h0M1059.4 1362.7h0M1031.1 1356.4h0M1048.2 1356.5h0M1041.6 1349.5h0M1064.7 1314.4h0M1045.0 1328.1h0M1058.7 1364.6h0M1033.6 1323.6h0M1034.0 1338.0h0M1040.8 1335.9h0M1038.9 1344.5h0M1033.7 1356.4h0M1033.8 1341.1h0M1037.1 1331.1h0M1056.1 1338.8h0M1051.3 1334.6h0M1047.2 1328.9h0M1074.8 1353.0h0M1074.8 1351.8h0M1035.1 1354.7h0M1055.4 1347.2h0" stroke="#E8E0DA" stroke-opacity="0.8" stroke-width="1.35" stroke-linecap="round"/>
<text x="1053.4" y="1327.8" font-size="22" fill="#D40808" text-anchor="middle" textLength="42.0" lengthAdjust="spacingAndGlyphs" stroke="#D40808" stroke-width="0.5">1/10</text>
<rect x="1100.3" y="1303.3" width="78.9" height="76.5" fill="#050505" stroke="none" stroke-width="0"/>
<linearGradient id="pg47" x1="0.15" y1="0.1" x2="0.85" y2="0.95"><stop offset="0" stop-color="#5C6577"/><stop offset="0.55" stop-color="#4A5468"/><stop offset="1" stop-color="#303643"/></linearGradient>
<circle cx="1139.8" cy="1341.5" r="37.2" fill="#5E5650" stroke="none" stroke-width="0"/>
<circle cx="1139.8" cy="1341.5" r="36.6" fill="none" stroke="#D8C4AC" stroke-width="1.1" stroke-opacity="0.75"/>
<circle cx="1139.8" cy="1341.5" r="34.9" fill="none" stroke="#C8A878" stroke-width="1.4" stroke-dasharray="0.9 1.8 1.4 3.2 0.7 2.5 1.1 4" stroke-opacity="0.7"/>
<circle cx="1139.8" cy="1341.5" r="33.6" fill="none" stroke="#D0C0B0" stroke-width="0.8" stroke-opacity="0.5"/>
<circle cx="1139.8" cy="1341.5" r="32.9" fill="url(#pg47)" stroke="none" stroke-width="0"/>
<circle cx="1139.8" cy="1341.5" r="32.5" fill="none" stroke="#A8B4CC" stroke-width="1.2" stroke-opacity="0.8"/>
<circle cx="1139.8" cy="1341.5" r="30.1" fill="none" stroke="#B0B8C8" stroke-width="0.8" stroke-opacity="0.35"/>
<path d="M1117.9 1348.9h0M1143.5 1365.2h0M1130.6 1314.2h0M1168.0 1336.4h0M1157.3 1353.9h0M1135.4 1370.1h0M1136.4 1313.7h0M1156.1 1323.4h0M1144.5 1324.8h0M1162.5 1335.0h0M1148.6 1338.7h0M1139.4 1366.7h0M1130.3 1351.0h0M1120.3 1338.5h0M1131.4 1319.6h0M1161.8 1336.7h0M1135.4 1316.1h0M1117.8 1337.9h0M1149.7 1339.2h0M1167.9 1347.2h0M1155.2 1331.9h0M1141.6 1319.0h0M1128.3 1317.2h0M1155.6 1359.9h0M1134.6 1340.8h0M1160.8 1342.0h0M1141.5 1367.0h0M1160.4 1325.8h0M1118.2 1337.6h0M1130.9 1347.7h0M1142.7 1348.8h0M1122.0 1324.4h0M1150.2 1362.5h0M1162.7 1342.3h0M1134.7 1361.1h0M1125.7 1323.9h0M1133.6 1326.4h0M1160.3 1355.1h0M1168.4 1340.9h0M1136.4 1360.2h0M1141.0 1370.1h0M1122.4 1321.8h0M1113.3 1345.5h0M1160.6 1323.0h0M1134.6 1367.4h0M1123.4 1361.3h0M1141.2 1347.1h0M1164.0 1341.7h0M1164.4 1339.4h0M1161.4 1330.4h0M1141.7 1322.4h0M1144.8 1341.2h0M1146.5 1335.9h0M1139.0 1354.3h0M1146.5 1343.6h0M1139.5 1339.2h0M1120.6 1320.3h0M1113.1 1335.4h0M1142.5 1350.2h0M1148.4 1358.7h0M1112.0 1334.5h0M1142.4 1368.0h0M1162.0 1359.9h0M1158.4 1324.5h0M1140.4 1344.3h0M1151.5 1330.1h0M1160.7 1342.8h0M1146.7 1362.6h0M1122.7 1343.2h0M1153.9 1347.6h0M1154.4 1347.1h0M1125.5 1344.0h0M1138.7 1364.8h0M1120.6 1321.0h0M1140.7 1335.8h0M1126.0 1342.7h0M1146.0 1328.6h0M1138.8 1342.5h0M1125.5 1332.2h0M1111.2 1337.7h0M1151.4 1334.2h0M1143.7 1332.5h0M1159.2 1355.0h0M1136.1 1314.2h0M1115.2 1333.3h0M1129.5 1354.4h0M1141.6 1337.4h0M1126.7 1340.2h0M1114.6 1348.7h0M1118.2 1339.8h0M1128.9 1368.8h0M1162.2 1353.7h0M1167.3 1343.1h0M1144.3 1369.1h0M1140.0 1352.7h0M1142.0 1345.1h0M1159.7 1325.9h0M1141.4 1359.7h0M1146.6 1334.5h0M1160.1 1330.9h0M1158.4 1341.8h0M1120.7 1333.3h0M1144.7 1339.4h0M1131.7 1366.3h0M1123.5 1357.7h0M1127.5 1323.9h0M1131.7 1365.1h0M1142.8 1322.1h0M1147.1 1354.6h0M1138.2 1328.8h0M1123.7 1324.0h0M1130.6 1334.9h0M1120.5 1346.9h0M1132.6 1332.4h0M1117.3 1326.7h0M1134.0 1355.6h0M1135.2 1363.4h0" stroke="#E8E0DA" stroke-opacity="0.8" stroke-width="1.35" stroke-linecap="round"/>
<text x="1136.6" y="1327.8" font-size="22" fill="#D40808" text-anchor="middle" textLength="42.0" lengthAdjust="spacingAndGlyphs" stroke="#D40808" stroke-width="0.5">1/10</text>
<rect x="1184.5" y="1303.3" width="78.5" height="76.5" fill="#050505" stroke="none" stroke-width="0"/>
<linearGradient id="pg48" x1="0.15" y1="0.1" x2="0.85" y2="0.95"><stop offset="0" stop-color="#30384B"/><stop offset="0.55" stop-color="#1A2238"/><stop offset="1" stop-color="#101624"/></linearGradient>
<circle cx="1223.8" cy="1341.5" r="37.2" fill="#5E5650" stroke="none" stroke-width="0"/>
<circle cx="1223.8" cy="1341.5" r="36.6" fill="none" stroke="#D8C4AC" stroke-width="1.1" stroke-opacity="0.75"/>
<circle cx="1223.8" cy="1341.5" r="34.9" fill="none" stroke="#C8A878" stroke-width="1.4" stroke-dasharray="0.9 1.8 1.4 3.2 0.7 2.5 1.1 4" stroke-opacity="0.7"/>
<circle cx="1223.8" cy="1341.5" r="33.6" fill="none" stroke="#D0C0B0" stroke-width="0.8" stroke-opacity="0.5"/>
<circle cx="1223.8" cy="1341.5" r="32.9" fill="url(#pg48)" stroke="none" stroke-width="0"/>
<circle cx="1223.8" cy="1341.5" r="32.5" fill="none" stroke="#A8B4CC" stroke-width="1.2" stroke-opacity="0.8"/>
<circle cx="1223.8" cy="1341.5" r="30.1" fill="none" stroke="#B0B8C8" stroke-width="0.8" stroke-opacity="0.35"/>
<path d="M1230.0 1320.7h0M1250.2 1338.0h0M1220.7 1349.1h0M1237.8 1359.6h0M1244.4 1330.4h0M1244.2 1354.5h0" stroke="#E8E0DA" stroke-opacity="0.8" stroke-width="1.35" stroke-linecap="round"/>
<text x="1220.6" y="1327.8" font-size="22" fill="#D40808" text-anchor="middle" textLength="42.0" lengthAdjust="spacingAndGlyphs" stroke="#D40808" stroke-width="0.5">1/10</text>
<rect x="763.4" y="1383.3" width="78.6" height="78.6" fill="#050505" stroke="none" stroke-width="0"/>
<linearGradient id="pg49" x1="0.15" y1="0.1" x2="0.85" y2="0.95"><stop offset="0" stop-color="#615F68"/><stop offset="0.55" stop-color="#504E58"/><stop offset="1" stop-color="#343239"/></linearGradient>
<circle cx="802.7" cy="1422.6" r="38.3" fill="#5E5650" stroke="none" stroke-width="0"/>
<circle cx="802.7" cy="1422.6" r="37.7" fill="none" stroke="#D8C4AC" stroke-width="1.1" stroke-opacity="0.75"/>
<circle cx="802.7" cy="1422.6" r="35.9" fill="none" stroke="#C8A878" stroke-width="1.4" stroke-dasharray="0.9 1.8 1.4 3.2 0.7 2.5 1.1 4" stroke-opacity="0.7"/>
<circle cx="802.7" cy="1422.6" r="34.7" fill="none" stroke="#D0C0B0" stroke-width="0.8" stroke-opacity="0.5"/>
<circle cx="802.7" cy="1422.6" r="33.9" fill="url(#pg49)" stroke="none" stroke-width="0"/>
<circle cx="802.7" cy="1422.6" r="33.6" fill="none" stroke="#A8B4CC" stroke-width="1.2" stroke-opacity="0.8"/>
<circle cx="802.7" cy="1422.6" r="31.1" fill="none" stroke="#B0B8C8" stroke-width="0.8" stroke-opacity="0.35"/>
<text x="817.6" y="1404.3" font-size="23.5" fill="#D40808" text-anchor="middle" textLength="10.0" lengthAdjust="spacingAndGlyphs" stroke="#D40808" stroke-width="0.6">1</text>
<rect x="848.4" y="1383.3" width="78.6" height="78.6" fill="#1A2030" stroke="none" stroke-width="0"/>
<linearGradient id="pg50" x1="0.15" y1="0.1" x2="0.85" y2="0.95"><stop offset="0" stop-color="#516177"/><stop offset="0.55" stop-color="#3E5068"/><stop offset="1" stop-color="#283443"/></linearGradient>
<circle cx="887.7" cy="1422.6" r="38.3" fill="#5E5650" stroke="none" stroke-width="0"/>
<circle cx="887.7" cy="1422.6" r="37.7" fill="none" stroke="#D8C4AC" stroke-width="1.1" stroke-opacity="0.75"/>
<circle cx="887.7" cy="1422.6" r="35.9" fill="none" stroke="#C8A878" stroke-width="1.4" stroke-dasharray="0.9 1.8 1.4 3.2 0.7 2.5 1.1 4" stroke-opacity="0.7"/>
<circle cx="887.7" cy="1422.6" r="34.7" fill="none" stroke="#D0C0B0" stroke-width="0.8" stroke-opacity="0.5"/>
<circle cx="887.7" cy="1422.6" r="33.9" fill="url(#pg50)" stroke="none" stroke-width="0"/>
<circle cx="887.7" cy="1422.6" r="33.6" fill="none" stroke="#A8B4CC" stroke-width="1.2" stroke-opacity="0.8"/>
<circle cx="887.7" cy="1422.6" r="31.1" fill="none" stroke="#B0B8C8" stroke-width="0.8" stroke-opacity="0.35"/>
<path d="M861.3 1407.3h0M906.4 1427.4h0M881.5 1395.6h0M906.5 1403.4h0M865.3 1415.6h0M866.6 1416.8h0M886.1 1451.9h0M882.2 1431.1h0M865.9 1409.3h0M879.1 1451.5h0M868.8 1403.8h0M879.2 1423.8h0M892.2 1401.9h0M898.4 1413.2h0M893.8 1417.8h0M874.7 1401.9h0M863.5 1436.0h0M874.2 1430.7h0M871.5 1443.5h0M905.8 1419.7h0M869.4 1446.7h0M910.7 1440.6h0M871.0 1396.9h0M899.4 1427.1h0M872.1 1422.1h0M911.8 1425.3h0M909.9 1429.6h0M868.7 1413.6h0M900.8 1445.4h0M904.1 1418.2h0M895.0 1393.1h0M904.3 1422.4h0M890.2 1410.3h0M870.7 1440.3h0M868.6 1429.8h0M859.1 1413.7h0M912.8 1419.4h0M903.3 1442.3h0M864.4 1410.1h0M894.2 1445.8h0M865.2 1410.0h0M906.6 1415.2h0M877.9 1412.3h0M885.4 1441.6h0M909.2 1431.7h0M876.9 1439.1h0M897.2 1433.4h0M875.1 1419.9h0M908.1 1402.6h0M860.4 1425.6h0M881.9 1433.6h0M877.0 1395.4h0M887.4 1395.8h0M910.3 1427.4h0M867.6 1402.6h0M901.6 1414.0h0M903.7 1413.0h0M871.2 1420.4h0M871.2 1432.0h0M909.6 1429.3h0M879.7 1435.6h0M911.1 1432.3h0M869.8 1412.6h0M875.6 1420.5h0M874.5 1426.6h0M875.8 1429.7h0M917.3 1419.5h0M887.0 1431.9h0M865.2 1430.4h0M914.5 1426.4h0M875.6 1415.4h0M900.8 1414.8h0M892.7 1440.7h0M894.3 1446.1h0M908.8 1409.5h0M906.1 1403.0h0M876.0 1445.2h0M865.7 1408.1h0M870.6 1436.5h0M892.3 1433.8h0M888.9 1411.2h0M875.0 1403.2h0M876.0 1421.7h0M909.7 1411.4h0M905.3 1437.9h0M906.2 1428.3h0M902.5 1439.1h0M881.3 1444.5h0M894.4 1415.6h0M877.3 1400.6h0M886.0 1407.6h0M895.6 1412.7h0M899.1 1434.0h0M868.8 1402.7h0M881.7 1446.8h0M894.4 1408.3h0M870.4 1444.2h0M863.7 1410.9h0M857.4 1425.8h0M892.7 1393.0h0M884.0 1443.8h0M908.3 1424.6h0M877.5 1415.6h0M876.2 1436.3h0M880.2 1443.4h0M906.2 1430.6h0M909.8 1421.0h0M869.5 1422.8h0M877.6 1430.8h0M906.2 1404.9h0M905.0 1442.4h0M885.4 1394.8h0M872.8 1413.5h0M914.3 1435.0h0M879.7 1443.4h0M881.4 1430.4h0M877.1 1443.9h0M903.3 1418.3h0M902.2 1406.1h0M886.7 1420.8h0M860.1 1419.4h0M888.3 1418.1h0M897.2 1401.8h0M881.8 1434.0h0M891.7 1415.6h0M915.5 1426.8h0M867.1 1401.8h0M878.6 1415.2h0M870.5 1405.5h0M866.3 1400.7h0M899.1 1403.4h0M881.0 1394.3h0M916.5 1413.3h0M878.9 1437.9h0M910.0 1415.5h0M859.4 1417.7h0M917.2 1421.7h0M895.1 1440.6h0M885.5 1412.4h0M900.0 1424.6h0M884.8 1451.1h0M917.2 1417.1h0M911.3 1417.9h0" stroke="#E8E0DA" stroke-opacity="0.8" stroke-width="1.35" stroke-linecap="round"/>
<text x="902.6" y="1404.3" font-size="23.5" fill="#D40808" text-anchor="middle" textLength="10.0" lengthAdjust="spacingAndGlyphs" stroke="#D40808" stroke-width="0.6">1</text>
<rect x="934.0" y="1383.3" width="77.9" height="78.6" fill="#050505" stroke="none" stroke-width="0"/>
<linearGradient id="pg51" x1="0.15" y1="0.1" x2="0.85" y2="0.95"><stop offset="0" stop-color="#788193"/><stop offset="0.55" stop-color="#6A7488"/><stop offset="1" stop-color="#444B58"/></linearGradient>
<circle cx="973.0" cy="1422.6" r="37.9" fill="#5E5650" stroke="none" stroke-width="0"/>
<circle cx="973.0" cy="1422.6" r="37.3" fill="none" stroke="#D8C4AC" stroke-width="1.1" stroke-opacity="0.75"/>
<circle cx="973.0" cy="1422.6" r="35.5" fill="none" stroke="#C8A878" stroke-width="1.4" stroke-dasharray="0.9 1.8 1.4 3.2 0.7 2.5 1.1 4" stroke-opacity="0.7"/>
<circle cx="973.0" cy="1422.6" r="34.3" fill="none" stroke="#D0C0B0" stroke-width="0.8" stroke-opacity="0.5"/>
<circle cx="973.0" cy="1422.6" r="33.5" fill="url(#pg51)" stroke="none" stroke-width="0"/>
<circle cx="973.0" cy="1422.6" r="33.2" fill="none" stroke="#A8B4CC" stroke-width="1.2" stroke-opacity="0.8"/>
<circle cx="973.0" cy="1422.6" r="30.7" fill="none" stroke="#B0B8C8" stroke-width="0.8" stroke-opacity="0.35"/>
<path d="M953.9 1410.7h0M971.6 1402.1h0M948.1 1437.5h0M962.8 1437.2h0M999.2 1419.1h0M992.8 1400.6h0M993.1 1422.0h0M1000.2 1433.6h0M971.8 1399.9h0M977.1 1404.7h0M959.1 1430.1h0M972.6 1424.9h0M976.1 1444.2h0M981.7 1450.8h0M960.7 1404.3h0M976.5 1409.7h0M983.2 1410.0h0M950.5 1442.7h0M950.1 1408.5h0M977.5 1402.5h0M970.1 1396.2h0M964.1 1439.7h0M994.7 1442.4h0M959.0 1442.6h0M992.7 1427.3h0M965.4 1414.5h0M998.7 1428.8h0M966.7 1409.7h0M964.0 1403.2h0M960.6 1443.0h0M971.6 1446.8h0M980.2 1401.2h0M990.7 1408.7h0M967.8 1431.3h0M964.0 1402.1h0M1000.9 1432.7h0M976.2 1420.7h0M956.8 1445.0h0M953.5 1431.6h0M959.1 1409.9h0M996.6 1434.7h0M992.8 1401.9h0M970.0 1412.5h0M972.1 1420.1h0M984.7 1415.0h0M958.0 1397.1h0M962.0 1397.7h0M968.5 1418.0h0M981.2 1399.2h0M954.8 1405.4h0M976.5 1404.3h0M969.2 1430.2h0M951.8 1443.1h0M970.4 1425.6h0M976.1 1404.3h0M949.6 1408.9h0M999.4 1408.0h0M955.0 1403.7h0M992.9 1436.0h0M955.3 1404.4h0M967.2 1393.9h0M975.7 1425.8h0M961.1 1409.6h0M970.4 1435.9h0M969.0 1442.4h0M989.8 1412.7h0M994.5 1433.7h0M980.9 1403.6h0M962.0 1448.0h0M977.1 1419.7h0M962.8 1433.6h0M961.9 1438.9h0M987.2 1428.3h0M977.9 1451.5h0M963.5 1425.0h0M975.5 1426.3h0M976.9 1410.8h0M947.6 1439.2h0M956.7 1417.1h0M963.5 1424.7h0M961.1 1401.7h0M964.6 1429.9h0M1000.6 1417.1h0M973.9 1418.7h0M980.2 1418.4h0M968.4 1393.2h0M986.9 1446.9h0M974.5 1437.5h0M952.7 1410.2h0M965.7 1414.2h0M963.2 1434.4h0M996.2 1432.2h0M965.1 1412.2h0M994.0 1436.2h0M967.1 1414.1h0M953.2 1427.9h0M969.1 1449.6h0M986.3 1448.8h0M982.7 1419.9h0M988.7 1439.4h0M970.2 1420.8h0M980.8 1427.7h0M995.4 1417.0h0M968.3 1446.8h0M960.5 1439.7h0M969.5 1419.3h0M968.3 1412.4h0M981.2 1406.7h0M996.5 1411.6h0M958.7 1432.1h0M961.2 1444.9h0M959.8 1403.0h0M979.7 1404.1h0M967.4 1422.3h0M958.2 1430.6h0M968.3 1402.9h0M998.0 1430.0h0M950.4 1420.2h0M968.3 1438.7h0M960.8 1405.0h0M976.3 1404.7h0M963.2 1402.5h0M966.8 1428.0h0M970.7 1418.1h0M996.1 1414.5h0M962.3 1429.1h0M997.5 1439.4h0M975.0 1424.3h0M988.8 1423.5h0M957.7 1409.9h0M960.7 1420.9h0M971.0 1402.8h0M978.8 1398.1h0M966.6 1414.5h0M958.6 1417.2h0M965.4 1417.6h0M950.5 1423.4h0M960.4 1397.7h0M956.8 1419.4h0M976.6 1428.4h0M956.4 1409.0h0M950.6 1426.1h0M995.0 1404.8h0M978.1 1443.3h0M959.5 1396.7h0M998.0 1418.3h0M984.0 1396.6h0M980.6 1437.2h0M966.5 1409.3h0M989.6 1429.0h0M958.8 1448.9h0M968.9 1414.1h0M955.2 1423.6h0M961.3 1415.3h0M947.1 1407.0h0M967.0 1412.1h0M982.7 1396.6h0M958.9 1407.0h0M972.4 1403.4h0M951.3 1439.4h0M958.3 1396.7h0M997.9 1418.9h0M983.9 1400.2h0M957.9 1398.7h0M947.6 1411.9h0M996.7 1417.1h0M970.6 1417.5h0M964.9 1394.6h0M978.6 1412.4h0M986.9 1443.3h0M980.5 1441.8h0M969.2 1436.2h0M983.5 1437.3h0M953.4 1435.4h0M977.0 1429.3h0M956.3 1409.8h0M950.3 1440.4h0M996.8 1420.9h0M955.9 1439.4h0M971.4 1450.4h0M951.8 1424.7h0M966.8 1416.0h0M983.9 1408.0h0M984.0 1413.1h0M997.8 1422.4h0M1000.6 1414.9h0M945.2 1416.5h0M968.6 1422.6h0M983.9 1412.2h0M958.5 1398.0h0M951.1 1441.8h0M976.9 1421.5h0M980.5 1417.0h0M977.6 1413.2h0M987.6 1424.6h0" stroke="#E8E0DA" stroke-opacity="0.8" stroke-width="1.35" stroke-linecap="round"/>
<text x="987.8" y="1404.3" font-size="23.5" fill="#D40808" text-anchor="middle" textLength="10.0" lengthAdjust="spacingAndGlyphs" stroke="#D40808" stroke-width="0.6">1</text>
<rect x="1017.2" y="1383.3" width="78.8" height="78.6" fill="#050505" stroke="none" stroke-width="0"/>
<linearGradient id="pg52" x1="0.15" y1="0.1" x2="0.85" y2="0.95"><stop offset="0" stop-color="#788193"/><stop offset="0.55" stop-color="#6A7488"/><stop offset="1" stop-color="#444B58"/></linearGradient>
<circle cx="1056.6" cy="1422.6" r="38.3" fill="#5E5650" stroke="none" stroke-width="0"/>
<circle cx="1056.6" cy="1422.6" r="37.7" fill="none" stroke="#D8C4AC" stroke-width="1.1" stroke-opacity="0.75"/>
<circle cx="1056.6" cy="1422.6" r="35.9" fill="none" stroke="#C8A878" stroke-width="1.4" stroke-dasharray="0.9 1.8 1.4 3.2 0.7 2.5 1.1 4" stroke-opacity="0.7"/>
<circle cx="1056.6" cy="1422.6" r="34.7" fill="none" stroke="#D0C0B0" stroke-width="0.8" stroke-opacity="0.5"/>
<circle cx="1056.6" cy="1422.6" r="33.9" fill="url(#pg52)" stroke="none" stroke-width="0"/>
<circle cx="1056.6" cy="1422.6" r="33.6" fill="none" stroke="#A8B4CC" stroke-width="1.2" stroke-opacity="0.8"/>
<circle cx="1056.6" cy="1422.6" r="31.1" fill="none" stroke="#B0B8C8" stroke-width="0.8" stroke-opacity="0.35"/>
<path d="M1069.3 1443.9h0M1084.4 1430.8h0M1082.3 1427.2h0M1054.2 1427.1h0M1054.0 1441.5h0M1070.6 1433.0h0M1061.5 1426.2h0M1034.0 1410.6h0M1036.6 1445.3h0M1036.8 1417.6h0M1046.7 1419.2h0M1043.5 1437.3h0M1036.3 1435.9h0M1039.3 1398.2h0M1073.6 1422.8h0M1057.5 1416.2h0M1067.1 1438.3h0M1056.1 1403.7h0M1077.3 1430.3h0M1060.2 1410.6h0M1065.5 1420.8h0M1069.4 1404.9h0M1075.3 1424.0h0M1072.7 1434.2h0M1029.9 1418.8h0M1061.6 1410.8h0M1032.6 1425.5h0M1063.1 1429.3h0M1064.0 1398.7h0M1084.3 1421.8h0M1066.6 1412.6h0M1053.1 1394.6h0M1044.1 1435.2h0M1060.5 1397.1h0M1070.5 1424.8h0M1067.1 1419.7h0M1071.9 1414.9h0M1038.9 1428.0h0M1056.5 1407.0h0M1065.8 1437.4h0M1052.8 1444.7h0M1069.6 1403.3h0M1048.6 1405.4h0M1057.7 1433.8h0M1029.8 1431.6h0M1076.0 1424.7h0M1064.9 1407.2h0M1047.6 1435.5h0M1083.7 1413.4h0M1037.4 1400.5h0M1052.9 1407.8h0M1054.5 1447.4h0M1051.1 1411.8h0M1078.3 1417.5h0M1074.8 1419.3h0M1051.7 1414.4h0M1047.0 1415.2h0M1051.6 1403.2h0M1033.8 1411.0h0M1038.9 1430.0h0M1066.2 1409.0h0M1085.7 1430.6h0M1066.2 1404.0h0M1039.9 1428.8h0M1082.1 1413.2h0M1042.9 1444.6h0M1080.1 1442.0h0M1074.3 1406.2h0M1062.8 1425.9h0M1070.6 1428.8h0M1045.0 1425.7h0M1053.9 1402.0h0M1037.7 1436.7h0M1069.4 1429.6h0M1067.3 1435.1h0M1066.7 1406.2h0M1055.2 1444.0h0M1058.5 1446.7h0M1039.9 1422.3h0M1041.4 1400.1h0M1053.5 1405.7h0M1055.5 1395.3h0M1058.1 1394.7h0M1054.8 1448.8h0M1043.2 1414.0h0M1057.0 1395.3h0M1080.6 1436.1h0M1067.3 1441.3h0M1050.0 1393.4h0M1054.9 1419.6h0M1040.7 1423.1h0M1051.9 1441.9h0M1047.1 1424.3h0M1036.3 1426.0h0M1074.2 1405.1h0M1083.4 1415.1h0M1047.2 1411.3h0M1057.9 1406.7h0M1071.1 1395.9h0M1059.8 1411.3h0M1072.9 1414.4h0M1048.5 1393.1h0M1038.3 1441.9h0M1048.4 1393.9h0M1034.8 1428.4h0M1069.7 1435.6h0M1077.2 1444.3h0M1036.9 1409.6h0M1066.2 1425.8h0M1049.6 1427.7h0M1031.2 1421.7h0M1059.4 1426.4h0M1075.3 1403.5h0M1040.0 1405.5h0M1070.5 1433.9h0M1057.9 1423.4h0M1034.5 1406.2h0M1069.8 1397.5h0M1077.3 1431.3h0M1081.5 1405.4h0M1068.4 1419.2h0M1084.6 1418.6h0M1067.8 1417.6h0M1075.4 1430.5h0M1051.0 1410.8h0M1034.2 1415.9h0M1058.0 1429.6h0M1057.5 1434.3h0M1050.3 1393.0h0M1056.7 1450.6h0M1079.9 1429.5h0M1040.7 1427.1h0M1060.0 1410.8h0M1045.7 1411.3h0M1072.6 1425.8h0M1046.0 1396.7h0M1054.9 1444.5h0M1049.3 1414.9h0M1040.1 1415.9h0M1078.1 1420.5h0M1058.2 1444.6h0M1056.2 1432.3h0M1058.4 1399.0h0" stroke="#E8E0DA" stroke-opacity="0.8" stroke-width="1.35" stroke-linecap="round"/>
<text x="1071.6" y="1404.3" font-size="23.5" fill="#D40808" text-anchor="middle" textLength="10.0" lengthAdjust="spacingAndGlyphs" stroke="#D40808" stroke-width="0.6">1</text>
<rect x="1100.3" y="1383.3" width="78.9" height="78.6" fill="#050505" stroke="none" stroke-width="0"/>
<linearGradient id="pg53" x1="0.15" y1="0.1" x2="0.85" y2="0.95"><stop offset="0" stop-color="#666F87"/><stop offset="0.55" stop-color="#56607A"/><stop offset="1" stop-color="#373E4F"/></linearGradient>
<circle cx="1139.8" cy="1422.6" r="38.3" fill="#5E5650" stroke="none" stroke-width="0"/>
<circle cx="1139.8" cy="1422.6" r="37.7" fill="none" stroke="#D8C4AC" stroke-width="1.1" stroke-opacity="0.75"/>
<circle cx="1139.8" cy="1422.6" r="35.9" fill="none" stroke="#C8A878" stroke-width="1.4" stroke-dasharray="0.9 1.8 1.4 3.2 0.7 2.5 1.1 4" stroke-opacity="0.7"/>
<circle cx="1139.8" cy="1422.6" r="34.7" fill="none" stroke="#D0C0B0" stroke-width="0.8" stroke-opacity="0.5"/>
<circle cx="1139.8" cy="1422.6" r="33.9" fill="url(#pg53)" stroke="none" stroke-width="0"/>
<circle cx="1139.8" cy="1422.6" r="33.6" fill="none" stroke="#A8B4CC" stroke-width="1.2" stroke-opacity="0.8"/>
<circle cx="1139.8" cy="1422.6" r="31.1" fill="none" stroke="#B0B8C8" stroke-width="0.8" stroke-opacity="0.35"/>
<path d="M1169.2 1415.9h0M1158.1 1430.3h0M1164.6 1430.4h0M1146.1 1444.9h0M1153.5 1409.9h0M1142.6 1393.8h0M1127.6 1438.1h0M1128.9 1411.9h0M1150.8 1418.7h0M1135.7 1413.4h0M1120.9 1444.7h0M1122.6 1440.3h0M1120.5 1437.9h0M1137.6 1431.7h0M1150.8 1411.6h0M1148.8 1411.4h0M1169.1 1414.3h0M1125.4 1413.3h0M1143.9 1450.5h0M1166.8 1409.6h0M1128.2 1398.3h0M1146.1 1396.1h0M1167.1 1417.1h0M1158.3 1430.1h0M1149.0 1399.3h0M1137.0 1402.8h0M1144.5 1396.1h0M1142.7 1411.7h0M1133.7 1451.3h0M1137.8 1439.6h0M1109.9 1420.8h0M1139.7 1408.4h0M1166.8 1437.0h0M1162.6 1414.0h0M1114.2 1408.6h0M1122.8 1402.0h0M1111.2 1427.6h0M1154.0 1402.1h0M1140.5 1408.2h0M1156.1 1419.7h0M1137.9 1401.1h0M1124.2 1438.6h0M1141.4 1417.7h0M1143.5 1443.7h0M1157.2 1427.0h0M1144.9 1449.3h0M1119.6 1407.4h0M1146.3 1399.9h0M1129.9 1420.3h0M1129.4 1407.2h0M1160.9 1434.0h0M1158.4 1438.3h0M1136.6 1404.8h0M1147.2 1432.0h0M1118.5 1423.4h0M1156.1 1396.6h0M1131.1 1450.3h0M1138.5 1417.0h0M1150.8 1420.8h0M1113.4 1432.2h0M1150.3 1417.7h0M1145.9 1433.0h0M1122.2 1418.2h0M1120.7 1445.1h0M1134.8 1421.2h0" stroke="#E8E0DA" stroke-opacity="0.8" stroke-width="1.35" stroke-linecap="round"/>
<text x="1154.7" y="1404.3" font-size="23.5" fill="#D40808" text-anchor="middle" textLength="10.0" lengthAdjust="spacingAndGlyphs" stroke="#D40808" stroke-width="0.6">1</text>
<rect x="1184.5" y="1383.3" width="78.5" height="78.6" fill="#050505" stroke="none" stroke-width="0"/>
<linearGradient id="pg54" x1="0.15" y1="0.1" x2="0.85" y2="0.95"><stop offset="0" stop-color="#484F65"/><stop offset="0.55" stop-color="#343C54"/><stop offset="1" stop-color="#212736"/></linearGradient>
<circle cx="1223.8" cy="1422.6" r="38.2" fill="#5E5650" stroke="none" stroke-width="0"/>
<circle cx="1223.8" cy="1422.6" r="37.6" fill="none" stroke="#D8C4AC" stroke-width="1.1" stroke-opacity="0.75"/>
<circle cx="1223.8" cy="1422.6" r="35.9" fill="none" stroke="#C8A878" stroke-width="1.4" stroke-dasharray="0.9 1.8 1.4 3.2 0.7 2.5 1.1 4" stroke-opacity="0.7"/>
<circle cx="1223.8" cy="1422.6" r="34.6" fill="none" stroke="#D0C0B0" stroke-width="0.8" stroke-opacity="0.5"/>
<circle cx="1223.8" cy="1422.6" r="33.9" fill="url(#pg54)" stroke="none" stroke-width="0"/>
<circle cx="1223.8" cy="1422.6" r="33.5" fill="none" stroke="#A8B4CC" stroke-width="1.2" stroke-opacity="0.8"/>
<circle cx="1223.8" cy="1422.6" r="31.1" fill="none" stroke="#B0B8C8" stroke-width="0.8" stroke-opacity="0.35"/>
<text x="1238.7" y="1404.3" font-size="23.5" fill="#D40808" text-anchor="middle" textLength="10.0" lengthAdjust="spacingAndGlyphs" stroke="#D40808" stroke-width="0.6">1</text>
<rect x="763.4" y="1464.7" width="78.6" height="77.8" fill="#050505" stroke="none" stroke-width="0"/>
<linearGradient id="pg55" x1="0.15" y1="0.1" x2="0.85" y2="0.95"><stop offset="0" stop-color="#959BA5"/><stop offset="0.55" stop-color="#8A909C"/><stop offset="1" stop-color="#595D65"/></linearGradient>
<circle cx="802.7" cy="1503.6" r="37.9" fill="#5E5650" stroke="none" stroke-width="0"/>
<circle cx="802.7" cy="1503.6" r="37.3" fill="none" stroke="#D8C4AC" stroke-width="1.1" stroke-opacity="0.75"/>
<circle cx="802.7" cy="1503.6" r="35.5" fill="none" stroke="#C8A878" stroke-width="1.4" stroke-dasharray="0.9 1.8 1.4 3.2 0.7 2.5 1.1 4" stroke-opacity="0.7"/>
<circle cx="802.7" cy="1503.6" r="34.3" fill="none" stroke="#D0C0B0" stroke-width="0.8" stroke-opacity="0.5"/>
<circle cx="802.7" cy="1503.6" r="33.5" fill="url(#pg55)" stroke="none" stroke-width="0"/>
<circle cx="802.7" cy="1503.6" r="33.2" fill="none" stroke="#A8B4CC" stroke-width="1.2" stroke-opacity="0.8"/>
<circle cx="802.7" cy="1503.6" r="30.7" fill="none" stroke="#B0B8C8" stroke-width="0.8" stroke-opacity="0.35"/>
<text x="817.6" y="1488.4" font-size="23.5" fill="#D40808" text-anchor="middle" textLength="10.0" lengthAdjust="spacingAndGlyphs" stroke="#D40808" stroke-width="0.6">1</text>
<rect x="848.4" y="1464.7" width="78.6" height="77.8" fill="#050505" stroke="none" stroke-width="0"/>
<linearGradient id="pg56" x1="0.15" y1="0.1" x2="0.85" y2="0.95"><stop offset="0" stop-color="#3F4D68"/><stop offset="0.55" stop-color="#2A3A58"/><stop offset="1" stop-color="#1B2539"/></linearGradient>
<circle cx="887.7" cy="1503.6" r="37.9" fill="#5E5650" stroke="none" stroke-width="0"/>
<circle cx="887.7" cy="1503.6" r="37.3" fill="none" stroke="#D8C4AC" stroke-width="1.1" stroke-opacity="0.75"/>
<circle cx="887.7" cy="1503.6" r="35.5" fill="none" stroke="#C8A878" stroke-width="1.4" stroke-dasharray="0.9 1.8 1.4 3.2 0.7 2.5 1.1 4" stroke-opacity="0.7"/>
<circle cx="887.7" cy="1503.6" r="34.3" fill="none" stroke="#D0C0B0" stroke-width="0.8" stroke-opacity="0.5"/>
<circle cx="887.7" cy="1503.6" r="33.5" fill="url(#pg56)" stroke="none" stroke-width="0"/>
<circle cx="887.7" cy="1503.6" r="33.2" fill="none" stroke="#A8B4CC" stroke-width="1.2" stroke-opacity="0.8"/>
<circle cx="887.7" cy="1503.6" r="30.7" fill="none" stroke="#B0B8C8" stroke-width="0.8" stroke-opacity="0.35"/>
<path d="M892.6 1506.0h0M904.4 1498.5h0M889.8 1522.5h0M892.5 1489.9h0M889.4 1484.0h0M871.7 1511.8h0M904.1 1505.0h0M915.9 1509.1h0M877.9 1517.1h0M870.0 1504.2h0M896.0 1480.4h0M883.4 1524.4h0M892.6 1529.1h0M874.7 1511.9h0M884.3 1476.3h0M895.0 1502.8h0M889.4 1527.6h0M871.0 1493.3h0M886.9 1496.4h0M909.4 1501.1h0M893.0 1485.5h0M883.3 1516.3h0M875.9 1512.2h0M893.6 1476.9h0M893.3 1514.1h0M881.3 1509.4h0M881.0 1474.0h0M887.5 1488.9h0M877.6 1486.7h0M884.6 1500.6h0M877.7 1516.4h0M885.3 1491.8h0M892.4 1531.3h0M905.3 1505.5h0M894.9 1519.4h0M890.0 1485.5h0M859.4 1504.0h0M882.0 1502.7h0M907.6 1500.1h0M876.4 1495.6h0M916.5 1496.5h0M914.8 1499.0h0M867.4 1500.1h0M883.6 1529.2h0M900.6 1503.9h0M907.7 1491.8h0M908.0 1517.8h0M907.4 1524.4h0M904.2 1526.3h0M898.1 1524.0h0M875.1 1502.6h0M883.8 1491.9h0M872.9 1483.7h0M903.0 1488.1h0M879.5 1508.6h0M894.7 1529.9h0M907.9 1519.0h0M864.4 1516.8h0M894.9 1529.8h0M872.0 1491.3h0M893.2 1502.1h0M907.4 1500.2h0M892.2 1494.9h0M901.3 1478.2h0M880.7 1498.8h0M881.7 1489.6h0M901.1 1520.4h0M868.2 1498.3h0M875.9 1531.2h0M885.9 1479.2h0M893.3 1514.5h0M878.4 1479.5h0M893.6 1507.0h0M896.3 1531.8h0M916.0 1501.8h0M873.4 1525.9h0M884.9 1492.7h0M886.0 1492.9h0M867.2 1507.5h0M877.8 1506.7h0M885.3 1474.7h0M881.7 1492.2h0M895.2 1489.6h0M879.4 1492.3h0M909.3 1493.9h0M899.3 1493.9h0M907.5 1516.7h0M881.5 1525.8h0M863.0 1509.3h0M906.9 1522.4h0M866.0 1511.7h0M910.8 1515.2h0M878.7 1517.7h0M883.2 1510.1h0M878.9 1479.6h0M896.5 1496.9h0M872.4 1509.9h0M884.3 1507.3h0M878.4 1499.6h0M893.2 1506.1h0M887.3 1519.3h0M886.9 1519.3h0M903.1 1494.1h0M870.4 1513.2h0M882.6 1512.0h0M897.8 1498.9h0M878.8 1525.0h0M880.6 1525.0h0M885.1 1501.6h0M906.4 1502.4h0M905.2 1497.0h0M904.2 1525.2h0M892.2 1523.1h0M867.6 1496.1h0M908.4 1487.8h0M893.5 1503.7h0M867.3 1509.2h0M871.4 1522.5h0M879.6 1516.3h0M900.8 1530.5h0M914.0 1498.7h0M906.1 1500.0h0M862.2 1497.2h0M910.3 1498.7h0M866.7 1487.5h0M916.1 1505.3h0M880.8 1505.8h0M892.1 1498.9h0M895.1 1503.6h0M887.2 1483.6h0M890.3 1519.3h0M868.2 1511.4h0M897.5 1526.7h0M900.8 1514.7h0M875.0 1513.4h0M878.5 1523.8h0M867.0 1495.5h0M882.8 1529.4h0M891.8 1479.5h0M875.3 1503.6h0M904.9 1509.9h0M889.1 1518.4h0M901.2 1519.6h0M870.2 1494.1h0M900.6 1497.7h0M883.3 1503.5h0M868.4 1507.4h0M867.2 1500.2h0M912.2 1499.4h0M909.4 1508.7h0M878.6 1513.1h0M914.6 1502.8h0M870.5 1507.2h0M888.3 1491.6h0M895.0 1519.6h0M889.4 1501.4h0M887.3 1517.2h0M894.1 1514.3h0M888.9 1475.2h0M902.1 1503.7h0M871.3 1498.9h0M896.3 1530.0h0M879.8 1509.0h0M908.5 1485.3h0M895.1 1477.8h0M898.7 1514.7h0M879.2 1527.1h0M905.6 1514.0h0M900.1 1510.9h0M880.2 1514.8h0M908.2 1493.1h0M897.1 1523.5h0M866.6 1508.1h0M888.5 1528.6h0M878.6 1514.4h0M909.9 1507.8h0M880.3 1507.5h0M862.1 1518.7h0M872.8 1485.3h0M908.0 1524.5h0M888.1 1506.1h0M899.4 1490.6h0M907.5 1511.1h0M888.9 1518.5h0M859.5 1493.0h0M879.5 1517.7h0M888.8 1512.6h0M875.8 1489.1h0M902.9 1478.1h0M905.3 1510.8h0M872.8 1528.2h0M859.5 1502.5h0M899.6 1509.1h0M912.3 1505.3h0M906.8 1487.9h0M889.5 1497.0h0M874.6 1526.3h0M893.7 1531.4h0M905.7 1507.3h0M894.2 1513.2h0M883.0 1526.7h0M897.7 1524.8h0M912.4 1499.3h0M859.8 1497.5h0M881.9 1492.4h0M892.0 1486.1h0M872.1 1512.0h0M862.0 1489.5h0" stroke="#E8E0DA" stroke-opacity="0.8" stroke-width="1.35" stroke-linecap="round"/>
<text x="902.6" y="1488.4" font-size="23.5" fill="#D40808" text-anchor="middle" textLength="10.0" lengthAdjust="spacingAndGlyphs" stroke="#D40808" stroke-width="0.6">1</text>
<rect x="934.0" y="1464.7" width="77.9" height="77.8" fill="#050505" stroke="none" stroke-width="0"/>
<linearGradient id="pg57" x1="0.15" y1="0.1" x2="0.85" y2="0.95"><stop offset="0" stop-color="#787E8C"/><stop offset="0.55" stop-color="#6A7080"/><stop offset="1" stop-color="#444853"/></linearGradient>
<circle cx="973.0" cy="1503.6" r="37.9" fill="#5E5650" stroke="none" stroke-width="0"/>
<circle cx="973.0" cy="1503.6" r="37.3" fill="none" stroke="#D8C4AC" stroke-width="1.1" stroke-opacity="0.75"/>
<circle cx="973.0" cy="1503.6" r="35.5" fill="none" stroke="#C8A878" stroke-width="1.4" stroke-dasharray="0.9 1.8 1.4 3.2 0.7 2.5 1.1 4" stroke-opacity="0.7"/>
<circle cx="973.0" cy="1503.6" r="34.3" fill="none" stroke="#D0C0B0" stroke-width="0.8" stroke-opacity="0.5"/>
<circle cx="973.0" cy="1503.6" r="33.5" fill="url(#pg57)" stroke="none" stroke-width="0"/>
<circle cx="973.0" cy="1503.6" r="33.2" fill="none" stroke="#A8B4CC" stroke-width="1.2" stroke-opacity="0.8"/>
<circle cx="973.0" cy="1503.6" r="30.7" fill="none" stroke="#B0B8C8" stroke-width="0.8" stroke-opacity="0.35"/>
<path d="M972.2 1527.2h0M957.6 1494.9h0M956.1 1482.8h0M976.7 1496.1h0M950.7 1499.8h0M944.7 1497.2h0M977.5 1513.5h0M949.0 1521.2h0M997.4 1488.5h0M951.9 1519.0h0M958.9 1480.9h0M992.8 1510.8h0M957.4 1522.3h0M997.0 1515.2h0M971.3 1483.7h0M962.8 1512.2h0M995.9 1520.6h0M963.2 1475.7h0M946.6 1497.5h0M973.9 1526.0h0M982.5 1479.6h0M960.9 1516.6h0M970.9 1511.8h0M979.3 1527.0h0M973.6 1521.4h0M998.5 1510.8h0M969.7 1531.8h0M970.2 1486.5h0M960.5 1484.4h0M987.3 1507.8h0M977.4 1481.2h0M980.5 1532.7h0M953.9 1503.5h0M993.0 1486.8h0M1000.0 1510.1h0M982.3 1484.4h0M968.7 1519.8h0M976.8 1521.0h0M956.8 1510.7h0M1000.4 1510.7h0M982.5 1482.7h0M955.2 1496.4h0M992.0 1481.4h0M989.3 1514.1h0M975.8 1515.4h0M969.3 1477.8h0M953.6 1497.3h0M950.3 1496.9h0M950.6 1523.9h0M958.1 1480.6h0M950.1 1517.8h0M972.1 1528.9h0M984.0 1525.1h0M988.3 1525.7h0M957.3 1504.2h0M955.6 1525.6h0M951.0 1516.5h0M956.0 1511.1h0M961.7 1517.9h0M984.6 1520.2h0M984.4 1516.3h0M981.3 1509.3h0M983.4 1508.1h0M984.3 1486.3h0M971.5 1523.3h0M947.0 1502.8h0M952.3 1508.9h0M960.3 1516.4h0M959.0 1504.9h0M958.8 1503.5h0M979.1 1494.6h0M978.2 1518.3h0M976.7 1502.2h0M986.9 1517.0h0M997.8 1504.8h0M951.2 1499.3h0M955.5 1520.8h0M954.4 1521.2h0M959.6 1485.7h0M943.3 1507.8h0M964.0 1491.9h0M957.3 1492.3h0M991.0 1492.0h0M968.8 1515.2h0M992.1 1497.0h0M976.8 1482.7h0M945.2 1510.5h0M978.2 1512.8h0M978.4 1525.1h0M1000.1 1507.0h0M965.7 1502.8h0M969.6 1530.3h0M968.9 1508.2h0M980.1 1518.4h0M971.7 1499.6h0M985.0 1499.0h0M985.0 1481.3h0M960.6 1516.6h0M978.0 1480.7h0M982.2 1494.6h0M996.7 1509.7h0M967.5 1524.8h0M973.6 1507.6h0M964.8 1514.2h0M953.6 1498.5h0M964.3 1527.1h0M965.6 1494.1h0M960.7 1525.3h0M988.2 1518.6h0M987.7 1516.7h0M951.2 1482.7h0M976.4 1516.7h0M957.7 1528.2h0M992.6 1495.8h0M986.9 1493.3h0M957.7 1477.8h0M1000.9 1513.1h0M969.7 1496.7h0M977.7 1474.7h0M960.7 1496.9h0M989.6 1483.6h0M994.8 1492.1h0M955.0 1509.1h0M979.2 1505.3h0M992.3 1485.4h0M962.2 1485.8h0M965.8 1483.5h0M961.3 1488.0h0M976.0 1520.8h0M990.5 1504.7h0M980.5 1495.7h0M976.9 1480.5h0M948.7 1487.7h0M990.0 1493.3h0M999.9 1499.5h0M995.4 1509.1h0M954.4 1525.8h0M981.0 1532.8h0M973.2 1476.5h0M1000.6 1502.9h0M972.4 1528.7h0M991.6 1480.3h0M952.4 1496.8h0M955.7 1500.2h0M970.3 1487.8h0M964.9 1506.7h0M977.7 1516.5h0M989.3 1495.9h0M990.0 1506.2h0M987.6 1524.1h0M959.7 1485.8h0M947.3 1500.1h0M983.0 1519.3h0M992.9 1503.2h0M964.6 1478.3h0M969.6 1512.2h0M982.5 1492.2h0M982.8 1477.6h0M956.4 1488.2h0M981.8 1484.8h0M961.4 1520.6h0M950.6 1497.5h0M973.0 1530.5h0M962.6 1527.3h0M979.3 1476.1h0M995.9 1489.2h0M984.3 1515.5h0M951.7 1503.8h0M968.7 1490.1h0M989.2 1482.9h0M969.9 1478.2h0M969.1 1520.6h0M958.5 1495.3h0M997.1 1515.6h0M978.4 1498.9h0M968.9 1503.6h0M965.3 1517.2h0M989.2 1513.2h0M985.2 1509.5h0M997.0 1511.4h0M961.8 1512.5h0M957.3 1501.7h0M1002.1 1504.9h0M992.7 1509.4h0M997.9 1514.0h0M1001.2 1500.2h0M994.1 1512.9h0M947.4 1495.6h0M981.3 1524.4h0M982.1 1491.8h0M976.5 1489.2h0M969.8 1501.5h0M951.2 1507.6h0M955.2 1479.2h0M961.3 1508.1h0M953.4 1525.6h0M956.4 1481.6h0M982.7 1478.2h0M979.4 1517.9h0M958.2 1502.4h0M995.5 1515.8h0M1000.9 1504.5h0M976.7 1530.1h0M972.6 1524.9h0M992.9 1506.3h0M948.6 1509.1h0M975.4 1521.6h0M958.8 1527.8h0" stroke="#E8E0DA" stroke-opacity="0.8" stroke-width="1.35" stroke-linecap="round"/>
<text x="987.8" y="1488.4" font-size="23.5" fill="#D40808" text-anchor="middle" textLength="10.0" lengthAdjust="spacingAndGlyphs" stroke="#D40808" stroke-width="0.6">1</text>
<rect x="1017.2" y="1464.7" width="78.8" height="77.8" fill="#050505" stroke="none" stroke-width="0"/>
<linearGradient id="pg58" x1="0.15" y1="0.1" x2="0.85" y2="0.95"><stop offset="0" stop-color="#5C6A85"/><stop offset="0.55" stop-color="#4A5A78"/><stop offset="1" stop-color="#303A4E"/></linearGradient>
<circle cx="1056.6" cy="1503.6" r="37.9" fill="#5E5650" stroke="none" stroke-width="0"/>
<circle cx="1056.6" cy="1503.6" r="37.3" fill="none" stroke="#D8C4AC" stroke-width="1.1" stroke-opacity="0.75"/>
<circle cx="1056.6" cy="1503.6" r="35.5" fill="none" stroke="#C8A878" stroke-width="1.4" stroke-dasharray="0.9 1.8 1.4 3.2 0.7 2.5 1.1 4" stroke-opacity="0.7"/>
<circle cx="1056.6" cy="1503.6" r="34.3" fill="none" stroke="#D0C0B0" stroke-width="0.8" stroke-opacity="0.5"/>
<circle cx="1056.6" cy="1503.6" r="33.5" fill="url(#pg58)" stroke="none" stroke-width="0"/>
<circle cx="1056.6" cy="1503.6" r="33.2" fill="none" stroke="#A8B4CC" stroke-width="1.2" stroke-opacity="0.8"/>
<circle cx="1056.6" cy="1503.6" r="30.7" fill="none" stroke="#B0B8C8" stroke-width="0.8" stroke-opacity="0.35"/>
<path d="M1063.4 1486.9h0M1040.3 1522.8h0M1031.7 1486.8h0M1068.3 1526.1h0M1050.0 1496.3h0M1044.3 1515.0h0M1032.4 1502.1h0M1036.5 1525.3h0M1065.5 1517.4h0M1046.3 1493.8h0M1082.9 1508.0h0M1062.3 1488.0h0M1047.2 1526.1h0M1059.6 1504.3h0M1072.7 1519.2h0M1069.8 1481.7h0M1064.4 1495.7h0M1082.7 1515.9h0M1055.1 1505.5h0M1036.0 1490.0h0M1065.3 1490.8h0M1052.4 1476.0h0M1045.8 1529.4h0M1071.8 1513.4h0M1068.2 1515.7h0M1069.6 1485.4h0M1050.8 1494.2h0M1049.3 1518.7h0M1033.9 1487.7h0M1080.3 1502.8h0M1045.2 1506.9h0M1050.0 1477.9h0M1075.7 1509.8h0M1044.1 1485.6h0M1060.0 1518.6h0M1066.5 1530.0h0M1060.2 1494.1h0M1045.9 1498.4h0M1057.9 1528.3h0M1043.4 1519.8h0M1044.7 1511.4h0M1040.6 1497.9h0M1040.8 1518.6h0M1055.0 1523.9h0M1045.2 1504.5h0M1079.7 1492.3h0M1081.6 1509.7h0M1072.7 1486.4h0M1084.3 1505.4h0M1072.5 1526.2h0M1039.3 1510.1h0M1063.4 1522.6h0M1055.8 1524.9h0M1053.5 1514.5h0M1053.7 1491.6h0M1028.9 1491.9h0M1070.3 1515.0h0M1049.5 1530.9h0M1044.5 1507.5h0M1051.2 1478.6h0M1053.0 1531.1h0M1071.5 1492.0h0M1054.1 1518.6h0M1061.7 1493.7h0M1049.8 1530.5h0M1060.9 1508.6h0M1063.3 1520.1h0M1055.7 1501.1h0M1047.1 1499.3h0M1059.8 1487.4h0M1033.8 1492.1h0M1059.2 1482.1h0M1028.9 1499.2h0M1060.2 1520.1h0M1059.8 1510.6h0M1048.1 1478.5h0M1075.1 1526.4h0M1077.4 1505.4h0M1047.2 1507.5h0M1041.2 1500.2h0M1074.0 1504.3h0M1057.6 1515.3h0M1084.7 1505.3h0M1080.9 1493.8h0M1041.7 1493.6h0M1048.3 1488.9h0M1053.8 1490.6h0M1039.7 1527.3h0M1049.6 1496.7h0M1036.0 1525.5h0M1079.4 1488.5h0" stroke="#E8E0DA" stroke-opacity="0.8" stroke-width="1.35" stroke-linecap="round"/>
<text x="1071.6" y="1488.4" font-size="23.5" fill="#D40808" text-anchor="middle" textLength="10.0" lengthAdjust="spacingAndGlyphs" stroke="#D40808" stroke-width="0.6">1</text>
<rect x="1100.3" y="1464.7" width="78.9" height="77.8" fill="#050505" stroke="none" stroke-width="0"/>
<linearGradient id="pg59" x1="0.15" y1="0.1" x2="0.85" y2="0.95"><stop offset="0" stop-color="#5C6A87"/><stop offset="0.55" stop-color="#4A5A7A"/><stop offset="1" stop-color="#303A4F"/></linearGradient>
<circle cx="1139.8" cy="1503.6" r="37.9" fill="#5E5650" stroke="none" stroke-width="0"/>
<circle cx="1139.8" cy="1503.6" r="37.3" fill="none" stroke="#D8C4AC" stroke-width="1.1" stroke-opacity="0.75"/>
<circle cx="1139.8" cy="1503.6" r="35.5" fill="none" stroke="#C8A878" stroke-width="1.4" stroke-dasharray="0.9 1.8 1.4 3.2 0.7 2.5 1.1 4" stroke-opacity="0.7"/>
<circle cx="1139.8" cy="1503.6" r="34.3" fill="none" stroke="#D0C0B0" stroke-width="0.8" stroke-opacity="0.5"/>
<circle cx="1139.8" cy="1503.6" r="33.5" fill="url(#pg59)" stroke="none" stroke-width="0"/>
<circle cx="1139.8" cy="1503.6" r="33.2" fill="none" stroke="#A8B4CC" stroke-width="1.2" stroke-opacity="0.8"/>
<circle cx="1139.8" cy="1503.6" r="30.7" fill="none" stroke="#B0B8C8" stroke-width="0.8" stroke-opacity="0.35"/>
<path d="M1134.8 1520.1h0M1129.4 1511.7h0M1148.3 1477.1h0M1116.3 1507.1h0M1146.1 1516.6h0M1141.7 1475.2h0M1147.7 1476.5h0M1149.3 1478.5h0M1128.5 1521.5h0M1117.9 1509.2h0M1156.4 1526.6h0M1152.1 1504.9h0M1129.2 1506.9h0M1163.6 1492.1h0M1125.0 1515.4h0M1163.0 1504.5h0M1152.2 1482.7h0M1150.7 1494.9h0M1154.4 1500.8h0M1120.8 1504.5h0M1136.2 1520.4h0M1128.6 1480.9h0M1117.8 1516.5h0M1165.1 1510.7h0M1135.9 1521.0h0M1131.8 1480.0h0M1119.8 1501.6h0M1136.8 1510.3h0M1132.7 1498.9h0M1138.4 1511.4h0M1124.9 1526.7h0M1121.1 1487.4h0" stroke="#E8E0DA" stroke-opacity="0.8" stroke-width="1.35" stroke-linecap="round"/>
<text x="1154.7" y="1488.4" font-size="23.5" fill="#D40808" text-anchor="middle" textLength="10.0" lengthAdjust="spacingAndGlyphs" stroke="#D40808" stroke-width="0.6">1</text>
<rect x="1184.5" y="1464.7" width="78.5" height="77.8" fill="#050505" stroke="none" stroke-width="0"/>
<linearGradient id="pg60" x1="0.15" y1="0.1" x2="0.85" y2="0.95"><stop offset="0" stop-color="#424B61"/><stop offset="0.55" stop-color="#2E3850"/><stop offset="1" stop-color="#1D2434"/></linearGradient>
<circle cx="1223.8" cy="1503.6" r="37.9" fill="#5E5650" stroke="none" stroke-width="0"/>
<circle cx="1223.8" cy="1503.6" r="37.3" fill="none" stroke="#D8C4AC" stroke-width="1.1" stroke-opacity="0.75"/>
<circle cx="1223.8" cy="1503.6" r="35.5" fill="none" stroke="#C8A878" stroke-width="1.4" stroke-dasharray="0.9 1.8 1.4 3.2 0.7 2.5 1.1 4" stroke-opacity="0.7"/>
<circle cx="1223.8" cy="1503.6" r="34.3" fill="none" stroke="#D0C0B0" stroke-width="0.8" stroke-opacity="0.5"/>
<circle cx="1223.8" cy="1503.6" r="33.5" fill="url(#pg60)" stroke="none" stroke-width="0"/>
<circle cx="1223.8" cy="1503.6" r="33.2" fill="none" stroke="#A8B4CC" stroke-width="1.2" stroke-opacity="0.8"/>
<circle cx="1223.8" cy="1503.6" r="30.7" fill="none" stroke="#B0B8C8" stroke-width="0.8" stroke-opacity="0.35"/>
<path d="M1217.3 1514.1h0M1208.2 1524.3h0M1231.2 1474.4h0M1236.8 1496.3h0M1195.5 1514.0h0M1206.7 1497.9h0" stroke="#E8E0DA" stroke-opacity="0.8" stroke-width="1.35" stroke-linecap="round"/>
<text x="1238.7" y="1488.4" font-size="23.5" fill="#D40808" text-anchor="middle" textLength="10.0" lengthAdjust="spacingAndGlyphs" stroke="#D40808" stroke-width="0.6">1</text>
<rect x="763.4" y="1545.0" width="78.6" height="77.9" fill="#1E2636" stroke="none" stroke-width="0"/>
<linearGradient id="pg61" x1="0.15" y1="0.1" x2="0.85" y2="0.95"><stop offset="0" stop-color="#6F7889"/><stop offset="0.55" stop-color="#606A7C"/><stop offset="1" stop-color="#3E4450"/></linearGradient>
<circle cx="802.7" cy="1584.0" r="38.0" fill="#5E5650" stroke="none" stroke-width="0"/>
<circle cx="802.7" cy="1584.0" r="37.4" fill="none" stroke="#D8C4AC" stroke-width="1.1" stroke-opacity="0.75"/>
<circle cx="802.7" cy="1584.0" r="35.6" fill="none" stroke="#C8A878" stroke-width="1.4" stroke-dasharray="0.9 1.8 1.4 3.2 0.7 2.5 1.1 4" stroke-opacity="0.7"/>
<circle cx="802.7" cy="1584.0" r="34.4" fill="none" stroke="#D0C0B0" stroke-width="0.8" stroke-opacity="0.5"/>
<circle cx="802.7" cy="1584.0" r="33.6" fill="url(#pg61)" stroke="none" stroke-width="0"/>
<circle cx="802.7" cy="1584.0" r="33.3" fill="none" stroke="#A8B4CC" stroke-width="1.2" stroke-opacity="0.8"/>
<circle cx="802.7" cy="1584.0" r="30.8" fill="none" stroke="#B0B8C8" stroke-width="0.8" stroke-opacity="0.35"/>
<text x="817.6" y="1569.0" font-size="23.5" fill="#D40808" text-anchor="middle" textLength="10.0" lengthAdjust="spacingAndGlyphs" stroke="#D40808" stroke-width="0.6">1</text>
<rect x="848.4" y="1545.0" width="78.6" height="77.9" fill="#050505" stroke="none" stroke-width="0"/>
<linearGradient id="pg62" x1="0.15" y1="0.1" x2="0.85" y2="0.95"><stop offset="0" stop-color="#9595A2"/><stop offset="0.55" stop-color="#8A8A98"/><stop offset="1" stop-color="#595962"/></linearGradient>
<circle cx="887.7" cy="1584.0" r="38.0" fill="#5E5650" stroke="none" stroke-width="0"/>
<circle cx="887.7" cy="1584.0" r="37.4" fill="none" stroke="#D8C4AC" stroke-width="1.1" stroke-opacity="0.75"/>
<circle cx="887.7" cy="1584.0" r="35.6" fill="none" stroke="#C8A878" stroke-width="1.4" stroke-dasharray="0.9 1.8 1.4 3.2 0.7 2.5 1.1 4" stroke-opacity="0.7"/>
<circle cx="887.7" cy="1584.0" r="34.4" fill="none" stroke="#D0C0B0" stroke-width="0.8" stroke-opacity="0.5"/>
<circle cx="887.7" cy="1584.0" r="33.6" fill="url(#pg62)" stroke="none" stroke-width="0"/>
<circle cx="887.7" cy="1584.0" r="33.3" fill="none" stroke="#A8B4CC" stroke-width="1.2" stroke-opacity="0.8"/>
<circle cx="887.7" cy="1584.0" r="30.8" fill="none" stroke="#B0B8C8" stroke-width="0.8" stroke-opacity="0.35"/>
<path d="M888.8 1587.0h0M871.2 1608.3h0M896.0 1582.7h0M903.2 1596.2h0M911.2 1583.2h0M860.2 1596.8h0M886.4 1591.4h0M861.8 1582.4h0M905.4 1607.8h0M907.8 1601.0h0M889.3 1613.6h0M881.7 1566.3h0M878.5 1596.0h0M889.7 1578.9h0M884.1 1603.0h0M867.3 1576.7h0M904.5 1593.8h0M914.2 1589.9h0M870.7 1589.4h0M905.4 1605.9h0M888.3 1584.7h0M872.0 1573.1h0M890.8 1610.1h0M893.9 1612.5h0M891.0 1554.8h0M868.1 1596.9h0M879.5 1586.8h0M890.2 1603.8h0M886.8 1603.8h0M870.7 1578.8h0M890.8 1602.9h0M896.3 1611.0h0M870.2 1580.5h0M873.8 1578.1h0M879.0 1589.9h0M893.9 1561.7h0M892.0 1573.5h0M861.7 1583.5h0M900.7 1577.3h0M860.1 1579.5h0M908.5 1575.2h0M877.8 1567.5h0M898.1 1562.0h0M907.9 1591.3h0M899.7 1608.4h0M881.9 1583.9h0M881.1 1561.3h0M871.6 1565.6h0M916.7 1583.5h0M906.2 1601.8h0M899.4 1556.8h0M896.8 1611.1h0M916.7 1578.4h0M858.2 1580.5h0M882.2 1588.4h0M886.5 1608.8h0M861.1 1587.9h0M885.6 1597.9h0M874.5 1570.5h0M901.9 1577.1h0M896.3 1596.4h0M906.5 1585.9h0M894.6 1597.3h0M872.5 1592.5h0M880.6 1605.7h0M893.3 1582.7h0M862.4 1593.8h0M891.5 1567.9h0M884.2 1583.3h0M910.3 1582.7h0M898.5 1569.6h0M875.1 1581.7h0M907.3 1581.7h0M861.9 1588.1h0M878.2 1602.6h0M892.3 1567.1h0M899.9 1579.1h0M896.1 1561.7h0M858.6 1591.2h0M889.8 1577.7h0M890.7 1565.5h0M883.4 1565.7h0M898.4 1601.4h0M877.9 1578.1h0M879.8 1558.9h0M907.0 1597.2h0M897.3 1585.9h0M864.8 1578.5h0M908.4 1597.0h0M866.7 1568.4h0M867.0 1595.8h0M880.8 1580.8h0M907.7 1601.8h0M904.5 1593.0h0M899.4 1604.5h0M859.8 1590.0h0M911.4 1591.0h0M880.2 1605.9h0M891.6 1560.0h0M891.8 1572.3h0M910.1 1569.5h0M881.9 1589.1h0M873.7 1604.6h0M879.4 1559.4h0M869.0 1576.1h0M867.3 1593.9h0M907.0 1563.5h0M906.0 1606.3h0M891.3 1611.4h0M898.1 1599.4h0M910.9 1590.1h0M870.8 1571.5h0M889.6 1610.0h0M893.9 1595.7h0M870.6 1607.1h0M873.6 1582.9h0M888.6 1593.9h0M886.7 1595.4h0M897.7 1572.8h0M896.5 1600.0h0M881.8 1609.9h0M910.3 1593.3h0M908.3 1584.1h0M869.1 1562.1h0M912.8 1569.7h0M875.0 1595.4h0M913.5 1596.9h0M891.3 1602.8h0M895.3 1606.3h0M878.7 1587.0h0M864.2 1589.7h0M884.7 1572.0h0M891.5 1555.2h0M898.5 1600.1h0M913.7 1583.0h0M864.8 1588.6h0M910.8 1569.6h0M888.0 1555.7h0M903.4 1591.0h0M896.4 1591.9h0M907.5 1564.7h0M872.8 1600.0h0M873.6 1564.0h0M889.4 1583.3h0M858.4 1585.0h0M893.2 1605.0h0M885.4 1602.4h0M889.6 1554.1h0M894.7 1556.1h0M876.0 1584.1h0M879.7 1559.6h0M897.1 1570.1h0M891.5 1608.9h0M885.0 1561.1h0M913.7 1589.5h0M881.6 1567.3h0M880.1 1578.2h0M869.6 1581.6h0M901.3 1562.5h0M911.2 1585.3h0M886.9 1611.5h0M883.8 1559.5h0M895.4 1592.0h0M900.6 1610.9h0M895.3 1604.0h0M891.7 1575.8h0M868.7 1567.8h0M872.5 1588.9h0M891.5 1597.5h0M891.9 1589.7h0M876.0 1604.1h0M870.3 1569.9h0M880.3 1585.8h0M871.8 1584.1h0M879.4 1604.0h0M907.3 1592.9h0M874.8 1585.7h0M906.2 1571.3h0M882.0 1608.0h0M898.1 1589.3h0M860.2 1591.3h0M892.2 1586.6h0M879.4 1568.0h0M909.4 1575.5h0M907.2 1580.2h0M883.0 1579.8h0M899.6 1587.2h0M902.2 1592.7h0M873.9 1605.2h0M867.0 1593.5h0M872.0 1606.3h0M914.1 1580.9h0M895.9 1601.5h0M871.5 1564.9h0M873.3 1609.6h0M902.1 1557.5h0M866.4 1592.3h0M894.7 1587.5h0M866.1 1585.9h0M882.9 1579.9h0M880.0 1558.7h0M887.2 1614.2h0M887.3 1595.2h0M899.0 1575.3h0M899.9 1601.8h0M910.3 1570.9h0M914.8 1588.5h0M868.7 1586.6h0M882.6 1584.3h0M876.4 1601.3h0M883.5 1612.1h0M906.1 1579.8h0M911.9 1570.4h0M907.6 1583.2h0M891.3 1582.8h0M866.2 1564.5h0M869.4 1563.7h0M891.2 1559.1h0M906.5 1607.6h0M888.4 1608.5h0M863.7 1592.2h0M898.7 1600.3h0M880.0 1564.5h0M889.3 1588.5h0M886.1 1577.4h0M897.7 1556.6h0M868.8 1562.5h0M914.2 1573.2h0M883.5 1588.4h0M882.2 1591.4h0M889.2 1607.7h0M882.6 1558.4h0M914.9 1595.0h0M866.2 1603.6h0M899.0 1563.1h0M890.8 1613.1h0M885.4 1614.0h0M875.1 1560.6h0M910.5 1601.3h0M884.0 1602.6h0M896.5 1572.8h0M867.8 1582.9h0M911.9 1572.3h0M870.0 1581.1h0M882.0 1565.9h0M887.2 1605.2h0M883.0 1609.6h0M871.7 1597.6h0M879.3 1604.7h0M866.5 1573.7h0M903.6 1600.1h0M876.5 1590.8h0M880.9 1585.1h0M895.3 1573.0h0M870.1 1561.0h0M890.1 1584.7h0M911.9 1582.2h0M887.8 1567.4h0M907.2 1575.6h0M873.8 1586.7h0M910.4 1572.0h0M885.8 1559.2h0M880.6 1610.7h0M880.6 1587.0h0M909.1 1570.6h0M878.7 1594.8h0M877.6 1588.5h0M892.1 1578.5h0M873.4 1610.1h0M890.8 1563.6h0M873.4 1583.8h0M874.9 1565.6h0M882.6 1598.0h0M879.9 1609.8h0M894.7 1556.9h0M901.5 1575.0h0M898.2 1593.1h0M902.1 1609.5h0M888.8 1567.2h0M882.6 1583.9h0M868.9 1563.1h0M905.7 1599.8h0M896.2 1600.0h0M861.9 1585.3h0M872.2 1603.5h0M891.5 1599.1h0M872.2 1582.0h0M894.9 1589.2h0M902.3 1557.9h0M869.9 1561.5h0M874.4 1610.9h0M917.6 1581.1h0M911.6 1592.4h0M914.0 1574.2h0M860.1 1591.2h0M903.7 1567.4h0M894.6 1594.7h0M864.8 1574.5h0M893.3 1584.1h0M910.0 1599.0h0M905.7 1573.4h0M902.0 1576.2h0M908.4 1576.3h0M913.3 1582.2h0M879.4 1613.1h0M908.7 1571.1h0M887.6 1587.1h0M893.5 1562.9h0M869.3 1591.9h0M896.9 1593.8h0M895.7 1588.7h0M908.4 1567.1h0" stroke="#E8E0DA" stroke-opacity="0.8" stroke-width="1.35" stroke-linecap="round"/>
<text x="896.3" y="1571.5" font-size="22" fill="#D40808" text-anchor="middle" textLength="42.0" lengthAdjust="spacingAndGlyphs" stroke="#D40808" stroke-width="0.5">1/10</text>
<rect x="934.0" y="1545.0" width="77.9" height="77.9" fill="#050505" stroke="none" stroke-width="0"/>
<linearGradient id="pg63" x1="0.15" y1="0.1" x2="0.85" y2="0.95"><stop offset="0" stop-color="#515C71"/><stop offset="0.55" stop-color="#3E4A62"/><stop offset="1" stop-color="#28303F"/></linearGradient>
<circle cx="973.0" cy="1584.0" r="37.9" fill="#5E5650" stroke="none" stroke-width="0"/>
<circle cx="973.0" cy="1584.0" r="37.3" fill="none" stroke="#D8C4AC" stroke-width="1.1" stroke-opacity="0.75"/>
<circle cx="973.0" cy="1584.0" r="35.5" fill="none" stroke="#C8A878" stroke-width="1.4" stroke-dasharray="0.9 1.8 1.4 3.2 0.7 2.5 1.1 4" stroke-opacity="0.7"/>
<circle cx="973.0" cy="1584.0" r="34.3" fill="none" stroke="#D0C0B0" stroke-width="0.8" stroke-opacity="0.5"/>
<circle cx="973.0" cy="1584.0" r="33.5" fill="url(#pg63)" stroke="none" stroke-width="0"/>
<circle cx="973.0" cy="1584.0" r="33.2" fill="none" stroke="#A8B4CC" stroke-width="1.2" stroke-opacity="0.8"/>
<circle cx="973.0" cy="1584.0" r="30.7" fill="none" stroke="#B0B8C8" stroke-width="0.8" stroke-opacity="0.35"/>
<path d="M955.0 1565.8h0M972.9 1590.7h0M970.5 1564.7h0M968.2 1572.9h0M977.6 1593.1h0M989.4 1570.3h0M951.4 1581.6h0M987.3 1584.1h0M1000.6 1591.4h0M969.8 1569.0h0M976.7 1610.6h0M967.0 1598.8h0M957.5 1569.6h0M954.0 1603.2h0M984.6 1574.9h0M994.6 1594.7h0M980.3 1555.1h0M981.5 1595.8h0M996.5 1590.2h0M972.0 1607.8h0M972.8 1597.0h0M957.7 1598.9h0M979.1 1576.5h0M967.5 1601.9h0M994.2 1589.3h0M970.2 1564.4h0M991.6 1577.7h0M953.0 1589.7h0M976.3 1610.1h0M995.7 1567.2h0M986.1 1563.3h0M978.3 1608.0h0M958.4 1581.8h0M967.6 1599.5h0M986.1 1594.5h0M952.0 1584.6h0M953.0 1578.4h0M948.8 1600.1h0M973.1 1612.7h0M968.9 1609.8h0M980.3 1599.8h0M962.6 1588.1h0M960.2 1606.3h0M943.0 1583.2h0M969.3 1587.0h0M955.6 1608.9h0M952.9 1573.6h0M962.9 1573.7h0M965.7 1602.5h0M963.0 1589.8h0M995.0 1591.4h0M991.1 1587.6h0M969.0 1577.7h0M985.7 1595.5h0M966.8 1583.5h0M971.6 1599.8h0M980.8 1606.6h0M988.8 1589.8h0M966.2 1586.8h0M965.8 1612.6h0M1003.3 1585.0h0M952.9 1562.7h0M970.5 1554.2h0M1001.4 1588.7h0M969.9 1592.1h0M981.3 1583.9h0M1001.5 1591.5h0M963.6 1564.2h0M965.7 1592.6h0M966.4 1573.4h0M971.8 1571.2h0M990.9 1575.7h0M961.7 1604.2h0M958.1 1580.6h0M984.9 1605.3h0M950.8 1566.5h0M988.2 1576.9h0M975.4 1565.5h0M964.4 1567.6h0M984.0 1589.7h0M968.7 1597.7h0M963.6 1581.0h0M975.4 1593.9h0M1001.8 1576.7h0M969.9 1565.9h0M953.5 1589.0h0M978.2 1608.7h0M983.8 1557.3h0M974.6 1598.1h0M950.9 1566.7h0M953.1 1591.1h0M957.3 1602.0h0M979.1 1580.8h0M1002.4 1583.5h0M970.4 1593.9h0M952.9 1588.5h0M989.4 1584.7h0M952.4 1567.8h0M960.8 1578.2h0M979.7 1561.6h0M983.3 1599.5h0M959.4 1593.7h0M994.2 1598.9h0M959.9 1601.0h0M985.2 1557.2h0M971.4 1560.7h0M969.9 1554.2h0M955.8 1564.3h0M974.5 1605.6h0M971.2 1591.7h0M1000.5 1572.5h0M996.1 1571.9h0M974.3 1577.2h0M954.6 1560.2h0M994.2 1562.5h0M947.4 1577.6h0M979.6 1587.9h0M993.8 1567.1h0M961.7 1591.4h0M977.8 1556.2h0M957.1 1569.4h0M956.6 1600.6h0M983.6 1556.4h0M966.5 1579.1h0M974.1 1607.4h0M974.4 1608.7h0M944.4 1591.4h0M953.4 1561.8h0M985.7 1603.9h0M954.0 1582.4h0M988.0 1594.7h0M955.4 1598.1h0M965.5 1566.9h0M962.1 1578.2h0M960.8 1588.4h0M962.8 1603.5h0M977.8 1560.4h0M991.2 1564.2h0M986.9 1563.7h0M994.2 1565.6h0M965.6 1562.9h0M973.3 1570.6h0M967.4 1557.2h0" stroke="#E8E0DA" stroke-opacity="0.8" stroke-width="1.35" stroke-linecap="round"/>
<text x="981.5" y="1571.5" font-size="22" fill="#D40808" text-anchor="middle" textLength="42.0" lengthAdjust="spacingAndGlyphs" stroke="#D40808" stroke-width="0.5">1/10</text>
<rect x="1017.2" y="1545.0" width="78.8" height="77.9" fill="#050505" stroke="none" stroke-width="0"/>
<linearGradient id="pg64" x1="0.15" y1="0.1" x2="0.85" y2="0.95"><stop offset="0" stop-color="#515C75"/><stop offset="0.55" stop-color="#3E4A66"/><stop offset="1" stop-color="#283042"/></linearGradient>
<circle cx="1056.6" cy="1584.0" r="38.0" fill="#5E5650" stroke="none" stroke-width="0"/>
<circle cx="1056.6" cy="1584.0" r="37.4" fill="none" stroke="#D8C4AC" stroke-width="1.1" stroke-opacity="0.75"/>
<circle cx="1056.6" cy="1584.0" r="35.6" fill="none" stroke="#C8A878" stroke-width="1.4" stroke-dasharray="0.9 1.8 1.4 3.2 0.7 2.5 1.1 4" stroke-opacity="0.7"/>
<circle cx="1056.6" cy="1584.0" r="34.4" fill="none" stroke="#D0C0B0" stroke-width="0.8" stroke-opacity="0.5"/>
<circle cx="1056.6" cy="1584.0" r="33.6" fill="url(#pg64)" stroke="none" stroke-width="0"/>
<circle cx="1056.6" cy="1584.0" r="33.3" fill="none" stroke="#A8B4CC" stroke-width="1.2" stroke-opacity="0.8"/>
<circle cx="1056.6" cy="1584.0" r="30.8" fill="none" stroke="#B0B8C8" stroke-width="0.8" stroke-opacity="0.35"/>
<path d="M1059.1 1581.3h0M1061.7 1583.5h0M1080.8 1570.8h0M1047.6 1575.6h0M1034.5 1564.3h0M1070.8 1601.4h0M1030.6 1586.4h0M1063.4 1570.9h0M1035.7 1585.5h0M1066.2 1562.3h0M1030.1 1591.6h0M1055.7 1573.1h0M1061.4 1554.8h0M1080.3 1584.8h0M1075.6 1603.7h0M1070.4 1557.9h0M1050.0 1595.5h0M1059.5 1614.1h0M1072.7 1575.1h0M1069.7 1604.3h0M1071.1 1594.9h0M1067.6 1598.9h0M1058.7 1604.4h0M1056.0 1567.9h0M1039.5 1562.7h0M1038.9 1569.3h0M1053.1 1556.2h0M1049.9 1573.3h0M1072.0 1608.7h0M1064.1 1557.0h0M1048.2 1592.5h0M1035.7 1580.7h0M1038.3 1583.9h0M1077.4 1580.8h0M1068.1 1582.8h0M1073.1 1584.2h0M1065.7 1559.2h0M1076.3 1606.3h0M1062.7 1562.9h0M1044.6 1606.5h0M1068.1 1556.2h0M1072.2 1562.0h0M1063.8 1575.2h0M1051.7 1592.4h0M1070.1 1595.5h0M1047.8 1611.9h0M1073.0 1572.1h0M1044.2 1571.9h0M1042.8 1610.3h0M1039.3 1567.2h0M1046.8 1596.0h0M1078.8 1577.8h0M1032.0 1595.0h0M1048.9 1580.7h0M1081.2 1573.7h0M1050.7 1604.9h0M1041.2 1585.2h0M1057.2 1610.9h0M1046.0 1565.5h0M1050.6 1564.3h0M1053.0 1580.9h0M1036.5 1584.9h0M1068.3 1594.6h0M1036.8 1574.0h0M1071.2 1604.2h0M1079.1 1595.0h0M1057.4 1582.1h0M1059.7 1573.3h0M1083.0 1590.2h0M1038.1 1589.5h0M1063.6 1608.5h0M1057.0 1603.7h0M1039.0 1575.9h0M1047.6 1593.3h0M1082.6 1579.3h0M1036.0 1578.2h0M1044.1 1594.0h0M1076.7 1602.3h0M1049.7 1590.7h0M1061.7 1578.9h0M1052.4 1556.5h0M1061.5 1570.9h0M1044.9 1587.4h0M1044.6 1591.6h0M1034.4 1581.3h0M1074.5 1581.5h0M1066.9 1562.5h0M1057.6 1611.9h0M1029.6 1586.3h0M1040.7 1562.7h0M1046.9 1555.7h0M1039.9 1570.3h0M1056.3 1562.4h0M1070.7 1608.2h0M1032.3 1596.4h0M1073.8 1599.1h0M1042.2 1606.2h0M1059.6 1562.0h0M1041.8 1558.0h0M1047.8 1607.4h0M1044.7 1575.0h0M1044.4 1563.5h0M1034.6 1602.0h0M1054.6 1568.3h0M1058.0 1588.0h0M1051.9 1570.1h0M1065.9 1611.7h0M1080.2 1580.9h0M1068.9 1556.4h0M1050.7 1564.9h0M1067.2 1584.9h0M1060.8 1556.9h0M1061.5 1589.1h0M1048.3 1589.0h0M1048.1 1608.0h0M1048.0 1579.9h0M1059.2 1582.6h0M1067.3 1602.1h0M1035.5 1576.4h0M1071.7 1580.6h0M1057.3 1575.2h0M1042.7 1600.1h0M1059.5 1585.9h0M1049.9 1595.1h0M1078.1 1584.8h0M1075.9 1573.7h0M1041.1 1603.0h0M1033.4 1602.1h0M1039.7 1580.3h0M1055.4 1575.3h0M1027.6 1590.4h0M1056.4 1578.3h0M1063.1 1564.3h0M1028.2 1589.3h0M1074.0 1578.2h0M1045.8 1598.6h0M1057.0 1556.1h0M1073.4 1588.1h0M1051.7 1555.5h0M1028.8 1584.1h0M1081.3 1576.4h0M1076.8 1595.3h0M1046.5 1598.3h0M1066.2 1606.9h0M1066.2 1569.7h0M1079.6 1566.8h0M1065.9 1570.3h0M1069.6 1581.0h0M1053.0 1595.8h0M1037.4 1599.3h0M1066.4 1592.3h0M1085.1 1585.7h0M1043.8 1603.9h0M1065.0 1558.8h0M1070.9 1585.6h0M1079.0 1596.9h0" stroke="#E8E0DA" stroke-opacity="0.8" stroke-width="1.35" stroke-linecap="round"/>
<text x="1065.3" y="1571.5" font-size="22" fill="#D40808" text-anchor="middle" textLength="42.0" lengthAdjust="spacingAndGlyphs" stroke="#D40808" stroke-width="0.5">1/10</text>
<rect x="1100.3" y="1545.0" width="78.9" height="77.9" fill="#050505" stroke="none" stroke-width="0"/>
<linearGradient id="pg65" x1="0.15" y1="0.1" x2="0.85" y2="0.95"><stop offset="0" stop-color="#788193"/><stop offset="0.55" stop-color="#6A7488"/><stop offset="1" stop-color="#444B58"/></linearGradient>
<circle cx="1139.8" cy="1584.0" r="38.0" fill="#5E5650" stroke="none" stroke-width="0"/>
<circle cx="1139.8" cy="1584.0" r="37.4" fill="none" stroke="#D8C4AC" stroke-width="1.1" stroke-opacity="0.75"/>
<circle cx="1139.8" cy="1584.0" r="35.6" fill="none" stroke="#C8A878" stroke-width="1.4" stroke-dasharray="0.9 1.8 1.4 3.2 0.7 2.5 1.1 4" stroke-opacity="0.7"/>
<circle cx="1139.8" cy="1584.0" r="34.4" fill="none" stroke="#D0C0B0" stroke-width="0.8" stroke-opacity="0.5"/>
<circle cx="1139.8" cy="1584.0" r="33.6" fill="url(#pg65)" stroke="none" stroke-width="0"/>
<circle cx="1139.8" cy="1584.0" r="33.3" fill="none" stroke="#A8B4CC" stroke-width="1.2" stroke-opacity="0.8"/>
<circle cx="1139.8" cy="1584.0" r="30.8" fill="none" stroke="#B0B8C8" stroke-width="0.8" stroke-opacity="0.35"/>
<path d="M1115.1 1571.8h0M1166.8 1581.7h0M1146.1 1560.9h0M1161.9 1565.0h0M1160.8 1572.8h0M1116.0 1580.9h0M1166.8 1596.7h0M1114.7 1575.8h0M1156.3 1570.7h0M1111.3 1574.1h0M1163.7 1586.9h0M1136.3 1560.9h0M1164.3 1570.3h0M1111.8 1594.7h0M1132.7 1557.0h0M1117.7 1595.7h0M1153.0 1574.4h0M1158.4 1590.8h0M1115.4 1577.3h0M1128.6 1577.9h0M1160.6 1587.5h0M1130.0 1569.1h0M1129.1 1565.8h0M1111.9 1593.2h0M1126.2 1566.9h0M1157.1 1585.5h0M1152.5 1592.6h0M1165.4 1574.1h0M1166.3 1594.2h0M1116.8 1591.8h0M1146.7 1564.7h0M1116.0 1592.3h0M1119.3 1582.7h0M1164.8 1579.6h0M1113.7 1581.9h0M1159.4 1585.4h0M1155.2 1578.1h0M1139.1 1590.8h0M1149.2 1607.9h0M1132.6 1583.2h0M1123.3 1589.2h0M1133.0 1582.6h0M1142.0 1562.6h0M1138.3 1592.5h0M1145.9 1579.1h0M1139.4 1609.0h0M1141.1 1605.5h0M1129.8 1577.4h0M1136.1 1608.0h0M1124.8 1593.9h0M1129.2 1590.7h0M1111.4 1581.7h0M1127.3 1607.5h0M1154.2 1567.2h0M1147.0 1604.2h0M1126.6 1601.0h0M1148.3 1590.3h0M1154.0 1568.0h0M1125.1 1579.8h0M1161.5 1581.8h0M1134.7 1588.6h0M1152.3 1585.6h0M1161.4 1566.9h0M1152.9 1596.5h0M1135.7 1590.9h0" stroke="#E8E0DA" stroke-opacity="0.8" stroke-width="1.35" stroke-linecap="round"/>
<text x="1148.4" y="1571.5" font-size="22" fill="#D40808" text-anchor="middle" textLength="42.0" lengthAdjust="spacingAndGlyphs" stroke="#D40808" stroke-width="0.5">1/10</text>
<rect x="1184.5" y="1545.0" width="78.5" height="77.9" fill="#050505" stroke="none" stroke-width="0"/>
<linearGradient id="pg66" x1="0.15" y1="0.1" x2="0.85" y2="0.95"><stop offset="0" stop-color="#2B3248"/><stop offset="0.55" stop-color="#141C34"/><stop offset="1" stop-color="#0D1221"/></linearGradient>
<circle cx="1223.8" cy="1584.0" r="38.0" fill="#5E5650" stroke="none" stroke-width="0"/>
<circle cx="1223.8" cy="1584.0" r="37.4" fill="none" stroke="#D8C4AC" stroke-width="1.1" stroke-opacity="0.75"/>
<circle cx="1223.8" cy="1584.0" r="35.6" fill="none" stroke="#C8A878" stroke-width="1.4" stroke-dasharray="0.9 1.8 1.4 3.2 0.7 2.5 1.1 4" stroke-opacity="0.7"/>
<circle cx="1223.8" cy="1584.0" r="34.4" fill="none" stroke="#D0C0B0" stroke-width="0.8" stroke-opacity="0.5"/>
<circle cx="1223.8" cy="1584.0" r="33.6" fill="url(#pg66)" stroke="none" stroke-width="0"/>
<circle cx="1223.8" cy="1584.0" r="33.3" fill="none" stroke="#A8B4CC" stroke-width="1.2" stroke-opacity="0.8"/>
<circle cx="1223.8" cy="1584.0" r="30.8" fill="none" stroke="#B0B8C8" stroke-width="0.8" stroke-opacity="0.35"/>
<text x="1232.4" y="1571.5" font-size="22" fill="#D40808" text-anchor="middle" textLength="42.0" lengthAdjust="spacingAndGlyphs" stroke="#D40808" stroke-width="0.5">1/10</text>
<rect x="763.4" y="1625.3" width="78.6" height="78.9" fill="#050505" stroke="none" stroke-width="0"/>
<linearGradient id="pg67" x1="0.15" y1="0.1" x2="0.85" y2="0.95"><stop offset="0" stop-color="#8790A2"/><stop offset="0.55" stop-color="#7A8498"/><stop offset="1" stop-color="#4F5562"/></linearGradient>
<circle cx="802.7" cy="1664.8" r="38.3" fill="#5E5650" stroke="none" stroke-width="0"/>
<circle cx="802.7" cy="1664.8" r="37.7" fill="none" stroke="#D8C4AC" stroke-width="1.1" stroke-opacity="0.75"/>
<circle cx="802.7" cy="1664.8" r="35.9" fill="none" stroke="#C8A878" stroke-width="1.4" stroke-dasharray="0.9 1.8 1.4 3.2 0.7 2.5 1.1 4" stroke-opacity="0.7"/>
<circle cx="802.7" cy="1664.8" r="34.7" fill="none" stroke="#D0C0B0" stroke-width="0.8" stroke-opacity="0.5"/>
<circle cx="802.7" cy="1664.8" r="33.9" fill="url(#pg67)" stroke="none" stroke-width="0"/>
<circle cx="802.7" cy="1664.8" r="33.6" fill="none" stroke="#A8B4CC" stroke-width="1.2" stroke-opacity="0.8"/>
<circle cx="802.7" cy="1664.8" r="31.1" fill="none" stroke="#B0B8C8" stroke-width="0.8" stroke-opacity="0.35"/>
<text x="817.6" y="1651.3" font-size="23.5" fill="#D40808" text-anchor="middle" textLength="10.0" lengthAdjust="spacingAndGlyphs" stroke="#D40808" stroke-width="0.6">1</text>
<rect x="848.4" y="1625.3" width="78.6" height="78.9" fill="#050505" stroke="none" stroke-width="0"/>
<linearGradient id="pg68" x1="0.15" y1="0.1" x2="0.85" y2="0.95"><stop offset="0" stop-color="#6A7385"/><stop offset="0.55" stop-color="#5A6478"/><stop offset="1" stop-color="#3A414E"/></linearGradient>
<circle cx="887.7" cy="1664.8" r="38.3" fill="#5E5650" stroke="none" stroke-width="0"/>
<circle cx="887.7" cy="1664.8" r="37.7" fill="none" stroke="#D8C4AC" stroke-width="1.1" stroke-opacity="0.75"/>
<circle cx="887.7" cy="1664.8" r="35.9" fill="none" stroke="#C8A878" stroke-width="1.4" stroke-dasharray="0.9 1.8 1.4 3.2 0.7 2.5 1.1 4" stroke-opacity="0.7"/>
<circle cx="887.7" cy="1664.8" r="34.7" fill="none" stroke="#D0C0B0" stroke-width="0.8" stroke-opacity="0.5"/>
<circle cx="887.7" cy="1664.8" r="33.9" fill="url(#pg68)" stroke="none" stroke-width="0"/>
<circle cx="887.7" cy="1664.8" r="33.6" fill="none" stroke="#A8B4CC" stroke-width="1.2" stroke-opacity="0.8"/>
<circle cx="887.7" cy="1664.8" r="31.1" fill="none" stroke="#B0B8C8" stroke-width="0.8" stroke-opacity="0.35"/>
<path d="M871.0 1639.4h0M883.1 1693.5h0M904.3 1678.4h0M907.0 1665.9h0M914.0 1671.7h0M887.3 1689.7h0M860.4 1677.6h0M862.6 1652.6h0M889.0 1651.5h0M857.1 1664.8h0M896.1 1656.1h0M896.1 1687.3h0M877.1 1656.5h0M884.3 1684.2h0M896.5 1644.7h0M872.5 1652.7h0M884.2 1693.1h0M892.3 1673.5h0M861.9 1672.7h0M905.8 1676.2h0M883.7 1690.9h0M869.3 1650.1h0M872.1 1658.3h0M891.7 1654.1h0M894.6 1642.6h0M916.9 1672.6h0M902.0 1656.0h0M892.9 1690.5h0M870.8 1655.7h0M865.4 1660.9h0M899.7 1669.3h0M878.6 1677.5h0M878.7 1657.2h0M858.7 1662.1h0M902.8 1643.7h0M872.1 1683.8h0M898.9 1650.8h0M882.2 1688.9h0M898.5 1649.9h0" stroke="#E8E0DA" stroke-opacity="0.8" stroke-width="1.35" stroke-linecap="round"/>
<text x="902.6" y="1651.3" font-size="23.5" fill="#D40808" text-anchor="middle" textLength="10.0" lengthAdjust="spacingAndGlyphs" stroke="#D40808" stroke-width="0.6">1</text>
<rect x="934.0" y="1625.3" width="77.9" height="78.9" fill="#050505" stroke="none" stroke-width="0"/>
<linearGradient id="pg69" x1="0.15" y1="0.1" x2="0.85" y2="0.95"><stop offset="0" stop-color="#42516A"/><stop offset="0.55" stop-color="#2E3E5A"/><stop offset="1" stop-color="#1D283A"/></linearGradient>
<circle cx="973.0" cy="1664.8" r="37.9" fill="#5E5650" stroke="none" stroke-width="0"/>
<circle cx="973.0" cy="1664.8" r="37.3" fill="none" stroke="#D8C4AC" stroke-width="1.1" stroke-opacity="0.75"/>
<circle cx="973.0" cy="1664.8" r="35.5" fill="none" stroke="#C8A878" stroke-width="1.4" stroke-dasharray="0.9 1.8 1.4 3.2 0.7 2.5 1.1 4" stroke-opacity="0.7"/>
<circle cx="973.0" cy="1664.8" r="34.3" fill="none" stroke="#D0C0B0" stroke-width="0.8" stroke-opacity="0.5"/>
<circle cx="973.0" cy="1664.8" r="33.5" fill="url(#pg69)" stroke="none" stroke-width="0"/>
<circle cx="973.0" cy="1664.8" r="33.2" fill="none" stroke="#A8B4CC" stroke-width="1.2" stroke-opacity="0.8"/>
<circle cx="973.0" cy="1664.8" r="30.7" fill="none" stroke="#B0B8C8" stroke-width="0.8" stroke-opacity="0.35"/>
<text x="987.8" y="1651.3" font-size="23.5" fill="#D40808" text-anchor="middle" textLength="10.0" lengthAdjust="spacingAndGlyphs" stroke="#D40808" stroke-width="0.6">1</text>
<rect x="1017.2" y="1625.3" width="78.8" height="78.9" fill="#050505" stroke="none" stroke-width="0"/>
<linearGradient id="pg70" x1="0.15" y1="0.1" x2="0.85" y2="0.95"><stop offset="0" stop-color="#424F6A"/><stop offset="0.55" stop-color="#2E3C5A"/><stop offset="1" stop-color="#1D273A"/></linearGradient>
<circle cx="1056.6" cy="1664.8" r="38.4" fill="#5E5650" stroke="none" stroke-width="0"/>
<circle cx="1056.6" cy="1664.8" r="37.8" fill="none" stroke="#D8C4AC" stroke-width="1.1" stroke-opacity="0.75"/>
<circle cx="1056.6" cy="1664.8" r="36.0" fill="none" stroke="#C8A878" stroke-width="1.4" stroke-dasharray="0.9 1.8 1.4 3.2 0.7 2.5 1.1 4" stroke-opacity="0.7"/>
<circle cx="1056.6" cy="1664.8" r="34.8" fill="none" stroke="#D0C0B0" stroke-width="0.8" stroke-opacity="0.5"/>
<circle cx="1056.6" cy="1664.8" r="34.0" fill="url(#pg70)" stroke="none" stroke-width="0"/>
<circle cx="1056.6" cy="1664.8" r="33.7" fill="none" stroke="#A8B4CC" stroke-width="1.2" stroke-opacity="0.8"/>
<circle cx="1056.6" cy="1664.8" r="31.2" fill="none" stroke="#B0B8C8" stroke-width="0.8" stroke-opacity="0.35"/>
<text x="1071.6" y="1651.3" font-size="23.5" fill="#D40808" text-anchor="middle" textLength="10.0" lengthAdjust="spacingAndGlyphs" stroke="#D40808" stroke-width="0.6">1</text>
<rect x="1100.3" y="1625.3" width="78.9" height="78.9" fill="#050505" stroke="none" stroke-width="0"/>
<linearGradient id="pg71" x1="0.15" y1="0.1" x2="0.85" y2="0.95"><stop offset="0" stop-color="#48566E"/><stop offset="0.55" stop-color="#34445E"/><stop offset="1" stop-color="#212C3D"/></linearGradient>
<circle cx="1139.8" cy="1664.8" r="38.5" fill="#5E5650" stroke="none" stroke-width="0"/>
<circle cx="1139.8" cy="1664.8" r="37.9" fill="none" stroke="#D8C4AC" stroke-width="1.1" stroke-opacity="0.75"/>
<circle cx="1139.8" cy="1664.8" r="36.1" fill="none" stroke="#C8A878" stroke-width="1.4" stroke-dasharray="0.9 1.8 1.4 3.2 0.7 2.5 1.1 4" stroke-opacity="0.7"/>
<circle cx="1139.8" cy="1664.8" r="34.9" fill="none" stroke="#D0C0B0" stroke-width="0.8" stroke-opacity="0.5"/>
<circle cx="1139.8" cy="1664.8" r="34.1" fill="url(#pg71)" stroke="none" stroke-width="0"/>
<circle cx="1139.8" cy="1664.8" r="33.8" fill="none" stroke="#A8B4CC" stroke-width="1.2" stroke-opacity="0.8"/>
<circle cx="1139.8" cy="1664.8" r="31.3" fill="none" stroke="#B0B8C8" stroke-width="0.8" stroke-opacity="0.35"/>
<text x="1154.7" y="1651.3" font-size="23.5" fill="#D40808" text-anchor="middle" textLength="10.0" lengthAdjust="spacingAndGlyphs" stroke="#D40808" stroke-width="0.6">1</text>
<rect x="1184.5" y="1625.3" width="78.5" height="78.9" fill="#050505" stroke="none" stroke-width="0"/>
<linearGradient id="pg72" x1="0.15" y1="0.1" x2="0.85" y2="0.95"><stop offset="0" stop-color="#4D515F"/><stop offset="0.55" stop-color="#3A3E4E"/><stop offset="1" stop-color="#252832"/></linearGradient>
<circle cx="1223.8" cy="1664.8" r="38.2" fill="#5E5650" stroke="none" stroke-width="0"/>
<circle cx="1223.8" cy="1664.8" r="37.6" fill="none" stroke="#D8C4AC" stroke-width="1.1" stroke-opacity="0.75"/>
<circle cx="1223.8" cy="1664.8" r="35.9" fill="none" stroke="#C8A878" stroke-width="1.4" stroke-dasharray="0.9 1.8 1.4 3.2 0.7 2.5 1.1 4" stroke-opacity="0.7"/>
<circle cx="1223.8" cy="1664.8" r="34.6" fill="none" stroke="#D0C0B0" stroke-width="0.8" stroke-opacity="0.5"/>
<circle cx="1223.8" cy="1664.8" r="33.9" fill="url(#pg72)" stroke="none" stroke-width="0"/>
<circle cx="1223.8" cy="1664.8" r="33.5" fill="none" stroke="#A8B4CC" stroke-width="1.2" stroke-opacity="0.8"/>
<circle cx="1223.8" cy="1664.8" r="31.1" fill="none" stroke="#B0B8C8" stroke-width="0.8" stroke-opacity="0.35"/>
<text x="1238.7" y="1651.3" font-size="23.5" fill="#D40808" text-anchor="middle" textLength="10.0" lengthAdjust="spacingAndGlyphs" stroke="#D40808" stroke-width="0.6">1</text>
<text x="49.9" y="1786.3" font-size="35.3" fill="#000">f</text>
<line x1="313.0" y1="1786.4" x2="313.0" y2="1969.5" stroke="#000" stroke-width="3.6" stroke-linecap="butt"/>
<line x1="313.0" y1="1980.0" x2="313.0" y2="2112.3" stroke="#000" stroke-width="3.6" stroke-linecap="butt"/>
<line x1="308.5" y1="1969.5" x2="317.5" y2="1969.5" stroke="#000" stroke-width="3.2" stroke-linecap="butt"/>
<line x1="308.5" y1="1980.0" x2="317.5" y2="1980.0" stroke="#000" stroke-width="3.2" stroke-linecap="butt"/>
<line x1="304.3" y1="1803.7" x2="313.0" y2="1803.7" stroke="#000" stroke-width="3.2" stroke-linecap="butt"/>
<line x1="304.3" y1="1886.0" x2="313.0" y2="1886.0" stroke="#000" stroke-width="3.2" stroke-linecap="butt"/>
<line x1="304.3" y1="2046.3" x2="313.0" y2="2046.3" stroke="#000" stroke-width="3.2" stroke-linecap="butt"/>
<line x1="307.3" y1="1844.8" x2="313.0" y2="1844.8" stroke="#000" stroke-width="3.2" stroke-linecap="butt"/>
<line x1="307.3" y1="1927.9" x2="313.0" y2="1927.9" stroke="#000" stroke-width="3.2" stroke-linecap="butt"/>
<line x1="307.3" y1="2011.8" x2="313.0" y2="2011.8" stroke="#000" stroke-width="3.2" stroke-linecap="butt"/>
<line x1="307.3" y1="2080.0" x2="313.0" y2="2080.0" stroke="#000" stroke-width="3.2" stroke-linecap="butt"/>
<text x="179.9" y="1813.1" font-size="31" fill="#000" textLength="113.4" lengthAdjust="spacingAndGlyphs">2.72x10</text>
<text x="296.5" y="1798.8" font-size="24" fill="#000">5</text>
<text x="180.6" y="1896.6" font-size="31" fill="#000" textLength="112.6" lengthAdjust="spacingAndGlyphs">1.44x10</text>
<text x="296.5" y="1882.7" font-size="24" fill="#000">5</text>
<text x="193.9" y="1983.0" font-size="31" fill="#000" textLength="93.6" lengthAdjust="spacingAndGlyphs">1.6x10</text>
<text x="291.5" y="1969.1" font-size="24" fill="#000">4</text>
<text x="217.0" y="2042.2" font-size="31" fill="#000" textLength="69.7" lengthAdjust="spacingAndGlyphs">8x10</text>
<text x="288.2" y="2033.2" font-size="24" fill="#000">3</text>
<text x="270.3" y="2125.3" font-size="31" fill="#000" textLength="16.4" lengthAdjust="spacingAndGlyphs">0</text>
<text transform="translate(173.6,2107.2) rotate(-90)" x="0" y="0" font-size="35.5" fill="#000" textLength="321.6" lengthAdjust="spacingAndGlyphs">CFU/g tissue weight</text>
<line x1="304.3" y1="2111.3" x2="672.5" y2="2111.3" stroke="#000" stroke-width="4" stroke-linecap="butt"/>
<line x1="312.5" y1="2111.3" x2="312.5" y2="2119.0" stroke="#000" stroke-width="3.6" stroke-linecap="butt"/>
<text x="348.6" y="2147.2" font-size="29" fill="#000" textLength="36.8" lengthAdjust="spacingAndGlyphs">12</text>
<text x="414.3" y="2147.2" font-size="29" fill="#000" textLength="35.4" lengthAdjust="spacingAndGlyphs">24</text>
<text x="478.0" y="2147.2" font-size="29" fill="#000" textLength="36.3" lengthAdjust="spacingAndGlyphs">72</text>
<text x="530.3" y="2147.2" font-size="29" fill="#000" textLength="52.7" lengthAdjust="spacingAndGlyphs">120</text>
<text x="595.7" y="2147.2" font-size="29" fill="#000" textLength="52.2" lengthAdjust="spacingAndGlyphs">360</text>
<text x="435.8" y="2179.2" font-size="29.5" fill="#000" textLength="123.4" lengthAdjust="spacingAndGlyphs">Time (h)</text>
<text x="441.2" y="1816.9" font-size="23" fill="#000" textLength="34.3" lengthAdjust="spacingAndGlyphs">EC</text>
<path d="M351.4,1883.4 L339.9,1883.4 L339.9,2092 L347,2092" fill="none" stroke="#000" stroke-width="2.2"/>
<line x1="339.9" y1="2018.0" x2="351.4" y2="2018.0" stroke="#000" stroke-width="2.2" stroke-linecap="butt"/>
<line x1="347.0" y1="2084.4" x2="347.0" y2="2099.7" stroke="#000" stroke-width="2.2" stroke-linecap="butt"/>
<text x="353.3" y="1942.6" font-size="45.8" text-anchor="middle" stroke="#000" stroke-width="1.60" transform="rotate(-90 353.3 1919.6)">*</text>
<text x="353.3" y="1962.4" font-size="45.8" text-anchor="middle" stroke="#000" stroke-width="1.60" transform="rotate(-90 353.3 1939.4)">*</text>
<text x="353.3" y="1982.3" font-size="45.8" text-anchor="middle" stroke="#000" stroke-width="1.60" transform="rotate(-90 353.3 1959.3)">*</text>
<text x="353.3" y="2060.2" font-size="45.8" text-anchor="middle" stroke="#000" stroke-width="1.60" transform="rotate(-90 353.3 2037.2)">*</text>
<text x="353.3" y="2080.0" font-size="45.8" text-anchor="middle" stroke="#000" stroke-width="1.60" transform="rotate(-90 353.3 2057.0)">*</text>
<polyline points="372.0,2101.0 432.0,2104.0 492.0,2106.5 552.0,2109.0 611.0,2110.5" fill="none" stroke="#CC00EE" stroke-width="2.2" stroke-linejoin="round"/>
<polyline points="372.0,2105.0 432.0,2106.5 492.0,2108.0 552.0,2109.5 611.0,2110.5" fill="none" stroke="#1A82FF" stroke-width="2" stroke-linejoin="round"/>
<polyline points="372.1,2027.8 382.8,2032.4 421.5,2057.8 442.9,2070.5 481.6,2084.5 501.6,2091.1 541.7,2103.1 601.7,2111.0" fill="none" stroke="#008000" stroke-width="2.6" stroke-linejoin="round"/>
<polyline points="372.1,1872.7 380.1,1881.5 432.2,1936.3 438.9,1939.7 492.3,1953.6 498.9,1957.6 502.0,1966.0" fill="none" stroke="#FF4040" stroke-width="2.6" stroke-linejoin="round"/>
<polyline points="505.0,1975.0 551.0,2089.8 557.7,2101.8 611.0,2110.5" fill="none" stroke="#FF4040" stroke-width="2.6" stroke-linejoin="round"/>
<line x1="503.5" y1="1968.5" x2="509.6" y2="1988.3" stroke="#FF4040" stroke-width="3.4" stroke-linecap="butt"/>
<path d="M372.0,1838.2 L377.5,1847.8 L366.5,1847.8 Z" fill="#FF4040"/>
<path d="M380.0,1876.8 L385.5,1886.2 L374.5,1886.2 Z" fill="#FF4040"/>
<path d="M372.0,1890.2 L377.5,1899.8 L366.5,1899.8 Z" fill="#FF4040"/>
<path d="M432.0,1924.2 L437.5,1933.8 L426.5,1933.8 Z" fill="#FF4040"/>
<path d="M432.0,1941.2 L437.5,1950.8 L426.5,1950.8 Z" fill="#FF4040"/>
<path d="M439.0,1935.2 L444.5,1944.8 L433.5,1944.8 Z" fill="#FF4040"/>
<path d="M492.0,1941.2 L497.5,1950.8 L486.5,1950.8 Z" fill="#FF4040"/>
<path d="M492.0,1958.2 L497.5,1967.8 L486.5,1967.8 Z" fill="#FF4040"/>
<path d="M499.0,1952.2 L504.5,1961.8 L493.5,1961.8 Z" fill="#FF4040"/>
<path d="M551.0,2082.2 L556.5,2091.8 L545.5,2091.8 Z" fill="#FF4040"/>
<path d="M558.0,2095.2 L563.5,2104.8 L552.5,2104.8 Z" fill="#FF4040"/>
<path d="M373.4,2004.8 L380.4,2017.2 L366.4,2017.2 Z" fill="#008000"/>
<path d="M373.4,2035.5 L380.4,2048.0 L366.4,2048.0 Z" fill="#008000"/>
<path d="M382.8,2024.8 L389.8,2037.2 L375.8,2037.2 Z" fill="#008000"/>
<path d="M421.5,2051.6 L428.5,2064.1 L414.5,2064.1 Z" fill="#008000"/>
<path d="M430.8,2066.2 L437.8,2078.7 L423.8,2078.7 Z" fill="#008000"/>
<path d="M442.9,2063.6 L449.9,2076.1 L435.9,2076.1 Z" fill="#008000"/>
<path d="M481.6,2078.2 L488.6,2090.8 L474.6,2090.8 Z" fill="#008000"/>
<path d="M492.3,2092.8 L499.3,2105.3 L485.3,2105.3 Z" fill="#008000"/>
<path d="M501.6,2083.6 L508.6,2096.1 L494.6,2096.1 Z" fill="#008000"/>
<path d="M541.7,2095.6 L548.7,2108.1 L534.7,2108.1 Z" fill="#008000"/>
<path d="M372.0,2094.5 L377.0,2103.5 L367.0,2103.5 Z" fill="#CC00EE"/>
<path d="M382.8,2093.5 L387.8,2102.5 L377.8,2102.5 Z" fill="#CC00EE"/>
<path d="M432.0,2096.5 L437.0,2105.5 L427.0,2105.5 Z" fill="#CC00EE"/>
<path d="M442.9,2096.5 L447.9,2105.5 L437.9,2105.5 Z" fill="#CC00EE"/>
<path d="M492.0,2099.5 L497.0,2108.5 L487.0,2108.5 Z" fill="#CC00EE"/>
<line x1="372.1" y1="2111.0" x2="372.1" y2="2120.5" stroke="#000" stroke-width="3" stroke-linecap="butt"/>
<line x1="431.2" y1="2111.0" x2="431.2" y2="2120.5" stroke="#000" stroke-width="3" stroke-linecap="butt"/>
<line x1="491.3" y1="2111.0" x2="491.3" y2="2120.5" stroke="#000" stroke-width="3" stroke-linecap="butt"/>
<line x1="551.4" y1="2111.0" x2="551.4" y2="2120.5" stroke="#000" stroke-width="3" stroke-linecap="butt"/>
<line x1="611.5" y1="2111.0" x2="611.5" y2="2120.5" stroke="#000" stroke-width="3" stroke-linecap="butt"/>
<path d="M361.4,2107.0 L368.4,2118.0 L354.4,2118.0 Z" fill="#0000CC"/>
<path d="M372.1,2107.0 L379.1,2118.0 L365.1,2118.0 Z" fill="#0000CC"/>
<path d="M382.8,2107.0 L389.8,2118.0 L375.8,2118.0 Z" fill="#0000CC"/>
<path d="M421.5,2107.0 L428.5,2118.0 L414.5,2118.0 Z" fill="#0000CC"/>
<path d="M432.2,2107.0 L439.2,2118.0 L425.2,2118.0 Z" fill="#0000CC"/>
<path d="M442.9,2107.0 L449.9,2118.0 L435.9,2118.0 Z" fill="#0000CC"/>
<path d="M481.6,2107.0 L488.6,2118.0 L474.6,2118.0 Z" fill="#0000CC"/>
<path d="M492.3,2107.0 L499.3,2118.0 L485.3,2118.0 Z" fill="#0000CC"/>
<path d="M501.6,2107.0 L508.6,2118.0 L494.6,2118.0 Z" fill="#0000CC"/>
<path d="M541.7,2107.0 L548.7,2118.0 L534.7,2118.0 Z" fill="#0000CC"/>
<path d="M551.6,2107.0 L558.6,2118.0 L544.6,2118.0 Z" fill="#0000CC"/>
<path d="M562.3,2107.0 L569.3,2118.0 L555.3,2118.0 Z" fill="#0000CC"/>
<path d="M601.2,2107.0 L608.2,2118.0 L594.2,2118.0 Z" fill="#0000CC"/>
<path d="M611.1,2107.0 L618.1,2118.0 L604.1,2118.0 Z" fill="#0000CC"/>
<path d="M621.8,2107.0 L628.8,2118.0 L614.8,2118.0 Z" fill="#0000CC"/>
<path d="M372.1,2103.5 L378.9,2116.5 L365.4,2116.5 Z" fill="#1A82FF"/>
<path d="M382.8,2103.5 L389.6,2116.5 L376.1,2116.5 Z" fill="#1A82FF"/>
<path d="M421.5,2103.5 L428.2,2116.5 L414.8,2116.5 Z" fill="#1A82FF"/>
<path d="M432.2,2103.5 L438.9,2116.5 L425.4,2116.5 Z" fill="#1A82FF"/>
<path d="M442.9,2103.5 L449.6,2116.5 L436.1,2116.5 Z" fill="#1A82FF"/>
<path d="M481.6,2103.5 L488.4,2116.5 L474.9,2116.5 Z" fill="#1A82FF"/>
<path d="M492.3,2103.5 L499.1,2116.5 L485.6,2116.5 Z" fill="#1A82FF"/>
<path d="M501.6,2103.5 L508.4,2116.5 L494.9,2116.5 Z" fill="#1A82FF"/>
<path d="M541.7,2103.5 L548.5,2116.5 L535.0,2116.5 Z" fill="#1A82FF"/>
<path d="M551.6,2103.5 L558.4,2116.5 L544.9,2116.5 Z" fill="#1A82FF"/>
<path d="M562.3,2103.5 L569.0,2116.5 L555.5,2116.5 Z" fill="#1A82FF"/>
<path d="M601.2,2103.5 L608.0,2116.5 L594.5,2116.5 Z" fill="#1A82FF"/>
<path d="M611.1,2103.5 L617.9,2116.5 L604.4,2116.5 Z" fill="#1A82FF"/>
<path d="M621.8,2103.5 L628.5,2116.5 L615.0,2116.5 Z" fill="#1A82FF"/>
<path d="M361.4,2094.8 L368.1,2107.2 L354.6,2107.2 Z" fill="#1A82FF"/>
<line x1="589.9" y1="1841.9" x2="608.0" y2="1841.9" stroke="#1A82FF" stroke-width="2.2" stroke-linecap="butt"/>
<path d="M598.7,1834.7 L604.5,1848.2 L592.9,1848.2 Z" fill="#1A82FF"/>
<text x="618.7" y="1855.4" font-size="32.5" fill="#000" textLength="37.4" lengthAdjust="spacingAndGlyphs">He</text>
<line x1="589.9" y1="1869.4" x2="608.0" y2="1869.4" stroke="#FF4040" stroke-width="2.2" stroke-linecap="butt"/>
<path d="M598.7,1863.8 L604.2,1874.1 L593.2,1874.1 Z" fill="#FF4040"/>
<text x="621.5" y="1883.8" font-size="32.5" fill="#000" textLength="26.0" lengthAdjust="spacingAndGlyphs">Li</text>
<line x1="589.9" y1="1897.4" x2="608.0" y2="1897.4" stroke="#CC00EE" stroke-width="2.2" stroke-linecap="butt"/>
<path d="M598.7,1889.9 L605.7,1903.9 L591.7,1903.9 Z" fill="#CC00EE"/>
<text x="618.7" y="1912.2" font-size="32.5" fill="#000" textLength="37.4" lengthAdjust="spacingAndGlyphs">Sp</text>
<line x1="589.9" y1="1928.6" x2="608.0" y2="1928.6" stroke="#FF8000" stroke-width="2.2" stroke-linecap="butt"/>
<path d="M598.7,1921.3 L605.7,1934.9 L591.7,1934.9 Z" fill="#FF8000"/>
<text x="618.7" y="1942.2" font-size="32.5" fill="#000" textLength="35.7" lengthAdjust="spacingAndGlyphs">Lu</text>
<line x1="589.9" y1="1960.3" x2="608.0" y2="1960.3" stroke="#008000" stroke-width="2.2" stroke-linecap="butt"/>
<path d="M598.7,1952.8 L605.7,1966.8 L591.7,1966.8 Z" fill="#008000"/>
<text x="618.7" y="1973.4" font-size="32.5" fill="#000" textLength="29.2" lengthAdjust="spacingAndGlyphs">Ki</text>
<line x1="589.9" y1="1990.7" x2="608.0" y2="1990.7" stroke="#0000CC" stroke-width="2.2" stroke-linecap="butt"/>
<path d="M598.7,1983.4 L605.7,1997.0 L591.7,1997.0 Z" fill="#0000CC"/>
<text x="618.7" y="2002.6" font-size="32.5" fill="#000" textLength="32.5" lengthAdjust="spacingAndGlyphs">Br</text>
<text x="809.3" y="1792.0" font-size="35.8" fill="#000">g</text>
<line x1="1009.4" y1="1786.4" x2="1009.4" y2="1958.3" stroke="#000" stroke-width="3.6" stroke-linecap="butt"/>
<line x1="1009.4" y1="1971.0" x2="1009.4" y2="2091.7" stroke="#000" stroke-width="3.6" stroke-linecap="butt"/>
<line x1="1004.9" y1="1958.3" x2="1013.9" y2="1958.3" stroke="#000" stroke-width="3.2" stroke-linecap="butt"/>
<line x1="1004.9" y1="1971.0" x2="1013.9" y2="1971.0" stroke="#000" stroke-width="3.2" stroke-linecap="butt"/>
<line x1="1000.4" y1="1805.4" x2="1009.4" y2="1805.4" stroke="#000" stroke-width="3.2" stroke-linecap="butt"/>
<line x1="1000.4" y1="1882.7" x2="1009.4" y2="1882.7" stroke="#000" stroke-width="3.2" stroke-linecap="butt"/>
<line x1="1000.4" y1="2029.9" x2="1009.4" y2="2029.9" stroke="#000" stroke-width="3.2" stroke-linecap="butt"/>
<line x1="1003.4" y1="1844.0" x2="1009.4" y2="1844.0" stroke="#000" stroke-width="3.2" stroke-linecap="butt"/>
<line x1="1003.4" y1="1919.7" x2="1009.4" y2="1919.7" stroke="#000" stroke-width="3.2" stroke-linecap="butt"/>
<line x1="1003.4" y1="2001.6" x2="1009.4" y2="2001.6" stroke="#000" stroke-width="3.2" stroke-linecap="butt"/>
<line x1="1003.4" y1="2058.7" x2="1009.4" y2="2058.7" stroke="#000" stroke-width="3.2" stroke-linecap="butt"/>
<text x="880.9" y="1814.4" font-size="30" fill="#000" textLength="109.1" lengthAdjust="spacingAndGlyphs">2.72x10</text>
<text x="990.5" y="1800.2" font-size="20" fill="#000">5</text>
<text x="880.9" y="1891.7" font-size="30" fill="#000" textLength="109.1" lengthAdjust="spacingAndGlyphs">1.44x10</text>
<text x="990.5" y="1879.2" font-size="20" fill="#000">5</text>
<text x="893.2" y="1969.8" font-size="30" fill="#000" textLength="91.1" lengthAdjust="spacingAndGlyphs">1.6x10</text>
<text x="985.0" y="1961.4" font-size="20" fill="#000">4</text>
<text x="911.4" y="2038.9" font-size="30" fill="#000" textLength="67.1" lengthAdjust="spacingAndGlyphs">8x10</text>
<text x="979.5" y="2030.5" font-size="20" fill="#000">3</text>
<text x="945.7" y="2103.0" font-size="30" fill="#000" textLength="17.3" lengthAdjust="spacingAndGlyphs">0</text>
<text transform="translate(876.2,2100.6) rotate(-90)" x="0" y="0" font-size="32.3" fill="#000" textLength="310.0" lengthAdjust="spacingAndGlyphs">CFU/g tissue weight</text>
<line x1="1000.4" y1="2090.7" x2="1339.5" y2="2090.7" stroke="#000" stroke-width="4" stroke-linecap="butt"/>
<line x1="1009.6" y1="2090.7" x2="1009.6" y2="2099.8" stroke="#000" stroke-width="3.6" stroke-linecap="butt"/>
<line x1="1064.0" y1="2090.7" x2="1064.0" y2="2098.6" stroke="#000" stroke-width="3.4" stroke-linecap="butt"/>
<line x1="1117.8" y1="2090.7" x2="1117.8" y2="2098.6" stroke="#000" stroke-width="3.4" stroke-linecap="butt"/>
<line x1="1172.7" y1="2090.7" x2="1172.7" y2="2098.6" stroke="#000" stroke-width="3.4" stroke-linecap="butt"/>
<line x1="1227.6" y1="2090.7" x2="1227.6" y2="2098.6" stroke="#000" stroke-width="3.4" stroke-linecap="butt"/>
<line x1="1282.5" y1="2090.7" x2="1282.5" y2="2098.6" stroke="#000" stroke-width="3.4" stroke-linecap="butt"/>
<line x1="1338.0" y1="2090.7" x2="1338.0" y2="2098.6" stroke="#000" stroke-width="3.4" stroke-linecap="butt"/>
<text x="1040.0" y="2129.0" font-size="27" fill="#000" textLength="32.2" lengthAdjust="spacingAndGlyphs">12</text>
<text x="1099.2" y="2129.0" font-size="27" fill="#000" textLength="32.8" lengthAdjust="spacingAndGlyphs">24</text>
<text x="1158.5" y="2129.0" font-size="27" fill="#000" textLength="32.9" lengthAdjust="spacingAndGlyphs">72</text>
<text x="1203.5" y="2129.0" font-size="27" fill="#000" textLength="49.1" lengthAdjust="spacingAndGlyphs">120</text>
<text x="1261.9" y="2129.0" font-size="27" fill="#000" textLength="50.6" lengthAdjust="spacingAndGlyphs">360</text>
<text x="1116.3" y="2158.2" font-size="27" fill="#000" textLength="117.4" lengthAdjust="spacingAndGlyphs">Time (h)</text>
<text x="1133.9" y="1835.8" font-size="22.5" fill="#000" textLength="50.1" lengthAdjust="spacingAndGlyphs">VNP</text>
<path d="M1048,1872 L1036.5,1872 L1036.5,2080 L1045.3,2080" fill="none" stroke="#000" stroke-width="2.2"/>
<line x1="1036.5" y1="2006.8" x2="1048.0" y2="2006.8" stroke="#000" stroke-width="2.2" stroke-linecap="butt"/>
<line x1="1045.3" y1="2073.0" x2="1045.3" y2="2088.0" stroke="#000" stroke-width="2.2" stroke-linecap="butt"/>
<text x="1048.3" y="1924.8" font-size="40.4" text-anchor="middle" stroke="#000" stroke-width="1.42" transform="rotate(-90 1048.3 1904.5)">*</text>
<text x="1048.3" y="1945.9" font-size="40.4" text-anchor="middle" stroke="#000" stroke-width="1.42" transform="rotate(-90 1048.3 1925.6)">*</text>
<text x="1048.3" y="1967.0" font-size="40.4" text-anchor="middle" stroke="#000" stroke-width="1.42" transform="rotate(-90 1048.3 1946.7)">*</text>
<text x="1048.3" y="2042.5" font-size="40.4" text-anchor="middle" stroke="#000" stroke-width="1.42" transform="rotate(-90 1048.3 2022.2)">*</text>
<text x="1048.3" y="2062.6" font-size="40.4" text-anchor="middle" stroke="#000" stroke-width="1.42" transform="rotate(-90 1048.3 2042.3)">*</text>
<polyline points="1064.0,2083.0 1117.8,2085.0 1172.7,2087.0 1227.6,2089.0 1282.5,2090.0" fill="none" stroke="#CC00EE" stroke-width="2.2" stroke-linejoin="round"/>
<polyline points="1064.0,2087.0 1117.8,2088.0 1172.7,2089.0 1227.6,2090.0 1282.5,2090.5" fill="none" stroke="#1A82FF" stroke-width="2" stroke-linejoin="round"/>
<polyline points="1064.0,2009.9 1072.2,2015.7 1109.6,2036.7 1127.1,2043.7 1172.7,2068.3 1182.0,2071.8 1227.6,2082.3 1282.5,2090.0" fill="none" stroke="#008000" stroke-width="2.2" stroke-linejoin="round"/>
<polyline points="1064.0,1881.4 1072.2,1889.5 1117.8,1917.6 1127.1,1923.4 1156.3,1946.8 1172.7,1953.8 1183.2,1973.6 1227.6,2082.3 1235.7,2083.0 1274.3,2090.0" fill="none" stroke="#FF4040" stroke-width="2.6" stroke-linejoin="round"/>
<path d="M1064.0,1855.5 L1069.5,1865.0 L1058.5,1865.0 Z" fill="#FF4040"/>
<path d="M1064.0,1890.7 L1069.5,1900.2 L1058.5,1900.2 Z" fill="#FF4040"/>
<path d="M1072.2,1884.8 L1077.7,1894.2 L1066.7,1894.2 Z" fill="#FF4040"/>
<path d="M1117.8,1907.0 L1123.3,1916.5 L1112.3,1916.5 Z" fill="#FF4040"/>
<path d="M1117.8,1925.7 L1123.3,1935.2 L1112.3,1935.2 Z" fill="#FF4040"/>
<path d="M1127.1,1918.7 L1132.6,1928.2 L1121.6,1928.2 Z" fill="#FF4040"/>
<path d="M1156.3,1942.0 L1161.8,1951.5 L1150.8,1951.5 Z" fill="#FF4040"/>
<path d="M1172.7,1949.0 L1178.2,1958.5 L1167.2,1958.5 Z" fill="#FF4040"/>
<path d="M1172.7,1984.0 L1178.2,1993.5 L1167.2,1993.5 Z" fill="#FF4040"/>
<path d="M1219.4,2074.1 L1224.9,2083.6 L1213.9,2083.6 Z" fill="#FF4040"/>
<path d="M1235.7,2078.8 L1241.2,2088.2 L1230.2,2088.2 Z" fill="#FF4040"/>
<path d="M1064.0,1986.2 L1069.5,1996.2 L1058.5,1996.2 Z" fill="#008000"/>
<path d="M1064.0,2018.9 L1069.5,2028.9 L1058.5,2028.9 Z" fill="#008000"/>
<path d="M1072.2,2010.7 L1077.7,2020.7 L1066.7,2020.7 Z" fill="#008000"/>
<path d="M1109.6,2031.7 L1115.1,2041.7 L1104.1,2041.7 Z" fill="#008000"/>
<path d="M1118.9,2046.9 L1124.4,2056.9 L1113.4,2056.9 Z" fill="#008000"/>
<path d="M1127.1,2037.6 L1132.6,2047.6 L1121.6,2047.6 Z" fill="#008000"/>
<path d="M1172.7,2056.3 L1178.2,2066.3 L1167.2,2066.3 Z" fill="#008000"/>
<path d="M1172.7,2072.6 L1178.2,2082.6 L1167.2,2082.6 Z" fill="#008000"/>
<path d="M1182.0,2066.8 L1187.5,2076.8 L1176.5,2076.8 Z" fill="#008000"/>
<path d="M1055.0,2075.5 L1059.5,2084.5 L1050.5,2084.5 Z" fill="#CC00EE"/>
<path d="M1064.0,2077.5 L1068.5,2086.5 L1059.5,2086.5 Z" fill="#CC00EE"/>
<path d="M1072.2,2076.5 L1076.7,2085.5 L1067.7,2085.5 Z" fill="#CC00EE"/>
<path d="M1109.6,2078.5 L1114.1,2087.5 L1105.1,2087.5 Z" fill="#CC00EE"/>
<path d="M1118.9,2078.5 L1123.4,2087.5 L1114.4,2087.5 Z" fill="#CC00EE"/>
<path d="M1127.1,2078.5 L1131.6,2087.5 L1122.6,2087.5 Z" fill="#CC00EE"/>
<path d="M1055.0,2086.5 L1060.8,2095.5 L1049.2,2095.5 Z" fill="#0000CC"/>
<path d="M1064.0,2086.5 L1069.8,2095.5 L1058.2,2095.5 Z" fill="#0000CC"/>
<path d="M1072.2,2086.5 L1078.0,2095.5 L1066.5,2095.5 Z" fill="#0000CC"/>
<path d="M1055.0,2083.5 L1060.5,2094.5 L1049.5,2094.5 Z" fill="#1A82FF"/>
<path d="M1064.0,2083.5 L1069.5,2094.5 L1058.5,2094.5 Z" fill="#1A82FF"/>
<path d="M1072.2,2083.5 L1077.7,2094.5 L1066.7,2094.5 Z" fill="#1A82FF"/>
<path d="M1109.6,2086.5 L1115.3,2095.5 L1103.8,2095.5 Z" fill="#0000CC"/>
<path d="M1117.8,2086.5 L1123.5,2095.5 L1112.0,2095.5 Z" fill="#0000CC"/>
<path d="M1127.1,2086.5 L1132.8,2095.5 L1121.3,2095.5 Z" fill="#0000CC"/>
<path d="M1109.6,2083.5 L1115.1,2094.5 L1104.1,2094.5 Z" fill="#1A82FF"/>
<path d="M1117.8,2083.5 L1123.3,2094.5 L1112.3,2094.5 Z" fill="#1A82FF"/>
<path d="M1127.1,2083.5 L1132.6,2094.5 L1121.6,2094.5 Z" fill="#1A82FF"/>
<path d="M1164.0,2086.5 L1169.8,2095.5 L1158.2,2095.5 Z" fill="#0000CC"/>
<path d="M1172.7,2086.5 L1178.5,2095.5 L1167.0,2095.5 Z" fill="#0000CC"/>
<path d="M1182.0,2086.5 L1187.8,2095.5 L1176.2,2095.5 Z" fill="#0000CC"/>
<path d="M1164.0,2083.5 L1169.5,2094.5 L1158.5,2094.5 Z" fill="#1A82FF"/>
<path d="M1172.7,2083.5 L1178.2,2094.5 L1167.2,2094.5 Z" fill="#1A82FF"/>
<path d="M1182.0,2083.5 L1187.5,2094.5 L1176.5,2094.5 Z" fill="#1A82FF"/>
<path d="M1219.4,2086.5 L1225.2,2095.5 L1213.7,2095.5 Z" fill="#0000CC"/>
<path d="M1227.6,2086.5 L1233.3,2095.5 L1221.8,2095.5 Z" fill="#0000CC"/>
<path d="M1235.7,2086.5 L1241.5,2095.5 L1230.0,2095.5 Z" fill="#0000CC"/>
<path d="M1219.4,2083.5 L1224.9,2094.5 L1213.9,2094.5 Z" fill="#1A82FF"/>
<path d="M1227.6,2083.5 L1233.1,2094.5 L1222.1,2094.5 Z" fill="#1A82FF"/>
<path d="M1235.7,2083.5 L1241.2,2094.5 L1230.2,2094.5 Z" fill="#1A82FF"/>
<path d="M1274.3,2086.5 L1280.0,2095.5 L1268.5,2095.5 Z" fill="#0000CC"/>
<path d="M1282.5,2086.5 L1288.2,2095.5 L1276.8,2095.5 Z" fill="#0000CC"/>
<path d="M1291.0,2086.5 L1296.8,2095.5 L1285.2,2095.5 Z" fill="#0000CC"/>
<path d="M1274.3,2083.5 L1279.8,2094.5 L1268.8,2094.5 Z" fill="#1A82FF"/>
<path d="M1282.5,2083.5 L1288.0,2094.5 L1277.0,2094.5 Z" fill="#1A82FF"/>
<path d="M1291.0,2083.5 L1296.5,2094.5 L1285.5,2094.5 Z" fill="#1A82FF"/>
<line x1="1267.3" y1="1837.0" x2="1286.0" y2="1837.0" stroke="#1A82FF" stroke-width="2.2" stroke-linecap="butt"/>
<path d="M1276.6,1831.2 L1282.1,1841.8 L1271.1,1841.8 Z" fill="#1A82FF"/>
<text x="1287.1" y="1846.3" font-size="29.5" fill="#000" textLength="35.1" lengthAdjust="spacingAndGlyphs">He</text>
<line x1="1267.3" y1="1868.0" x2="1286.0" y2="1868.0" stroke="#FF4040" stroke-width="2.2" stroke-linecap="butt"/>
<path d="M1276.6,1862.2 L1282.1,1872.8 L1271.1,1872.8 Z" fill="#FF4040"/>
<text x="1290.0" y="1877.3" font-size="29.5" fill="#000" textLength="24.4" lengthAdjust="spacingAndGlyphs">Li</text>
<line x1="1267.3" y1="1900.0" x2="1286.0" y2="1900.0" stroke="#CC00EE" stroke-width="2.2" stroke-linecap="butt"/>
<path d="M1276.6,1894.2 L1282.1,1904.8 L1271.1,1904.8 Z" fill="#CC00EE"/>
<text x="1287.1" y="1909.3" font-size="29.5" fill="#000" textLength="35.1" lengthAdjust="spacingAndGlyphs">Sp</text>
<line x1="1267.3" y1="1928.8" x2="1286.0" y2="1928.8" stroke="#FF8000" stroke-width="2.2" stroke-linecap="butt"/>
<path d="M1276.6,1923.0 L1282.1,1933.5 L1271.1,1933.5 Z" fill="#FF8000"/>
<text x="1287.1" y="1938.1" font-size="29.5" fill="#000" textLength="33.5" lengthAdjust="spacingAndGlyphs">Lu</text>
<line x1="1267.3" y1="1957.3" x2="1286.0" y2="1957.3" stroke="#008000" stroke-width="2.2" stroke-linecap="butt"/>
<path d="M1276.6,1951.5 L1282.1,1962.0 L1271.1,1962.0 Z" fill="#008000"/>
<text x="1290.0" y="1966.6" font-size="29.5" fill="#000" textLength="27.4" lengthAdjust="spacingAndGlyphs">Ki</text>
<line x1="1267.3" y1="1987.7" x2="1286.0" y2="1987.7" stroke="#0000CC" stroke-width="2.2" stroke-linecap="butt"/>
<path d="M1276.6,1982.0 L1282.1,1992.5 L1271.1,1992.5 Z" fill="#0000CC"/>
<text x="1290.0" y="1997.0" font-size="29.5" fill="#000" textLength="30.5" lengthAdjust="spacingAndGlyphs">Br</text>
</svg>
</body></html>
